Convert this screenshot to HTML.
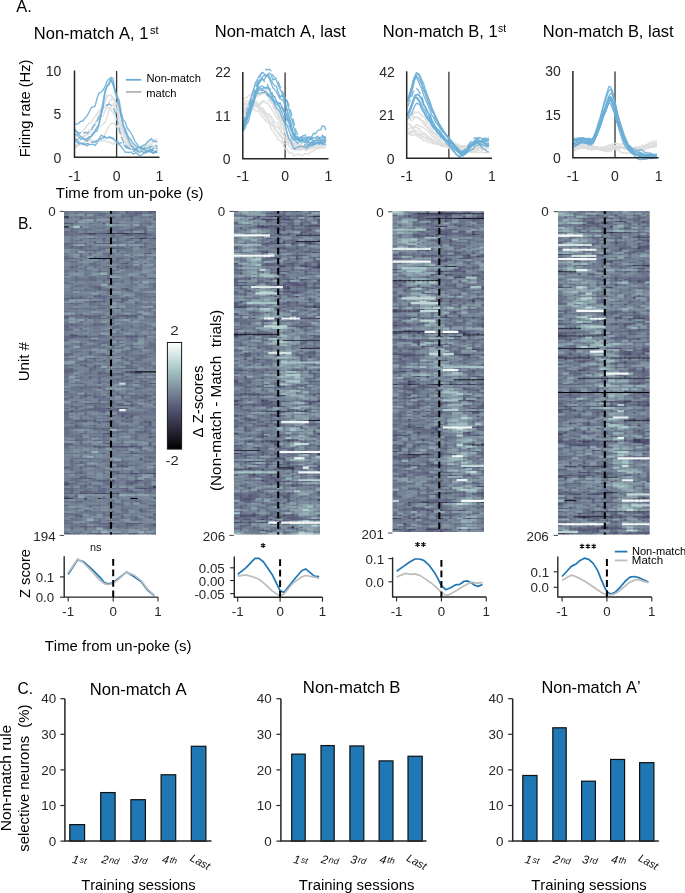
<!DOCTYPE html>
<html><head><meta charset="utf-8"><style>
html,body{margin:0;padding:0;background:#fff;overflow:hidden;}
svg{display:block;font-family:"Liberation Sans",sans-serif;font-kerning:none;will-change:transform;}
</style></head><body>
<svg width="685" height="893" viewBox="0 0 685 893">
<text transform="translate(16.17 11.60) scale(0.9964 1)" font-size="16.50" fill="#000">A.</text>
<text transform="translate(33.84 39.10) scale(1.0073 1)" font-size="16.40" fill="#000">Non-match A, 1</text>
<text transform="translate(150.09 33.80) scale(1.0515 1)" font-size="10.50" fill="#000">st</text>
<text transform="translate(214.74 36.80) scale(1.0080 1)" font-size="16.40" fill="#000">Non-match A, last</text>
<text transform="translate(382.84 37.00) scale(1.0090 1)" font-size="16.40" fill="#000">Non-match B, 1</text>
<text transform="translate(498.02 31.90) scale(0.9746 1)" font-size="10.50" fill="#000">st</text>
<text transform="translate(542.85 37.30) scale(1.0041 1)" font-size="16.40" fill="#000">Non-match B, last</text>
<text transform="translate(29.70 157.20) rotate(-90) scale(1.0310 1)" font-size="14.20" fill="#000">Firing rate (Hz)</text>
<text transform="translate(55.86 197.80) scale(1.0588 1)" font-size="14.20" fill="#000">Time from un-poke (s)</text>
<text transform="translate(45.77 75.89)" font-size="14.00" fill="#262626">10</text>
<text transform="translate(53.60 119.22)" font-size="14.00" fill="#262626">5</text>
<text transform="translate(53.56 162.69)" font-size="14.00" fill="#262626">0</text>
<text x="68.28" y="180.60" font-size="14.00" fill="#262626">-1</text>
<text x="112.71" y="180.60" font-size="14.00" fill="#262626">0</text>
<text x="155.61" y="180.60" font-size="14.00" fill="#262626">1</text>
<text transform="translate(215.13 77.29)" font-size="14.00" fill="#262626">22</text>
<text transform="translate(215.11 120.62)" font-size="14.00" fill="#262626">11</text>
<text transform="translate(222.76 164.09)" font-size="14.00" fill="#262626">0</text>
<text x="236.58" y="180.60" font-size="14.00" fill="#262626">-1</text>
<text x="281.21" y="180.60" font-size="14.00" fill="#262626">0</text>
<text x="324.61" y="180.60" font-size="14.00" fill="#262626">1</text>
<text transform="translate(379.13 76.59)" font-size="14.00" fill="#262626">42</text>
<text transform="translate(379.11 120.14)" font-size="14.00" fill="#262626">21</text>
<text transform="translate(386.76 163.69)" font-size="14.00" fill="#262626">0</text>
<text x="400.48" y="180.60" font-size="14.00" fill="#262626">-1</text>
<text x="445.01" y="180.60" font-size="14.00" fill="#262626">0</text>
<text x="488.11" y="180.60" font-size="14.00" fill="#262626">1</text>
<text transform="translate(545.17 76.39)" font-size="14.00" fill="#262626">30</text>
<text transform="translate(545.22 119.72)" font-size="14.00" fill="#262626">15</text>
<text transform="translate(552.96 163.19)" font-size="14.00" fill="#262626">0</text>
<text x="566.68" y="180.60" font-size="14.00" fill="#262626">-1</text>
<text x="611.11" y="180.60" font-size="14.00" fill="#262626">0</text>
<text x="654.71" y="180.60" font-size="14.00" fill="#262626">1</text>
<line x1="125.9" y1="79.8" x2="141.3" y2="79.8" stroke="#6baed6" stroke-width="1.8"/>
<line x1="125.9" y1="91.9" x2="141.3" y2="91.9" stroke="#b3b3b3" stroke-width="1.8"/>
<text transform="translate(146.39 81.80) scale(1.0231 1)" font-size="10.90" fill="#000">Non-match</text>
<text transform="translate(146.16 96.60) scale(1.0230 1)" font-size="10.90" fill="#000">match</text>
<line x1="116.6" y1="71.0" x2="116.6" y2="157.3" stroke="#333" stroke-width="1.3"/>
<line x1="285.1" y1="72.4" x2="285.1" y2="158.7" stroke="#333" stroke-width="1.3"/>
<line x1="448.9" y1="71.7" x2="448.9" y2="158.3" stroke="#333" stroke-width="1.3"/>
<line x1="615.0" y1="71.5" x2="615.0" y2="157.8" stroke="#333" stroke-width="1.3"/>
<path d="M74.85 139.90 76.87 139.53 78.88 138.43 80.89 137.30 82.91 137.04 84.92 135.46 86.93 134.72 88.94 134.18 90.96 130.86 92.97 126.73 94.98 123.63 97.00 119.49 99.01 115.26 101.02 110.37 103.03 107.09 105.05 102.50 107.06 95.43 109.07 95.67 111.08 95.14 113.10 99.30 115.11 103.54 117.12 110.92 119.14 116.77 121.15 124.36 123.16 130.30 125.17 136.05 127.19 138.44 129.20 144.12 131.21 148.36 133.23 150.51 135.24 151.16 137.25 152.69 139.26 150.26 141.28 148.39 143.29 147.93 145.30 144.37 147.31 143.00 149.33 142.70 151.34 140.61 153.35 140.14 155.37 139.46 157.38 138.56" fill="none" stroke="#dedede" stroke-width="1.50" stroke-linejoin="round" stroke-opacity="0.90"/>
<path d="M74.85 144.42 76.87 144.89 78.88 145.34 80.89 142.30 82.91 143.68 84.92 141.93 86.93 139.69 88.94 140.28 90.96 137.54 92.97 133.09 94.98 131.34 97.00 128.94 99.01 126.50 101.02 126.01 103.03 124.18 105.05 122.69 107.06 117.29 109.07 109.81 111.08 107.19 113.10 103.69 115.11 108.87 117.12 112.48 119.14 119.66 121.15 126.69 123.16 132.22 125.17 136.85 127.19 139.22 129.20 143.15 131.21 146.76 133.23 146.98 135.24 150.60 137.25 150.57 139.26 151.36 141.28 150.55 143.29 149.37 145.30 148.76 147.31 148.25 149.33 149.13 151.34 146.90 153.35 146.40 155.37 146.34 157.38 145.34" fill="none" stroke="#dedede" stroke-width="1.50" stroke-linejoin="round" stroke-opacity="0.90"/>
<path d="M74.85 148.05 76.87 145.74 78.88 145.11 80.89 143.20 82.91 142.99 84.92 141.65 86.93 140.75 88.94 140.99 90.96 139.82 92.97 140.90 94.98 140.36 97.00 141.18 99.01 139.96 101.02 141.66 103.03 140.30 105.05 140.34 107.06 142.12 109.07 141.92 111.08 142.81 113.10 144.54 115.11 141.98 117.12 142.69 119.14 144.19 121.15 145.23 123.16 145.53 125.17 146.51 127.19 148.27 129.20 149.12 131.21 148.71 133.23 149.17 135.24 148.93 137.25 147.69 139.26 148.45 141.28 146.86 143.29 147.71 145.30 146.39 147.31 145.64 149.33 144.48 151.34 144.30 153.35 142.16 155.37 142.30 157.38 142.97" fill="none" stroke="#dedede" stroke-width="1.50" stroke-linejoin="round" stroke-opacity="0.90"/>
<path d="M74.85 140.90 76.87 141.95 78.88 138.38 80.89 139.04 82.91 136.28 84.92 136.21 86.93 134.07 88.94 130.00 90.96 129.64 92.97 127.11 94.98 123.18 97.00 120.99 99.01 119.08 101.02 116.39 103.03 116.10 105.05 110.96 107.06 107.34 109.07 102.70 111.08 99.68 113.10 97.12 115.11 100.13 117.12 104.99 119.14 111.96 121.15 117.21 123.16 122.66 125.17 129.00 127.19 133.48 129.20 138.38 131.21 142.49 133.23 145.66 135.24 145.91 137.25 147.54 139.26 150.73 141.28 149.95 143.29 149.90 145.30 150.69 147.31 151.22 149.33 148.47 151.34 149.14 153.35 148.42 155.37 147.12 157.38 148.83" fill="none" stroke="#dedede" stroke-width="1.50" stroke-linejoin="round" stroke-opacity="0.90"/>
<path d="M74.85 137.10 76.87 135.63 78.88 133.40 80.89 132.86 82.91 130.48 84.92 128.84 86.93 125.69 88.94 123.26 90.96 123.03 92.97 118.97 94.98 116.81 97.00 113.73 99.01 110.57 101.02 109.21 103.03 108.95 105.05 106.97 107.06 106.98 109.07 108.13 111.08 110.10 113.10 112.93 115.11 116.70 117.12 119.94 119.14 124.28 121.15 131.25 123.16 135.88 125.17 138.18 127.19 141.97 129.20 145.39 131.21 147.18 133.23 148.60 135.24 148.80 137.25 151.78 139.26 149.58 141.28 150.76 143.29 149.88 145.30 149.62 147.31 149.88 149.33 149.22 151.34 146.74 153.35 146.00 155.37 147.80 157.38 145.99" fill="none" stroke="#dedede" stroke-width="1.50" stroke-linejoin="round" stroke-opacity="0.90"/>
<path d="M74.85 146.82 76.87 146.99 78.88 144.39 80.89 143.46 82.91 144.90 84.92 144.18 86.93 143.61 88.94 143.56 90.96 142.53 92.97 141.70 94.98 142.52 97.00 140.51 99.01 138.61 101.02 139.05 103.03 137.24 105.05 134.29 107.06 129.51 109.07 126.16 111.08 123.52 113.10 122.94 115.11 124.63 117.12 127.17 119.14 131.55 121.15 135.16 123.16 140.18 125.17 140.96 127.19 145.12 129.20 146.32 131.21 148.39 133.23 149.21 135.24 150.79 137.25 152.04 139.26 151.61 141.28 151.99 143.29 151.94 145.30 153.25 147.31 151.82 149.33 149.56 151.34 150.37 153.35 148.86 155.37 147.35 157.38 149.16" fill="none" stroke="#dedede" stroke-width="1.50" stroke-linejoin="round" stroke-opacity="0.90"/>
<path d="M74.85 124.36 76.87 124.10 78.88 123.11 80.89 121.29 82.91 121.00 84.92 118.17 86.93 116.07 88.94 112.69 90.96 107.94 92.97 106.98 94.98 106.31 97.00 98.48 99.01 93.06 101.02 92.17 103.03 89.96 105.05 86.61 107.06 81.10 109.07 78.82 111.08 77.44 113.10 78.48 115.11 91.83 117.12 96.64 119.14 100.40 121.15 111.90 123.16 119.85 125.17 121.86 127.19 128.05 129.20 130.47 131.21 133.50 133.23 137.56 135.24 141.83 137.25 144.36 139.26 146.84 141.28 146.75 143.29 145.12 145.30 145.02 147.31 141.78 149.33 140.41 151.34 138.47 153.35 141.49 155.37 141.19 157.38 141.35" fill="none" stroke="#6baed6" stroke-width="1.35" stroke-linejoin="round" stroke-opacity="0.90"/>
<path d="M74.85 129.36 76.87 131.58 78.88 134.35 80.89 136.64 82.91 137.86 84.92 139.08 86.93 140.94 88.94 138.63 90.96 136.61 92.97 134.28 94.98 131.72 97.00 131.06 99.01 124.15 101.02 115.73 103.03 107.34 105.05 93.37 107.06 86.14 109.07 84.67 111.08 79.59 113.10 84.63 115.11 92.21 117.12 99.19 119.14 105.47 121.15 116.66 123.16 125.18 125.17 132.17 127.19 136.32 129.20 141.80 131.21 145.60 133.23 147.09 135.24 148.80 137.25 150.96 139.26 152.31 141.28 151.23 143.29 152.11 145.30 153.06 147.31 150.84 149.33 151.30 151.34 151.17 153.35 152.88 155.37 152.15 157.38 152.84" fill="none" stroke="#6baed6" stroke-width="1.35" stroke-linejoin="round" stroke-opacity="0.90"/>
<path d="M74.85 139.57 76.87 139.10 78.88 142.09 80.89 143.80 82.91 143.43 84.92 144.28 86.93 146.05 88.94 144.68 90.96 144.55 92.97 144.12 94.98 145.45 97.00 143.12 99.01 139.17 101.02 135.20 103.03 136.28 105.05 137.58 107.06 138.25 109.07 136.83 111.08 137.33 113.10 139.07 115.11 140.37 117.12 142.60 119.14 144.82 121.15 146.59 123.16 149.09 125.17 152.24 127.19 152.17 129.20 152.53 131.21 151.88 133.23 154.25 135.24 152.71 137.25 153.56 139.26 155.85 141.28 155.10 143.29 153.71 145.30 151.74 147.31 152.19 149.33 151.58 151.34 152.38 153.35 153.45 155.37 151.46 157.38 150.34" fill="none" stroke="#6baed6" stroke-width="1.35" stroke-linejoin="round" stroke-opacity="0.90"/>
<path d="M74.85 130.60 76.87 132.26 78.88 132.89 80.89 132.81 82.91 134.23 84.92 132.17 86.93 133.05 88.94 132.00 90.96 130.88 92.97 126.76 94.98 124.77 97.00 121.41 99.01 116.98 101.02 111.99 103.03 106.16 105.05 104.53 107.06 105.38 109.07 103.83 111.08 105.51 113.10 107.78 115.11 112.21 117.12 119.71 119.14 128.54 121.15 136.77 123.16 141.11 125.17 146.98 127.19 148.03 129.20 148.05 131.21 149.50 133.23 151.43 135.24 150.57 137.25 148.03 139.26 150.16 141.28 148.96 143.29 149.34 145.30 147.90 147.31 147.97 149.33 147.28 151.34 150.33 153.35 148.07 155.37 149.54 157.38 147.68" fill="none" stroke="#6baed6" stroke-width="1.35" stroke-linejoin="round" stroke-opacity="0.90" stroke-dasharray="7 3"/>
<path d="M74.85 134.48 76.87 134.42 78.88 136.96 80.89 139.56 82.91 138.71 84.92 139.98 86.93 138.69 88.94 136.87 90.96 136.48 92.97 133.49 94.98 130.81 97.00 127.39 99.01 124.13 101.02 113.49 103.03 101.32 105.05 90.62 107.06 86.02 109.07 82.60 111.08 78.67 113.10 84.48 115.11 90.00 117.12 96.44 119.14 106.63 121.15 115.26 123.16 125.64 125.17 128.78 127.19 134.78 129.20 138.07 131.21 140.05 133.23 143.58 135.24 145.34 137.25 146.98 139.26 147.44 141.28 147.58 143.29 149.41 145.30 150.01 147.31 151.16 149.33 150.01 151.34 151.14 153.35 150.14 155.37 152.52 157.38 151.48" fill="none" stroke="#6baed6" stroke-width="1.35" stroke-linejoin="round" stroke-opacity="0.90"/>
<path d="M74.85 139.78 76.87 142.16 78.88 144.06 80.89 142.80 82.91 144.09 84.92 144.48 86.93 143.48 88.94 144.07 90.96 142.41 92.97 141.81 94.98 142.23 97.00 140.44 99.01 140.76 101.02 138.88 103.03 137.88 105.05 136.56 107.06 138.83 109.07 137.18 111.08 138.05 113.10 138.23 115.11 139.19 117.12 140.61 119.14 143.66 121.15 142.62 123.16 143.53 125.17 145.32 127.19 146.40 129.20 149.16 131.21 149.89 133.23 149.08 135.24 149.39 137.25 150.47 139.26 151.25 141.28 147.08 143.29 149.19 145.30 147.23 147.31 148.55 149.33 146.34 151.34 146.55 153.35 145.08 155.37 145.08 157.38 146.60" fill="none" stroke="#6baed6" stroke-width="1.35" stroke-linejoin="round" stroke-opacity="0.90" stroke-dasharray="7 3"/>
<path d="M242.77 105.07 244.54 104.97 246.32 103.87 248.09 104.04 249.86 103.48 251.63 100.41 253.40 98.67 255.17 98.23 256.94 96.58 258.71 95.26 260.48 94.91 262.25 93.07 264.02 94.08 265.79 93.96 267.56 95.89 269.33 97.63 271.10 100.48 272.87 103.64 274.64 107.81 276.42 111.25 278.19 115.51 279.96 118.90 281.73 121.59 283.50 127.18 285.27 130.59 287.04 136.39 288.81 140.82 290.58 141.31 292.35 145.64 294.12 147.38 295.89 147.49 297.66 147.64 299.43 147.91 301.20 146.96 302.97 147.21 304.74 146.48 306.52 146.60 308.29 144.81 310.06 145.69 311.83 145.06 313.60 144.16 315.37 143.23 317.14 143.52 318.91 140.56 320.68 141.77 322.45 140.70 324.22 139.89 325.99 139.34" fill="none" stroke="#dedede" stroke-width="1.50" stroke-linejoin="round" stroke-opacity="0.90"/>
<path d="M242.77 104.98 244.54 103.22 246.32 100.47 248.09 101.88 249.86 99.81 251.63 96.48 253.40 98.30 255.17 95.47 256.94 94.65 258.71 94.23 260.48 94.75 262.25 91.66 264.02 91.00 265.79 92.43 267.56 93.54 269.33 93.65 271.10 96.80 272.87 99.11 274.64 103.02 276.42 107.79 278.19 111.13 279.96 114.31 281.73 119.10 283.50 121.50 285.27 126.94 287.04 132.91 288.81 137.09 290.58 139.50 292.35 140.77 294.12 142.49 295.89 144.16 297.66 143.86 299.43 144.13 301.20 146.44 302.97 145.89 304.74 146.30 306.52 144.34 308.29 145.61 310.06 145.20 311.83 144.52 313.60 142.64 315.37 143.95 317.14 144.57 318.91 143.34 320.68 141.60 322.45 141.38 324.22 141.34 325.99 137.29" fill="none" stroke="#dedede" stroke-width="1.50" stroke-linejoin="round" stroke-opacity="0.90"/>
<path d="M242.77 108.84 244.54 109.02 246.32 109.34 248.09 109.77 249.86 107.12 251.63 106.63 253.40 106.27 255.17 106.79 256.94 104.86 258.71 105.72 260.48 102.33 262.25 101.70 264.02 100.24 265.79 100.50 267.56 101.31 269.33 99.98 271.10 102.87 272.87 106.97 274.64 108.89 276.42 111.20 278.19 116.93 279.96 119.65 281.73 123.22 283.50 126.08 285.27 131.75 287.04 135.30 288.81 141.28 290.58 142.16 292.35 144.16 294.12 147.29 295.89 147.42 297.66 149.19 299.43 149.22 301.20 147.99 302.97 148.56 304.74 147.71 306.52 148.46 308.29 146.44 310.06 146.16 311.83 147.37 313.60 147.91 315.37 147.16 317.14 144.76 318.91 144.29 320.68 144.85 322.45 142.50 324.22 140.94 325.99 141.26" fill="none" stroke="#dedede" stroke-width="1.50" stroke-linejoin="round" stroke-opacity="0.90" stroke-dasharray="7 3"/>
<path d="M242.77 99.96 244.54 98.16 246.32 98.09 248.09 95.87 249.86 95.50 251.63 93.98 253.40 95.20 255.17 93.20 256.94 91.63 258.71 90.98 260.48 90.16 262.25 90.21 264.02 87.78 265.79 89.45 267.56 92.01 269.33 97.80 271.10 100.10 272.87 102.88 274.64 107.74 276.42 113.14 278.19 114.27 279.96 117.77 281.73 123.23 283.50 126.83 285.27 131.92 287.04 135.73 288.81 141.38 290.58 143.12 292.35 143.95 294.12 145.47 295.89 143.46 297.66 146.68 299.43 146.08 301.20 146.44 302.97 146.37 304.74 145.04 306.52 143.35 308.29 144.95 310.06 143.45 311.83 143.32 313.60 142.46 315.37 142.11 317.14 139.51 318.91 142.13 320.68 140.36 322.45 140.35 324.22 140.36 325.99 138.10" fill="none" stroke="#dedede" stroke-width="1.50" stroke-linejoin="round" stroke-opacity="0.90"/>
<path d="M242.77 109.49 244.54 108.50 246.32 107.71 248.09 107.35 249.86 106.31 251.63 105.65 253.40 104.02 255.17 105.03 256.94 106.26 258.71 105.67 260.48 104.10 262.25 102.49 264.02 100.71 265.79 103.44 267.56 103.29 269.33 105.50 271.10 108.16 272.87 111.41 274.64 113.99 276.42 117.46 278.19 119.05 279.96 122.54 281.73 128.17 283.50 129.25 285.27 132.98 287.04 137.61 288.81 140.20 290.58 139.82 292.35 142.08 294.12 144.62 295.89 145.00 297.66 145.87 299.43 147.89 301.20 145.99 302.97 146.97 304.74 146.58 306.52 148.70 308.29 145.51 310.06 146.47 311.83 145.59 313.60 145.68 315.37 144.55 317.14 144.16 318.91 140.04 320.68 141.02 322.45 138.74 324.22 137.11 325.99 137.44" fill="none" stroke="#dedede" stroke-width="1.50" stroke-linejoin="round" stroke-opacity="0.90"/>
<path d="M242.77 112.14 244.54 108.25 246.32 106.65 248.09 104.73 249.86 102.76 251.63 103.40 253.40 103.29 255.17 103.53 256.94 107.67 258.71 108.42 260.48 110.73 262.25 112.55 264.02 115.12 265.79 116.61 267.56 119.88 269.33 121.40 271.10 123.89 272.87 126.43 274.64 127.14 276.42 130.92 278.19 133.40 279.96 136.42 281.73 137.46 283.50 142.94 285.27 143.76 287.04 144.17 288.81 145.34 290.58 148.13 292.35 149.10 294.12 148.90 295.89 150.03 297.66 149.48 299.43 150.31 301.20 148.69 302.97 148.97 304.74 149.60 306.52 150.82 308.29 147.02 310.06 147.37 311.83 147.04 313.60 148.69 315.37 146.92 317.14 147.68 318.91 148.23 320.68 147.41 322.45 147.54 324.22 148.19 325.99 146.95" fill="none" stroke="#dedede" stroke-width="1.50" stroke-linejoin="round" stroke-opacity="0.90"/>
<path d="M242.77 111.64 244.54 108.23 246.32 107.08 248.09 103.51 249.86 101.22 251.63 99.97 253.40 101.21 255.17 101.26 256.94 104.11 258.71 104.46 260.48 107.58 262.25 107.70 264.02 109.74 265.79 113.91 267.56 113.85 269.33 114.27 271.10 116.54 272.87 119.06 274.64 122.03 276.42 122.65 278.19 124.32 279.96 128.63 281.73 131.80 283.50 134.78 285.27 138.83 287.04 140.50 288.81 142.91 290.58 142.92 292.35 146.47 294.12 148.57 295.89 148.03 297.66 148.27 299.43 148.72 301.20 150.31 302.97 147.60 304.74 148.33 306.52 148.83 308.29 149.10 310.06 147.79 311.83 148.11 313.60 147.14 315.37 147.16 317.14 146.60 318.91 145.30 320.68 146.07 322.45 146.63 324.22 144.52 325.99 144.97" fill="none" stroke="#dedede" stroke-width="1.50" stroke-linejoin="round" stroke-opacity="0.90"/>
<path d="M242.77 119.07 244.54 116.02 246.32 113.55 248.09 113.00 249.86 108.58 251.63 109.28 253.40 108.06 255.17 110.58 256.94 110.76 258.71 111.30 260.48 114.13 262.25 116.86 264.02 118.46 265.79 121.18 267.56 122.48 269.33 123.29 271.10 128.84 272.87 131.35 274.64 133.52 276.42 136.09 278.19 139.47 279.96 140.45 281.73 142.64 283.50 145.58 285.27 149.35 287.04 148.75 288.81 152.86 290.58 152.67 292.35 153.31 294.12 156.00 295.89 154.94 297.66 154.04 299.43 154.81 301.20 155.67 302.97 155.51 304.74 153.52 306.52 153.95 308.29 153.89 310.06 152.00 311.83 152.10 313.60 150.85 315.37 149.54 317.14 148.78 318.91 148.51 320.68 147.67 322.45 146.28 324.22 145.61 325.99 146.44" fill="none" stroke="#dedede" stroke-width="1.50" stroke-linejoin="round" stroke-opacity="0.90"/>
<path d="M242.77 117.95 244.54 116.54 246.32 110.35 248.09 108.67 249.86 108.00 251.63 106.41 253.40 104.71 255.17 103.41 256.94 105.22 258.71 107.23 260.48 108.70 262.25 112.20 264.02 111.43 265.79 116.67 267.56 117.47 269.33 121.83 271.10 123.18 272.87 125.27 274.64 129.42 276.42 130.84 278.19 132.49 279.96 133.50 281.73 136.65 283.50 138.81 285.27 140.97 287.04 141.49 288.81 143.88 290.58 143.58 292.35 144.14 294.12 146.06 295.89 147.48 297.66 146.95 299.43 147.88 301.20 148.48 302.97 148.80 304.74 147.89 306.52 149.80 308.29 148.48 310.06 149.12 311.83 147.24 313.60 147.76 315.37 147.18 317.14 145.81 318.91 147.63 320.68 145.48 322.45 146.30 324.22 144.96 325.99 142.84" fill="none" stroke="#dedede" stroke-width="1.50" stroke-linejoin="round" stroke-opacity="0.90"/>
<path d="M242.77 113.83 244.54 110.97 246.32 108.51 248.09 106.53 249.86 105.16 251.63 101.99 253.40 100.20 255.17 101.22 256.94 101.99 258.71 105.00 260.48 109.40 262.25 108.71 264.02 112.25 265.79 112.17 267.56 115.67 269.33 116.95 271.10 119.20 272.87 122.10 274.64 125.63 276.42 126.42 278.19 128.41 279.96 129.41 281.73 132.98 283.50 134.23 285.27 137.34 287.04 138.54 288.81 141.67 290.58 139.14 292.35 141.86 294.12 144.10 295.89 143.78 297.66 144.17 299.43 145.49 301.20 144.72 302.97 146.23 304.74 148.51 306.52 147.27 308.29 145.16 310.06 145.10 311.83 144.70 313.60 145.21 315.37 142.59 317.14 141.93 318.91 142.68 320.68 141.89 322.45 139.91 324.22 138.41 325.99 137.21" fill="none" stroke="#dedede" stroke-width="1.50" stroke-linejoin="round" stroke-opacity="0.90"/>
<path d="M242.77 129.49 244.54 125.34 246.32 118.14 248.09 112.69 249.86 108.41 251.63 101.54 253.40 100.42 255.17 91.85 256.94 90.57 258.71 90.30 260.48 89.94 262.25 90.38 264.02 90.55 265.79 91.70 267.56 95.62 269.33 94.36 271.10 99.00 272.87 100.58 274.64 104.54 276.42 107.85 278.19 109.26 279.96 111.91 281.73 116.71 283.50 120.65 285.27 124.58 287.04 132.81 288.81 138.76 290.58 140.61 292.35 145.75 294.12 149.41 295.89 147.78 297.66 147.19 299.43 146.59 301.20 146.03 302.97 146.62 304.74 146.74 306.52 148.40 308.29 146.75 310.06 145.98 311.83 144.19 313.60 144.63 315.37 142.90 317.14 142.93 318.91 143.77 320.68 142.58 322.45 142.30 324.22 141.56 325.99 140.62" fill="none" stroke="#6baed6" stroke-width="1.35" stroke-linejoin="round" stroke-opacity="0.90"/>
<path d="M242.77 126.72 244.54 122.91 246.32 116.91 248.09 112.90 249.86 104.21 251.63 96.00 253.40 91.15 255.17 83.46 256.94 80.25 258.71 76.74 260.48 74.58 262.25 72.43 264.02 73.24 265.79 76.40 267.56 75.78 269.33 78.57 271.10 83.07 272.87 87.80 274.64 89.64 276.42 91.71 278.19 95.24 279.96 98.58 281.73 99.43 283.50 101.38 285.27 106.58 287.04 110.72 288.81 117.39 290.58 123.46 292.35 132.48 294.12 134.71 295.89 137.38 297.66 138.25 299.43 139.00 301.20 139.68 302.97 137.76 304.74 137.35 306.52 136.97 308.29 138.34 310.06 140.03 311.83 139.10 313.60 137.55 315.37 137.98 317.14 138.27 318.91 138.65 320.68 137.43 322.45 138.10 324.22 136.66 325.99 137.64" fill="none" stroke="#6baed6" stroke-width="1.35" stroke-linejoin="round" stroke-opacity="0.90"/>
<path d="M242.77 125.73 244.54 119.80 246.32 117.14 248.09 111.63 249.86 107.25 251.63 103.39 253.40 99.79 255.17 96.31 256.94 92.48 258.71 93.32 260.48 93.12 262.25 92.63 264.02 92.51 265.79 91.97 267.56 93.90 269.33 96.95 271.10 96.34 272.87 100.01 274.64 101.73 276.42 104.69 278.19 105.38 279.96 108.20 281.73 111.87 283.50 116.79 285.27 121.50 287.04 125.06 288.81 130.10 290.58 134.95 292.35 139.16 294.12 139.89 295.89 141.53 297.66 143.22 299.43 141.51 301.20 140.08 302.97 141.38 304.74 141.59 306.52 142.49 308.29 145.29 310.06 143.86 311.83 141.60 313.60 143.81 315.37 144.31 317.14 142.38 318.91 142.14 320.68 142.71 322.45 143.60 324.22 144.06 325.99 144.68" fill="none" stroke="#6baed6" stroke-width="1.35" stroke-linejoin="round" stroke-opacity="0.90"/>
<path d="M242.77 131.22 244.54 129.32 246.32 124.29 248.09 122.43 249.86 115.94 251.63 109.23 253.40 103.81 255.17 97.75 256.94 90.82 258.71 82.65 260.48 79.56 262.25 77.05 264.02 75.29 265.79 75.51 267.56 75.73 269.33 73.18 271.10 74.30 272.87 79.93 274.64 79.13 276.42 80.30 278.19 85.03 279.96 89.22 281.73 91.88 283.50 96.49 285.27 97.96 287.04 101.87 288.81 108.93 290.58 115.95 292.35 120.84 294.12 128.84 295.89 135.28 297.66 140.83 299.43 138.33 301.20 141.07 302.97 139.85 304.74 139.88 306.52 140.99 308.29 142.00 310.06 143.27 311.83 142.35 313.60 140.68 315.37 140.12 317.14 140.71 318.91 140.38 320.68 140.88 322.45 139.47 324.22 140.23 325.99 140.77" fill="none" stroke="#6baed6" stroke-width="1.35" stroke-linejoin="round" stroke-opacity="0.90"/>
<path d="M242.77 123.80 244.54 118.91 246.32 112.58 248.09 106.89 249.86 101.63 251.63 96.15 253.40 89.95 255.17 85.98 256.94 83.70 258.71 78.12 260.48 80.21 262.25 79.27 264.02 81.01 265.79 82.67 267.56 84.73 269.33 88.91 271.10 89.41 272.87 95.44 274.64 96.92 276.42 102.10 278.19 104.12 279.96 102.75 281.73 106.56 283.50 110.80 285.27 116.68 287.04 120.11 288.81 125.05 290.58 128.77 292.35 137.08 294.12 139.75 295.89 139.42 297.66 139.97 299.43 139.18 301.20 142.51 302.97 145.18 304.74 144.18 306.52 146.09 308.29 146.05 310.06 144.20 311.83 146.20 313.60 142.85 315.37 143.60 317.14 143.78 318.91 144.18 320.68 143.70 322.45 143.70 324.22 142.43 325.99 141.67" fill="none" stroke="#6baed6" stroke-width="1.35" stroke-linejoin="round" stroke-opacity="0.90" stroke-dasharray="7 3"/>
<path d="M242.77 127.07 244.54 123.86 246.32 121.64 248.09 113.04 249.86 109.00 251.63 105.81 253.40 99.61 255.17 95.07 256.94 93.35 258.71 88.28 260.48 86.39 262.25 85.95 264.02 87.66 265.79 87.59 267.56 86.93 269.33 89.68 271.10 93.73 272.87 96.02 274.64 96.96 276.42 101.08 278.19 103.64 279.96 103.17 281.73 106.49 283.50 109.61 285.27 112.07 287.04 114.69 288.81 121.33 290.58 127.40 292.35 133.68 294.12 133.18 295.89 140.10 297.66 136.72 299.43 139.40 301.20 139.94 302.97 139.80 304.74 139.32 306.52 138.66 308.29 141.27 310.06 139.76 311.83 137.31 313.60 142.82 315.37 140.15 317.14 141.12 318.91 137.85 320.68 140.46 322.45 140.70 324.22 140.77 325.99 139.03" fill="none" stroke="#6baed6" stroke-width="1.35" stroke-linejoin="round" stroke-opacity="0.90"/>
<path d="M242.77 128.60 244.54 124.61 246.32 119.70 248.09 116.78 249.86 109.82 251.63 105.56 253.40 102.19 255.17 95.18 256.94 92.43 258.71 87.79 260.48 88.05 262.25 89.73 264.02 87.16 265.79 88.48 267.56 87.77 269.33 89.95 271.10 92.51 272.87 98.02 274.64 101.49 276.42 101.99 278.19 103.30 279.96 107.40 281.73 108.04 283.50 111.14 285.27 113.63 287.04 117.79 288.81 122.72 290.58 126.08 292.35 131.49 294.12 135.39 295.89 138.77 297.66 138.89 299.43 140.77 301.20 140.28 302.97 141.67 304.74 142.36 306.52 141.08 308.29 142.64 310.06 142.84 311.83 144.36 313.60 145.08 315.37 143.85 317.14 142.35 318.91 144.20 320.68 140.82 322.45 144.36 324.22 142.16 325.99 139.98" fill="none" stroke="#6baed6" stroke-width="1.35" stroke-linejoin="round" stroke-opacity="0.90"/>
<path d="M242.77 122.80 244.54 122.84 246.32 120.81 248.09 115.39 249.86 112.78 251.63 103.44 253.40 98.42 255.17 89.90 256.94 84.53 258.71 82.23 260.48 74.62 262.25 73.08 264.02 71.25 265.79 69.48 267.56 69.77 269.33 69.17 271.10 70.98 272.87 75.07 274.64 77.61 276.42 78.78 278.19 81.27 279.96 86.28 281.73 89.79 283.50 94.15 285.27 98.65 287.04 100.52 288.81 105.03 290.58 111.20 292.35 116.93 294.12 123.55 295.89 130.53 297.66 134.42 299.43 135.66 301.20 137.13 302.97 135.73 304.74 135.61 306.52 134.05 308.29 137.36 310.06 136.84 311.83 138.99 313.60 137.83 315.37 138.33 317.14 136.18 318.91 137.18 320.68 139.36 322.45 135.02 324.22 138.04 325.99 139.07" fill="none" stroke="#6baed6" stroke-width="1.35" stroke-linejoin="round" stroke-opacity="0.90" stroke-dasharray="7 3"/>
<path d="M242.77 130.54 244.54 126.69 246.32 122.99 248.09 116.08 249.86 111.09 251.63 104.10 253.40 98.36 255.17 92.51 256.94 88.13 258.71 83.66 260.48 81.32 262.25 78.55 264.02 79.97 265.79 76.90 267.56 74.18 269.33 76.20 271.10 79.97 272.87 83.41 274.64 85.65 276.42 86.47 278.19 92.07 279.96 97.47 281.73 94.94 283.50 98.55 285.27 102.14 287.04 108.82 288.81 116.61 290.58 120.92 292.35 129.43 294.12 138.39 295.89 137.85 297.66 137.89 299.43 137.75 301.20 136.86 302.97 139.74 304.74 138.83 306.52 140.20 308.29 137.79 310.06 138.55 311.83 136.56 313.60 133.11 315.37 133.87 317.14 131.19 318.91 129.95 320.68 129.88 322.45 125.84 324.22 126.12 325.99 130.03" fill="none" stroke="#6baed6" stroke-width="1.35" stroke-linejoin="round" stroke-opacity="0.90"/>
<path d="M407.85 124.32 409.58 123.90 411.31 125.61 413.03 129.07 414.76 126.75 416.49 124.79 418.21 124.98 419.94 126.30 421.66 126.98 423.39 127.67 425.12 128.84 426.84 130.93 428.57 131.65 430.30 133.56 432.02 136.45 433.75 136.99 435.48 138.58 437.20 140.17 438.93 140.95 440.65 141.72 442.38 144.16 444.11 144.56 445.83 145.21 447.56 146.86 449.29 147.62 451.01 147.84 452.74 149.32 454.47 150.12 456.19 150.04 457.92 151.66 459.64 152.10 461.37 152.23 463.10 151.61 464.82 152.42 466.55 152.67 468.28 152.43 470.00 151.21 471.73 151.70 473.45 150.06 475.18 150.02 476.91 150.34 478.63 148.65 480.36 148.20 482.09 148.48 483.81 146.97 485.54 146.34 487.27 145.96 488.99 145.76" fill="none" stroke="#dedede" stroke-width="1.50" stroke-linejoin="round" stroke-opacity="0.90"/>
<path d="M407.85 114.38 409.58 117.45 411.31 117.47 413.03 116.73 414.76 117.12 416.49 117.11 418.21 117.82 419.94 119.73 421.66 121.06 423.39 123.55 425.12 125.75 426.84 126.69 428.57 128.93 430.30 131.28 432.02 131.61 433.75 133.17 435.48 133.64 437.20 134.92 438.93 136.26 440.65 138.91 442.38 138.58 444.11 139.47 445.83 140.24 447.56 141.20 449.29 142.39 451.01 142.87 452.74 144.64 454.47 144.36 456.19 145.78 457.92 145.91 459.64 146.67 461.37 146.03 463.10 147.25 464.82 147.51 466.55 147.29 468.28 145.99 470.00 147.44 471.73 146.56 473.45 146.19 475.18 145.60 476.91 144.93 478.63 144.53 480.36 142.78 482.09 142.12 483.81 141.95 485.54 141.02 487.27 139.88 488.99 139.21" fill="none" stroke="#dedede" stroke-width="1.50" stroke-linejoin="round" stroke-opacity="0.90"/>
<path d="M407.85 116.01 409.58 118.31 411.31 120.84 413.03 119.50 414.76 117.74 416.49 117.29 418.21 118.31 419.94 117.87 421.66 120.63 423.39 120.88 425.12 123.38 426.84 126.10 428.57 128.27 430.30 130.72 432.02 132.94 433.75 135.32 435.48 137.48 437.20 139.29 438.93 140.25 440.65 142.02 442.38 142.91 444.11 144.62 445.83 143.92 447.56 146.32 449.29 145.95 451.01 146.36 452.74 147.56 454.47 148.53 456.19 148.73 457.92 149.55 459.64 149.07 461.37 149.52 463.10 149.38 464.82 148.46 466.55 148.65 468.28 147.02 470.00 146.07 471.73 144.60 473.45 144.43 475.18 144.97 476.91 143.75 478.63 144.79 480.36 144.46 482.09 144.21 483.81 142.62 485.54 143.57 487.27 143.77 488.99 142.79" fill="none" stroke="#dedede" stroke-width="1.50" stroke-linejoin="round" stroke-opacity="0.90"/>
<path d="M407.85 129.10 409.58 128.39 411.31 127.24 413.03 128.09 414.76 126.63 416.49 127.37 418.21 128.54 419.94 129.24 421.66 131.59 423.39 133.01 425.12 133.24 426.84 134.55 428.57 137.81 430.30 139.14 432.02 140.27 433.75 141.75 435.48 141.92 437.20 143.60 438.93 144.22 440.65 145.26 442.38 146.65 444.11 145.64 445.83 147.15 447.56 145.79 449.29 145.26 451.01 145.93 452.74 146.36 454.47 145.50 456.19 144.26 457.92 145.75 459.64 147.13 461.37 146.92 463.10 147.38 464.82 148.69 466.55 148.44 468.28 147.98 470.00 148.66 471.73 148.81 473.45 149.40 475.18 148.76 476.91 148.75 478.63 147.86 480.36 145.93 482.09 146.36 483.81 145.96 485.54 145.05 487.27 144.92 488.99 143.80" fill="none" stroke="#dedede" stroke-width="1.50" stroke-linejoin="round" stroke-opacity="0.90"/>
<path d="M407.85 109.12 409.58 110.19 411.31 113.47 413.03 114.94 414.76 111.89 416.49 112.60 418.21 111.89 419.94 113.01 421.66 115.32 423.39 116.57 425.12 118.11 426.84 122.79 428.57 124.09 430.30 127.50 432.02 130.05 433.75 132.86 435.48 133.84 437.20 136.67 438.93 137.72 440.65 140.52 442.38 140.18 444.11 141.11 445.83 142.96 447.56 142.47 449.29 142.68 451.01 144.18 452.74 143.45 454.47 143.12 456.19 144.29 457.92 144.01 459.64 146.03 461.37 146.49 463.10 145.81 464.82 146.09 466.55 146.63 468.28 146.23 470.00 145.20 471.73 145.58 473.45 143.55 475.18 143.72 476.91 143.05 478.63 142.44 480.36 142.04 482.09 140.38 483.81 140.54 485.54 139.26 487.27 138.15 488.99 136.90" fill="none" stroke="#dedede" stroke-width="1.50" stroke-linejoin="round" stroke-opacity="0.90"/>
<path d="M407.85 132.63 409.58 133.51 411.31 132.67 413.03 132.67 414.76 132.01 416.49 133.39 418.21 134.12 419.94 134.98 421.66 135.78 423.39 136.65 425.12 137.47 426.84 138.38 428.57 139.69 430.30 139.68 432.02 141.74 433.75 141.52 435.48 142.94 437.20 143.15 438.93 143.87 440.65 145.88 442.38 145.12 444.11 145.12 445.83 145.96 447.56 146.72 449.29 148.62 451.01 148.08 452.74 149.02 454.47 148.29 456.19 149.31 457.92 149.87 459.64 150.91 461.37 149.93 463.10 151.01 464.82 151.19 466.55 150.79 468.28 151.69 470.00 151.90 471.73 151.10 473.45 152.71 475.18 152.21 476.91 151.17 478.63 150.18 480.36 151.25 482.09 150.08 483.81 150.00 485.54 149.73 487.27 148.16 488.99 148.41" fill="none" stroke="#dedede" stroke-width="1.50" stroke-linejoin="round" stroke-opacity="0.90"/>
<path d="M407.85 132.92 409.58 131.45 411.31 130.87 413.03 130.35 414.76 129.91 416.49 130.91 418.21 131.40 419.94 133.60 421.66 133.98 423.39 134.25 425.12 134.89 426.84 137.16 428.57 137.11 430.30 137.79 432.02 138.91 433.75 139.82 435.48 141.34 437.20 141.46 438.93 143.54 440.65 142.68 442.38 143.90 444.11 143.31 445.83 145.22 447.56 144.38 449.29 144.88 451.01 145.77 452.74 146.29 454.47 145.05 456.19 145.52 457.92 145.13 459.64 146.21 461.37 146.30 463.10 146.32 464.82 146.29 466.55 146.61 468.28 146.57 470.00 147.43 471.73 148.13 473.45 146.24 475.18 147.21 476.91 147.01 478.63 147.48 480.36 146.65 482.09 147.06 483.81 146.54 485.54 147.47 487.27 147.10 488.99 146.93" fill="none" stroke="#dedede" stroke-width="1.50" stroke-linejoin="round" stroke-opacity="0.90"/>
<path d="M407.85 133.99 409.58 134.11 411.31 135.35 413.03 135.31 414.76 134.63 416.49 135.51 418.21 136.94 419.94 138.15 421.66 138.68 423.39 140.70 425.12 140.71 426.84 141.23 428.57 142.84 430.30 142.34 432.02 143.06 433.75 143.83 435.48 144.32 437.20 144.07 438.93 144.66 440.65 144.56 442.38 146.33 444.11 146.07 445.83 145.45 447.56 146.41 449.29 147.15 451.01 147.37 452.74 148.43 454.47 148.32 456.19 147.37 457.92 148.07 459.64 147.95 461.37 149.32 463.10 149.74 464.82 151.64 466.55 150.67 468.28 149.93 470.00 151.19 471.73 152.09 473.45 151.59 475.18 151.87 476.91 152.21 478.63 152.66 480.36 152.44 482.09 152.10 483.81 153.10 485.54 152.42 487.27 152.51 488.99 152.08" fill="none" stroke="#dedede" stroke-width="1.50" stroke-linejoin="round" stroke-opacity="0.90"/>
<path d="M407.85 133.85 409.58 133.76 411.31 133.02 413.03 131.65 414.76 132.07 416.49 133.88 418.21 135.30 419.94 135.53 421.66 137.07 423.39 137.06 425.12 138.18 426.84 139.10 428.57 140.12 430.30 139.78 432.02 141.86 433.75 142.79 435.48 142.13 437.20 142.73 438.93 144.38 440.65 144.44 442.38 143.70 444.11 145.67 445.83 145.52 447.56 145.38 449.29 147.03 451.01 146.15 452.74 145.86 454.47 146.42 456.19 145.76 457.92 146.24 459.64 147.29 461.37 147.18 463.10 147.62 464.82 149.14 466.55 149.05 468.28 149.37 470.00 149.57 471.73 149.90 473.45 150.51 475.18 149.36 476.91 150.04 478.63 148.12 480.36 148.14 482.09 147.16 483.81 147.38 485.54 147.49 487.27 147.65 488.99 146.12" fill="none" stroke="#dedede" stroke-width="1.50" stroke-linejoin="round" stroke-opacity="0.90"/>
<path d="M407.85 114.52 409.58 110.09 411.31 105.41 413.03 101.48 414.76 95.21 416.49 94.72 418.21 94.80 419.94 96.71 421.66 99.11 423.39 103.64 425.12 107.60 426.84 109.88 428.57 113.99 430.30 118.50 432.02 121.84 433.75 126.30 435.48 127.77 437.20 131.25 438.93 132.82 440.65 136.97 442.38 136.89 444.11 137.31 445.83 139.67 447.56 140.71 449.29 142.87 451.01 142.64 452.74 143.85 454.47 145.25 456.19 147.04 457.92 148.09 459.64 150.58 461.37 151.63 463.10 150.81 464.82 150.55 466.55 149.39 468.28 147.43 470.00 147.22 471.73 144.68 473.45 145.10 475.18 143.86 476.91 143.04 478.63 142.52 480.36 143.31 482.09 144.52 483.81 145.38 485.54 145.58 487.27 146.43 488.99 145.96" fill="none" stroke="#6baed6" stroke-width="1.35" stroke-linejoin="round" stroke-opacity="0.90"/>
<path d="M407.85 116.34 409.58 111.20 411.31 107.25 413.03 102.73 414.76 97.63 416.49 97.18 418.21 98.60 419.94 101.54 421.66 104.79 423.39 108.44 425.12 110.47 426.84 115.19 428.57 117.10 430.30 121.07 432.02 124.79 433.75 127.26 435.48 128.78 437.20 131.15 438.93 133.33 440.65 135.60 442.38 138.51 444.11 139.31 445.83 142.30 447.56 144.32 449.29 146.22 451.01 148.10 452.74 150.62 454.47 152.12 456.19 154.47 457.92 155.84 459.64 157.65 461.37 155.35 463.10 156.13 464.82 153.84 466.55 151.90 468.28 149.45 470.00 147.07 471.73 146.34 473.45 144.45 475.18 143.57 476.91 141.33 478.63 142.22 480.36 141.36 482.09 140.95 483.81 140.36 485.54 139.87 487.27 139.23 488.99 138.81" fill="none" stroke="#6baed6" stroke-width="1.35" stroke-linejoin="round" stroke-opacity="0.90"/>
<path d="M407.85 99.36 409.58 93.38 411.31 88.08 413.03 80.53 414.76 76.02 416.49 72.55 418.21 74.09 419.94 77.45 421.66 82.11 423.39 87.78 425.12 91.28 426.84 95.94 428.57 100.15 430.30 105.55 432.02 108.96 433.75 113.14 435.48 116.30 437.20 119.57 438.93 123.49 440.65 127.47 442.38 128.45 444.11 132.13 445.83 134.32 447.56 135.90 449.29 138.67 451.01 141.00 452.74 143.06 454.47 146.86 456.19 147.33 457.92 151.31 459.64 153.63 461.37 154.93 463.10 154.63 464.82 154.26 466.55 152.16 468.28 150.15 470.00 148.18 471.73 144.93 473.45 145.28 475.18 143.81 476.91 142.47 478.63 141.93 480.36 140.91 482.09 142.45 483.81 142.76 485.54 143.21 487.27 144.39 488.99 143.69" fill="none" stroke="#6baed6" stroke-width="1.35" stroke-linejoin="round" stroke-opacity="0.90"/>
<path d="M407.85 100.30 409.58 95.14 411.31 89.30 413.03 83.41 414.76 78.68 416.49 77.86 418.21 80.73 419.94 85.28 421.66 88.55 423.39 94.39 425.12 98.74 426.84 102.25 428.57 106.83 430.30 111.14 432.02 115.73 433.75 117.65 435.48 122.02 437.20 123.99 438.93 126.39 440.65 129.36 442.38 131.50 444.11 133.30 445.83 135.00 447.56 137.32 449.29 140.60 451.01 142.83 452.74 144.07 454.47 146.54 456.19 147.83 457.92 150.57 459.64 153.03 461.37 152.46 463.10 152.08 464.82 151.56 466.55 149.61 468.28 147.38 470.00 146.65 471.73 145.20 473.45 144.36 475.18 142.37 476.91 141.11 478.63 140.91 480.36 140.92 482.09 140.86 483.81 140.90 485.54 141.34 487.27 141.09 488.99 140.77" fill="none" stroke="#6baed6" stroke-width="1.35" stroke-linejoin="round" stroke-opacity="0.90"/>
<path d="M407.85 101.85 409.58 97.93 411.31 92.09 413.03 83.93 414.76 79.09 416.49 75.80 418.21 77.99 419.94 80.82 421.66 84.60 423.39 89.55 425.12 93.85 426.84 98.77 428.57 103.15 430.30 107.46 432.02 111.50 433.75 113.85 435.48 119.18 437.20 121.26 438.93 125.26 440.65 128.44 442.38 130.55 444.11 132.44 445.83 134.78 447.56 136.81 449.29 138.55 451.01 140.51 452.74 142.30 454.47 145.51 456.19 147.11 457.92 150.13 459.64 151.64 461.37 153.26 463.10 152.33 464.82 151.74 466.55 150.13 468.28 147.59 470.00 144.93 471.73 143.10 473.45 142.90 475.18 140.22 476.91 139.77 478.63 140.44 480.36 140.76 482.09 141.41 483.81 141.70 485.54 143.71 487.27 143.10 488.99 143.57" fill="none" stroke="#6baed6" stroke-width="1.35" stroke-linejoin="round" stroke-opacity="0.90"/>
<path d="M407.85 106.31 409.58 101.53 411.31 97.62 413.03 92.42 414.76 90.00 416.49 88.50 418.21 89.96 419.94 93.33 421.66 95.95 423.39 101.84 425.12 106.11 426.84 110.59 428.57 114.24 430.30 118.07 432.02 121.64 433.75 125.13 435.48 128.45 437.20 129.74 438.93 132.54 440.65 134.31 442.38 137.87 444.11 139.45 445.83 140.78 447.56 141.23 449.29 143.51 451.01 144.80 452.74 146.50 454.47 148.01 456.19 150.16 457.92 151.17 459.64 153.03 461.37 152.45 463.10 150.94 464.82 149.38 466.55 146.96 468.28 145.25 470.00 142.41 471.73 140.86 473.45 138.88 475.18 137.46 476.91 138.48 478.63 137.50 480.36 139.16 482.09 139.86 483.81 139.32 485.54 140.18 487.27 140.89 488.99 140.88" fill="none" stroke="#6baed6" stroke-width="1.35" stroke-linejoin="round" stroke-opacity="0.90" stroke-dasharray="7 3"/>
<path d="M407.85 115.37 409.58 112.22 411.31 107.82 413.03 102.14 414.76 97.76 416.49 94.82 418.21 94.23 419.94 96.08 421.66 99.87 423.39 104.52 425.12 106.48 426.84 110.19 428.57 113.57 430.30 115.29 432.02 120.14 433.75 122.95 435.48 126.80 437.20 128.35 438.93 130.30 440.65 132.74 442.38 135.29 444.11 136.95 445.83 139.22 447.56 140.34 449.29 142.73 451.01 145.04 452.74 147.46 454.47 148.53 456.19 150.21 457.92 152.32 459.64 153.52 461.37 154.87 463.10 154.00 464.82 152.16 466.55 150.67 468.28 148.45 470.00 146.23 471.73 144.09 473.45 142.01 475.18 140.15 476.91 140.60 478.63 139.82 480.36 141.44 482.09 142.36 483.81 142.46 485.54 144.55 487.27 145.35 488.99 145.61" fill="none" stroke="#6baed6" stroke-width="1.35" stroke-linejoin="round" stroke-opacity="0.90"/>
<path d="M407.85 98.57 409.58 97.62 411.31 92.53 413.03 87.19 414.76 79.36 416.49 74.43 418.21 73.58 419.94 75.13 421.66 79.61 423.39 83.15 425.12 88.68 426.84 93.42 428.57 98.36 430.30 102.63 432.02 108.08 433.75 112.11 435.48 116.34 437.20 119.76 438.93 123.46 440.65 125.78 442.38 129.60 444.11 131.91 445.83 134.12 447.56 136.37 449.29 138.74 451.01 141.10 452.74 143.14 454.47 144.91 456.19 147.37 457.92 149.44 459.64 152.49 461.37 153.80 463.10 153.70 464.82 154.54 466.55 152.56 468.28 149.68 470.00 147.68 471.73 144.85 473.45 144.25 475.18 141.14 476.91 138.18 478.63 138.61 480.36 137.58 482.09 139.20 483.81 138.28 485.54 138.15 487.27 139.67 488.99 139.67" fill="none" stroke="#6baed6" stroke-width="1.35" stroke-linejoin="round" stroke-opacity="0.90"/>
<path d="M407.85 114.08 409.58 109.86 411.31 105.24 413.03 100.27 414.76 97.21 416.49 98.30 418.21 100.23 419.94 102.75 421.66 108.63 423.39 111.15 425.12 114.07 426.84 117.15 428.57 118.66 430.30 121.33 432.02 124.25 433.75 126.03 435.48 128.03 437.20 130.02 438.93 130.39 440.65 132.40 442.38 135.08 444.11 136.71 445.83 139.84 447.56 141.55 449.29 145.01 451.01 147.03 452.74 149.15 454.47 150.94 456.19 154.32 457.92 155.13 459.64 156.69 461.37 155.18 463.10 153.45 464.82 152.46 466.55 149.96 468.28 146.80 470.00 145.59 471.73 142.95 473.45 141.69 475.18 142.34 476.91 142.41 478.63 143.73 480.36 145.48 482.09 148.00 483.81 149.29 485.54 149.58 487.27 151.89 488.99 151.81" fill="none" stroke="#6baed6" stroke-width="1.35" stroke-linejoin="round" stroke-opacity="0.90"/>
<path d="M407.85 119.27 409.58 115.78 411.31 114.60 413.03 110.07 414.76 105.71 416.49 103.28 418.21 103.69 419.94 105.00 421.66 108.77 423.39 111.52 425.12 114.92 426.84 118.43 428.57 120.79 430.30 122.56 432.02 126.22 433.75 128.58 435.48 130.38 437.20 132.98 438.93 134.22 440.65 135.14 442.38 136.99 444.11 139.96 445.83 139.41 447.56 141.52 449.29 142.80 451.01 143.88 452.74 143.91 454.47 145.49 456.19 146.95 457.92 149.42 459.64 150.76 461.37 152.33 463.10 154.05 464.82 153.95 466.55 152.94 468.28 151.33 470.00 150.70 471.73 149.52 473.45 148.78 475.18 145.95 476.91 145.69 478.63 144.87 480.36 144.10 482.09 145.06 483.81 145.28 485.54 145.15 487.27 145.60 488.99 144.60" fill="none" stroke="#6baed6" stroke-width="1.35" stroke-linejoin="round" stroke-opacity="0.90"/>
<path d="M573.55 148.21 575.32 147.26 577.09 146.29 578.86 147.07 580.63 146.00 582.40 145.69 584.17 148.48 585.94 147.79 587.71 148.57 589.48 149.06 591.25 149.84 593.02 148.75 594.79 149.02 596.57 147.54 598.34 147.09 600.11 148.26 601.88 147.87 603.65 146.91 605.42 146.33 607.19 145.85 608.96 144.81 610.73 145.42 612.50 144.30 614.27 143.59 616.04 143.30 617.81 143.91 619.58 143.89 621.35 144.31 623.12 143.52 624.89 145.17 626.67 146.93 628.44 146.25 630.21 147.30 631.98 148.62 633.75 148.83 635.52 148.75 637.29 147.60 639.06 148.88 640.83 147.76 642.60 147.31 644.37 147.40 646.14 146.27 647.91 146.22 649.68 147.07 651.45 145.44 653.22 145.11 655.00 143.91 656.77 143.74" fill="none" stroke="#dedede" stroke-width="1.50" stroke-linejoin="round" stroke-opacity="0.90"/>
<path d="M573.55 146.52 575.32 146.15 577.09 146.53 578.86 146.39 580.63 145.49 582.40 146.11 584.17 145.32 585.94 147.77 587.71 147.54 589.48 147.14 591.25 147.00 593.02 148.24 594.79 147.38 596.57 148.37 598.34 149.59 600.11 149.48 601.88 149.42 603.65 150.47 605.42 149.61 607.19 150.37 608.96 149.33 610.73 148.52 612.50 148.64 614.27 147.26 616.04 148.63 617.81 147.31 619.58 148.80 621.35 147.14 623.12 148.14 624.89 147.27 626.67 147.35 628.44 148.34 630.21 148.77 631.98 147.73 633.75 148.72 635.52 147.24 637.29 147.38 639.06 147.13 640.83 146.79 642.60 144.95 644.37 146.33 646.14 145.22 647.91 144.18 649.68 143.53 651.45 142.91 653.22 142.84 655.00 143.65 656.77 142.94" fill="none" stroke="#dedede" stroke-width="1.50" stroke-linejoin="round" stroke-opacity="0.90"/>
<path d="M573.55 151.13 575.32 149.79 577.09 149.18 578.86 148.75 580.63 148.09 582.40 147.84 584.17 147.76 585.94 147.39 587.71 147.20 589.48 146.34 591.25 145.77 593.02 146.93 594.79 146.94 596.57 147.36 598.34 147.80 600.11 147.36 601.88 147.53 603.65 148.18 605.42 148.38 607.19 147.97 608.96 148.64 610.73 148.29 612.50 147.88 614.27 148.56 616.04 150.06 617.81 149.47 619.58 151.33 621.35 152.27 623.12 153.17 624.89 152.11 626.67 153.77 628.44 152.80 630.21 152.66 631.98 152.62 633.75 152.53 635.52 151.67 637.29 151.00 639.06 151.24 640.83 149.47 642.60 148.55 644.37 148.82 646.14 148.03 647.91 147.53 649.68 145.82 651.45 146.58 653.22 145.82 655.00 146.11 656.77 144.05" fill="none" stroke="#dedede" stroke-width="1.50" stroke-linejoin="round" stroke-opacity="0.90"/>
<path d="M573.55 143.37 575.32 143.26 577.09 142.16 578.86 142.45 580.63 142.96 582.40 142.15 584.17 142.67 585.94 144.12 587.71 145.11 589.48 144.18 591.25 144.11 593.02 145.58 594.79 146.66 596.57 147.98 598.34 149.22 600.11 149.47 601.88 149.83 603.65 150.96 605.42 151.00 607.19 151.81 608.96 150.54 610.73 151.44 612.50 149.46 614.27 147.64 616.04 147.06 617.81 147.29 619.58 146.55 621.35 146.97 623.12 146.89 624.89 148.00 626.67 147.55 628.44 147.62 630.21 147.59 631.98 147.85 633.75 148.05 635.52 147.56 637.29 147.90 639.06 146.50 640.83 147.06 642.60 146.35 644.37 145.94 646.14 144.56 647.91 144.71 649.68 145.82 651.45 146.26 653.22 145.67 655.00 146.06 656.77 145.51" fill="none" stroke="#dedede" stroke-width="1.50" stroke-linejoin="round" stroke-opacity="0.90"/>
<path d="M573.55 149.29 575.32 150.21 577.09 148.90 578.86 148.27 580.63 148.62 582.40 148.15 584.17 147.69 585.94 148.19 587.71 147.46 589.48 147.85 591.25 147.12 593.02 149.22 594.79 147.67 596.57 149.27 598.34 148.58 600.11 148.52 601.88 148.96 603.65 149.23 605.42 149.41 607.19 149.88 608.96 148.58 610.73 148.36 612.50 147.02 614.27 147.30 616.04 146.95 617.81 146.91 619.58 147.41 621.35 147.73 623.12 148.17 624.89 148.80 626.67 148.85 628.44 149.28 630.21 150.66 631.98 149.71 633.75 150.21 635.52 151.33 637.29 148.87 639.06 149.88 640.83 150.28 642.60 148.27 644.37 149.91 646.14 146.32 647.91 147.88 649.68 147.48 651.45 146.73 653.22 145.71 655.00 145.65 656.77 144.61" fill="none" stroke="#dedede" stroke-width="1.50" stroke-linejoin="round" stroke-opacity="0.90"/>
<path d="M573.55 147.02 575.32 146.57 577.09 145.54 578.86 146.36 580.63 146.01 582.40 146.40 584.17 147.48 585.94 147.72 587.71 149.32 589.48 149.06 591.25 150.13 593.02 149.33 594.79 149.60 596.57 148.60 598.34 148.35 600.11 147.61 601.88 148.18 603.65 147.98 605.42 148.21 607.19 147.24 608.96 146.36 610.73 145.80 612.50 145.83 614.27 145.41 616.04 146.46 617.81 146.71 619.58 146.25 621.35 146.87 623.12 148.54 624.89 148.44 626.67 148.61 628.44 149.87 630.21 149.46 631.98 149.76 633.75 149.47 635.52 148.45 637.29 149.82 639.06 148.44 640.83 148.20 642.60 147.04 644.37 146.79 646.14 145.28 647.91 144.32 649.68 142.58 651.45 142.73 653.22 141.22 655.00 141.48 656.77 140.87" fill="none" stroke="#dedede" stroke-width="1.50" stroke-linejoin="round" stroke-opacity="0.90"/>
<path d="M573.55 146.93 575.32 148.07 577.09 147.42 578.86 147.33 580.63 146.71 582.40 145.53 584.17 145.70 585.94 147.75 587.71 147.25 589.48 146.71 591.25 147.98 593.02 147.83 594.79 147.25 596.57 147.25 598.34 147.87 600.11 149.07 601.88 148.96 603.65 148.91 605.42 149.26 607.19 149.43 608.96 147.58 610.73 147.94 612.50 147.02 614.27 146.16 616.04 146.15 617.81 146.44 619.58 146.63 621.35 146.24 623.12 147.06 624.89 149.03 626.67 148.00 628.44 148.32 630.21 150.08 631.98 150.89 633.75 151.07 635.52 150.14 637.29 151.26 639.06 150.22 640.83 149.78 642.60 149.49 644.37 149.08 646.14 148.85 647.91 148.11 649.68 147.20 651.45 147.35 653.22 146.55 655.00 146.68 656.77 145.08" fill="none" stroke="#dedede" stroke-width="1.50" stroke-linejoin="round" stroke-opacity="0.90"/>
<path d="M573.55 141.66 575.32 143.55 577.09 144.27 578.86 142.95 580.63 142.86 582.40 143.38 584.17 144.54 585.94 143.51 587.71 144.86 589.48 145.36 591.25 146.27 593.02 146.46 594.79 147.15 596.57 146.96 598.34 147.62 600.11 147.50 601.88 147.74 603.65 148.26 605.42 148.49 607.19 148.01 608.96 149.00 610.73 147.41 612.50 146.09 614.27 146.83 616.04 145.53 617.81 146.40 619.58 146.36 621.35 146.76 623.12 146.96 624.89 146.89 626.67 147.60 628.44 149.07 630.21 147.06 631.98 148.64 633.75 148.62 635.52 147.45 637.29 146.93 639.06 148.54 640.83 146.87 642.60 148.05 644.37 146.97 646.14 146.50 647.91 146.50 649.68 146.57 651.45 146.99 653.22 146.71 655.00 146.69 656.77 146.84" fill="none" stroke="#dedede" stroke-width="1.50" stroke-linejoin="round" stroke-opacity="0.90"/>
<path d="M573.55 145.22 575.32 145.45 577.09 145.56 578.86 144.80 580.63 145.74 582.40 144.48 584.17 146.62 585.94 145.81 587.71 145.93 589.48 145.78 591.25 144.99 593.02 147.04 594.79 147.79 596.57 149.32 598.34 148.05 600.11 150.33 601.88 149.54 603.65 150.49 605.42 149.09 607.19 150.79 608.96 149.90 610.73 149.76 612.50 148.71 614.27 147.32 616.04 148.07 617.81 147.91 619.58 147.91 621.35 148.19 623.12 148.30 624.89 147.99 626.67 147.62 628.44 147.97 630.21 149.86 631.98 149.83 633.75 149.36 635.52 148.82 637.29 148.84 639.06 148.59 640.83 147.96 642.60 147.03 644.37 147.85 646.14 146.00 647.91 144.77 649.68 143.79 651.45 143.63 653.22 143.97 655.00 143.53 656.77 142.53" fill="none" stroke="#dedede" stroke-width="1.50" stroke-linejoin="round" stroke-opacity="0.90"/>
<path d="M573.55 141.28 575.32 140.71 577.09 140.13 578.86 140.23 580.63 140.78 582.40 141.08 584.17 141.60 585.94 143.19 587.71 144.25 589.48 144.82 591.25 144.88 593.02 143.06 594.79 139.80 596.57 135.57 598.34 130.02 600.11 124.88 601.88 118.87 603.65 112.75 605.42 107.43 607.19 102.96 608.96 98.97 610.73 99.91 612.50 103.77 614.27 110.85 616.04 118.40 617.81 125.38 619.58 130.69 621.35 136.72 623.12 142.17 624.89 145.68 626.67 148.40 628.44 150.67 630.21 151.47 631.98 153.59 633.75 153.48 635.52 153.90 637.29 154.16 639.06 153.33 640.83 153.53 642.60 153.71 644.37 154.75 646.14 154.66 647.91 154.97 649.68 154.92 651.45 154.67 653.22 155.46 655.00 155.38 656.77 156.36" fill="none" stroke="#6baed6" stroke-width="1.35" stroke-linejoin="round" stroke-opacity="0.90"/>
<path d="M573.55 144.30 575.32 144.44 577.09 144.56 578.86 142.65 580.63 141.92 582.40 141.22 584.17 140.66 585.94 142.05 587.71 142.11 589.48 142.60 591.25 143.38 593.02 142.97 594.79 139.00 596.57 135.72 598.34 130.56 600.11 124.94 601.88 119.20 603.65 112.96 605.42 107.71 607.19 101.57 608.96 96.06 610.73 93.46 612.50 94.94 614.27 99.99 616.04 106.88 617.81 114.73 619.58 120.77 621.35 126.32 623.12 131.45 624.89 136.87 626.67 140.88 628.44 144.68 630.21 147.72 631.98 149.19 633.75 152.18 635.52 154.18 637.29 155.43 639.06 155.89 640.83 157.14 642.60 156.59 644.37 156.64 646.14 156.97 647.91 157.69 649.68 158.34 651.45 158.58 653.22 158.34 655.00 157.90 656.77 158.28" fill="none" stroke="#6baed6" stroke-width="1.35" stroke-linejoin="round" stroke-opacity="0.90"/>
<path d="M573.55 138.49 575.32 138.58 577.09 139.07 578.86 138.78 580.63 138.12 582.40 138.84 584.17 138.75 585.94 140.52 587.71 141.03 589.48 141.36 591.25 142.29 593.02 140.38 594.79 137.10 596.57 132.87 598.34 128.69 600.11 123.60 601.88 118.21 603.65 112.70 605.42 108.29 607.19 102.38 608.96 97.38 610.73 97.72 612.50 101.48 614.27 107.07 616.04 112.90 617.81 119.87 619.58 125.67 621.35 130.60 623.12 135.86 624.89 139.43 626.67 143.45 628.44 146.05 630.21 149.35 631.98 150.92 633.75 153.28 635.52 154.00 637.29 155.05 639.06 155.55 640.83 155.90 642.60 155.54 644.37 156.29 646.14 156.16 647.91 155.53 649.68 154.72 651.45 154.81 653.22 154.27 655.00 154.87 656.77 154.09" fill="none" stroke="#6baed6" stroke-width="1.35" stroke-linejoin="round" stroke-opacity="0.90"/>
<path d="M573.55 139.26 575.32 139.70 577.09 138.28 578.86 137.96 580.63 138.08 582.40 137.81 584.17 138.32 585.94 139.51 587.71 140.73 589.48 139.80 591.25 140.64 593.02 139.15 594.79 135.84 596.57 131.80 598.34 126.99 600.11 122.70 601.88 116.89 603.65 111.85 605.42 106.89 607.19 102.14 608.96 98.39 610.73 99.30 612.50 103.04 614.27 109.34 616.04 116.02 617.81 122.15 619.58 127.71 621.35 132.96 623.12 138.34 624.89 142.21 626.67 144.79 628.44 147.96 630.21 150.14 631.98 150.95 633.75 153.89 635.52 154.29 637.29 155.20 639.06 155.82 640.83 155.44 642.60 155.10 644.37 156.20 646.14 154.77 647.91 155.10 649.68 155.36 651.45 154.39 653.22 154.62 655.00 154.66 656.77 155.32" fill="none" stroke="#6baed6" stroke-width="1.35" stroke-linejoin="round" stroke-opacity="0.90"/>
<path d="M573.55 144.15 575.32 143.11 577.09 141.86 578.86 140.83 580.63 139.49 582.40 139.19 584.17 139.21 585.94 139.36 587.71 139.91 589.48 139.62 591.25 140.55 593.02 139.00 594.79 133.88 596.57 129.27 598.34 123.06 600.11 117.66 601.88 110.81 603.65 104.15 605.42 97.74 607.19 91.87 608.96 86.42 610.73 87.06 612.50 91.15 614.27 99.05 616.04 107.02 617.81 115.39 619.58 121.51 621.35 128.42 623.12 133.43 624.89 139.41 626.67 142.35 628.44 145.79 630.21 148.27 631.98 150.79 633.75 151.45 635.52 153.75 637.29 154.29 639.06 155.59 640.83 154.46 642.60 155.17 644.37 155.19 646.14 156.87 647.91 155.95 649.68 156.74 651.45 156.65 653.22 156.29 655.00 157.08 656.77 157.66" fill="none" stroke="#6baed6" stroke-width="1.35" stroke-linejoin="round" stroke-opacity="0.90"/>
<path d="M573.55 143.83 575.32 143.11 577.09 142.46 578.86 142.79 580.63 141.27 582.40 140.98 584.17 141.29 585.94 141.58 587.71 143.10 589.48 141.66 591.25 142.97 593.02 142.24 594.79 138.89 596.57 135.43 598.34 131.43 600.11 127.19 601.88 121.09 603.65 115.65 605.42 111.68 607.19 107.05 608.96 101.89 610.73 99.66 612.50 103.67 614.27 108.21 616.04 115.08 617.81 121.03 619.58 126.47 621.35 131.62 623.12 137.20 624.89 141.95 626.67 144.12 628.44 147.79 630.21 151.66 631.98 153.11 633.75 154.79 635.52 157.06 637.29 158.58 639.06 159.48 640.83 159.59 642.60 159.42 644.37 159.12 646.14 159.22 647.91 158.50 649.68 158.43 651.45 158.17 653.22 158.43 655.00 157.70 656.77 157.16" fill="none" stroke="#6baed6" stroke-width="1.35" stroke-linejoin="round" stroke-opacity="0.90"/>
<path d="M573.55 146.74 575.32 145.78 577.09 144.62 578.86 143.15 580.63 142.29 582.40 142.54 584.17 142.51 585.94 142.80 587.71 142.24 589.48 143.29 591.25 143.00 593.02 142.64 594.79 139.96 596.57 135.81 598.34 131.37 600.11 126.06 601.88 121.46 603.65 115.95 605.42 111.91 607.19 106.81 608.96 102.13 610.73 100.73 612.50 103.39 614.27 109.54 616.04 115.88 617.81 122.92 619.58 128.31 621.35 133.04 623.12 138.21 624.89 142.67 626.67 145.37 628.44 148.49 630.21 150.87 631.98 151.68 633.75 153.10 635.52 153.26 637.29 155.02 639.06 154.87 640.83 154.09 642.60 155.19 644.37 155.41 646.14 154.94 647.91 155.18 649.68 154.95 651.45 155.65 653.22 154.68 655.00 155.16 656.77 156.07" fill="none" stroke="#6baed6" stroke-width="1.35" stroke-linejoin="round" stroke-opacity="0.90"/>
<path d="M573.55 143.85 575.32 142.87 577.09 140.75 578.86 139.98 580.63 138.88 582.40 139.23 584.17 138.70 585.94 138.89 587.71 138.42 589.48 138.27 591.25 139.08 593.02 138.34 594.79 135.26 596.57 132.03 598.34 127.70 600.11 122.82 601.88 117.19 603.65 111.59 605.42 107.36 607.19 102.62 608.96 97.66 610.73 96.57 612.50 99.68 614.27 106.18 616.04 112.70 617.81 119.62 619.58 124.92 621.35 130.56 623.12 135.87 624.89 139.85 626.67 142.60 628.44 145.59 630.21 148.26 631.98 149.49 633.75 151.43 635.52 151.70 637.29 152.49 639.06 152.03 640.83 152.48 642.60 153.87 644.37 153.95 646.14 154.67 647.91 155.21 649.68 155.39 651.45 155.75 653.22 156.32 655.00 156.99 656.77 157.34" fill="none" stroke="#6baed6" stroke-width="1.35" stroke-linejoin="round" stroke-opacity="0.90"/>
<path d="M573.55 141.67 575.32 139.90 577.09 138.90 578.86 138.69 580.63 138.78 582.40 137.77 584.17 138.22 585.94 138.66 587.71 139.09 589.48 140.93 591.25 139.83 593.02 138.09 594.79 134.48 596.57 130.28 598.34 124.77 600.11 119.29 601.88 112.94 603.65 106.17 605.42 101.08 607.19 95.07 608.96 90.31 610.73 89.56 612.50 94.28 614.27 101.28 616.04 109.46 617.81 116.67 619.58 123.80 621.35 130.18 623.12 135.40 624.89 140.19 626.67 142.60 628.44 145.74 630.21 146.04 631.98 148.30 633.75 148.84 635.52 149.90 637.29 150.95 639.06 149.81 640.83 150.04 642.60 150.33 644.37 152.19 646.14 152.47 647.91 153.26 649.68 152.86 651.45 153.54 653.22 155.02 655.00 155.08 656.77 155.63" fill="none" stroke="#6baed6" stroke-width="1.35" stroke-linejoin="round" stroke-opacity="0.90"/>
<path d="M573.55 146.95 575.32 146.15 577.09 145.18 578.86 144.22 580.63 143.60 582.40 141.74 584.17 143.20 585.94 142.97 587.71 143.25 589.48 143.08 591.25 142.28 593.02 140.89 594.79 138.25 596.57 134.68 598.34 129.43 600.11 124.72 601.88 120.87 603.65 115.13 605.42 111.74 607.19 106.36 608.96 102.81 610.73 104.34 612.50 108.57 614.27 112.79 616.04 119.88 617.81 124.44 619.58 129.79 621.35 133.36 623.12 136.88 624.89 141.61 626.67 144.81 628.44 148.07 630.21 150.22 631.98 151.82 633.75 153.15 635.52 154.48 637.29 155.65 639.06 155.93 640.83 156.39 642.60 155.29 644.37 156.27 646.14 156.03 647.91 156.92 649.68 155.93 651.45 155.16 653.22 155.34 655.00 154.34 656.77 154.32" fill="none" stroke="#6baed6" stroke-width="1.35" stroke-linejoin="round" stroke-opacity="0.90"/>
<path d="M74.5 70.5 V157.3 H159.5" fill="none" stroke="#262626" stroke-width="1.5"/>
<path d="M242.8 71.9 V158.7 H328.5" fill="none" stroke="#262626" stroke-width="1.5"/>
<path d="M406.7 71.2 V158.3 H492.0" fill="none" stroke="#262626" stroke-width="1.5"/>
<path d="M572.9 71.0 V157.8 H658.6" fill="none" stroke="#262626" stroke-width="1.5"/>
<text transform="translate(17.91 229.20) scale(0.9622 1)" font-size="16.30" fill="#000">B.</text>
<text transform="translate(28.80 381.26) rotate(-90) scale(0.9689 1)" font-size="15.50" fill="#000">Unit #</text>
<text transform="translate(202.60 437.44) rotate(-90) scale(1.0128 1)" font-size="14.70" fill="#000">Δ Z-scores</text>
<text transform="translate(221.40 491.05) rotate(-90) scale(1.0150 1)" font-size="15.10" fill="#000">(Non-match - Match  trials)</text>
<text transform="translate(30.10 597.97) rotate(-90) scale(0.9610 1)" font-size="15.30" fill="#000">Z score</text>
<text transform="translate(44.76 651.40) scale(1.0369 1)" font-size="14.40" fill="#000">Time from un-poke (s)</text>
<line x1="59.7" y1="211.4" x2="64.1" y2="211.4" stroke="#444" stroke-width="1"/>
<line x1="59.7" y1="535.4" x2="64.1" y2="535.4" stroke="#444" stroke-width="1"/>
<text transform="translate(48.37 216.10)" font-size="13.40" fill="#262626">0</text>
<text transform="translate(33.34 541.00)" font-size="13.40" fill="#262626">194</text>
<line x1="229.4" y1="211.4" x2="233.8" y2="211.4" stroke="#444" stroke-width="1"/>
<line x1="229.4" y1="535.4" x2="233.8" y2="535.4" stroke="#444" stroke-width="1"/>
<text transform="translate(217.67 216.10)" font-size="13.40" fill="#262626">0</text>
<text transform="translate(202.83 541.00)" font-size="13.40" fill="#262626">206</text>
<line x1="388.1" y1="211.8" x2="392.5" y2="211.8" stroke="#444" stroke-width="1"/>
<line x1="388.1" y1="533.0" x2="392.5" y2="533.0" stroke="#444" stroke-width="1"/>
<text transform="translate(376.27 216.50)" font-size="13.40" fill="#262626">0</text>
<text transform="translate(361.50 538.60)" font-size="13.40" fill="#262626">201</text>
<line x1="553.6" y1="211.7" x2="558.0" y2="211.7" stroke="#444" stroke-width="1"/>
<line x1="553.6" y1="535.4" x2="558.0" y2="535.4" stroke="#444" stroke-width="1"/>
<text transform="translate(541.27 216.40)" font-size="13.40" fill="#262626">0</text>
<text transform="translate(526.43 541.00)" font-size="13.40" fill="#262626">206</text>
<clipPath id="hc0"><rect x="64.100" y="211.000" width="91.900" height="323.400"/></clipPath><g clip-path="url(#hc0)"><g transform="translate(64.100 211.000) scale(4.59500 1.66701)" stroke-width="1.35"><rect width="20" height="194" fill="#6d778d"/><path d="M7 28.5h1.4m6.6 68h5.4m-6.4 76h2.4" stroke="#060609"/><path d="M5 28.5h2.4m0.6 0h2.4" stroke="#0d0d12"/><path d="M0 9.5h1.4" stroke="#191923"/><path d="M19 165.5h1.4" stroke="#20202c"/><path d="M0 3.5h1.4" stroke="#262635"/><path d="M7 172.5h1.4" stroke="#2d2d3e"/><path d="M14 96.5h1.4m-15.4 76h1.4" stroke="#333347"/><path d="M9 13.5h2.4m0.6 0h2.4m1.6 3h1.4m-4.4 80h1.4m-13.4 76h1.4m1.6 0h1.4" stroke="#393950"/><path d="M5 13.5h2.4m3.6 0h1.4m3.6 0h1.4m-0.4 3h1.4m-6.4 125h1.4m-2.4 28h1.4" stroke="#404059"/><path d="M15 13.5h1.4m0.6 0h1.4m-17.4 61h2.4m0.6 1h1.4m7.6 41h2.4m-9.4 25h1.4m0.6 0h1.4m3.6 0h2.4m-0.4 16h1.4m2.6 0h1.4m-10.4 4h1.4m-5.4 8h1.4m0.6 0h1.4" stroke="#464662"/><path d="M4 13.5h1.4m2.6 0h1.4m9.6 3h1.4m-4.4 5h1.4m-8.4 19h1.4m-9.4 12h1.4m3.6 2h1.4m-4.4 8h1.4m7.6 0h2.4m-8.4 15h1.4m3.6 39h2.4m-4.4 2h1.4m-9.4 2h1.4m6.6 6h1.4m-1.4 7h1.4m-3.4 8h1.4m2.6 0h1.4m3.6 0h1.4m-5.4 11h1.4m-2.4 5h1.4m5.6 0h1.4m-12.4 4h1.4m-8.4 2h1.4m12.6 0h1.4m0.6 3h2.4m-11.4 3h1.4m10.6 19h1.4" stroke="#4c4c6a"/><path d="M18 0.5h1.4m-19.4 7h1.4m6.6 0h1.4m4.6 6h1.4m-2.4 1h1.4m2.6 5h1.4m-15.4 2h1.4m13.6 4h1.4m-18.4 3h1.4m11.6 0h1.4m-2.4 3h1.4m-13.4 2h1.4m8.6 0h1.4m0.6 0h1.4m3.6 7h1.4m-13.4 23h1.4m2.6 1h1.4m-10.4 4h1.4m10.6 7h1.4m0.6 0h1.4m-7.4 11h1.4m5.6 0h1.4m-4.4 3h1.4m-11.4 3h1.4m8.6 0h1.4m-8.4 1h1.4m-0.4 4h1.4m2.6 0h1.4m5.6 6h1.4m-12.4 2h1.4m-4.4 5h2.4m-0.4 1h1.4m0.6 0h1.4m-1.4 9h1.4m4.6 3h1.4m-11.4 2h1.4m11.6 1h2.4m-1.4 9h1.4m-17.4 2h1.4m5.6 2h1.4m-0.4 2h1.4m7.6 0h1.4m-6.4 3h1.4m-0.4 1h1.4m-0.4 3h1.4m0.6 2h1.4m-0.4 2h1.4m-7.4 1h1.4m-5.4 2h1.4m-0.4 1h1.4m2.6 1h1.4m1.6 0h1.4m-13.4 3h1.4m8.6 1h2.4m-17.4 3h1.4m12.6 4h1.4m-12.4 1h2.4m3.6 0h2.4m7.6 3h1.4m-2.4 4h1.4m-3.4 3h1.4m-15.4 3h1.4m-0.4 1h1.4m4.6 4h2.4m1.6 0h1.4m-7.4 6h1.4m5.6 0h1.4" stroke="#535373"/><path d="M13 0.5h1.4m4.6 0h1.4m-4.4 1h1.4m-2.4 1h1.4m-2.4 1h1.4m2.6 0h1.4m-18.4 4h1.4m0.6 2h1.4m8.6 2h2.4m-8.4 2h1.4m-7.4 1h1.4m2.6 0h1.4m7.6 0h1.4m1.6 0h2.4m-11.4 2h1.4m4.6 0h1.4m-12.4 1h1.4m8.6 0h1.4m-8.4 1h1.4m-3.4 1h1.4m3.6 0h2.4m-10.4 2h1.4m7.6 1h1.4m7.6 0h1.4m-16.4 1h1.4m5.6 5h1.4m-9.4 1h1.4m-3.4 1h1.4m9.6 1h1.4m2.6 1h1.4m-5.4 2h1.4m-11.4 2h1.4m2.6 5h1.4m-1.4 4h2.4m-1.4 1h1.4m4.6 0h1.4m-12.4 1h1.4m3.6 0h1.4m4.6 0h2.4m-9.4 4h1.4m4.6 1h1.4m-8.4 2h1.4m0.6 0h2.4m2.6 0h1.4m-12.4 1h1.4m8.6 3h1.4m-1.4 4h1.4m-12.4 1h1.4m2.6 0h1.4m7.6 0h3.4m2.6 0h1.4m-15.4 1h1.4m-0.4 4h1.4m3.6 1h1.4m-2.4 1h1.4m0.6 1h1.4m5.6 0h1.4m-19.4 4h3.4m5.6 0h2.4m1.6 0h1.4m-15.4 2h1.4m3.6 0h1.4m-3.4 3h1.4m0.6 5h1.4m-6.4 1h1.4m6.6 0h1.4m-3.4 2h1.4m0.6 1h1.4m-5.4 1h1.4m8.6 0h1.4m-15.4 2h2.4m1.6 0h1.4m1.6 0h1.4m-8.4 3h2.4m12.6 2h2.4m-7.4 1h1.4m0.6 0h1.4m-0.4 1h1.4m-7.4 1h1.4m4.6 1h1.4m-2.4 1h1.4m3.6 0h1.4m0.6 1h1.4m-5.4 3h1.4m-16.4 2h1.4m10.6 2h1.4m-12.4 1h1.4m4.6 2h1.4m9.6 0h1.4m-17.4 1h1.4m6.6 0h1.4m1.6 0h2.4m-11.4 1h1.4m-4.4 2h1.4m-0.4 1h1.4m2.6 0h1.4m3.6 0h3.4m-10.4 1h2.4m0.6 0h1.4m1.6 0h1.4m0.6 2h2.4m-4.4 1h1.4m0.6 0h1.4m0.6 0h1.4m-3.4 1h1.4m-0.4 1h1.4m-12.4 1h1.4m1.6 0h1.4m5.6 0h1.4m-9.4 1h1.4m0.6 0h1.4m0.6 0h1.4m0.6 0h1.4m1.6 0h1.4m3.6 1h1.4m-17.4 1h1.4m14.6 0h1.4m-17.4 1h1.4m13.6 0h1.4m-12.4 1h1.4m0.6 1h1.4m1.6 1h2.4m1.6 0h3.4m-10.4 1h1.4m8.6 0h1.4m-4.4 1h1.4m-13.4 1h1.4m1.6 0h1.4m-1.4 2h2.4m0.6 0h1.4m7.6 2h1.4m-1.4 1h1.4m-10.4 1h1.4m4.6 0h1.4m-3.4 2h1.4m-6.4 2h1.4m6.6 4h1.4m-14.4 1h1.4m6.6 0h1.4m1.6 2h1.4m-4.4 1h2.4m-2.4 3h1.4m-9.4 1h1.4m-1.4 3h1.4m1.6 1h1.4m0.6 0h2.4m8.6 0h1.4m-10.4 1h1.4m3.6 0h1.4m-12.4 2h1.4m2.6 2h1.4m3.6 0h1.4m0.6 0h1.4m1.6 0h2.4m-16.4 1h1.4m-2.4 1h1.4m8.6 0h1.4m-13.4 1h1.4m-2.4 2h1.4m1.6 3h1.4m14.6 2h1.4m-16.4 3h1.4m3.6 3h1.4m1.6 1h1.4m4.6 0h1.4m-5.4 4h3.4m-14.4 2h2.4m0.6 0h1.4m3.6 0h1.4m-12.4 4h1.4m3.6 0h2.4m3.6 0h1.4m2.6 0h1.4m2.6 0h1.4" stroke="#595c79"/><path d="M3 0.5h1.4m10.6 0h1.4m-8.4 1h1.4m3.6 0h1.4m0.6 0h1.4m-9.4 1h1.4m5.6 0h1.4m-12.4 1h1.4m5.6 0h1.4m0.6 0h1.4m-13.4 1h1.4m1.6 0h1.4m0.6 0h1.4m3.6 3h2.4m5.6 0h1.4m-3.4 3h2.4m-14.4 1h1.4m3.6 0h1.4m6.6 0h1.4m-18.4 1h2.4m14.6 0h1.4m-15.4 1h1.4m-4.4 1h1.4m4.6 0h1.4m2.6 1h1.4m-6.4 1h2.4m7.6 0h1.4m1.6 0h1.4m-11.4 1h1.4m6.6 0h1.4m-2.4 1h1.4m-16.4 1h2.4m4.6 0h2.4m-7.4 2h1.4m1.6 0h1.4m5.6 0h1.4m0.6 0h1.4m1.6 0h1.4m-15.4 1h1.4m3.6 0h1.4m1.6 0h2.4m-8.4 1h3.4m2.6 1h1.4m-7.4 1h1.4m1.6 0h1.4m7.6 0h1.4m-9.4 1h1.4m-10.4 1h1.4m1.6 0h1.4m11.6 0h1.4m-17.4 1h1.4m10.6 0h1.4m-5.4 1h1.4m-3.4 2h1.4m9.6 0h1.4m-11.4 1h1.4m-6.4 1h1.4m0.6 0h1.4m3.6 0h1.4m4.6 0h1.4m-13.4 1h1.4m-0.4 1h1.4m4.6 0h1.4m-4.4 1h1.4m8.6 2h1.4m-13.4 1h1.4m7.6 0h1.4m-4.4 1h1.4m1.6 0h1.4m3.6 0h1.4m-15.4 1h1.4m1.6 0h1.4m5.6 0h1.4m-6.4 1h1.4m-10.4 1h1.4m0.6 1h1.4m14.6 1h1.4m-8.4 1h1.4m-9.4 1h2.4m1.6 0h3.4m-4.4 3h1.4m-5.4 1h1.4m2.6 0h2.4m3.6 0h1.4m4.6 0h1.4m-20.4 1h1.4m0.6 0h2.4m0.6 0h1.4m3.6 0h1.4m1.6 0h2.4m-3.4 1h2.4m4.6 0h1.4m-16.4 1h1.4m5.6 0h1.4m2.6 1h1.4m-14.4 1h1.4m3.6 0h1.4m-6.4 2h1.4m0.6 0h1.4m2.6 0h1.4m5.6 1h1.4m-15.4 3h2.4m0.6 0h1.4m1.6 0h2.4m4.6 0h2.4m-11.4 1h1.4m0.6 0h1.4m0.6 0h3.4m4.6 0h2.4m-19.4 1h1.4m5.6 0h1.4m-5.4 2h1.4m1.6 1h1.4m2.6 0h1.4m-11.4 1h1.4m0.6 0h1.4m3.6 0h2.4m-9.4 1h1.4m8.6 0h1.4m2.6 0h1.4m-15.4 2h2.4m1.6 3h1.4m1.6 0h2.4m3.6 0h1.4m0.6 0h1.4m0.6 0h1.4m-18.4 1h1.4m3.6 0h3.4m8.6 0h1.4m-17.4 1h1.4m4.6 1h1.4m2.6 0h1.4m1.6 0h2.4m-8.4 1h1.4m-6.4 1h1.4m5.6 1h1.4m2.6 0h1.4m-9.4 1h1.4m9.6 1h1.4m-4.4 1h1.4m-10.4 1h1.4m5.6 0h1.4m-12.4 1h1.4m15.6 0h1.4m-12.4 1h1.4m1.6 0h1.4m1.6 0h1.4m-13.4 2h1.4m2.6 0h1.4m5.6 0h1.4m-9.4 1h1.4m-2.4 1h1.4m0.6 0h1.4m0.6 0h1.4m6.6 1h1.4m-4.4 1h1.4m4.6 0h1.4m-15.4 1h1.4m-4.4 1h1.4m10.6 0h2.4m-13.4 1h1.4m1.6 0h1.4m-6.4 1h2.4m5.6 1h1.4m2.6 0h1.4m0.6 0h1.4m-13.4 1h1.4m5.6 0h1.4m8.6 0h1.4m-15.4 1h1.4m-4.4 1h1.4m1.6 0h1.4m5.6 0h1.4m1.6 0h1.4m2.6 0h1.4m-6.4 1h1.4m-15.4 1h1.4m5.6 0h1.4m-5.4 1h1.4m2.6 0h1.4m6.6 0h1.4m0.6 1h1.4m-13.4 1h2.4m3.6 0h3.4m4.6 0h1.4m-17.4 1h1.4m11.6 0h1.4m-4.4 2h1.4m3.6 0h1.4m-10.4 1h1.4m0.6 0h1.4m-9.4 1h1.4m6.6 0h1.4m0.6 0h3.4m0.6 0h2.4m-15.4 1h1.4m6.6 0h1.4m2.6 0h2.4m-18.4 1h1.4m1.6 0h1.4m11.6 0h2.4m-14.4 1h1.4m3.6 0h1.4m-5.4 2h3.4m0.6 0h2.4m-11.4 1h1.4m13.6 0h1.4m-14.4 1h2.4m1.6 0h1.4m-0.4 1h2.4m-8.4 1h1.4m0.6 0h1.4m1.6 0h1.4m0.6 0h1.4m1.6 0h1.4m-12.4 1h1.4m-1.4 1h1.4m2.6 0h1.4m3.6 1h1.4m4.6 0h1.4m-7.4 1h1.4m-10.4 2h1.4m1.6 0h1.4m1.6 0h1.4m11.6 0h1.4m-18.4 1h2.4m2.6 0h1.4m5.6 0h1.4m-14.4 1h1.4m13.6 0h1.4m-7.4 2h1.4m0.6 0h1.4m-13.4 1h1.4m1.6 0h1.4m0.6 0h1.4m0.6 0h3.4m0.6 0h1.4m4.6 1h1.4m-14.4 1h1.4m4.6 0h1.4m1.6 0h1.4m-13.4 3h1.4m5.6 0h1.4m9.6 0h1.4m-19.4 2h1.4m0.6 0h1.4m11.6 0h1.4m-17.4 2h2.4m5.6 0h1.4m2.6 0h1.4m-13.4 1h2.4m11.6 0h2.4m-14.4 5h1.4m0.6 0h1.4m8.6 0h1.4m0.6 0h1.4m1.6 0h1.4m-2.4 2h1.4m-15.4 1h1.4m-4.4 2h1.4m7.6 0h1.4m0.6 0h1.4m3.6 0h1.4m-15.4 1h1.4m6.6 1h1.4m2.6 0h1.4m-16.4 1h1.4m1.6 0h2.4m0.6 0h1.4m-7.4 1h1.4m1.6 0h1.4m-3.4 1h1.4m13.6 0h1.4m1.6 0h1.4m-17.4 1h1.4m9.6 0h1.4m0.6 0h1.4m-5.4 1h2.4m1.6 0h1.4m-14.4 2h2.4m9.6 0h1.4m2.6 0h1.4m-18.4 1h1.4m0.6 0h1.4m-4.4 1h1.4m-2.4 1h1.4m2.6 0h1.4m2.6 0h1.4m3.6 0h2.4m-14.4 1h1.4m10.6 0h1.4m0.6 0h1.4m-10.4 1h1.4m-3.4 1h1.4m1.6 0h1.4m9.6 0h1.4m-19.4 1h2.4m0.6 0h1.4m5.6 0h1.4m0.6 0h1.4m-12.4 1h1.4m4.6 0h1.4m4.6 0h1.4m3.6 0h1.4m-18.4 1h1.4m1.6 0h2.4m1.6 0h1.4m5.6 0h1.4m1.6 0h1.4m-19.4 1h1.4m3.6 0h1.4m-4.4 2h1.4m4.6 1h1.4m-5.4 1h1.4m4.6 0h1.4m4.6 0h1.4m-15.4 1h1.4m5.6 1h2.4m-11.4 1h1.4m4.6 0h2.4m3.6 0h1.4m-8.4 1h1.4m3.6 0h1.4m-9.4 1h1.4m14.6 0h1.4m-7.4 1h2.4m-4.4 1h1.4m4.6 0h2.4m-15.4 2h1.4m5.6 0h1.4m7.6 0h1.4m-5.4 1h1.4m-15.4 1h1.4m12.6 0h1.4m-14.4 1h1.4m5.6 0h2.4m3.6 0h1.4m-10.4 1h1.4m-4.4 1h1.4m2.6 0h2.4m9.6 0h1.4m-18.4 1h1.4m9.6 0h2.4m2.6 0h1.4m-18.4 1h1.4m2.6 0h1.4m1.6 0h2.4m2.6 0h1.4m-13.4 1h1.4m1.6 0h1.4m3.6 0h1.4m4.6 0h1.4m-14.4 3h1.4m6.6 0h1.4" stroke="#60657f"/><path d="M10 0.5h1.4m4.6 0h1.4m-17.4 1h1.4m0.6 0h1.4m0.6 0h1.4m1.6 0h1.4m5.6 0h1.4m2.6 0h1.4m-11.4 1h1.4m2.6 0h1.4m-11.4 1h1.4m2.6 0h1.4m5.6 0h1.4m-4.4 1h1.4m2.6 0h1.4m3.6 0h1.4m-6.4 1h1.4m3.6 0h1.4m-13.4 1h1.4m0.6 0h1.4m-5.4 1h1.4m10.6 0h1.4m-17.4 1h1.4m11.6 0h1.4m0.6 0h1.4m0.6 0h1.4m-13.4 1h1.4m3.6 0h2.4m1.6 0h3.4m-17.4 1h1.4m5.6 0h1.4m4.6 0h2.4m-15.4 1h1.4m7.6 0h1.4m0.6 0h1.4m1.6 0h1.4m-14.4 1h1.4m5.6 0h1.4m0.6 0h2.4m-13.4 1h1.4m0.6 0h1.4m14.6 0h1.4m-16.4 1h1.4m5.6 0h1.4m0.6 0h1.4m1.6 0h2.4m-0.4 1h1.4m-7.4 1h1.4m-10.4 1h1.4m10.6 0h1.4m-5.4 1h2.4m3.6 0h1.4m-15.4 1h1.4m2.6 0h1.4m3.6 0h1.4m1.6 0h2.4m1.6 0h1.4m-19.4 1h1.4m3.6 0h1.4m12.6 0h1.4m-16.4 1h1.4m1.6 0h1.4m0.6 0h3.4m-10.4 1h1.4m3.6 0h1.4m4.6 0h1.4m3.6 0h1.4m-16.4 1h1.4m6.6 0h1.4m1.6 0h1.4m3.6 0h1.4m-18.4 1h1.4m2.6 0h1.4m-4.4 1h1.4m4.6 0h2.4m0.6 0h1.4m-10.4 1h1.4m0.6 0h1.4m-0.4 1h1.4m1.6 0h1.4m6.6 0h1.4m-16.4 1h1.4m13.6 0h1.4m0.6 0h1.4m-9.4 1h1.4m1.6 0h2.4m-14.4 1h1.4m3.6 0h1.4m2.6 0h1.4m0.6 0h1.4m-9.4 1h1.4m2.6 0h1.4m-7.4 1h1.4m0.6 0h2.4m-1.4 1h1.4m0.6 0h1.4m0.6 0h1.4m2.6 0h1.4m3.6 0h1.4m-19.4 1h1.4m10.6 0h1.4m0.6 0h2.4m-10.4 1h1.4m2.6 0h1.4m3.6 0h1.4m-17.4 1h1.4m6.6 0h1.4m4.6 0h1.4m-5.4 1h2.4m-12.4 1h1.4m2.6 0h1.4m2.6 0h1.4m6.6 0h1.4m-15.4 1h1.4m2.6 0h1.4m1.6 0h1.4m-10.4 1h1.4m0.6 0h1.4m1.6 0h2.4m2.6 0h1.4m-10.4 1h4.4m8.6 0h1.4m-7.4 1h1.4m1.6 0h2.4m-13.4 1h1.4m17.6 0h1.4m-18.4 1h1.4m5.6 0h1.4m6.6 0h1.4m0.6 0h1.4m-15.4 1h1.4m-0.4 1h1.4m-6.4 1h1.4m0.6 0h1.4m6.6 0h2.4m3.6 0h1.4m-12.4 1h1.4m1.6 0h1.4m4.6 1h3.4m-12.4 1h1.4m2.6 0h2.4m3.6 0h1.4m-16.4 1h1.4m6.6 0h1.4m4.6 0h1.4m0.6 0h2.4m-15.4 1h1.4m1.6 0h2.4m1.6 0h1.4m3.6 0h1.4m-17.4 1h1.4m6.6 0h1.4m5.6 1h1.4m-14.4 1h2.4m0.6 0h1.4m9.6 0h1.4m-12.4 1h1.4m10.6 0h1.4m0.6 0h1.4m-19.4 2h1.4m2.6 0h1.4m0.6 0h1.4m3.6 0h1.4m0.6 0h1.4m2.6 0h2.4m-14.4 1h1.4m4.6 0h1.4m4.6 0h1.4m-19.4 1h1.4m12.6 0h1.4m-10.4 2h1.4m9.6 0h1.4m-15.4 1h1.4m8.6 0h1.4m-5.4 1h2.4m0.6 0h1.4m0.6 0h1.4m-8.4 1h1.4m6.6 0h1.4m-14.4 2h1.4m4.6 0h2.4m6.6 0h1.4m-14.4 1h1.4m0.6 0h1.4m4.6 0h1.4m0.6 0h1.4m2.6 0h1.4m-16.4 1h1.4m0.6 0h1.4m10.6 0h1.4m-17.4 1h1.4m1.6 0h1.4m7.6 0h1.4m5.6 0h1.4m-16.4 1h1.4m12.6 0h1.4m-13.4 1h1.4m3.6 0h1.4m-1.4 1h1.4m1.6 1h1.4m2.6 0h2.4m-12.4 1h1.4m2.6 0h1.4m2.6 0h1.4m-17.4 1h1.4m12.6 0h1.4m-11.4 1h1.4m6.6 0h1.4m5.6 0h1.4m-11.4 1h1.4m4.6 0h1.4m1.6 0h1.4m-12.4 1h3.4m1.6 0h1.4m4.6 0h2.4m-13.4 1h1.4m4.6 0h1.4m3.6 0h2.4m-20.4 1h1.4m3.6 0h1.4m1.6 0h1.4m0.6 0h1.4m0.6 0h1.4m0.6 0h1.4m2.6 0h2.4m-9.4 1h1.4m1.6 0h2.4m2.6 0h1.4m-19.4 1h1.4m6.6 0h1.4m2.6 0h1.4m0.6 0h1.4m2.6 0h1.4m-18.4 1h2.4m1.6 0h1.4m5.6 0h1.4m1.6 0h1.4m-17.4 1h1.4m6.6 0h1.4m1.6 0h1.4m0.6 0h1.4m-13.4 1h1.4m0.6 0h1.4m12.6 0h1.4m-6.4 1h1.4m2.6 0h3.4m-19.4 1h1.4m9.6 0h1.4m0.6 0h1.4m0.6 0h2.4m-17.4 1h1.4m4.6 0h1.4m7.6 0h2.4m-15.4 2h1.4m7.6 0h1.4m1.6 0h1.4m1.6 0h1.4m-12.4 1h1.4m1.6 0h2.4m2.6 0h1.4m-2.4 1h2.4m3.6 0h1.4m-20.4 1h1.4m3.6 0h2.4m0.6 0h1.4m1.6 0h2.4m1.6 0h1.4m2.6 0h1.4m-14.4 1h1.4m-2.4 1h1.4m0.6 0h2.4m-9.4 1h1.4m2.6 0h2.4m2.6 0h2.4m-4.4 1h1.4m2.6 0h1.4m2.6 0h1.4m0.6 0h2.4m-19.4 1h1.4m1.6 0h1.4m2.6 0h2.4m-6.4 1h1.4m6.6 0h1.4m-1.4 1h1.4m3.6 0h1.4m-9.4 1h1.4m3.6 0h2.4m0.6 0h1.4m-15.4 1h1.4m9.6 0h1.4m1.6 0h1.4m-13.4 1h1.4m-4.4 1h4.4m8.6 0h1.4m1.6 0h2.4m-19.4 1h1.4m2.6 0h1.4m1.6 0h1.4m-7.4 1h1.4m5.6 0h3.4m-8.4 1h1.4m6.6 0h1.4m1.6 0h1.4m-11.4 1h1.4m0.6 0h1.4m11.6 0h1.4m-18.4 1h1.4m2.6 0h1.4m11.6 0h1.4m-17.4 1h1.4m2.6 0h1.4m1.6 0h1.4m2.6 0h2.4m1.6 0h1.4m-10.4 1h1.4m3.6 0h2.4m2.6 0h1.4m-20.4 1h1.4m6.6 0h1.4m3.6 0h1.4m0.6 0h1.4m2.6 0h1.4m-19.4 1h1.4m14.6 0h2.4m-11.4 1h1.4m1.6 0h2.4m5.6 0h1.4m-19.4 1h1.4m3.6 0h1.4m0.6 0h1.4m6.6 0h1.4m1.6 0h1.4m-13.4 1h1.4m1.6 0h1.4m2.6 0h1.4m0.6 0h1.4m-17.4 1h1.4m3.6 0h1.4m3.6 0h1.4m7.6 0h1.4m-11.4 1h1.4m7.6 0h2.4m-18.4 1h2.4m2.6 0h1.4m2.6 0h1.4m4.6 0h1.4m-7.4 1h1.4m1.6 0h4.4m-18.4 1h1.4m2.6 0h1.4m2.6 0h1.4m1.6 0h1.4m0.6 0h1.4m4.6 0h1.4m-20.4 1h1.4m11.6 0h1.4m-14.4 1h1.4m1.6 0h1.4m1.6 0h1.4m1.6 1h2.4m2.6 0h1.4m1.6 0h1.4m-2.4 1h1.4m-10.4 1h1.4m-5.4 1h1.4m0.6 0h2.4m2.6 0h1.4m1.6 0h1.4m1.6 0h1.4m-17.4 1h2.4m0.6 0h1.4m1.6 0h1.4m3.6 0h1.4m0.6 0h2.4m2.6 0h2.4m-19.4 1h2.4m6.6 0h1.4m1.6 0h1.4m-14.4 1h1.4m4.6 0h1.4m1.6 0h1.4m-10.4 1h1.4m16.6 0h1.4m-19.4 1h1.4m1.6 0h2.4m0.6 0h1.4m3.6 0h1.4m3.6 0h1.4m1.6 0h1.4m-20.4 1h1.4m0.6 0h2.4m3.6 0h2.4m-3.4 1h1.4m1.6 0h1.4m3.6 0h1.4m-14.4 1h1.4m10.6 0h2.4m1.6 0h1.4m-15.4 1h1.4m2.6 0h1.4m1.6 0h1.4m0.6 0h1.4m0.6 0h1.4m0.6 0h1.4m-15.4 1h1.4m13.6 0h1.4m-16.4 1h1.4m0.6 0h1.4m-4.4 1h3.4m11.6 0h1.4m-18.4 1h1.4m2.6 0h1.4m1.6 1h1.4m1.6 0h1.4m4.6 0h1.4m-6.4 1h1.4m3.6 0h2.4m0.6 0h1.4m-16.4 1h1.4m-4.4 1h1.4m10.6 0h1.4m2.6 0h2.4m-6.4 2h1.4m2.6 0h1.4m0.6 0h1.4m-19.4 1h3.4m0.6 0h1.4m11.6 0h2.4m-19.4 1h1.4m5.6 0h2.4m1.6 0h1.4m-5.4 1h1.4m3.6 0h1.4m-13.4 1h2.4m7.6 0h1.4m0.6 0h1.4m-13.4 1h1.4m2.6 0h2.4m1.6 0h1.4m2.6 0h1.4m1.6 0h1.4m-16.4 1h1.4m2.6 0h1.4m3.6 0h1.4m-10.4 1h1.4m16.6 0h1.4m-3.4 1h1.4m-16.4 1h1.4m-2.4 1h2.4m4.6 0h1.4m4.6 1h1.4m3.6 0h1.4m-19.4 2h1.4m3.6 0h1.4m4.6 0h1.4m-11.4 1h1.4m9.6 0h1.4m-12.4 1h2.4m4.6 0h1.4m5.6 0h3.4m-17.4 1h1.4m1.6 0h1.4m2.6 0h2.4m5.6 0h1.4m-17.4 1h1.4m0.6 0h1.4m0.6 0h1.4m0.6 0h1.4m0.6 0h1.4m2.6 0h2.4m1.6 0h1.4m-15.4 1h1.4m10.6 0h2.4m-12.4 1h1.4m0.6 0h1.4m2.6 0h1.4m-12.4 1h1.4m0.6 0h1.4m4.6 0h1.4m2.6 0h1.4m0.6 0h1.4m1.6 0h1.4m-12.4 1h2.4m3.6 0h1.4m2.6 0h1.4m-15.4 1h1.4m13.6 0h1.4m-16.4 1h1.4m4.6 1h1.4m9.6 0h1.4m-15.4 2h1.4m5.6 0h1.4m1.6 0h1.4m-16.4 1h2.4m9.6 0h1.4m1.6 0h2.4m1.6 0h1.4m-9.4 1h1.4m3.6 0h2.4m-13.4 1h1.4m1.6 0h1.4m1.6 0h1.4m6.6 1h1.4m-6.4 1h1.4m0.6 0h1.4m-13.4 2h3.4m0.6 0h1.4m3.6 0h1.4m3.6 0h1.4m-19.4 1h2.4m5.6 0h1.4m1.6 0h1.4m0.6 0h1.4m0.6 0h1.4m2.6 0h1.4m-19.4 1h1.4m3.6 0h1.4m0.6 0h1.4m1.6 0h1.4m3.6 0h1.4m-15.4 1h1.4m2.6 1h1.4m4.6 0h1.4m4.6 0h2.4m-20.4 1h1.4m1.6 0h1.4m2.6 0h1.4m2.6 0h1.4m1.6 0h1.4m3.6 0h1.4m-15.4 1h1.4m0.6 0h1.4m-8.4 1h2.4m3.6 0h1.4m-3.4 1h1.4m3.6 0h1.4m0.6 0h1.4m2.6 0h1.4m-9.4 1h1.4m3.6 0h1.4m3.6 0h1.4m-5.4 1h1.4m-10.4 1h1.4m12.6 0h1.4m-18.4 2h1.4m5.6 0h1.4m8.6 0h1.4" stroke="#666e86"/><path d="M0 0.5h1.4m0.6 0h1.4m7.6 0h1.4m1.6 0h1.4m1.6 0h1.4m-13.4 1h2.4m1.6 0h3.4m4.6 0h1.4m0.6 0h1.4m-16.4 1h1.4m0.6 0h1.4m5.6 0h1.4m1.6 0h1.4m1.6 0h1.4m-15.4 1h1.4m1.6 0h2.4m5.6 0h2.4m0.6 0h1.4m-16.4 1h1.4m0.6 0h1.4m1.6 0h1.4m1.6 0h1.4m-7.4 1h1.4m3.6 0h1.4m0.6 0h1.4m-12.4 1h1.4m13.6 0h2.4m-17.4 1h1.4m12.6 0h1.4m1.6 0h1.4m-12.4 2h1.4m0.6 0h1.4m-11.4 1h1.4m0.6 0h1.4m0.6 0h2.4m0.6 0h1.4m1.6 0h2.4m6.6 0h1.4m-18.4 1h2.4m0.6 0h2.4m3.6 0h1.4m3.6 0h1.4m-13.4 1h1.4m1.6 0h2.4m4.6 0h1.4m-14.4 1h1.4m16.6 0h1.4m-18.4 1h1.4m0.6 0h1.4m1.6 0h3.4m8.6 0h1.4m-18.4 1h1.4m7.6 0h2.4m1.6 0h2.4m1.6 0h1.4m-19.4 1h1.4m1.6 0h1.4m7.6 0h1.4m-13.4 1h1.4m6.6 0h1.4m0.6 0h1.4m5.6 0h2.4m-19.4 1h1.4m2.6 0h1.4m1.6 0h1.4m2.6 0h1.4m-10.4 1h1.4m7.6 0h1.4m2.6 0h1.4m-16.4 1h1.4m10.6 0h1.4m2.6 0h1.4m-18.4 1h1.4m6.6 0h1.4m-9.4 1h2.4m1.6 0h1.4m3.6 0h1.4m3.6 0h1.4m-7.4 1h1.4m2.6 0h2.4m2.6 0h2.4m-6.4 1h2.4m2.6 0h1.4m-19.4 1h1.4m11.6 0h1.4m-6.4 1h1.4m4.6 0h1.4m-11.4 1h1.4m6.6 0h2.4m0.6 0h1.4m1.6 0h2.4m-4.4 1h1.4m-17.4 1h1.4m8.6 0h1.4m6.6 0h1.4m-13.4 1h1.4m2.6 0h1.4m2.6 0h1.4m-12.4 1h1.4m6.6 0h1.4m-10.4 1h1.4m8.6 0h3.4m-15.4 1h1.4m10.6 0h1.4m2.6 0h1.4m0.6 0h1.4m-15.4 1h1.4m5.6 0h1.4m1.6 0h1.4m-15.4 1h3.4m1.6 0h1.4m6.6 0h1.4m0.6 0h1.4m-10.4 1h1.4m1.6 0h1.4m8.6 0h1.4m-16.4 1h2.4m5.6 0h1.4m-4.4 1h1.4m-9.4 1h1.4m0.6 1h2.4m1.6 0h2.4m3.6 0h1.4m0.6 0h3.4m-9.4 1h1.4m1.6 0h1.4m5.6 0h1.4m-20.4 1h1.4m0.6 0h1.4m10.6 0h1.4m0.6 0h1.4m-12.4 1h1.4m2.6 0h1.4m3.6 0h1.4m2.6 0h1.4m-15.4 1h3.4m2.6 0h1.4m1.6 0h3.4m1.6 0h1.4m-18.4 1h3.4m3.6 0h1.4m4.6 0h1.4m-14.4 1h1.4m1.6 0h1.4m2.6 0h3.4m5.6 0h3.4m-14.4 1h1.4m8.6 0h1.4m0.6 0h2.4m-7.4 1h2.4m3.6 1h1.4m-20.4 1h2.4m0.6 0h1.4m0.6 0h1.4m1.6 0h1.4m5.6 0h1.4m0.6 0h1.4m-16.4 1h1.4m0.6 0h1.4m4.6 0h2.4m3.6 0h1.4m-0.4 2h1.4m-18.4 2h1.4m4.6 0h1.4m10.6 0h1.4m-18.4 1h1.4m3.6 0h1.4m0.6 0h2.4m2.6 0h4.4m0.6 0h1.4m-12.4 1h3.4m2.6 0h1.4m0.6 0h1.4m2.6 0h1.4m-20.4 1h1.4m1.6 0h1.4m1.6 0h1.4m2.6 0h1.4m1.6 0h1.4m1.6 0h1.4m-12.4 1h1.4m2.6 0h1.4m5.6 0h2.4m-16.4 1h1.4m6.6 0h1.4m0.6 0h2.4m3.6 0h2.4m-17.4 1h1.4m1.6 0h1.4m3.6 0h1.4m2.6 0h2.4m1.6 0h1.4m-20.4 1h1.4m4.6 0h1.4m2.6 0h1.4m5.6 0h1.4m0.6 0h1.4m-19.4 1h1.4m0.6 0h1.4m-2.4 1h2.4m1.6 0h1.4m7.6 0h1.4m-12.4 1h1.4m4.6 0h1.4m4.6 0h2.4m0.6 0h1.4m-20.4 1h1.4m9.6 0h1.4m0.6 0h1.4m4.6 0h1.4m-20.4 1h1.4m0.6 0h2.4m4.6 0h1.4m-6.4 1h1.4m8.6 0h1.4m2.6 0h1.4m-13.4 1h1.4m4.6 0h1.4m3.6 0h3.4m-19.4 1h1.4m3.6 0h2.4m7.6 0h2.4m-15.4 1h1.4m8.6 0h1.4m1.6 0h2.4m-16.4 1h1.4m0.6 0h1.4m1.6 0h2.4m3.6 0h1.4m0.6 0h1.4m-15.4 1h1.4m2.6 0h1.4m3.6 0h1.4m3.6 0h1.4m-16.4 1h1.4m1.6 0h1.4m6.6 0h2.4m2.6 0h1.4m-8.4 1h1.4m-7.4 1h1.4m3.6 0h1.4m0.6 0h1.4m1.6 0h1.4m0.6 0h1.4m0.6 0h1.4m0.6 0h1.4m-11.4 1h2.4m-6.4 1h3.4m2.6 0h1.4m0.6 0h1.4m-13.4 1h2.4m0.6 0h1.4m5.6 0h1.4m-12.4 1h1.4m0.6 0h1.4m1.6 0h2.4m1.6 0h1.4m0.6 0h1.4m2.6 0h1.4m-13.4 1h2.4m1.6 0h1.4m8.6 0h1.4m-16.4 1h4.4m0.6 0h4.4m0.6 0h1.4m4.6 0h1.4m-3.4 1h1.4m-16.4 1h1.4m7.6 0h1.4m2.6 0h1.4m3.6 0h1.4m-13.4 1h1.4m3.6 0h1.4m3.6 0h1.4m-13.4 1h2.4m3.6 0h1.4m1.6 0h2.4m2.6 0h1.4m-11.4 1h1.4m3.6 0h2.4m-14.4 1h1.4m0.6 0h1.4m1.6 0h1.4m0.6 0h1.4m6.6 0h1.4m-6.4 1h1.4m0.6 0h1.4m-13.4 1h1.4m2.6 0h1.4m0.6 0h2.4m7.6 0h1.4m-16.4 1h1.4m0.6 0h1.4m5.6 0h1.4m2.6 0h1.4m0.6 0h1.4m-3.4 1h2.4m0.6 0h1.4m-20.4 1h1.4m0.6 0h1.4m1.6 0h1.4m0.6 0h1.4m6.6 0h3.4m-8.4 1h1.4m5.6 0h1.4m-10.4 1h1.4m1.6 0h1.4m2.6 0h1.4m-4.4 1h1.4m-12.4 1h1.4m0.6 0h1.4m1.6 0h1.4m5.6 0h1.4m-14.4 1h1.4m2.6 0h1.4m2.6 0h1.4m6.6 0h1.4m-11.4 1h1.4m1.6 0h1.4m1.6 0h1.4m0.6 0h1.4m-15.4 1h1.4m8.6 0h1.4m4.6 0h3.4m-19.4 1h1.4m2.6 0h1.4m1.6 0h1.4m1.6 0h1.4m0.6 0h1.4m4.6 0h2.4m-18.4 1h1.4m2.6 0h1.4m1.6 0h3.4m-11.4 1h1.4m1.6 0h1.4m3.6 0h1.4m6.6 0h1.4m-18.4 1h1.4m6.6 0h1.4m3.6 0h1.4m1.6 0h1.4m0.6 0h1.4m-11.4 1h2.4m4.6 0h1.4m-15.4 1h2.4m1.6 0h1.4m1.6 0h1.4m7.6 0h1.4m-16.4 1h4.4m8.6 0h1.4m-14.4 1h1.4m1.6 0h3.4m1.6 0h1.4m4.6 0h1.4m1.6 0h1.4m-20.4 1h2.4m14.6 0h1.4m-18.4 1h2.4m4.6 0h1.4m1.6 0h1.4m4.6 0h1.4m-16.4 2h1.4m3.6 0h3.4m2.6 0h2.4m-9.4 1h1.4m3.6 0h1.4m0.6 0h1.4m3.6 0h1.4m-11.4 1h1.4m7.6 0h1.4m-3.4 1h2.4m-12.4 1h2.4m0.6 0h1.4m0.6 0h2.4m-3.4 1h1.4m-5.4 1h1.4m9.6 0h4.4m-17.4 1h1.4m10.6 0h1.4m-11.4 1h1.4m6.6 0h5.4m0.6 0h2.4m-18.4 1h1.4m14.6 0h2.4m-19.4 1h1.4m0.6 0h1.4m0.6 0h1.4m0.6 0h1.4m7.6 0h3.4m-16.4 1h1.4m0.6 0h2.4m2.6 0h1.4m4.6 0h1.4m-16.4 1h1.4m4.6 0h2.4m4.6 0h1.4m0.6 0h2.4m0.6 0h1.4m-19.4 1h1.4m10.6 0h1.4m3.6 0h1.4m-18.4 1h1.4m9.6 0h1.4m-13.4 1h1.4m0.6 0h1.4m6.6 0h2.4m4.6 0h1.4m-9.4 1h1.4m0.6 0h1.4m2.6 0h1.4m0.6 0h1.4m-14.4 1h1.4m9.6 0h1.4m-12.4 1h1.4m6.6 0h1.4m0.6 0h1.4m0.6 0h4.4m-13.4 1h1.4m4.6 0h1.4m3.6 0h1.4m-18.4 1h2.4m3.6 0h1.4m0.6 0h1.4m-9.4 1h1.4m4.6 0h1.4m1.6 0h1.4m3.6 0h1.4m0.6 0h1.4m-17.4 1h1.4m2.6 0h1.4m4.6 0h2.4m0.6 0h1.4m2.6 0h1.4m-19.4 1h1.4m0.6 0h1.4m1.6 0h1.4m2.6 0h1.4m0.6 0h1.4m-9.4 1h2.4m2.6 0h1.4m-9.4 1h1.4m10.6 0h1.4m5.6 0h1.4m-12.4 1h1.4m2.6 0h1.4m5.6 0h1.4m-9.4 1h1.4m1.6 0h1.4m-10.4 1h2.4m2.6 0h2.4m-10.4 1h1.4m1.6 0h1.4m11.6 0h1.4m-19.4 1h1.4m13.6 0h1.4m2.6 0h1.4m-20.4 1h1.4m4.6 0h1.4m4.6 0h1.4m-2.4 1h1.4m2.6 0h1.4m0.6 0h3.4m-20.4 1h1.4m5.6 0h1.4m-5.4 1h1.4m4.6 0h2.4m-8.4 1h1.4m7.6 0h1.4m-7.4 1h2.4m0.6 0h1.4m-5.4 1h1.4m10.6 0h1.4m0.6 0h1.4m-16.4 1h2.4m0.6 0h1.4m0.6 0h1.4m3.6 0h1.4m3.6 0h1.4m-16.4 1h1.4m4.6 0h1.4m0.6 0h1.4m-9.4 1h1.4m2.6 0h1.4m8.6 0h1.4m-12.4 1h1.4m0.6 0h1.4m6.6 0h1.4m-11.4 1h2.4m5.6 0h1.4m-13.4 1h1.4m0.6 0h2.4m0.6 0h1.4m2.6 0h1.4m0.6 0h1.4m2.6 0h1.4m-15.4 1h1.4m1.6 0h2.4m7.6 0h3.4m-20.4 1h1.4m2.6 0h1.4m4.6 0h1.4m-9.4 1h1.4m0.6 0h1.4m4.6 0h1.4m3.6 0h1.4m-7.4 2h1.4m0.6 0h1.4m2.6 0h1.4m0.6 0h2.4m-16.4 1h1.4m0.6 0h1.4m5.6 0h1.4m0.6 0h1.4m1.6 0h2.4m-12.4 1h1.4m2.6 0h1.4m-4.4 1h1.4m1.6 0h1.4m5.6 0h1.4m-17.4 1h1.4m4.6 0h1.4m0.6 0h1.4m6.6 0h1.4m-18.4 1h1.4m3.6 0h1.4m3.6 0h1.4m4.6 0h1.4m-16.4 1h1.4m0.6 0h1.4m3.6 0h1.4m-5.4 1h1.4m2.6 0h1.4m8.6 0h1.4m-20.4 1h1.4m8.6 0h2.4m4.6 0h1.4m-4.4 1h2.4m1.6 0h2.4m-9.4 1h1.4m-11.4 1h1.4m2.6 0h1.4m3.6 0h2.4m1.6 0h2.4m-14.4 1h1.4m2.6 0h1.4m1.6 0h1.4m0.6 0h1.4m-3.4 1h1.4m2.6 0h2.4m-10.4 1h2.4m0.6 0h1.4m0.6 0h1.4m2.6 0h1.4m2.6 0h1.4m-17.4 1h1.4m8.6 0h1.4m0.6 0h1.4m-11.4 1h1.4m3.6 0h2.4m2.6 0h1.4m-3.4 1h1.4m-10.4 1h1.4m1.6 0h1.4m3.6 0h3.4m2.6 0h1.4m0.6 0h1.4m-20.4 1h1.4m3.6 0h1.4m8.6 0h1.4m0.6 0h1.4m-15.4 1h1.4m2.6 0h1.4m0.6 0h1.4m1.6 0h1.4m-11.4 1h2.4m0.6 0h2.4m2.6 0h1.4m0.6 0h1.4m-13.4 1h1.4m10.6 0h1.4m0.6 0h1.4m1.6 0h1.4m-18.4 1h1.4m6.6 0h1.4m4.6 0h1.4m1.6 0h1.4m0.6 0h1.4m-18.4 1h1.4m3.6 0h1.4m1.6 0h2.4m1.6 0h1.4m0.6 0h1.4m-16.4 1h1.4m5.6 0h1.4m6.6 0h1.4m-17.4 1h2.4m9.6 0h1.4m-9.4 1h2.4m4.6 0h2.4m4.6 0h1.4m-18.4 1h1.4m0.6 0h1.4m2.6 0h2.4m0.6 0h1.4m0.6 0h1.4m3.6 0h1.4m-18.4 1h1.4m0.6 0h1.4m6.6 0h1.4m2.6 0h1.4m2.6 0h2.4m-12.4 1h1.4m8.6 0h2.4m-19.4 1h1.4m13.6 0h1.4m-17.4 1h1.4m1.6 0h1.4m-1.4 1h1.4m4.6 0h1.4m1.6 0h2.4" stroke="#6c768c"/><path d="M1 0.5h1.4m1.6 0h4.4m3.6 1h1.4m-13.4 1h1.4m-0.4 1h1.4m1.6 0h1.4m1.6 0h1.4m2.6 0h1.4m2.6 0h1.4m-15.4 1h1.4m4.6 0h1.4m2.6 0h1.4m3.6 0h2.4m-16.4 1h2.4m7.6 0h1.4m1.6 0h1.4m0.6 0h1.4m-18.4 1h1.4m4.6 0h1.4m0.6 0h1.4m0.6 0h2.4m1.6 0h1.4m0.6 0h1.4m-14.4 1h1.4m1.6 0h2.4m3.6 0h2.4m0.6 0h1.4m-12.4 1h2.4m1.6 0h1.4m7.6 0h1.4m-13.4 1h1.4m0.6 0h1.4m0.6 0h1.4m3.6 0h1.4m-12.4 1h1.4m1.6 0h1.4m5.6 0h1.4m3.6 0h1.4m-11.4 1h1.4m9.6 0h1.4m-14.4 1h1.4m10.6 0h2.4m-9.4 2h1.4m-11.4 1h1.4m4.6 0h3.4m7.6 0h1.4m-16.4 1h1.4m2.6 0h1.4m1.6 0h1.4m-6.4 1h1.4m0.6 0h1.4m3.6 0h1.4m-11.4 1h1.4m9.6 0h1.4m2.6 0h3.4m-7.4 1h1.4m4.6 0h1.4m-16.4 1h1.4m12.6 0h1.4m-13.4 1h1.4m5.6 0h1.4m0.6 0h1.4m1.6 0h2.4m-15.4 1h2.4m8.6 0h2.4m-16.4 1h1.4m12.6 0h1.4m-16.4 1h1.4m12.6 0h1.4m0.6 0h1.4m-16.4 1h1.4m2.6 0h1.4m6.6 0h1.4m0.6 0h1.4m1.6 0h1.4m-20.4 1h1.4m2.6 0h1.4m4.6 0h1.4m0.6 0h1.4m3.6 0h1.4m-17.4 1h1.4m4.6 0h2.4m0.6 0h2.4m-9.4 1h2.4m4.6 0h1.4m1.6 0h1.4m0.6 0h1.4m-14.4 1h1.4m3.6 0h1.4m3.6 0h1.4m5.6 0h1.4m-20.4 1h1.4m7.6 0h1.4m1.6 0h1.4m2.6 0h1.4m0.6 0h2.4m-19.4 1h2.4m3.6 0h2.4m0.6 0h1.4m2.6 0h2.4m2.6 0h1.4m-19.4 1h1.4m1.6 0h1.4m5.6 0h1.4m6.6 0h1.4m-13.4 1h1.4m-8.4 1h1.4m0.6 0h1.4m2.6 0h4.4m7.6 0h1.4m-10.4 1h1.4m3.6 0h1.4m-14.4 1h1.4m1.6 0h2.4m3.6 0h1.4m0.6 0h2.4m-14.4 1h1.4m7.6 0h1.4m2.6 0h1.4m1.6 0h2.4m0.6 0h1.4m-13.4 1h1.4m1.6 0h3.4m-10.4 1h2.4m1.6 0h2.4m5.6 0h1.4m0.6 0h1.4m-17.4 1h1.4m-2.4 1h1.4m5.6 0h1.4m1.6 0h2.4m0.6 0h1.4m1.6 0h2.4m-14.4 1h3.4m-3.4 1h1.4m0.6 0h2.4m3.6 0h1.4m1.6 0h2.4m-16.4 1h1.4m4.6 0h1.4m-4.4 1h1.4m7.6 0h1.4m3.6 0h1.4m-19.4 1h1.4m3.6 0h1.4m7.6 0h1.4m0.6 0h1.4m-17.4 2h2.4m0.6 0h1.4m10.6 0h2.4m-17.4 1h3.4m5.6 0h1.4m7.6 0h1.4m-17.4 1h1.4m0.6 0h1.4m3.6 0h1.4m7.6 0h2.4m-20.4 1h1.4m12.6 0h1.4m-9.4 1h1.4m1.6 0h1.4m6.6 0h2.4m-10.4 1h2.4m4.6 0h1.4m0.6 0h1.4m-10.4 1h2.4m4.6 0h1.4m0.6 0h1.4m-12.4 1h1.4m0.6 0h1.4m1.6 0h2.4m2.6 0h1.4m0.6 0h1.4m-20.4 1h1.4m1.6 0h1.4m6.6 0h1.4m-12.4 1h2.4m2.6 0h1.4m7.6 0h1.4m-6.4 1h1.4m4.6 0h1.4m0.6 0h1.4m-18.4 1h5.4m1.6 0h2.4m3.6 0h1.4m-13.4 1h1.4m1.6 0h1.4m2.6 0h2.4m4.6 0h1.4m0.6 0h1.4m-16.4 1h1.4m3.6 0h2.4m-0.4 1h1.4m-6.4 2h1.4m6.6 0h1.4m0.6 0h1.4m1.6 0h3.4m-13.4 1h1.4m9.6 0h1.4m-15.4 1h1.4m0.6 0h2.4m0.6 0h2.4m0.6 0h1.4m4.6 0h1.4m-14.4 1h1.4m5.6 0h4.4m0.6 0h1.4m-9.4 1h2.4m0.6 0h1.4m2.6 0h1.4m-16.4 1h1.4m0.6 0h1.4m0.6 0h1.4m0.6 0h3.4m2.6 0h1.4m0.6 0h1.4m-14.4 1h1.4m1.6 0h1.4m4.6 0h1.4m0.6 0h3.4m-10.4 1h4.4m-10.4 1h1.4m1.6 0h1.4m0.6 0h1.4m2.6 0h1.4m3.6 0h1.4m0.6 0h1.4m0.6 0h1.4m-19.4 1h1.4m1.6 0h1.4m7.6 0h1.4m4.6 0h1.4m-14.4 1h2.4m1.6 0h2.4m-9.4 2h1.4m0.6 0h2.4m0.6 0h1.4m0.6 0h1.4m7.6 0h1.4m-17.4 1h2.4m3.6 0h1.4m3.6 0h1.4m2.6 0h1.4m-18.4 1h1.4m1.6 0h1.4m9.6 0h1.4m3.6 0h1.4m-14.4 1h1.4m6.6 0h1.4m1.6 0h1.4m-17.4 1h1.4m1.6 0h1.4m10.6 0h2.4m-17.4 1h1.4m10.6 0h1.4m-14.4 1h1.4m14.6 0h1.4m-15.4 1h2.4m0.6 0h1.4m-2.4 1h1.4m12.6 0h1.4m-17.4 1h1.4m0.6 0h1.4m0.6 0h1.4m6.6 0h2.4m2.6 0h1.4m-16.4 1h1.4m6.6 0h1.4m4.6 0h1.4m-19.4 1h1.4m1.6 0h1.4m3.6 0h1.4m3.6 0h1.4m4.6 0h1.4m-1.4 1h1.4m-19.4 1h3.4m0.6 0h1.4m2.6 0h2.4m7.6 0h1.4m-9.4 1h2.4m1.6 0h3.4m-14.4 1h1.4m0.6 0h1.4m-5.4 1h1.4m4.6 0h1.4m1.6 0h1.4m-3.4 1h1.4m7.6 0h1.4m-16.4 1h1.4m2.6 0h1.4m0.6 0h1.4m7.6 0h1.4m-15.4 1h1.4m1.6 0h1.4m1.6 0h1.4m0.6 0h1.4m0.6 0h1.4m2.6 0h1.4m-17.4 1h1.4m0.6 0h1.4m0.6 0h1.4m1.6 0h1.4m-9.4 2h1.4m0.6 0h1.4m0.6 0h2.4m6.6 0h1.4m-11.4 1h1.4m4.6 0h1.4m3.6 0h1.4m0.6 0h1.4m-14.4 1h1.4m0.6 0h1.4m1.6 0h1.4m2.6 0h2.4m-14.4 1h1.4m0.6 0h1.4m0.6 0h1.4m1.6 0h1.4m5.6 0h1.4m0.6 0h1.4m-15.4 1h1.4m13.6 0h1.4m-19.4 1h1.4m4.6 0h1.4m2.6 0h2.4m1.6 0h1.4m-9.4 1h1.4m8.6 1h1.4m-11.4 1h1.4m11.6 0h1.4m-14.4 1h1.4m5.6 0h2.4m0.6 0h1.4m1.6 0h1.4m-16.4 1h1.4m3.6 0h1.4m4.6 0h1.4m0.6 0h1.4m-16.4 1h1.4m3.6 0h1.4m1.6 0h1.4m0.6 0h2.4m0.6 0h2.4m-8.4 1h1.4m-10.4 1h1.4m3.6 0h1.4m2.6 0h1.4m-8.4 1h1.4m0.6 0h1.4m12.6 0h1.4m-8.4 1h1.4m1.6 0h1.4m-9.4 1h1.4m1.6 0h1.4m-9.4 1h3.4m13.6 0h1.4m-16.4 1h1.4m-4.4 1h1.4m2.6 0h1.4m3.6 0h1.4m4.6 0h1.4m0.6 0h2.4m-19.4 2h1.4m15.6 0h1.4m-12.4 1h1.4m1.6 0h2.4m-5.4 2h1.4m0.6 1h1.4m1.6 0h1.4m4.6 0h3.4m-16.4 1h1.4m3.6 0h1.4m0.6 0h2.4m4.6 0h1.4m-11.4 1h1.4m1.6 0h1.4m2.6 0h2.4m-17.4 1h1.4m3.6 0h1.4m12.6 0h1.4m-11.4 1h1.4m3.6 0h1.4m3.6 0h1.4m-19.4 1h1.4m9.6 0h1.4m5.6 0h1.4m-15.4 1h1.4m0.6 0h3.4m4.6 1h1.4m-15.4 1h1.4m9.6 0h1.4m2.6 0h1.4m1.6 1h1.4m-18.4 1h1.4m1.6 0h1.4m6.6 0h2.4m-9.4 1h2.4m4.6 0h1.4m1.6 0h2.4m0.6 0h1.4m-6.4 1h1.4m0.6 0h2.4m-13.4 1h1.4m2.6 0h1.4m1.6 0h1.4m3.6 0h1.4m0.6 0h1.4m-15.4 1h1.4m7.6 0h1.4m-13.4 1h1.4m0.6 1h1.4m4.6 0h1.4m3.6 0h1.4m-9.4 1h1.4m0.6 0h1.4m1.6 0h1.4m5.6 0h1.4m-17.4 1h1.4m12.6 0h1.4m-17.4 1h3.4m3.6 0h1.4m1.6 0h3.4m-13.4 1h1.4m4.6 0h2.4m0.6 0h1.4m-11.4 1h1.4m1.6 0h1.4m0.6 0h1.4m1.6 0h3.4m0.6 0h1.4m2.6 0h1.4m-14.4 1h1.4m0.6 0h2.4m2.6 0h3.4m-8.4 1h1.4m4.6 0h1.4m0.6 0h2.4m0.6 0h4.4m-20.4 1h2.4m3.6 0h1.4m2.6 0h2.4m1.6 0h2.4m-8.4 1h1.4m2.6 0h1.4m3.6 0h1.4m-18.4 1h1.4m0.6 0h1.4m2.6 0h2.4m4.6 0h3.4m1.6 0h1.4m-19.4 1h1.4m0.6 0h1.4m2.6 0h1.4m7.6 0h2.4m-17.4 1h1.4m5.6 0h1.4m0.6 0h1.4m4.6 0h3.4m-16.4 1h1.4m-1.4 1h1.4m11.6 0h1.4m-14.4 1h1.4m2.6 0h1.4m2.6 0h1.4m4.6 0h2.4m-18.4 1h1.4m0.6 0h1.4m3.6 0h1.4m2.6 0h1.4m0.6 0h1.4m0.6 0h1.4m-10.4 1h1.4m4.6 0h2.4m-8.4 1h1.4m1.6 0h1.4m-10.4 1h1.4m1.6 0h1.4m0.6 0h2.4m1.6 0h1.4m0.6 0h1.4m0.6 0h1.4m1.6 0h1.4m-17.4 1h3.4m4.6 0h1.4m1.6 0h1.4m0.6 0h1.4m1.6 0h1.4m-17.4 1h1.4m6.6 0h1.4m3.6 0h1.4m-14.4 1h1.4m9.6 0h1.4m-11.4 1h1.4m2.6 0h2.4m4.6 0h1.4m-9.4 1h1.4m6.6 0h1.4m2.6 0h1.4m-6.4 1h2.4m1.6 0h1.4m2.6 0h1.4m-12.4 1h1.4m-3.4 1h1.4m-4.4 1h1.4m1.6 0h1.4m2.6 0h2.4m-10.4 1h1.4m5.6 0h1.4m8.6 0h1.4m-8.4 1h2.4m-14.4 1h1.4m7.6 0h2.4m-7.4 1h1.4m0.6 0h1.4m5.6 0h1.4m1.6 0h1.4m0.6 0h1.4m-16.4 1h1.4m7.6 0h1.4m-11.4 1h2.4m1.6 0h1.4m0.6 0h1.4m7.6 0h2.4m-15.4 1h1.4m1.6 0h1.4m0.6 0h1.4m2.6 0h1.4m2.6 0h1.4m-17.4 1h1.4m0.6 0h2.4m1.6 0h1.4m10.6 0h1.4m-19.4 1h2.4m9.6 0h1.4m0.6 0h1.4m0.6 0h1.4m-18.4 1h1.4m5.6 0h1.4m4.6 0h3.4m1.6 0h1.4m-19.4 1h2.4m6.6 0h1.4m4.6 0h1.4m-15.4 1h2.4m3.6 0h1.4m1.6 0h1.4m7.6 0h1.4m-18.4 1h1.4m15.6 0h1.4m-16.4 1h1.4m1.6 0h1.4m0.6 0h1.4m3.6 0h1.4m-10.4 1h1.4m-1.4 1h1.4m4.6 0h1.4m0.6 0h1.4m-11.4 1h1.4m3.6 0h1.4m3.6 0h1.4m-5.4 2h1.4m0.6 0h1.4m3.6 0h1.4m-15.4 1h1.4m13.6 0h1.4m-18.4 1h1.4m4.6 0h1.4m8.6 0h1.4m-2.4 1h2.4m-15.4 1h1.4m2.6 0h1.4m3.6 0h2.4m0.6 0h1.4m-9.4 1h1.4m1.6 0h2.4m-9.4 1h1.4m1.6 0h1.4m0.6 0h1.4m3.6 0h1.4m-9.4 1h1.4m11.6 0h1.4" stroke="#737f93"/><path d="M8 0.5h1.4m2.6 0h1.4m-12.4 1h1.4m0.6 0h1.4m4.6 1h2.4m-9.4 2h1.4m4.6 0h1.4m3.6 0h1.4m0.6 0h1.4m1.6 0h1.4m-19.4 1h2.4m7.6 0h1.4m4.6 0h1.4m0.6 0h1.4m-18.4 1h1.4m10.6 0h1.4m-10.4 1h1.4m8.6 0h1.4m-15.4 1h1.4m0.6 0h1.4m2.6 0h2.4m10.6 0h1.4m-19.4 1h1.4m10.6 0h1.4m4.6 0h1.4m-11.4 1h1.4m1.6 0h1.4m-13.4 1h1.4m5.6 0h1.4m-5.4 1h1.4m0.6 0h1.4m3.6 0h1.4m1.6 0h1.4m-14.4 3h1.4m4.6 0h1.4m5.6 0h2.4m-15.4 1h1.4m7.6 0h1.4m1.6 0h1.4m-13.4 1h1.4m2.6 0h1.4m0.6 0h1.4m7.6 0h1.4m0.6 0h1.4m-18.4 1h1.4m1.6 0h2.4m3.6 0h1.4m-5.4 1h1.4m-0.4 1h1.4m-6.4 3h1.4m12.6 0h1.4m-12.4 1h2.4m0.6 0h3.4m1.6 0h1.4m2.6 0h1.4m1.6 0h1.4m-19.4 1h1.4m1.6 0h1.4m5.6 0h1.4m2.6 0h1.4m-15.4 1h1.4m4.6 0h1.4m2.6 0h1.4m1.6 1h1.4m-14.4 2h1.4m1.6 0h1.4m3.6 0h1.4m2.6 0h1.4m1.6 0h2.4m-10.4 1h1.4m-9.4 1h1.4m2.6 0h1.4m10.6 0h1.4m0.6 0h1.4m-19.4 1h1.4m6.6 0h2.4m-7.4 1h1.4m0.6 0h1.4m10.6 0h1.4m-1.4 1h1.4m-15.4 1h1.4m3.6 0h1.4m9.6 0h1.4m-17.4 1h1.4m10.6 0h2.4m0.6 0h1.4m-1.4 1h1.4m-14.4 1h1.4m6.6 0h1.4m-2.4 1h2.4m1.6 0h1.4m0.6 0h2.4m-8.4 1h1.4m4.6 1h1.4m-18.4 1h1.4m0.6 0h1.4m2.6 0h1.4m0.6 0h1.4m2.6 0h1.4m4.6 0h1.4m-18.4 1h2.4m3.6 0h1.4m0.6 0h1.4m1.6 0h1.4m-14.4 1h1.4m9.6 0h2.4m-2.4 1h2.4m1.6 0h1.4m-14.4 1h2.4m6.6 0h1.4m2.6 0h1.4m-16.4 1h1.4m2.6 1h2.4m1.6 0h1.4m2.6 0h1.4m-10.4 1h3.4m0.6 0h2.4m2.6 0h1.4m0.6 0h1.4m-3.4 1h1.4m-8.4 1h1.4m5.6 0h1.4m1.6 1h1.4m2.6 0h1.4m-15.4 1h3.4m2.6 0h1.4m-10.4 1h2.4m8.6 0h1.4m-10.4 1h1.4m2.6 0h1.4m1.6 0h1.4m1.6 0h1.4m-11.4 1h1.4m4.6 0h1.4m0.6 0h1.4m-10.4 1h2.4m0.6 0h1.4m3.6 0h1.4m3.6 0h1.4m-7.4 2h1.4m2.6 0h1.4m-12.4 1h1.4m0.6 0h1.4m4.6 0h1.4m-7.4 1h1.4m3.6 0h1.4m0.6 0h1.4m0.6 0h1.4m2.6 1h1.4m-11.4 1h1.4m-9.4 2h2.4m5.6 0h1.4m5.6 0h1.4m-14.4 1h1.4m1.6 0h1.4m7.6 0h1.4m0.6 0h2.4m-14.4 1h1.4m9.6 1h1.4m-8.4 2h1.4m8.6 0h1.4m-14.4 1h1.4m3.6 0h2.4m1.6 0h2.4m-15.4 1h1.4m9.6 0h1.4m-11.4 1h1.4m2.6 0h2.4m7.6 0h1.4m1.6 0h1.4m-1.4 2h1.4m-9.4 1h2.4m-12.4 1h1.4m15.6 0h1.4m-15.4 1h1.4m11.6 0h1.4m-8.4 1h1.4m1.6 0h1.4m-5.4 2h1.4m0.6 0h1.4m2.6 0h1.4m-15.4 1h1.4m3.6 0h1.4m-7.4 1h1.4m2.6 0h1.4m4.6 0h1.4m0.6 0h1.4m4.6 0h1.4m-19.4 1h1.4m7.6 0h1.4m4.6 0h1.4m0.6 0h1.4m-15.4 1h1.4m4.6 0h1.4m5.6 0h1.4m-15.4 1h1.4m-1.4 1h1.4m2.6 0h2.4m1.6 0h1.4m-3.4 1h1.4m0.6 0h1.4m2.6 0h1.4m2.6 0h1.4m-12.4 1h1.4m8.6 0h2.4m-6.4 1h1.4m4.6 0h1.4m-12.4 1h3.4m-6.4 1h1.4m8.6 0h1.4m-15.4 1h1.4m0.6 0h1.4m6.6 0h1.4m-10.4 1h1.4m0.6 0h1.4m-2.4 1h1.4m8.6 0h1.4m1.6 0h2.4m0.6 0h1.4m-17.4 1h1.4m5.6 0h2.4m4.6 1h3.4m-7.4 1h1.4m-12.4 1h1.4m7.6 0h1.4m6.6 0h1.4m-12.4 1h1.4m-3.4 1h1.4m1.6 0h1.4m-6.4 1h2.4m8.6 0h1.4m-11.4 1h1.4m1.6 0h1.4m-7.4 1h2.4m0.6 0h1.4m2.6 0h2.4m0.6 0h1.4m0.6 0h1.4m3.6 0h1.4m-7.4 2h2.4m2.6 0h1.4m-19.4 1h1.4m10.6 0h1.4m3.6 0h2.4m-18.4 1h1.4m5.6 0h1.4m2.6 0h1.4m-8.4 1h1.4m1.6 0h1.4m8.6 0h1.4m-11.4 1h1.4m-7.4 1h1.4m9.6 0h1.4m4.6 0h1.4m-15.4 1h1.4m3.6 0h1.4m-10.4 1h3.4m1.6 0h1.4m8.6 0h1.4m-14.4 1h1.4m0.6 0h1.4m4.6 0h2.4m1.6 0h1.4m2.6 0h1.4m-20.4 1h1.4m15.6 0h1.4m-16.4 1h1.4m13.6 0h1.4m-7.4 1h3.4m4.6 0h1.4m-19.4 1h1.4m0.6 0h1.4m8.6 1h1.4m0.6 0h2.4m-12.4 1h1.4m-1.4 1h1.4m0.6 0h2.4m-7.4 1h1.4m-1.4 1h1.4m0.6 0h1.4m1.6 0h1.4m6.6 0h1.4m-11.4 1h1.4m3.6 0h1.4m3.6 0h1.4m-9.4 1h1.4m2.6 1h1.4m2.6 0h1.4m-13.4 1h1.4m1.6 0h1.4m0.6 0h1.4m5.6 0h1.4m-16.4 1h1.4m2.6 0h1.4m1.6 0h2.4m4.6 0h1.4m0.6 1h1.4m-12.4 2h1.4m8.6 0h1.4m-13.4 1h1.4m0.6 0h2.4m0.6 0h1.4m4.6 0h1.4m-3.4 1h1.4m-9.4 1h1.4m4.6 0h1.4m-11.4 2h1.4m5.6 0h1.4m2.6 0h1.4m0.6 0h1.4m1.6 0h1.4m0.6 1h1.4m-10.4 1h3.4m4.6 0h1.4m-16.4 1h1.4m3.6 0h1.4m4.6 0h1.4m4.6 0h1.4m-12.4 1h1.4m3.6 0h1.4m1.6 0h1.4m-16.4 1h1.4m2.6 1h1.4m11.6 0h1.4m-16.4 1h1.4m0.6 0h1.4m2.6 0h1.4m-9.4 1h1.4m4.6 0h1.4m4.6 0h1.4m-5.4 1h1.4m-10.4 1h2.4m3.6 0h1.4m0.6 0h1.4m2.6 0h1.4m-11.4 1h1.4m4.6 0h2.4m5.6 0h1.4m-17.4 1h1.4m11.6 0h1.4m0.6 0h1.4m-13.4 1h2.4m4.6 0h1.4m-3.4 2h1.4m4.6 0h1.4m-15.4 1h1.4m5.6 0h1.4m8.6 0h1.4m-10.4 1h1.4m4.6 0h1.4m0.6 0h1.4m1.6 0h1.4m-16.4 1h1.4m6.6 0h1.4m4.6 0h1.4m-15.4 1h1.4m4.6 0h1.4m-10.4 1h1.4m2.6 0h1.4m8.6 0h1.4m-8.4 2h1.4m2.6 0h1.4m-8.4 1h2.4m1.6 0h2.4m2.6 0h1.4m-8.4 1h1.4m10.6 0h1.4m-16.4 1h1.4m-2.4 2h1.4m11.6 1h1.4m-17.4 1h1.4m3.6 0h1.4m2.6 0h1.4m2.6 0h1.4m-0.4 1h1.4m-0.4 1h2.4m-1.4 2h1.4m-16.4 1h1.4m4.6 1h1.4m0.6 0h1.4m1.6 0h1.4m3.6 0h1.4m-13.4 1h1.4m6.6 0h1.4m1.6 0h3.4m-19.4 1h1.4m5.6 0h1.4m2.6 0h1.4m-12.4 2h1.4m3.6 0h2.4m0.6 0h1.4m8.6 0h1.4m-16.4 1h1.4m11.6 0h1.4m-13.4 1h1.4m0.6 0h1.4m1.6 0h1.4m0.6 0h1.4m3.6 0h2.4m-11.4 1h2.4m0.6 0h1.4m-5.4 1h1.4m1.6 0h1.4m0.6 0h1.4m1.6 0h1.4m2.6 0h1.4m-8.4 1h1.4m2.6 0h1.4m-0.4 1h3.4m-4.4 1h1.4m1.6 0h1.4m-18.4 1h1.4m1.6 0h1.4m3.6 0h2.4m-11.4 1h1.4m2.6 0h1.4m11.6 0h1.4m-14.4 1h1.4m0.6 0h1.4m4.6 0h1.4m3.6 0h1.4m-14.4 1h1.4m2.6 0h1.4m0.6 0h1.4m1.6 0h1.4m2.6 0h2.4m-19.4 4h1.4m1.6 0h1.4m0.6 0h1.4m9.6 0h1.4m-15.4 1h2.4m0.6 0h1.4m0.6 0h1.4m2.6 0h3.4m2.6 0h1.4m0.6 0h1.4m-19.4 1h1.4m1.6 0h1.4m7.6 0h1.4m2.6 0h1.4m0.6 0h1.4m-4.4 1h1.4" stroke="#798899"/><path d="M9 0.5h1.4m-9.4 2h2.4m7.6 0h1.4m5.6 0h1.4m-15.4 4h2.4m5.6 0h1.4m1.6 0h1.4m2.6 0h1.4m-11.4 1h1.4m-7.4 1h1.4m6.6 0h1.4m0.6 0h1.4m-10.4 1h1.4m12.6 2h1.4m-3.4 1h1.4m-14.4 3h2.4m-3.4 1h1.4m6.6 1h1.4m-4.4 1h1.4m5.6 0h1.4m-8.4 2h3.4m0.6 0h1.4m3.6 0h1.4m-2.4 2h1.4m-16.4 1h1.4m7.6 0h2.4m-11.4 1h1.4m8.6 0h1.4m-4.4 1h1.4m-2.4 1h1.4m7.6 0h1.4m1.6 0h1.4m-17.4 1h1.4m14.6 1h1.4m-14.4 1h2.4m-4.4 1h3.4m10.6 0h1.4m-8.4 2h1.4m5.6 0h1.4m-13.4 2h1.4m3.6 0h1.4m7.6 0h1.4m-14.4 1h1.4m4.6 0h1.4m3.6 0h2.4m-8.4 1h1.4m-11.4 1h1.4m0.6 0h1.4m9.6 0h2.4m-15.4 1h3.4m1.6 0h1.4m7.6 0h1.4m1.6 0h2.4m-20.4 1h1.4m13.6 3h1.4m1.6 0h1.4m-8.4 1h1.4m4.6 0h1.4m-2.4 1h1.4m-17.4 1h1.4m7.6 0h2.4m4.6 0h2.4m-3.4 2h1.4m-9.4 1h1.4m8.6 0h2.4m-9.4 1h2.4m0.6 0h1.4m-0.4 1h1.4m-13.4 3h1.4m10.6 0h2.4m-16.4 1h1.4m12.6 0h1.4m1.6 0h1.4m0.6 0h1.4m-18.4 3h1.4m7.6 2h1.4m6.6 0h1.4m-13.4 1h1.4m-4.4 1h1.4m3.6 0h1.4m7.6 0h1.4m-3.4 2h1.4m-1.4 1h1.4m-15.4 1h1.4m1.6 0h1.4m2.6 0h1.4m0.6 0h2.4m-2.4 2h1.4m5.6 0h2.4m-16.4 3h1.4m3.6 0h1.4m-8.4 1h1.4m13.6 1h1.4m0.6 0h1.4m-16.4 1h1.4m3.6 0h1.4m3.6 0h1.4m1.6 0h1.4m-0.4 2h1.4m-3.4 1h1.4m-1.4 1h1.4m-16.4 1h1.4m9.6 0h1.4m-13.4 1h1.4m3.6 0h1.4m1.6 1h1.4m2.6 0h1.4m2.6 1h1.4m-10.4 2h1.4m8.6 0h1.4m-11.4 1h2.4m1.6 0h1.4m-2.4 1h1.4m-10.4 2h1.4m1.6 0h1.4m5.6 0h1.4m-2.4 3h1.4m-10.4 1h1.4m4.6 0h1.4m4.6 0h1.4m4.6 0h1.4m-10.4 2h1.4m0.6 0h1.4m2.6 1h1.4m-8.4 1h1.4m-8.4 2h1.4m12.6 2h1.4m-16.4 1h1.4m-1.4 2h1.4m16.6 0h1.4m-19.4 2h1.4m4.6 0h1.4m-8.4 1h1.4m8.6 0h1.4m-1.4 1h1.4m-4.4 1h1.4m2.6 0h1.4m1.6 2h1.4m-4.4 3h1.4m-8.4 2h1.4m2.6 0h1.4m8.6 2h1.4m-14.4 1h1.4m7.6 1h1.4m-14.4 3h1.4m0.6 0h1.4m1.6 0h1.4m-6.4 2h1.4m-0.4 1h1.4m0.6 3h2.4m5.6 0h2.4m-12.4 4h1.4m0.6 0h1.4m5.6 0h1.4m1.6 0h1.4m3.6 0h1.4m-16.4 4h1.4m6.6 0h1.4m-12.4 1h1.4m7.6 0h1.4m-1.4 1h1.4m-7.4 1h3.4m7.6 0h2.4m-11.4 1h1.4m8.6 0h1.4m-13.4 3h1.4m0.6 0h1.4m6.6 0h1.4m-13.4 1h1.4m0.6 0h1.4m9.6 0h1.4m1.6 0h1.4m-17.4 1h1.4m-1.4 2h1.4m0.6 0h1.4m1.6 0h1.4m6.6 0h1.4m-9.4 1h1.4m2.6 1h1.4m1.6 0h1.4m2.6 3h2.4m-17.4 1h1.4m5.6 0h1.4m-6.4 2h1.4m4.6 0h1.4m1.6 0h1.4m-15.4 2h1.4m7.6 0h1.4m-5.4 1h1.4m0.6 0h1.4m-7.4 1h1.4m4.6 0h1.4m8.6 0h1.4m-11.4 1h1.4m3.6 0h1.4m4.6 0h1.4m-5.4 1h1.4m3.6 2h1.4m-14.4 1h2.4m-6.4 2h1.4m6.6 0h1.4m2.6 0h1.4m-11.4 5h5.4m5.6 0h1.4m1.6 0h2.4m-10.4 2h1.4m-10.4 1h1.4m16.6 0h1.4m-9.4 1h1.4m0.6 1h1.4m-12.4 2h2.4m3.6 0h1.4m-5.4 1h2.4m-3.4 1h1.4m3.6 0h1.4m-9.4 1h2.4m11.6 0h1.4m-11.4 2h1.4m1.6 0h1.4m4.6 0h1.4m-8.4 1h2.4m7.6 0h1.4m-8.4 1h1.4m7.6 1h1.4m-17.4 1h2.4m9.6 0h2.4m2.6 0h1.4m-15.4 2h1.4m3.6 2h1.4m5.6 0h1.4m-18.4 1h1.4m6.6 0h1.4m5.6 1h1.4" stroke="#7f919f"/><path d="M3 2.5h1.4m0.6 0h1.4m10.6 0h1.4m-14.4 3h1.4m1.6 0h3.4m-0.4 3h1.4m0.6 0h1.4m4.6 1h1.4m-4.4 3h1.4m-11.4 3h1.4m-4.4 5h1.4m10.6 0h2.4m-14.4 6h1.4m9.6 0h1.4m1.6 0h1.4m1.6 0h1.4m-15.4 1h1.4m8.6 3h1.4m-1.4 2h1.4m1.6 0h1.4m-2.4 4h1.4m-16.4 1h1.4m2.6 0h2.4m5.6 1h1.4m-4.4 1h1.4m-10.4 9h1.4m6.6 0h2.4m6.6 0h1.4m-7.4 2h1.4m-13.4 3h1.4m0.6 0h2.4m-4.4 1h1.4m7.6 3h1.4m0.6 0h1.4m3.6 0h2.4m-13.4 3h1.4m8.6 0h1.4m-16.4 1h1.4m10.6 0h1.4m-6.4 5h1.4m5.6 0h1.4m2.6 2h1.4m-10.4 4h1.4m1.6 1h1.4m-8.4 3h1.4m-5.4 2h1.4m6.6 0h1.4m4.6 0h1.4m-2.4 1h2.4m-4.4 3h1.4m-8.4 1h1.4m0.6 0h1.4m1.6 0h1.4m-7.4 4h1.4m4.6 2h1.4m-12.4 1h1.4m-1.4 1h1.4m16.6 8h1.4m-17.4 2h1.4m7.6 3h1.4m2.6 0h1.4m-7.4 2h1.4m1.6 0h1.4m-10.4 3h1.4m6.6 2h1.4m-12.4 3h1.4m11.6 1h1.4m1.6 0h1.4m-8.4 6h2.4m-8.4 10h1.4m8.6 4h1.4m-8.4 1h1.4m-7.4 2h2.4m4.6 0h1.4m4.6 0h2.4m1.6 1h1.4m-9.4 3h1.4m6.6 0h1.4m-4.4 1h1.4m-11.4 4h1.4m4.6 1h1.4m-5.4 3h1.4m10.6 2h1.4m-10.4 1h1.4m2.6 0h1.4m3.6 4h1.4m-9.4 2h1.4m7.6 3h1.4m-8.4 2h1.4m-10.4 5h1.4m10.6 5h1.4m-15.4 2h1.4m2.6 7h1.4m6.6 1h1.4m-0.4 6h2.4m-10.4 1h1.4m1.6 0h3.4m1.6 0h1.4m2.6 0h1.4" stroke="#869aa6"/><path d="M5 5.5h1.4m-3.4 1h1.4m4.6 2h1.4m4.6 0h1.4m-13.4 12h1.4m-1.4 4h1.4m5.6 15h1.4m5.6 3h1.4m-12.4 7h1.4m2.6 6h1.4m-11.4 6h1.4m15.6 0h1.4m-17.4 3h1.4m0.6 1h1.4m8.6 0h1.4m-13.4 1h1.4m5.6 7h1.4m-7.4 8h1.4m-0.4 7h1.4m-3.4 2h1.4m5.6 3h1.4m-8.4 6h1.4m8.6 7h1.4m-1.4 43h1.4m-7.4 2h1.4m10.6 8h1.4m-2.4 1h1.4m-4.4 10h2.4m0.6 0h2.4m-15.4 1h1.4" stroke="#8ca2ac"/><path d="M10 20.5h1.4m0.6 0h1.4m-5.4 24h1.4m-4.4 103h1.4m5.6 23h1.4m-8.4 15h1.4m0.6 5h1.4m7.6 2h1.4" stroke="#93abb2"/><path d="M8 37.5h1.4m0.6 94h1.4m-5.4 13h1.4m0.6 48h1.4" stroke="#99b4b9"/><path d="M2 9.5h1.4" stroke="#a6c5c6"/><path d="M12 103.5h1.4" stroke="#c3d9d9"/><path d="M12 119.5h1.4" stroke="#ebf2f2"/></g></g>
<line x1="111.00" y1="211.00" x2="111.00" y2="534.40" stroke="#000" stroke-width="2.1" stroke-dasharray="6.6 3.56" stroke-dashoffset="3.86"/>
<clipPath id="hc1"><rect x="233.800" y="211.000" width="86.200" height="323.400"/></clipPath><g clip-path="url(#hc1)"><g transform="translate(233.800 211.000) scale(4.31000 1.56990)" stroke-width="1.35"><rect width="20" height="206" fill="#6f7b8f"/><path d="M5 78.5h1.4" stroke="#060609"/><path d="M0 78.5h5.4m0.6 0h4.4" stroke="#0d0d12"/><path d="M18 133.5h2.4m-7.4 68h1.4" stroke="#191923"/><path d="M16 127.5h1.4m-0.4 6h1.4" stroke="#20202c"/><path d="M18 3.5h1.4m-5.4 16h6.4m-15.4 97h1.4m8.6 11h1.4m-8.4 19h1.4m2.6 0h1.4m-3.4 17h3.4" stroke="#262635"/><path d="M14 15.5h6.4m-2.4 106h1.4m-10.4 6h2.4m0.6 0h1.4m-6.4 19h1.4m-8.4 6h6.4m6.6 11h1.4" stroke="#2d2d3e"/><path d="M9 3.5h2.4m-5.4 6h1.4m9.6 0h1.4m-2.4 26h1.4m1.6 0h1.4m-8.4 47h2.4m1.6 0h1.4m-2.4 5h5.4m-18.4 29h1.4m4.6 11h1.4m4.6 0h1.4m-6.4 19h1.4" stroke="#333347"/><path d="M19 3.5h1.4m-8.4 2h1.4m5.6 4h1.4m-20.4 70h1.4m9.6 3h1.4m1.6 0h2.4m0.6 0h3.4m-5.4 29h1.4m-10.4 16h2.4m0.6 30h1.4m2.6 7h1.4m0.6 10h1.4m-13.4 2h1.4" stroke="#393950"/><path d="M6 5.5h1.4m0.6 4h1.4m8.6 0h1.4m-10.4 11h1.4m0.6 15h1.4m5.6 25h1.4m-1.4 1h1.4m-0.4 7h1.4m-15.4 26h1.4m-5.4 7h1.4m16.6 0h1.4m-14.4 5h1.4m-2.4 5h1.4m-5.4 5h1.4m1.6 0h1.4m-5.4 4h1.4m4.6 0h1.4m-7.4 21h1.4m1.6 5h1.4m6.6 0h1.4m0.6 0h1.4m3.6 0h1.4m-19.4 8h1.4m10.6 6h1.4m-12.4 4h3.4m1.6 0h1.4m-1.4 7h1.4m5.6 3h2.4m3.6 5h1.4m-7.4 14h1.4" stroke="#404059"/><path d="M7 5.5h1.4m2.6 0h1.4m-7.4 4h1.4m2.6 0h1.4m2.6 2h1.4m-3.4 4h1.4m-5.4 5h1.4m1.6 0h1.4m1.6 0h1.4m2.6 0h1.4m-8.4 3h1.4m6.6 3h1.4m-4.4 2h1.4m-10.4 6h1.4m2.6 1h1.4m6.6 0h1.4m-16.4 8h1.4m7.6 6h1.4m-1.4 2h1.4m-11.4 2h1.4m10.6 1h1.4m-12.4 6h1.4m-3.4 1h1.4m13.6 2h1.4m-17.4 2h1.4m2.6 3h1.4m9.6 0h1.4m0.6 0h1.4m-0.4 11h1.4m-2.4 11h1.4m-16.4 4h1.4m-0.4 1h1.4m8.6 6h1.4m-14.4 7h1.4m8.6 3h2.4m-9.4 5h1.4m5.6 1h2.4m-4.4 4h1.4m9.6 0h1.4m-20.4 2h1.4m2.6 0h1.4m0.6 0h1.4m3.6 4h1.4m-12.4 3h1.4m1.6 13h1.4m2.6 0h1.4m-6.4 3h1.4m11.6 0h1.4m-15.4 3h1.4m16.6 0h1.4m-11.4 5h1.4m8.6 0h1.4m-1.4 1h1.4m-10.4 2h1.4m-8.4 2h1.4m9.6 3h1.4m-12.4 1h1.4m-4.4 1h1.4m2.6 3h1.4m13.6 2h1.4m-9.4 3h1.4m2.6 0h1.4m-6.4 2h1.4m0.6 0h1.4m3.6 0h2.4m-16.4 7h1.4m-2.4 2h1.4m0.6 10h1.4m-4.4 1h2.4m0.6 0h1.4m1.6 0h1.4m1.6 1h1.4m-5.4 1h1.4m-7.4 2h1.4m1.6 0h1.4m1.6 5h1.4" stroke="#464662"/><path d="M14 0.5h1.4m-10.4 3h1.4m1.6 0h1.4m2.6 0h1.4m-5.4 2h1.4m-2.4 4h1.4m1.6 0h1.4m2.6 0h1.4m0.6 0h1.4m-11.4 1h1.4m9.6 2h1.4m-6.4 2h1.4m-3.4 1h1.4m-0.4 4h1.4m-10.4 1h1.4m7.6 0h1.4m3.6 0h1.4m-6.4 3h1.4m1.6 0h1.4m-3.4 2h1.4m-6.4 1h1.4m10.6 3h1.4m-6.4 1h1.4m-7.4 4h1.4m5.6 0h1.4m2.6 0h1.4m-1.4 2h1.4m-19.4 1h1.4m-1.4 2h1.4m5.6 0h1.4m-5.4 3h1.4m2.6 1h1.4m9.6 1h1.4m-13.4 2h1.4m-7.4 1h1.4m6.6 0h1.4m1.6 1h1.4m-3.4 3h1.4m1.6 0h1.4m2.6 5h1.4m-4.4 2h1.4m-13.4 2h1.4m11.6 0h2.4m-17.4 1h1.4m17.6 0h1.4m-13.4 3h1.4m3.6 3h1.4m-4.4 1h2.4m4.6 0h1.4m0.6 0h1.4m-16.4 13h1.4m-1.4 9h1.4m-2.4 2h1.4m-3.4 3h1.4m0.6 6h1.4m0.6 0h1.4m8.6 0h1.4m2.6 7h1.4m-11.4 8h1.4m9.6 0h1.4m-17.4 4h1.4m1.6 1h1.4m9.6 0h1.4m-1.4 1h1.4m-17.4 2h1.4m5.6 5h1.4m-0.4 1h1.4m-8.4 2h1.4m6.6 4h1.4m7.6 5h1.4m-14.4 2h1.4m10.6 0h1.4m-15.4 3h1.4m0.6 0h1.4m1.6 2h1.4m-5.4 2h1.4m-3.4 5h1.4m6.6 2h1.4m-7.4 2h1.4m0.6 2h1.4m6.6 1h1.4m2.6 0h1.4m-10.4 2h3.4m-9.4 4h1.4m2.6 0h1.4m-4.4 1h2.4m0.6 1h1.4m-0.4 2h1.4m1.6 0h1.4m2.6 0h2.4m-8.4 5h1.4m0.6 2h1.4m-1.4 2h1.4m-10.4 2h1.4m14.6 0h1.4m-1.4 1h1.4m-20.4 11h1.4m7.6 2h1.4m-4.4 1h1.4m2.6 0h1.4m2.6 4h1.4" stroke="#4c4c6a"/><path d="M11 0.5h1.4m-5.4 1h2.4m-2.4 2h1.4m8.6 0h1.4m-9.4 2h1.4m4.6 0h1.4m2.6 0h1.4m-20.4 2h1.4m13.6 1h1.4m-3.4 1h1.4m-9.4 1h1.4m0.6 0h1.4m2.6 0h1.4m-2.4 1h1.4m-0.4 1h1.4m3.6 1h1.4m-7.4 1h1.4m5.6 0h1.4m-6.4 1h1.4m-7.4 1h1.4m1.6 2h1.4m8.6 0h1.4m-12.4 2h1.4m3.6 1h1.4m-14.4 2h1.4m11.6 5h2.4m2.6 2h1.4m-19.4 3h1.4m5.6 0h1.4m3.6 0h1.4m2.6 0h1.4m1.6 0h1.4m-13.4 1h1.4m1.6 0h1.4m4.6 0h1.4m0.6 2h1.4m-6.4 1h1.4m-3.4 1h1.4m3.6 0h1.4m-6.4 2h1.4m-10.4 2h1.4m-3.4 1h2.4m8.6 0h3.4m0.6 0h2.4m-15.4 2h1.4m8.6 0h1.4m0.6 1h1.4m0.6 0h1.4m1.6 0h1.4m-20.4 1h1.4m0.6 0h1.4m6.6 0h1.4m2.6 0h1.4m0.6 0h1.4m-16.4 2h1.4m8.6 0h1.4m5.6 0h1.4m-10.4 2h1.4m0.6 0h1.4m1.6 0h1.4m3.6 0h1.4m-6.4 1h1.4m-7.4 1h1.4m0.6 2h1.4m-10.4 2h1.4m-2.4 1h1.4m9.6 0h2.4m-12.4 2h1.4m1.6 0h1.4m11.6 0h1.4m0.6 0h1.4m-18.4 1h1.4m7.6 0h1.4m-8.4 3h1.4m5.6 3h1.4m1.6 0h1.4m-15.4 2h1.4m0.6 0h1.4m2.6 0h1.4m7.6 4h2.4m-2.4 1h1.4m-3.4 2h1.4m-12.4 1h1.4m-2.4 2h1.4m14.6 0h1.4m-17.4 6h1.4m3.6 1h1.4m-7.4 2h2.4m-0.4 2h1.4m12.6 0h1.4m0.6 0h1.4m-18.4 1h1.4m11.6 0h1.4m-12.4 1h1.4m12.6 0h1.4m-1.4 1h1.4m-11.4 2h1.4m6.6 0h1.4m-10.4 2h1.4m-7.4 4h1.4m15.6 0h1.4m-18.4 2h1.4m16.6 0h1.4m-1.4 3h1.4m-16.4 3h1.4m9.6 4h1.4m1.6 3h1.4m-12.4 1h1.4m-6.4 3h1.4m4.6 0h1.4m10.6 0h1.4m-20.4 1h1.4m9.6 0h1.4m-9.4 2h1.4m2.6 0h1.4m-0.4 1h1.4m0.6 0h1.4m-8.4 3h2.4m7.6 0h1.4m3.6 1h1.4m-18.4 2h1.4m0.6 2h1.4m-1.4 1h2.4m3.6 0h2.4m-10.4 2h1.4m1.6 0h1.4m1.6 0h1.4m-8.4 2h1.4m0.6 0h1.4m15.6 1h1.4m-18.4 1h1.4m14.6 1h1.4m-13.4 1h1.4m2.6 1h1.4m7.6 0h1.4m-8.4 1h1.4m-7.4 1h1.4m6.6 2h1.4m-15.4 3h1.4m7.6 0h1.4m6.6 0h1.4m-14.4 1h1.4m4.6 0h1.4m-0.4 1h1.4m3.6 3h1.4m-15.4 1h1.4m-0.4 2h1.4m0.6 0h1.4m-2.4 2h1.4m2.6 0h1.4m0.6 2h1.4m5.6 2h2.4m-15.4 1h1.4m3.6 0h1.4m8.6 1h1.4m-14.4 2h1.4m0.6 0h2.4m5.6 0h1.4m-15.4 4h1.4m3.6 1h1.4m1.6 0h1.4m2.6 0h1.4m0.6 2h1.4m1.6 0h1.4m-13.4 6h1.4m-7.4 2h1.4m8.6 0h1.4m-8.4 1h1.4m11.6 0h1.4m-15.4 1h1.4m7.6 1h1.4m-12.4 6h1.4m-1.4 2h1.4m2.6 0h1.4m4.6 0h1.4m-9.4 1h1.4m6.6 0h1.4m-5.4 1h1.4m0.6 0h1.4m2.6 0h1.4m-12.4 1h1.4m4.6 0h1.4m3.6 0h1.4m-3.4 1h1.4m-11.4 1h1.4m4.6 0h1.4m-0.4 1h2.4m1.6 0h1.4m-12.4 1h2.4m4.6 4h1.4" stroke="#535373"/><path d="M0 0.5h1.4m16.6 0h1.4m-8.4 2h1.4m1.6 1h1.4m-11.4 1h2.4m4.6 0h1.4m-2.4 1h1.4m1.6 0h1.4m-7.4 1h1.4m10.6 0h1.4m-11.4 1h3.4m2.6 0h1.4m-4.4 1h1.4m-2.4 1h1.4m2.6 0h1.4m-15.4 2h1.4m6.6 0h1.4m0.6 0h1.4m1.6 0h2.4m0.6 0h1.4m-3.4 2h1.4m-10.4 1h2.4m4.6 0h1.4m0.6 0h1.4m-8.4 1h1.4m-4.4 1h1.4m1.6 1h1.4m2.6 1h2.4m-6.4 1h1.4m-4.4 1h1.4m7.6 0h1.4m-9.4 1h1.4m9.6 0h1.4m0.6 0h1.4m-11.4 2h1.4m8.6 1h1.4m-15.4 1h3.4m-2.4 1h1.4m3.6 0h1.4m3.6 0h1.4m-5.4 2h1.4m-4.4 1h1.4m3.6 0h1.4m-7.4 1h2.4m4.6 0h1.4m1.6 2h2.4m-7.4 1h1.4m-5.4 1h1.4m0.6 0h1.4m0.6 0h1.4m-13.4 1h1.4m10.6 0h1.4m0.6 0h1.4m0.6 0h1.4m-18.4 2h1.4m13.6 0h1.4m-6.4 1h1.4m-2.4 1h1.4m-0.4 1h1.4m5.6 0h1.4m-7.4 1h1.4m-3.4 1h1.4m4.6 2h1.4m-15.4 1h1.4m2.6 0h1.4m0.6 0h1.4m4.6 0h2.4m0.6 0h1.4m-6.4 1h3.4m0.6 0h1.4m-5.4 1h1.4m0.6 0h1.4m0.6 0h1.4m-5.4 1h1.4m3.6 0h1.4m0.6 0h2.4m-15.4 1h1.4m2.6 0h1.4m-8.4 1h1.4m-0.4 1h1.4m8.6 1h1.4m-13.4 1h1.4m7.6 0h1.4m4.6 0h1.4m-8.4 1h1.4m-8.4 1h1.4m-2.4 3h1.4m-2.4 1h1.4m-1.4 1h1.4m3.6 0h1.4m5.6 0h1.4m0.6 0h1.4m0.6 1h1.4m-4.4 1h1.4m-3.4 1h1.4m-8.4 3h1.4m7.6 0h1.4m-7.4 3h1.4m-1.4 1h1.4m-7.4 1h1.4m12.6 0h1.4m-10.4 1h1.4m5.6 1h2.4m1.6 0h1.4m-18.4 2h1.4m3.6 1h1.4m9.6 0h1.4m-6.4 1h1.4m-10.4 2h1.4m1.6 0h1.4m1.6 0h1.4m9.6 0h1.4m-20.4 1h1.4m17.6 0h1.4m-15.4 1h1.4m0.6 1h1.4m-8.4 1h1.4m3.6 1h1.4m8.6 0h1.4m-14.4 1h1.4m3.6 1h1.4m-3.4 1h1.4m-4.4 4h2.4m10.6 0h1.4m-1.4 1h1.4m-12.4 1h1.4m9.6 0h1.4m-12.4 2h1.4m3.6 0h1.4m5.6 0h1.4m0.6 2h1.4m-12.4 4h1.4m6.6 0h1.4m-10.4 1h1.4m0.6 1h1.4m-7.4 2h1.4m-1.4 1h1.4m2.6 2h1.4m9.6 0h1.4m-18.4 1h2.4m6.6 0h1.4m-3.4 1h1.4m7.6 0h1.4m-4.4 1h1.4m-12.4 1h2.4m5.6 0h1.4m-8.4 2h1.4m1.6 0h1.4m10.6 2h1.4m-19.4 1h1.4m2.6 0h1.4m12.6 0h1.4m-17.4 2h1.4m3.6 2h1.4m0.6 0h1.4m5.6 0h1.4m-11.4 1h3.4m-7.4 1h1.4m12.6 0h2.4m-7.4 1h1.4m-7.4 3h1.4m3.6 1h1.4m-5.4 2h1.4m0.6 0h1.4m0.6 0h2.4m-11.4 2h1.4m-2.4 1h1.4m6.6 0h1.4m-4.4 1h2.4m1.6 1h1.4m7.6 0h1.4m-13.4 1h2.4m0.6 0h1.4m0.6 0h1.4m4.6 0h2.4m-12.4 1h1.4m6.6 0h1.4m-14.4 1h1.4m-2.4 4h1.4m3.6 0h1.4m-2.4 1h1.4m9.6 3h2.4m-12.4 1h1.4m0.6 0h2.4m5.6 2h1.4m-10.4 1h1.4m-3.4 1h1.4m6.6 0h1.4m-1.4 1h1.4m-8.4 1h1.4m-6.4 1h1.4m3.6 0h1.4m-3.4 1h1.4m0.6 0h1.4m0.6 0h1.4m-7.4 1h1.4m8.6 0h1.4m-7.4 1h1.4m-7.4 2h1.4m0.6 0h1.4m2.6 0h1.4m-5.4 1h1.4m0.6 1h2.4m5.6 0h1.4m-6.4 1h1.4m3.6 0h2.4m-7.4 1h1.4m10.6 0h1.4m-15.4 1h1.4m-4.4 3h2.4m2.6 0h1.4m3.6 0h1.4m-13.4 1h1.4m11.6 0h1.4m-11.4 1h1.4m2.6 0h1.4m9.6 0h1.4m-10.4 1h1.4m-1.4 1h1.4m-2.4 2h1.4m-1.4 1h1.4m3.6 1h1.4m-9.4 3h1.4m-0.4 1h1.4m-7.4 1h1.4m2.6 0h1.4m6.6 0h1.4m-12.4 1h1.4m8.6 0h1.4m3.6 0h1.4m-9.4 1h1.4m2.6 0h1.4m-13.4 1h2.4m9.6 0h1.4m-12.4 1h2.4m5.6 0h1.4m1.6 0h2.4m-3.4 2h1.4m-10.4 1h1.4m-2.4 1h1.4m2.6 2h1.4m0.6 0h1.4m0.6 1h1.4m-6.4 1h1.4m-3.4 1h2.4m3.6 0h1.4m2.6 0h1.4m5.6 0h1.4m-14.4 1h1.4m2.6 0h1.4m2.6 0h1.4m3.6 0h1.4m-8.4 1h1.4m1.6 0h1.4m-13.4 1h1.4m9.6 0h1.4m3.6 0h1.4m-10.4 1h1.4m-6.4 1h1.4m4.6 1h1.4m2.6 2h1.4m-16.4 1h1.4m8.6 0h1.4m1.6 0h1.4m-7.4 1h1.4m-6.4 1h1.4" stroke="#595c79"/><path d="M9 0.5h1.4m1.6 0h2.4m-5.4 1h1.4m6.6 0h1.4m-18.4 1h1.4m8.6 0h1.4m2.6 0h2.4m-14.4 1h1.4m7.6 0h1.4m2.6 0h1.4m-6.4 1h1.4m-8.4 1h2.4m2.6 1h1.4m-5.4 1h1.4m6.6 0h2.4m1.6 0h1.4m1.6 0h1.4m-20.4 1h1.4m11.6 0h1.4m-10.4 1h1.4m-4.4 1h1.4m0.6 0h1.4m4.6 0h1.4m2.6 0h1.4m-2.4 1h1.4m2.6 0h1.4m-1.4 1h1.4m-8.4 2h1.4m2.6 2h1.4m-7.4 1h1.4m1.6 0h1.4m-5.4 1h1.4m5.6 1h1.4m-8.4 1h1.4m4.6 0h1.4m4.6 0h1.4m-12.4 1h1.4m9.6 0h1.4m-12.4 1h1.4m7.6 0h1.4m-12.4 1h2.4m4.6 0h1.4m3.6 0h1.4m-7.4 1h1.4m0.6 0h1.4m0.6 1h3.4m-1.4 1h1.4m0.6 0h1.4m-4.4 2h1.4m-9.4 1h1.4m0.6 0h1.4m5.6 0h1.4m-11.4 1h1.4m1.6 0h1.4m0.6 1h1.4m5.6 0h1.4m-7.4 1h1.4m1.6 0h1.4m-9.4 1h2.4m-10.4 1h2.4m9.6 0h1.4m3.6 0h1.4m-10.4 3h1.4m2.6 1h1.4m-13.4 1h1.4m4.6 0h1.4m8.6 0h1.4m-1.4 1h1.4m-3.4 2h1.4m-13.4 1h1.4m5.6 0h1.4m6.6 0h1.4m0.6 0h1.4m-20.4 1h1.4m10.6 0h1.4m-13.4 1h1.4m16.6 0h1.4m-19.4 1h1.4m3.6 0h1.4m1.6 0h1.4m8.6 0h1.4m-15.4 1h1.4m12.6 0h1.4m-5.4 1h1.4m1.6 0h1.4m-16.4 1h1.4m0.6 0h1.4m2.6 0h1.4m6.6 0h1.4m1.6 0h1.4m-17.4 1h1.4m7.6 0h1.4m0.6 0h1.4m0.6 0h1.4m-17.4 1h1.4m13.6 0h1.4m-16.4 1h1.4m0.6 0h1.4m8.6 1h1.4m4.6 0h1.4m-7.4 1h2.4m-10.4 1h2.4m10.6 0h1.4m-16.4 2h1.4m5.6 0h1.4m1.6 0h1.4m-0.4 1h1.4m2.6 0h1.4m-6.4 1h1.4m-8.4 2h1.4m10.6 0h1.4m-9.4 1h1.4m4.6 1h1.4m1.6 0h1.4m-14.4 1h1.4m11.6 0h1.4m-16.4 1h1.4m9.6 0h1.4m-15.4 1h3.4m-2.4 2h1.4m0.6 0h1.4m8.6 1h1.4m-8.4 1h1.4m3.6 0h1.4m-9.4 1h1.4m-1.4 1h1.4m9.6 0h1.4m-3.4 1h1.4m4.6 0h1.4m-17.4 1h1.4m12.6 1h1.4m-17.4 2h1.4m1.6 0h1.4m-0.4 2h1.4m0.6 0h2.4m-5.4 1h1.4m4.6 0h1.4m7.6 0h1.4m-17.4 1h1.4m0.6 0h1.4m0.6 1h1.4m0.6 1h1.4m6.6 0h1.4m-16.4 1h1.4m-2.4 1h1.4m6.6 0h1.4m3.6 0h1.4m-11.4 1h1.4m0.6 0h1.4m1.6 1h1.4m-5.4 1h1.4m9.6 1h1.4m1.6 0h1.4m-14.4 1h1.4m-1.4 1h1.4m4.6 0h1.4m5.6 0h1.4m-19.4 1h1.4m7.6 0h1.4m-6.4 2h1.4m7.6 0h1.4m0.6 0h1.4m2.6 0h1.4m-13.4 3h1.4m-2.4 1h1.4m-0.4 2h1.4m7.6 0h1.4m-12.4 1h1.4m1.6 0h2.4m-7.4 1h1.4m12.6 0h1.4m-1.4 1h1.4m-15.4 1h1.4m-0.4 2h1.4m2.6 0h1.4m6.6 0h2.4m-18.4 1h1.4m1.6 1h1.4m5.6 0h1.4m7.6 0h1.4m-20.4 2h2.4m6.6 0h1.4m-9.4 1h2.4m2.6 0h1.4m6.6 0h1.4m-8.4 1h2.4m6.6 0h1.4m-8.4 1h1.4m4.6 0h1.4m-14.4 1h1.4m3.6 0h1.4m5.6 1h1.4m-8.4 1h1.4m-7.4 1h1.4m0.6 0h1.4m4.6 0h1.4m-0.4 1h1.4m-10.4 1h1.4m11.6 1h1.4m0.6 0h1.4m-7.4 1h1.4m0.6 0h1.4m-12.4 2h1.4m2.6 0h1.4m1.6 0h2.4m4.6 0h1.4m-12.4 1h1.4m3.6 0h1.4m-10.4 1h1.4m0.6 1h1.4m9.6 0h1.4m1.6 0h2.4m-9.4 3h1.4m-8.4 2h1.4m0.6 1h1.4m5.6 0h2.4m5.6 0h1.4m-4.4 1h1.4m-7.4 2h1.4m5.6 0h1.4m0.6 0h1.4m-15.4 1h1.4m6.6 0h1.4m-8.4 1h1.4m6.6 0h1.4m-0.4 1h1.4m-13.4 1h1.4m-1.4 1h1.4m2.6 1h1.4m9.6 0h1.4m-19.4 1h1.4m9.6 0h2.4m-11.4 1h1.4m6.6 0h1.4m5.6 0h1.4m-13.4 1h1.4m2.6 0h1.4m1.6 1h2.4m-13.4 1h1.4m2.6 0h1.4m3.6 0h1.4m-8.4 1h1.4m13.6 2h1.4m-0.4 1h1.4m-13.4 1h1.4m1.6 0h1.4m0.6 0h1.4m5.6 0h1.4m-15.4 2h1.4m0.6 1h1.4m6.6 0h1.4m0.6 0h1.4m-17.4 1h1.4m8.6 0h1.4m0.6 0h1.4m-14.4 2h1.4m0.6 0h1.4m13.6 0h1.4m-7.4 1h1.4m-5.4 1h1.4m-1.4 1h1.4m2.6 0h1.4m0.6 0h3.4m-8.4 1h1.4m8.6 0h1.4m-15.4 2h1.4m8.6 1h2.4m2.6 0h1.4m-7.4 1h1.4m-1.4 1h1.4m0.6 1h1.4m-13.4 1h1.4m-0.4 1h1.4m2.6 0h2.4m0.6 0h1.4m-2.4 1h1.4m-8.4 1h1.4m0.6 0h1.4m0.6 0h1.4m-2.4 1h1.4m5.6 0h1.4m4.6 0h1.4m-14.4 2h2.4m-7.4 1h1.4m16.6 0h1.4m-16.4 1h1.4m-0.4 1h1.4m2.6 2h1.4m2.6 0h1.4m-13.4 1h1.4m0.6 0h1.4m5.6 0h1.4m-11.4 1h1.4m2.6 0h2.4m1.6 0h3.4m3.6 0h1.4m2.6 0h1.4m-18.4 1h4.4m7.6 1h1.4m-7.4 1h1.4m-7.4 1h3.4m-5.4 1h1.4m4.6 0h1.4m0.6 0h2.4m-3.4 1h3.4m-10.4 1h1.4m3.6 0h2.4m-6.4 1h1.4m-2.4 2h1.4m6.6 1h1.4m-9.4 1h1.4m5.6 0h1.4m-0.4 1h2.4m1.6 0h2.4m-12.4 1h1.4m2.6 0h1.4m6.6 0h1.4m-10.4 1h1.4m0.6 0h1.4m6.6 0h1.4m0.6 0h2.4m-18.4 1h1.4m9.6 0h1.4m-11.4 1h1.4m0.6 0h1.4m-2.4 2h1.4m-3.4 1h1.4m1.6 0h1.4m6.6 0h1.4m-12.4 1h1.4m2.6 1h1.4m0.6 1h1.4m2.6 0h2.4m4.6 0h2.4" stroke="#60657f"/><path d="M15 0.5h1.4m0.6 0h1.4m0.6 0h1.4m-9.4 1h1.4m-11.4 1h1.4m6.6 0h1.4m-7.4 1h1.4m8.6 0h1.4m-2.4 1h1.4m4.6 0h1.4m-3.4 1h1.4m0.6 0h1.4m-9.4 1h1.4m1.6 0h1.4m1.6 0h1.4m-10.4 1h1.4m8.6 0h1.4m-17.4 1h1.4m0.6 0h1.4m12.6 0h3.4m-8.4 1h1.4m-5.4 1h1.4m6.6 0h2.4m-11.4 1h2.4m8.6 0h2.4m-18.4 1h1.4m6.6 0h1.4m3.6 0h1.4m-16.4 1h1.4m16.6 0h1.4m-17.4 1h2.4m4.6 1h1.4m3.6 1h1.4m1.6 0h1.4m-11.4 2h1.4m5.6 0h1.4m-6.4 1h1.4m-9.4 1h1.4m1.6 0h1.4m9.6 0h1.4m-8.4 1h1.4m-9.4 1h1.4m9.6 0h1.4m1.6 0h1.4m-14.4 1h2.4m4.6 0h1.4m3.6 0h1.4m0.6 0h1.4m-4.4 1h1.4m0.6 0h1.4m1.6 0h1.4m-5.4 1h1.4m-13.4 1h2.4m6.6 0h1.4m2.6 0h1.4m-1.4 1h1.4m-5.4 1h1.4m6.6 1h1.4m-19.4 1h1.4m4.6 0h1.4m4.6 0h1.4m-7.4 1h2.4m9.6 0h1.4m-18.4 1h1.4m11.6 0h1.4m1.6 0h1.4m-7.4 1h1.4m1.6 0h1.4m1.6 0h1.4m-11.4 3h1.4m1.6 0h1.4m1.6 0h1.4m2.6 0h1.4m-16.4 1h1.4m10.6 0h1.4m0.6 0h2.4m-13.4 1h1.4m12.6 0h1.4m-8.4 1h3.4m-14.4 1h1.4m15.6 0h1.4m-4.4 1h1.4m-13.4 1h1.4m6.6 0h1.4m-5.4 1h1.4m1.6 0h1.4m6.6 0h1.4m-14.4 1h2.4m-1.4 1h1.4m0.6 0h1.4m1.6 0h1.4m6.6 0h1.4m-3.4 1h1.4m-10.4 1h1.4m2.6 0h1.4m-12.4 1h1.4m12.6 0h1.4m-16.4 1h1.4m12.6 0h1.4m1.6 0h1.4m-7.4 1h1.4m-10.4 1h1.4m7.6 2h1.4m6.6 1h1.4m-17.4 1h1.4m11.6 1h1.4m0.6 0h1.4m-5.4 1h1.4m1.6 0h1.4m-2.4 1h1.4m0.6 0h2.4m-18.4 1h1.4m6.6 0h2.4m1.6 0h1.4m2.6 0h2.4m-14.4 1h1.4m5.6 0h1.4m-5.4 1h2.4m-1.4 1h1.4m3.6 0h1.4m2.6 0h1.4m-10.4 1h1.4m7.6 0h1.4m-17.4 1h1.4m7.6 0h1.4m0.6 0h1.4m1.6 0h1.4m-14.4 1h2.4m6.6 0h1.4m4.6 0h1.4m-1.4 1h1.4m-19.4 1h1.4m13.6 0h3.4m-19.4 1h1.4m-0.4 1h1.4m5.6 0h1.4m2.6 0h1.4m-13.4 1h5.4m7.6 0h1.4m0.6 0h1.4m2.6 0h1.4m-18.4 1h1.4m2.6 0h1.4m-0.4 1h1.4m7.6 0h2.4m-18.4 1h1.4m-0.4 1h1.4m0.6 0h2.4m8.6 0h1.4m0.6 0h1.4m0.6 0h1.4m-18.4 1h1.4m3.6 1h1.4m-2.4 1h4.4m-0.4 2h1.4m4.6 0h1.4m-8.4 1h1.4m-3.4 1h1.4m9.6 0h2.4m-18.4 2h1.4m12.6 0h1.4m1.6 0h1.4m-3.4 1h1.4m0.6 0h1.4m-5.4 1h2.4m0.6 0h1.4m-14.4 1h1.4m4.6 0h1.4m2.6 0h1.4m0.6 0h1.4m0.6 0h2.4m-13.4 1h1.4m4.6 0h1.4m-7.4 1h2.4m-9.4 1h1.4m15.6 0h1.4m-12.4 1h1.4m5.6 0h2.4m3.6 0h1.4m-13.4 1h1.4m7.6 0h2.4m-12.4 1h1.4m10.6 0h1.4m-17.4 1h1.4m2.6 1h3.4m1.6 0h1.4m-4.4 1h1.4m-5.4 1h2.4m1.6 0h1.4m-6.4 1h2.4m2.6 0h1.4m6.6 0h2.4m-18.4 1h1.4m0.6 0h2.4m13.6 0h1.4m-19.4 2h2.4m0.6 0h2.4m0.6 1h1.4m2.6 0h1.4m0.6 0h1.4m2.6 0h1.4m0.6 0h1.4m-15.4 1h1.4m-0.4 1h2.4m11.6 0h1.4m-16.4 1h1.4m4.6 0h1.4m6.6 0h1.4m-1.4 1h2.4m-17.4 1h1.4m0.6 0h1.4m3.6 0h1.4m-9.4 1h2.4m-2.4 1h1.4m7.6 0h1.4m-10.4 1h1.4m13.6 0h1.4m-16.4 1h1.4m2.6 0h1.4m6.6 0h1.4m2.6 0h1.4m-19.4 1h1.4m14.6 0h1.4m-11.4 1h1.4m1.6 0h1.4m0.6 0h1.4m0.6 0h1.4m2.6 0h1.4m-17.4 1h1.4m16.6 0h1.4m-3.4 1h2.4m-15.4 1h1.4m-5.4 1h1.4m4.6 0h1.4m1.6 0h1.4m4.6 0h1.4m-11.4 1h1.4m0.6 0h1.4m-3.4 1h1.4m12.6 0h1.4m-15.4 1h2.4m1.6 0h1.4m-10.4 3h1.4m8.6 0h1.4m6.6 0h1.4m-9.4 1h1.4m2.6 0h1.4m3.6 0h1.4m-13.4 1h1.4m10.6 0h1.4m-19.4 1h1.4m4.6 0h2.4m7.6 0h1.4m-17.4 1h1.4m0.6 0h1.4m7.6 0h1.4m-11.4 1h1.4m13.6 0h1.4m-7.4 1h1.4m4.6 0h1.4m-14.4 1h1.4m10.6 0h1.4m-10.4 2h2.4m0.6 0h1.4m-6.4 1h1.4m1.6 0h1.4m7.6 0h1.4m-16.4 1h1.4m1.6 0h1.4m-6.4 1h2.4m5.6 0h1.4m-9.4 1h1.4m1.6 0h1.4m3.6 0h1.4m6.6 0h1.4m-17.4 1h1.4m2.6 0h1.4m-1.4 1h2.4m1.6 0h1.4m9.6 0h1.4m-12.4 2h1.4m-7.4 1h1.4m2.6 0h1.4m-2.4 2h1.4m1.6 0h1.4m3.6 0h2.4m-14.4 2h1.4m7.6 0h1.4m7.6 0h1.4m-6.4 1h1.4m-15.4 2h1.4m2.6 0h1.4m10.6 0h1.4m-15.4 1h1.4m6.6 1h1.4m3.6 0h1.4m-16.4 1h1.4m11.6 0h2.4m0.6 0h1.4m-17.4 1h2.4m3.6 0h1.4m1.6 0h1.4m5.6 0h2.4m-12.4 1h1.4m0.6 0h1.4m2.6 0h1.4m-11.4 1h1.4m3.6 0h1.4m0.6 0h1.4m1.6 1h1.4m-8.4 1h1.4m2.6 0h1.4m-10.4 1h2.4m5.6 1h1.4m-2.4 1h3.4m-9.4 1h1.4m6.6 0h1.4m0.6 0h3.4m2.6 0h1.4m-0.4 1h1.4m-18.4 1h1.4m8.6 0h1.4m6.6 0h1.4m-15.4 2h1.4m2.6 0h1.4m-2.4 1h1.4m8.6 0h1.4m-13.4 1h1.4m-6.4 2h1.4m2.6 0h1.4m-1.4 1h1.4m0.6 0h1.4m1.6 0h1.4m3.6 0h1.4m-3.4 1h1.4m1.6 0h2.4m-11.4 1h1.4m10.6 0h1.4m-16.4 1h1.4m2.6 0h1.4m0.6 0h1.4m0.6 0h1.4m-6.4 2h1.4m0.6 0h1.4m-9.4 1h3.4m6.6 0h1.4m-10.4 1h1.4m7.6 0h1.4m1.6 0h1.4m-13.4 1h1.4m3.6 0h1.4m0.6 0h1.4m7.6 0h1.4m-18.4 1h1.4m3.6 0h1.4m0.6 0h1.4m4.6 0h1.4m3.6 1h1.4m-19.4 1h1.4m0.6 0h3.4m0.6 0h1.4m-6.4 1h1.4m1.6 0h1.4m1.6 0h1.4m1.6 0h1.4m0.6 0h1.4m4.6 0h1.4m-18.4 1h1.4m3.6 1h1.4m6.6 0h1.4m-10.4 1h1.4m1.6 0h2.4m6.6 0h1.4m-14.4 2h2.4m3.6 0h1.4m6.6 1h1.4m-19.4 1h1.4m10.6 0h2.4m-5.4 1h1.4m-8.4 2h1.4m7.6 0h1.4m-5.4 1h1.4m0.6 0h3.4m-12.4 1h1.4m6.6 0h1.4m-5.4 2h1.4m11.6 0h1.4m-18.4 1h1.4m0.6 0h1.4m0.6 0h1.4m4.6 0h1.4m-12.4 1h2.4m8.6 0h2.4m2.6 0h1.4m-14.4 1h2.4m1.6 0h1.4m-5.4 2h1.4m8.6 1h1.4m-9.4 1h1.4m3.6 0h1.4m-8.4 1h2.4m6.6 0h1.4m-12.4 1h1.4m5.6 0h2.4m0.6 2h1.4" stroke="#666e86"/><path d="M2 2.5h1.4m4.6 0h1.4m2.6 0h2.4m3.6 0h2.4m-19.4 1h1.4m1.6 0h1.4m0.6 0h1.4m8.6 0h1.4m-9.4 1h1.4m4.6 0h1.4m0.6 0h1.4m-3.4 1h1.4m-3.4 1h1.4m3.6 0h1.4m-13.4 2h1.4m3.6 0h1.4m-7.4 2h1.4m4.6 0h1.4m0.6 0h1.4m4.6 0h2.4m-18.4 1h2.4m1.6 0h1.4m-7.4 1h1.4m6.6 0h2.4m2.6 0h2.4m-7.4 1h2.4m6.6 0h1.4m-7.4 1h1.4m1.6 0h1.4m0.6 0h1.4m0.6 0h2.4m-5.4 2h1.4m-16.4 1h1.4m3.6 1h1.4m4.6 0h1.4m3.6 0h1.4m-11.4 1h1.4m4.6 0h1.4m0.6 2h1.4m0.6 0h1.4m-12.4 1h1.4m3.6 0h1.4m3.6 0h1.4m-13.4 1h1.4m11.6 0h1.4m0.6 0h1.4m-19.4 1h1.4m8.6 0h1.4m3.6 0h1.4m1.6 0h1.4m-15.4 1h1.4m8.6 0h1.4m2.6 0h2.4m-20.4 1h1.4m6.6 0h2.4m4.6 0h1.4m-10.4 1h1.4m3.6 1h1.4m-8.4 1h1.4m-4.4 1h1.4m10.6 0h1.4m-13.4 1h2.4m7.6 0h1.4m1.6 0h1.4m-13.4 1h1.4m7.6 0h1.4m-6.4 1h1.4m6.6 1h1.4m-15.4 1h1.4m5.6 0h1.4m3.6 0h1.4m-5.4 1h1.4m-0.4 1h2.4m0.6 0h1.4m5.6 0h1.4m-20.4 1h2.4m3.6 0h1.4m9.6 0h2.4m-0.4 1h1.4m-10.4 2h1.4m0.6 0h1.4m2.6 0h1.4m-17.4 1h2.4m2.6 0h1.4m0.6 0h1.4m1.6 0h1.4m0.6 0h1.4m4.6 0h1.4m-14.4 1h1.4m7.6 0h1.4m-7.4 1h1.4m0.6 0h1.4m4.6 0h1.4m-8.4 1h1.4m4.6 0h1.4m-14.4 1h1.4m-0.4 1h1.4m8.6 1h1.4m-4.4 1h1.4m1.6 0h1.4m0.6 0h1.4m-3.4 1h1.4m0.6 0h1.4m-12.4 1h1.4m10.6 0h1.4m0.6 0h1.4m-18.4 1h1.4m8.6 0h2.4m1.6 0h1.4m-16.4 1h1.4m1.6 0h1.4m8.6 0h1.4m2.6 0h1.4m-8.4 1h1.4m-11.4 1h1.4m12.6 0h1.4m-4.4 1h1.4m-9.4 1h1.4m13.6 0h1.4m-9.4 1h1.4m-3.4 1h1.4m3.6 0h1.4m0.6 0h2.4m-7.4 1h2.4m-5.4 1h1.4m3.6 0h2.4m-2.4 1h1.4m-9.4 1h1.4m2.6 1h1.4m1.6 0h1.4m0.6 0h1.4m-8.4 1h1.4m7.6 1h2.4m0.6 0h1.4m-16.4 1h1.4m10.6 0h1.4m-13.4 2h1.4m4.6 0h1.4m6.6 0h2.4m-14.4 1h1.4m1.6 0h1.4m0.6 0h1.4m0.6 0h1.4m2.6 0h1.4m0.6 0h1.4m-3.4 1h2.4m-17.4 1h2.4m9.6 0h1.4m0.6 0h1.4m-15.4 1h1.4m1.6 0h2.4m12.6 1h1.4m-16.4 1h2.4m6.6 0h1.4m2.6 0h2.4m-12.4 1h1.4m8.6 0h1.4m-17.4 1h1.4m1.6 0h1.4m4.6 0h1.4m4.6 2h1.4m-11.4 1h2.4m1.6 0h1.4m3.6 0h2.4m-17.4 1h1.4m17.6 0h1.4m-19.4 1h2.4m-0.4 1h1.4m1.6 0h1.4m11.6 0h1.4m-14.4 1h1.4m-2.4 1h1.4m2.6 0h1.4m7.6 0h1.4m-11.4 1h1.4m1.6 0h1.4m0.6 0h1.4m-4.4 2h1.4m-10.4 1h1.4m1.6 1h1.4m-5.4 1h1.4m2.6 0h1.4m-4.4 1h1.4m2.6 0h1.4m3.6 0h1.4m2.6 0h1.4m0.6 0h1.4m1.6 0h1.4m-4.4 1h1.4m0.6 0h2.4m-10.4 1h1.4m-6.4 1h1.4m11.6 0h1.4m-17.4 1h1.4m2.6 0h2.4m-7.4 1h1.4m12.6 0h1.4m-8.4 1h1.4m9.6 0h1.4m-4.4 1h1.4m-11.4 1h1.4m1.6 0h1.4m2.6 0h2.4m3.6 0h1.4m-17.4 1h1.4m-4.4 1h2.4m2.6 0h1.4m-5.4 1h1.4m1.6 0h1.4m3.6 0h1.4m2.6 0h1.4m4.6 1h1.4m-20.4 1h1.4m4.6 0h2.4m-8.4 1h1.4m-0.4 1h1.4m14.6 0h1.4m-2.4 1h1.4m-12.4 1h1.4m1.6 0h1.4m-5.4 1h1.4m9.6 0h1.4m0.6 0h1.4m0.6 0h1.4m-17.4 1h2.4m6.6 0h1.4m5.6 0h1.4m-16.4 1h2.4m-4.4 1h1.4m2.6 0h1.4m4.6 0h2.4m2.6 0h1.4m-18.4 1h1.4m14.6 0h1.4m-17.4 1h1.4m0.6 0h1.4m15.6 0h1.4m-6.4 1h1.4m0.6 0h1.4m-15.4 1h1.4m-0.4 1h1.4m-1.4 1h2.4m1.6 0h2.4m9.6 0h1.4m-15.4 1h1.4m3.6 0h2.4m2.6 0h1.4m0.6 0h1.4m-17.4 1h1.4m2.6 0h1.4m8.6 0h1.4m-15.4 1h1.4m1.6 0h2.4m2.6 0h1.4m2.6 1h1.4m3.6 0h1.4m-17.4 1h1.4m1.6 0h2.4m4.6 1h1.4m0.6 1h1.4m3.6 0h1.4m-20.4 1h2.4m-2.4 2h1.4m0.6 0h2.4m0.6 0h1.4m7.6 0h1.4m-13.4 1h1.4m1.6 0h1.4m0.6 0h1.4m4.6 0h1.4m-11.4 1h1.4m0.6 0h2.4m5.6 0h1.4m3.6 0h1.4m-9.4 1h1.4m1.6 0h1.4m-8.4 1h2.4m-6.4 1h2.4m-2.4 1h1.4m-2.4 1h1.4m13.6 0h1.4m1.6 0h1.4m-19.4 1h1.4m0.6 0h1.4m5.6 0h1.4m0.6 0h2.4m-11.4 1h1.4m11.6 0h1.4m-16.4 1h1.4m1.6 0h1.4m0.6 0h1.4m-2.4 1h1.4m0.6 0h2.4m2.6 0h1.4m-5.4 1h1.4m-6.4 1h2.4m10.6 0h1.4m0.6 0h1.4m-15.4 1h1.4m5.6 0h1.4m-4.4 1h1.4m5.6 0h1.4m-9.4 1h1.4m0.6 0h1.4m0.6 0h1.4m-10.4 2h1.4m1.6 0h1.4m0.6 0h1.4m1.6 0h1.4m0.6 0h1.4m5.6 0h1.4m-15.4 1h1.4m1.6 0h1.4m7.6 0h1.4m-12.4 1h2.4m2.6 0h1.4m-11.4 1h2.4m2.6 0h1.4m0.6 0h1.4m1.6 0h1.4m-5.4 2h1.4m1.6 0h1.4m4.6 0h1.4m-12.4 2h1.4m6.6 0h1.4m-14.4 1h1.4m5.6 0h1.4m3.6 0h1.4m0.6 0h1.4m1.6 0h1.4m-13.4 1h1.4m3.6 0h1.4m-10.4 1h1.4m4.6 0h1.4m4.6 0h1.4m-4.4 1h1.4m-10.4 2h1.4m0.6 0h1.4m3.6 0h1.4m9.6 0h1.4m-14.4 1h1.4m-5.4 1h1.4m6.6 0h2.4m-10.4 1h1.4m10.6 0h2.4m-9.4 1h1.4m-8.4 1h2.4m1.6 0h1.4m1.6 0h1.4m2.6 0h1.4m2.6 0h2.4m-17.4 2h1.4m8.6 0h2.4m1.6 0h1.4m1.6 0h3.4m-1.4 1h1.4m-18.4 1h1.4m6.6 0h1.4m0.6 0h1.4m1.6 0h1.4m-16.4 1h1.4m4.6 0h1.4m3.6 0h1.4m2.6 0h1.4m-16.4 2h2.4m5.6 0h1.4m8.6 0h1.4m-17.4 1h1.4m1.6 0h1.4m7.6 0h1.4m-15.4 3h1.4m6.6 0h1.4m1.6 0h1.4m4.6 0h1.4m-11.4 1h1.4m0.6 0h1.4m0.6 0h1.4m2.6 0h1.4m0.6 0h1.4m-14.4 1h1.4m0.6 0h1.4m-7.4 1h1.4m0.6 0h1.4m6.6 0h2.4m4.6 1h2.4m-12.4 1h1.4m-8.4 1h1.4m11.6 0h1.4m-3.4 1h1.4m-8.4 1h1.4m4.6 0h1.4m-11.4 1h1.4m5.6 0h1.4m-1.4 1h1.4m1.6 0h1.4m5.6 0h1.4m-16.4 2h2.4m2.6 0h1.4m9.6 0h1.4m-17.4 1h1.4m2.6 0h2.4m0.6 0h1.4m-2.4 1h1.4m0.6 0h1.4m-6.4 1h1.4m0.6 0h1.4m4.6 0h1.4m3.6 0h2.4m-18.4 1h1.4m6.6 0h1.4m-2.4 1h2.4m2.6 0h1.4m-15.4 1h1.4m14.6 0h2.4m-14.4 1h1.4m10.6 0h1.4m-15.4 2h1.4m9.6 0h1.4m3.6 0h1.4m-19.4 4h1.4m0.6 0h1.4m5.6 0h1.4m-5.4 1h2.4m0.6 0h2.4m-6.4 1h1.4m5.6 0h1.4m3.6 0h1.4m-14.4 1h3.4m6.6 0h1.4m-9.4 1h1.4" stroke="#6c768c"/><path d="M8 0.5h1.4m0.6 0h1.4m-1.4 1h1.4m1.6 0h1.4m1.6 0h1.4m-10.4 1h1.4m7.6 0h1.4m-17.4 1h1.4m4.6 1h2.4m4.6 0h1.4m4.6 0h1.4m-19.4 1h1.4m2.6 0h1.4m-4.4 1h1.4m7.6 0h1.4m2.6 0h1.4m1.6 0h1.4m-14.4 1h1.4m1.6 0h1.4m-7.4 1h1.4m4.6 0h1.4m6.6 0h1.4m-17.4 2h1.4m-1.4 1h1.4m2.6 0h2.4m11.6 1h1.4m-18.4 1h1.4m9.6 0h1.4m5.6 0h1.4m-16.4 1h1.4m2.6 0h1.4m3.6 1h1.4m-14.4 1h1.4m2.6 0h1.4m2.6 0h3.4m4.6 0h1.4m0.6 0h2.4m-11.4 1h1.4m2.6 0h3.4m1.6 0h1.4m-17.4 1h1.4m4.6 0h1.4m0.6 0h1.4m-11.4 1h1.4m1.6 0h1.4m-1.4 1h1.4m4.6 1h1.4m-9.4 1h1.4m6.6 0h1.4m2.6 0h1.4m-10.4 1h1.4m-4.4 1h1.4m4.6 0h1.4m0.6 0h1.4m-9.4 1h1.4m5.6 0h1.4m-6.4 1h1.4m0.6 0h1.4m5.6 0h2.4m-4.4 1h1.4m1.6 0h1.4m0.6 0h2.4m-8.4 1h1.4m6.6 0h1.4m-11.4 1h1.4m2.6 0h2.4m-11.4 1h1.4m12.6 0h2.4m-10.4 1h1.4m-6.4 1h1.4m0.6 0h2.4m1.6 0h1.4m1.6 0h1.4m-3.4 1h1.4m3.6 0h1.4m1.6 0h1.4m-1.4 1h1.4m-15.4 1h2.4m1.6 0h2.4m3.6 0h1.4m-15.4 1h1.4m4.6 0h1.4m1.6 0h1.4m0.6 0h2.4m-8.4 1h1.4m4.6 0h1.4m5.6 0h1.4m-11.4 1h2.4m2.6 0h1.4m-9.4 1h1.4m8.6 0h1.4m0.6 0h1.4m-18.4 1h1.4m2.6 0h1.4m8.6 0h2.4m2.6 0h1.4m-7.4 1h2.4m-9.4 1h1.4m11.6 0h1.4m-14.4 1h1.4m9.6 1h1.4m-14.4 1h1.4m4.6 0h1.4m5.6 0h1.4m-15.4 1h2.4m3.6 0h2.4m-10.4 4h1.4m14.6 0h1.4m-13.4 1h1.4m-2.4 1h1.4m10.6 0h2.4m-9.4 1h1.4m-6.4 1h1.4m2.6 0h1.4m5.6 0h2.4m-5.4 1h2.4m1.6 0h1.4m0.6 0h1.4m-16.4 1h1.4m4.6 0h1.4m-4.4 1h1.4m5.6 0h1.4m0.6 1h1.4m-15.4 1h1.4m4.6 1h2.4m-6.4 1h1.4m1.6 0h1.4m6.6 0h1.4m-1.4 1h1.4m0.6 0h1.4m-14.4 1h1.4m7.6 0h1.4m0.6 0h1.4m1.6 0h1.4m-16.4 1h1.4m2.6 0h1.4m7.6 0h1.4m2.6 0h1.4m-4.4 1h2.4m-13.4 1h1.4m7.6 0h1.4m-11.4 3h2.4m7.6 0h1.4m0.6 0h1.4m-3.4 1h1.4m-5.4 1h1.4m-1.4 1h1.4m6.6 0h1.4m-17.4 1h1.4m2.6 0h1.4m11.6 0h1.4m-20.4 1h1.4m6.6 1h1.4m2.6 0h1.4m1.6 0h1.4m-16.4 1h1.4m0.6 0h1.4m10.6 0h2.4m-4.4 1h2.4m1.6 0h1.4m0.6 0h2.4m-6.4 1h1.4m0.6 0h1.4m-14.4 1h1.4m-3.4 1h1.4m1.6 0h1.4m7.6 0h1.4m-13.4 1h1.4m13.6 0h1.4m-13.4 2h2.4m10.6 0h1.4m-18.4 1h1.4m0.6 0h1.4m0.6 0h1.4m13.6 0h1.4m-17.4 1h1.4m1.6 0h2.4m7.6 0h1.4m-16.4 1h1.4m6.6 0h1.4m6.6 0h1.4m-12.4 1h1.4m1.6 0h1.4m0.6 0h1.4m-10.4 1h2.4m1.6 0h1.4m1.6 0h1.4m0.6 0h1.4m0.6 0h1.4m-8.4 1h1.4m6.6 0h1.4m-15.4 1h1.4m5.6 0h1.4m-2.4 1h1.4m0.6 0h2.4m2.6 0h1.4m-10.4 1h1.4m7.6 0h1.4m-14.4 1h1.4m-0.4 1h1.4m13.6 0h1.4m-15.4 1h1.4m2.6 0h1.4m2.6 0h1.4m0.6 0h1.4m5.6 0h1.4m-19.4 1h1.4m-2.4 1h1.4m0.6 0h1.4m6.6 0h1.4m-6.4 1h1.4m10.6 0h1.4m-18.4 1h2.4m2.6 1h1.4m1.6 0h1.4m5.6 0h1.4m1.6 0h1.4m-12.4 2h1.4m6.6 0h1.4m-14.4 1h1.4m3.6 0h1.4m1.6 0h1.4m0.6 0h1.4m-12.4 1h1.4m2.6 0h1.4m-1.4 1h1.4m1.6 0h1.4m5.6 0h1.4m-15.4 1h1.4m6.6 0h1.4m-6.4 1h1.4m10.6 0h1.4m-13.4 1h1.4m3.6 0h1.4m-6.4 1h1.4m0.6 0h1.4m4.6 0h1.4m4.6 0h2.4m-17.4 1h1.4m3.6 0h1.4m-0.4 1h1.4m3.6 1h1.4m2.6 0h1.4m-16.4 1h1.4m5.6 0h2.4m3.6 0h1.4m-16.4 1h1.4m2.6 0h1.4m2.6 0h1.4m8.6 0h1.4m-19.4 1h1.4m0.6 0h1.4m2.6 0h1.4m8.6 0h1.4m-10.4 2h1.4m7.6 0h1.4m-18.4 1h2.4m6.6 0h1.4m0.6 1h1.4m1.6 0h1.4m-13.4 1h1.4m0.6 0h1.4m2.6 0h1.4m3.6 0h1.4m-1.4 1h1.4m-11.4 1h1.4m14.6 0h1.4m-20.4 2h1.4m1.6 0h1.4m9.6 0h1.4m-12.4 1h2.4m5.6 0h1.4m-12.4 1h1.4m3.6 0h3.4m9.6 0h1.4m-18.4 2h2.4m3.6 0h1.4m-2.4 1h2.4m1.6 0h1.4m1.6 0h1.4m0.6 0h1.4m1.6 1h1.4m-19.4 1h1.4m17.6 0h1.4m-13.4 1h1.4m0.6 0h1.4m7.6 0h1.4m-4.4 1h1.4m-9.4 1h1.4m8.6 0h2.4m-14.4 1h2.4m3.6 0h1.4m-10.4 1h1.4m4.6 0h1.4m2.6 0h1.4m-4.4 1h1.4m0.6 0h1.4m4.6 0h1.4m-18.4 1h1.4m2.6 0h1.4m1.6 0h1.4m2.6 0h1.4m-12.4 1h1.4m5.6 0h1.4m0.6 0h1.4m7.6 0h1.4m-10.4 1h1.4m4.6 0h1.4m-15.4 1h2.4m1.6 0h1.4m2.6 0h1.4m2.6 0h2.4m-13.4 1h1.4m13.6 0h1.4m-17.4 1h1.4m6.6 0h1.4m8.6 0h1.4m-16.4 1h1.4m1.6 0h1.4m2.6 0h1.4m4.6 0h2.4m-16.4 1h2.4m0.6 0h1.4m0.6 0h1.4m9.6 0h1.4m-20.4 1h1.4m2.6 2h1.4m0.6 0h2.4m9.6 0h1.4m-17.4 1h2.4m4.6 1h1.4m6.6 0h1.4m-14.4 1h1.4m8.6 0h1.4m2.6 0h1.4m-10.4 1h1.4m4.6 0h1.4m1.6 0h2.4m-19.4 1h1.4m5.6 0h1.4m-7.4 1h3.4m2.6 0h1.4m0.6 0h1.4m2.6 0h1.4m2.6 0h1.4m-9.4 1h1.4m6.6 0h1.4m-8.4 1h1.4m0.6 0h1.4m2.6 0h1.4m-14.4 1h1.4m10.6 0h1.4m1.6 1h1.4m-4.4 1h1.4m1.6 0h1.4m-20.4 1h1.4m1.6 1h1.4m4.6 0h1.4m5.6 0h2.4m-12.4 1h1.4m8.6 0h1.4m-17.4 1h1.4m4.6 0h1.4m-4.4 2h1.4m3.6 0h2.4m1.6 1h1.4m-4.4 2h1.4m5.6 0h1.4m0.6 0h1.4m-18.4 2h1.4m0.6 0h1.4m9.6 0h1.4m0.6 0h1.4m-13.4 2h1.4m0.6 1h1.4m3.6 0h1.4m0.6 0h1.4m-9.4 1h1.4m2.6 0h1.4m-6.4 1h1.4m6.6 0h1.4m1.6 0h1.4m1.6 0h1.4m-13.4 1h1.4m6.6 0h1.4m0.6 0h1.4m-15.4 1h2.4m7.6 0h2.4m1.6 0h1.4m0.6 0h1.4m-18.4 1h1.4m0.6 0h1.4m6.6 0h1.4m-4.4 1h1.4m4.6 0h1.4m2.6 0h1.4m-13.4 1h1.4m1.6 0h1.4m-4.4 1h1.4m5.6 0h1.4m2.6 0h1.4m-12.4 1h1.4m1.6 0h1.4m3.6 0h1.4m1.6 0h1.4m-3.4 1h2.4m-11.4 1h1.4m6.6 0h1.4m0.6 0h3.4m-18.4 1h1.4m11.6 0h1.4m-13.4 1h2.4m9.6 0h1.4m-11.4 1h2.4m4.6 1h1.4m-12.4 1h1.4m1.6 0h1.4m0.6 0h1.4m3.6 0h1.4m-0.4 1h1.4m-10.4 1h3.4m-2.4 1h1.4m1.6 1h1.4m-3.4 3h1.4m8.6 1h1.4m-13.4 2h1.4m15.6 0h1.4m-9.4 1h1.4m-9.4 1h1.4m2.6 0h2.4m9.6 0h1.4m-18.4 1h1.4m7.6 0h1.4m-9.4 1h1.4m9.6 0h2.4m-2.4 1h1.4m-11.4 1h1.4m6.6 0h1.4" stroke="#737f93"/><path d="M7 0.5h1.4m-7.4 1h1.4m3.6 0h1.4m6.6 0h2.4m-14.4 3h1.4m13.6 0h1.4m-15.4 2h1.4m4.6 0h1.4m-4.4 1h1.4m6.6 0h1.4m-8.4 1h1.4m0.6 0h1.4m0.6 0h1.4m1.6 0h1.4m-13.4 1h2.4m-2.4 1h1.4m10.6 0h2.4m-15.4 2h1.4m3.6 0h1.4m4.6 0h1.4m-8.4 1h1.4m0.6 0h1.4m1.6 0h1.4m-8.4 3h1.4m7.6 0h1.4m-7.4 1h1.4m3.6 0h1.4m6.6 0h1.4m-20.4 1h2.4m0.6 0h1.4m12.6 0h2.4m-17.4 1h1.4m0.6 0h1.4m1.6 0h1.4m-8.4 1h1.4m17.6 0h1.4m-10.4 1h2.4m-8.4 1h1.4m0.6 0h1.4m0.6 0h1.4m2.6 0h1.4m-6.4 1h1.4m10.6 0h1.4m-12.4 1h1.4m6.6 0h1.4m-8.4 1h3.4m-8.4 2h1.4m1.6 0h1.4m8.6 0h1.4m0.6 0h1.4m-19.4 2h1.4m3.6 0h1.4m7.6 0h1.4m-16.4 2h1.4m11.6 0h1.4m0.6 0h1.4m-1.4 1h1.4m-14.4 2h1.4m-0.4 1h1.4m1.6 0h1.4m8.6 1h1.4m-14.4 1h2.4m8.6 1h2.4m-6.4 1h1.4m6.6 0h1.4m-7.4 1h2.4m-11.4 1h1.4m12.6 0h2.4m-11.4 1h1.4m7.6 0h1.4m-16.4 2h1.4m3.6 0h1.4m2.6 0h1.4m-9.4 1h1.4m-3.4 1h1.4m3.6 0h1.4m-0.4 1h1.4m8.6 0h1.4m0.6 0h1.4m-20.4 1h1.4m1.6 0h1.4m-1.4 1h1.4m2.6 0h1.4m-8.4 1h1.4m2.6 0h1.4m1.6 0h1.4m9.6 0h1.4m-18.4 1h1.4m15.6 1h2.4m-15.4 1h1.4m0.6 0h1.4m6.6 0h1.4m-11.4 1h3.4m-7.4 1h1.4m8.6 0h1.4m0.6 1h1.4m0.6 0h1.4m-16.4 1h1.4m6.6 0h1.4m-4.4 2h1.4m0.6 0h1.4m-4.4 2h1.4m9.6 0h1.4m-16.4 1h3.4m7.6 0h1.4m4.6 0h1.4m-17.4 1h2.4m-2.4 2h1.4m5.6 0h2.4m-7.4 1h1.4m1.6 0h1.4m0.6 0h1.4m-7.4 2h1.4m6.6 1h2.4m2.6 0h1.4m2.6 0h1.4m-11.4 1h1.4m6.6 0h1.4m-18.4 1h1.4m2.6 0h1.4m7.6 0h2.4m-11.4 1h2.4m4.6 0h2.4m-10.4 1h1.4m12.6 1h1.4m-16.4 1h2.4m-0.4 1h1.4m3.6 0h1.4m1.6 0h1.4m4.6 0h1.4m-10.4 1h1.4m0.6 1h1.4m2.6 0h1.4m-3.4 1h2.4m-13.4 1h1.4m13.6 0h1.4m-11.4 1h1.4m3.6 0h2.4m0.6 0h1.4m-16.4 1h1.4m1.6 0h1.4m-1.4 2h1.4m7.6 0h1.4m5.6 1h1.4m-20.4 1h1.4m13.6 0h1.4m-16.4 1h1.4m1.6 0h1.4m5.6 0h1.4m2.6 0h1.4m-0.4 1h1.4m0.6 0h2.4m-15.4 1h2.4m1.6 0h1.4m6.6 0h1.4m-16.4 1h1.4m12.6 0h1.4m2.6 1h1.4m-19.4 2h1.4m3.6 0h1.4m-4.4 1h1.4m7.6 0h1.4m0.6 0h1.4m2.6 0h1.4m-18.4 1h1.4m14.6 0h1.4m-15.4 1h1.4m4.6 0h1.4m8.6 1h1.4m-13.4 1h1.4m4.6 0h1.4m1.6 0h1.4m-9.4 1h2.4m-8.4 1h1.4m7.6 1h1.4m-10.4 1h1.4m4.6 0h2.4m7.6 0h2.4m-17.4 1h1.4m10.6 0h2.4m-15.4 1h1.4m2.6 0h1.4m9.6 0h1.4m-17.4 1h1.4m1.6 0h1.4m3.6 0h1.4m-3.4 1h1.4m10.6 0h1.4m-13.4 1h1.4m0.6 0h1.4m7.6 0h1.4m-18.4 1h1.4m2.6 0h1.4m0.6 0h2.4m5.6 0h1.4m-5.4 1h1.4m0.6 1h1.4m3.6 1h1.4m-19.4 1h2.4m9.6 0h1.4m-9.4 1h1.4m1.6 0h1.4m-4.4 1h1.4m0.6 1h1.4m0.6 0h2.4m4.6 0h1.4m1.6 0h1.4m-3.4 2h1.4m1.6 0h1.4m-16.4 1h1.4m5.6 0h1.4m3.6 0h1.4m0.6 0h1.4m-19.4 1h1.4m8.6 0h1.4m5.6 0h1.4m-9.4 1h1.4m1.6 0h1.4m4.6 0h1.4m-17.4 1h1.4m-1.4 1h1.4m12.6 0h1.4m-4.4 2h1.4m3.6 0h1.4m-17.4 1h1.4m11.6 0h1.4m2.6 0h1.4m-16.4 1h1.4m4.6 0h1.4m7.6 1h1.4m-20.4 1h1.4m1.6 0h1.4m4.6 0h1.4m8.6 0h1.4m-19.4 1h1.4m1.6 1h1.4m11.6 0h1.4m-17.4 1h1.4m6.6 0h1.4m6.6 0h1.4m-18.4 1h1.4m4.6 0h1.4m-6.4 1h1.4m8.6 0h1.4m1.6 0h1.4m-11.4 1h1.4m4.6 0h1.4m0.6 1h1.4m0.6 0h1.4m2.6 2h1.4m-14.4 1h1.4m1.6 0h2.4m7.6 0h1.4m-8.4 1h1.4m3.6 0h1.4m-13.4 1h1.4m4.6 0h2.4m1.6 0h1.4m-12.4 1h1.4m5.6 0h2.4m3.6 0h1.4m-8.4 1h1.4m4.6 0h1.4m-16.4 1h1.4m6.6 0h1.4m-7.4 1h1.4m-3.4 1h1.4m8.6 0h1.4m4.6 0h1.4m-6.4 2h1.4m2.6 0h1.4m-16.4 1h1.4m9.6 0h2.4m-5.4 1h1.4m4.6 0h1.4m-3.4 1h1.4m4.6 0h1.4m-17.4 1h2.4m12.6 1h1.4m-7.4 2h1.4m-8.4 2h1.4m2.6 0h2.4m3.6 0h1.4m0.6 0h1.4m0.6 0h1.4m-7.4 2h1.4m3.6 0h2.4m-9.4 1h1.4m2.6 0h1.4m-11.4 1h1.4m4.6 0h1.4m4.6 0h1.4m-15.4 1h1.4m9.6 0h2.4m-14.4 1h1.4m2.6 0h1.4m1.6 0h1.4m-1.4 1h1.4m6.6 1h1.4m-7.4 1h1.4m5.6 0h2.4m-9.4 1h2.4m1.6 0h1.4m-14.4 2h1.4m3.6 0h1.4m6.6 0h1.4m-13.4 2h1.4m0.6 0h1.4m7.6 0h1.4m3.6 0h1.4m-18.4 1h1.4m8.6 0h1.4m0.6 0h1.4m-11.4 1h1.4m0.6 0h1.4m-5.4 1h1.4m1.6 0h1.4m4.6 0h1.4m-11.4 1h1.4m2.6 0h1.4m-5.4 1h1.4m1.6 0h1.4m0.6 0h1.4m9.6 0h2.4m-6.4 1h1.4m1.6 0h1.4m2.6 0h1.4m-20.4 1h1.4m16.6 1h1.4m-5.4 2h1.4m-1.4 1h1.4m2.6 0h1.4m-9.4 1h1.4m4.6 0h1.4m0.6 0h1.4m-12.4 1h2.4m3.6 0h1.4m-9.4 1h1.4m4.6 0h1.4m2.6 0h1.4m-7.4 1h2.4m5.6 0h3.4m-19.4 1h1.4m12.6 0h2.4m-17.4 1h1.4m1.6 0h1.4m6.6 0h2.4m-9.4 1h1.4m2.6 0h1.4m-1.4 1h1.4m2.6 0h3.4m1.6 0h1.4m-14.4 1h1.4m0.6 0h1.4m1.6 0h1.4m8.6 0h1.4m-4.4 1h1.4m-4.4 1h1.4m2.6 0h1.4m-3.4 2h1.4m-8.4 1h1.4m7.6 0h1.4m-9.4 1h1.4m-10.4 1h1.4m6.6 0h1.4m9.6 0h1.4m-20.4 2h2.4m2.6 0h1.4m-6.4 1h1.4m2.6 0h2.4m0.6 0h1.4m5.6 0h1.4m3.6 2h1.4m-20.4 2h1.4m7.6 0h2.4m-8.4 1h1.4m1.6 0h1.4" stroke="#798899"/><path d="M4 0.5h1.4m0.6 0h1.4m8.6 0h1.4m-5.4 1h1.4m-9.4 1h1.4m11.6 0h1.4m-9.4 2h1.4m6.6 1h1.4m-18.4 1h1.4m3.6 0h1.4m-0.4 2h1.4m-7.4 1h2.4m0.6 3h1.4m2.6 0h1.4m-6.4 1h1.4m7.6 0h1.4m0.6 0h1.4m-9.4 1h1.4m-5.4 2h1.4m8.6 0h1.4m-11.4 1h1.4m1.6 0h1.4m-0.4 2h1.4m3.6 0h1.4m5.6 3h1.4m0.6 0h1.4m-15.4 2h2.4m-7.4 1h1.4m2.6 1h1.4m-3.4 1h2.4m7.6 0h1.4m4.6 0h1.4m-0.4 1h1.4m-7.4 1h1.4m2.6 2h1.4m-14.4 1h1.4m4.6 0h1.4m-8.4 1h1.4m-2.4 2h1.4m-1.4 3h1.4m3.6 0h1.4m-6.4 1h2.4m6.6 0h1.4m-10.4 1h1.4m1.6 0h1.4m-6.4 1h1.4m0.6 0h1.4m1.6 0h1.4m6.6 1h1.4m-10.4 1h1.4m-2.4 1h1.4m13.6 0h1.4m-11.4 6h1.4m7.6 1h1.4m-15.4 1h1.4m5.6 0h1.4m-7.4 1h1.4m13.6 0h1.4m-20.4 1h1.4m0.6 0h1.4m7.6 0h1.4m4.6 0h1.4m-12.4 1h2.4m0.6 0h1.4m8.6 0h1.4m-20.4 1h1.4m0.6 0h1.4m1.6 0h1.4m1.6 0h1.4m0.6 0h1.4m-4.4 1h1.4m1.6 0h1.4m3.6 0h2.4m-15.4 1h1.4m-0.4 1h2.4m3.6 0h1.4m6.6 0h1.4m-10.4 2h1.4m-4.4 1h1.4m-6.4 1h1.4m3.6 0h1.4m2.6 0h1.4m-9.4 1h1.4m7.6 0h1.4m4.6 0h1.4m-15.4 1h1.4m3.6 0h1.4m3.6 0h1.4m1.6 0h1.4m-5.4 1h1.4m-12.4 1h1.4m2.6 0h2.4m3.6 0h1.4m-6.4 1h1.4m4.6 3h1.4m6.6 0h1.4m-20.4 1h1.4m6.6 0h2.4m8.6 0h1.4m-13.4 2h1.4m0.6 1h2.4m7.6 0h1.4m-17.4 1h1.4m3.6 0h1.4m1.6 0h1.4m1.6 1h1.4m1.6 0h1.4m-6.4 1h1.4m-1.4 1h1.4m-5.4 3h1.4m-7.4 1h1.4m3.6 0h1.4m4.6 0h1.4m-7.4 1h1.4m1.6 0h2.4m1.6 0h1.4m1.6 0h1.4m-14.4 1h1.4m6.6 0h1.4m-11.4 1h1.4m8.6 0h1.4m-11.4 1h1.4m8.6 0h1.4m-8.4 1h1.4m7.6 0h1.4m0.6 0h1.4m1.6 0h1.4m-17.4 1h1.4m14.6 0h1.4m-17.4 4h1.4m0.6 0h1.4m0.6 0h1.4m-8.4 1h1.4m7.6 0h1.4m-5.4 3h1.4m2.6 0h1.4m3.6 0h1.4m-11.4 1h1.4m6.6 0h1.4m0.6 0h1.4m-13.4 1h1.4m0.6 0h1.4m4.6 0h2.4m0.6 0h1.4m0.6 0h1.4m-6.4 1h1.4m0.6 0h1.4m3.6 0h1.4m-7.4 2h1.4m-1.4 2h1.4m2.6 0h1.4m-0.4 1h1.4m-6.4 1h2.4m-8.4 1h2.4m2.6 0h1.4m1.6 0h1.4m4.6 0h1.4m-10.4 2h1.4m1.6 0h1.4m0.6 0h1.4m-11.4 1h1.4m12.6 2h1.4m-20.4 1h1.4m6.6 0h1.4m8.6 0h1.4m-4.4 1h1.4m-11.4 1h1.4m3.6 0h1.4m-9.4 3h1.4m2.6 0h1.4m4.6 0h3.4m1.6 0h1.4m-6.4 1h2.4m0.6 0h1.4m-12.4 2h1.4m6.6 1h1.4m-2.4 1h2.4m-1.4 1h1.4m-8.4 1h1.4m3.6 0h1.4m4.6 0h1.4m0.6 0h1.4m-11.4 1h1.4m1.6 0h1.4m2.6 0h1.4m-8.4 2h1.4m6.6 0h1.4m-0.4 1h1.4m-6.4 1h1.4m2.6 0h1.4m-13.4 1h1.4m5.6 0h1.4m1.6 0h1.4m-0.4 1h1.4m-4.4 1h1.4m-4.4 1h1.4m2.6 1h1.4m-11.4 1h1.4m10.6 0h1.4m-15.4 2h1.4m3.6 0h1.4m9.6 0h1.4m-18.4 2h2.4m10.6 0h1.4m1.6 0h2.4m0.6 0h1.4m-16.4 1h1.4m7.6 2h2.4m0.6 0h1.4m-17.4 1h1.4m11.6 0h1.4m-12.4 1h1.4m15.6 1h1.4m-19.4 1h1.4m10.6 0h1.4m2.6 0h1.4m-17.4 1h1.4m16.6 0h1.4m-16.4 1h1.4m6.6 0h1.4m-10.4 1h1.4m10.6 1h1.4m-5.4 1h1.4m1.6 0h1.4m-15.4 1h1.4m1.6 0h2.4m-2.4 3h1.4m10.6 0h1.4m-16.4 2h2.4m1.6 0h1.4m0.6 0h1.4m7.6 1h1.4m-7.4 1h1.4m6.6 0h1.4m-9.4 2h1.4m7.6 0h1.4m-18.4 1h1.4m-0.4 2h1.4m1.6 0h1.4m5.6 0h1.4m0.6 0h1.4m-2.4 2h1.4m-12.4 1h1.4m13.6 0h1.4m-18.4 1h2.4m-2.4 2h1.4m0.6 1h1.4m-3.4 1h1.4m1.6 0h1.4m1.6 2h1.4m2.6 0h1.4m-10.4 1h1.4m4.6 2h1.4m0.6 0h2.4m1.6 0h1.4m1.6 0h1.4m-9.4 7h1.4m3.6 0h1.4m0.6 0h2.4m-12.4 1h1.4m5.6 0h1.4m4.6 0h1.4m-13.4 1h1.4m10.6 0h1.4m-0.4 1h1.4m-1.4 1h1.4m-19.4 1h2.4m2.6 1h1.4m-2.4 1h1.4m0.6 0h1.4m5.6 0h1.4m3.6 3h1.4m-15.4 2h2.4m2.6 2h1.4m5.6 0h1.4m-8.4 1h1.4m0.6 0h1.4m-7.4 1h1.4m3.6 0h1.4m1.6 0h1.4m-8.4 1h1.4m6.6 0h1.4m1.6 0h1.4m-9.4 1h1.4m1.6 0h1.4m4.6 0h1.4m-19.4 1h1.4m13.6 0h2.4m-16.4 1h1.4m3.6 0h1.4" stroke="#7f919f"/><path d="M3 0.5h1.4m-4.4 1h1.4m1.6 1h1.4m0.6 0h1.4m-3.4 2h1.4m-4.4 1h1.4m0.6 0h1.4m2.6 1h1.4m6.6 0h1.4m-11.4 2h1.4m-2.4 5h1.4m0.6 4h1.4m5.6 0h1.4m2.6 0h2.4m-3.4 1h1.4m-13.4 4h1.4m13.6 0h1.4m-18.4 5h1.4m2.6 0h1.4m2.6 0h1.4m0.6 0h1.4m5.6 1h1.4m-14.4 1h1.4m9.6 0h1.4m-6.4 1h1.4m6.6 0h1.4m-11.4 1h1.4m5.6 0h1.4m-17.4 1h1.4m6.6 0h1.4m-4.4 1h1.4m-3.4 1h1.4m0.6 2h1.4m7.6 0h1.4m-8.4 1h1.4m-1.4 2h1.4m-5.4 1h1.4m4.6 0h1.4m5.6 2h1.4m-16.4 2h1.4m1.6 0h1.4m8.6 0h1.4m-10.4 3h1.4m-4.4 1h1.4m2.6 1h1.4m-1.4 1h1.4m1.6 0h2.4m7.6 0h1.4m-6.4 3h1.4m-14.4 1h1.4m0.6 0h1.4m13.6 0h1.4m-11.4 1h1.4m5.6 0h1.4m-15.4 1h1.4m1.6 0h1.4m0.6 0h1.4m4.6 0h1.4m0.6 0h1.4m3.6 0h1.4m-16.4 1h1.4m5.6 0h1.4m6.6 0h1.4m-11.4 3h1.4m-6.4 2h1.4m12.6 0h1.4m-19.4 2h1.4m9.6 1h1.4m5.6 0h1.4m-10.4 1h2.4m0.6 0h1.4m3.6 0h1.4m-12.4 1h1.4m-0.4 4h1.4m3.6 0h1.4m-0.4 3h1.4m-8.4 1h1.4m3.6 0h1.4m1.6 0h1.4m-14.4 1h1.4m12.6 1h1.4m-3.4 1h1.4m2.6 0h3.4m-8.4 2h1.4m-3.4 1h1.4m-2.4 1h1.4m-6.4 5h1.4m6.6 1h1.4m-6.4 1h1.4m2.6 0h1.4m0.6 0h1.4m-7.4 3h2.4m-1.4 1h2.4m3.6 0h1.4m1.6 1h1.4m-5.4 1h2.4m-15.4 1h1.4m11.6 1h1.4m-13.4 1h1.4m6.6 0h1.4m-4.4 1h2.4m2.6 1h1.4m3.6 2h1.4m-17.4 2h1.4m6.6 0h1.4m6.6 0h1.4m-4.4 1h1.4m2.6 0h1.4m-5.4 1h1.4m-6.4 1h1.4m2.6 0h1.4m1.6 0h1.4m-0.4 2h1.4m-10.4 2h1.4m8.6 0h1.4m-13.4 2h1.4m1.6 1h1.4m1.6 0h1.4m-1.4 1h1.4m-2.4 1h1.4m0.6 0h1.4m-1.4 1h1.4m-6.4 1h2.4m8.6 1h1.4m-5.4 2h1.4m-4.4 1h1.4m4.6 2h1.4m-12.4 1h1.4m10.6 2h1.4m-14.4 1h1.4m5.6 0h2.4m-2.4 1h1.4m5.6 0h1.4m-17.4 1h1.4m10.6 0h1.4m2.6 0h1.4m-8.4 1h1.4m1.6 0h1.4m-2.4 1h1.4m3.6 2h1.4m-6.4 2h1.4m0.6 1h1.4m-12.4 2h1.4m5.6 0h1.4m3.6 0h1.4m0.6 0h1.4m-5.4 2h1.4m-9.4 1h1.4m-5.4 2h1.4m11.6 0h1.4m-16.4 1h1.4m2.6 0h1.4m10.6 0h2.4m-1.4 2h1.4m-14.4 2h1.4m8.6 1h1.4m-8.4 1h1.4m-2.4 5h1.4m3.6 1h1.4m4.6 0h1.4m-17.4 1h1.4m1.6 0h1.4m9.6 0h1.4m0.6 1h1.4m-13.4 1h1.4m-7.4 1h1.4m-1.4 1h1.4m15.6 0h1.4m-1.4 2h1.4m-7.4 4h2.4m0.6 1h1.4m1.6 1h1.4m-3.4 3h1.4m-8.4 2h1.4m-4.4 1h1.4m6.6 0h1.4m-12.4 2h1.4m11.6 0h1.4m0.6 0h1.4m-2.4 1h2.4m0.6 3h1.4m-15.4 1h1.4m-2.4 3h1.4m4.6 1h1.4m3.6 0h1.4m-7.4 1h1.4m1.6 0h1.4m0.6 0h3.4m-6.4 1h1.4m5.6 0h1.4m-5.4 2h2.4m-10.4 1h1.4m3.6 0h1.4m5.6 0h1.4m-1.4 1h1.4m-9.4 3h1.4m3.6 1h1.4m0.6 0h1.4m-14.4 2h1.4m0.6 0h1.4m5.6 0h4.4m0.6 0h1.4m-13.4 1h1.4m0.6 0h1.4m6.6 0h1.4m-0.4 1h2.4m-3.4 1h1.4m-17.4 1h1.4m0.6 0h1.4m8.6 0h1.4m4.6 0h1.4m-13.4 1h1.4m5.6 1h1.4" stroke="#869aa6"/><path d="M1 0.5h1.4m2.6 0h1.4m-3.4 1h1.4m0.6 0h1.4m12.6 0h1.4m-14.4 1h1.4m-6.4 2h1.4m12.6 0h1.4m-15.4 2h1.4m1.6 0h1.4m-4.4 1h1.4m15.6 0h1.4m-14.4 5h1.4m-0.4 1h1.4m-6.4 1h1.4m-0.4 2h1.4m3.6 0h1.4m-5.4 1h1.4m-3.4 2h1.4m9.6 2h1.4m-11.4 3h1.4m-0.4 1h1.4m-4.4 4h1.4m0.6 0h1.4m-0.4 1h1.4m-1.4 1h1.4m5.6 0h1.4m-4.4 1h1.4m-7.4 1h1.4m1.6 1h1.4m-4.4 2h1.4m0.6 0h1.4m10.6 0h1.4m-13.4 2h2.4m2.6 2h1.4m-8.4 1h1.4m16.6 0h1.4m-5.4 1h1.4m-3.4 2h1.4m-9.4 6h1.4m-0.4 3h1.4m-2.4 4h1.4m-0.4 2h1.4m-1.4 4h1.4m0.6 0h1.4m-0.4 1h1.4m-0.4 1h1.4m-9.4 2h1.4m4.6 0h1.4m3.6 0h1.4m-6.4 4h1.4m-4.4 3h2.4m0.6 0h1.4m2.6 0h1.4m-3.4 2h1.4m7.6 0h1.4m-15.4 4h1.4m4.6 0h1.4m1.6 0h1.4m-4.4 1h1.4m1.6 0h1.4m-11.4 1h2.4m3.6 0h1.4m2.6 1h1.4m-6.4 1h1.4m2.6 0h1.4m-12.4 5h1.4m6.6 2h1.4m-0.4 1h2.4m-3.4 4h1.4m-0.4 1h2.4m-2.4 1h1.4m2.6 0h1.4m-13.4 1h1.4m0.6 0h1.4m5.6 0h1.4m3.6 0h1.4m0.6 0h1.4m-10.4 3h1.4m2.6 0h1.4m-4.4 1h1.4m1.6 0h1.4m-8.4 1h1.4m0.6 0h1.4m4.6 2h1.4m-5.4 1h1.4m1.6 0h1.4m-8.4 2h1.4m5.6 0h1.4m-7.4 2h1.4m5.6 1h1.4m-4.4 2h1.4m-0.4 1h1.4m-1.4 1h1.4m1.6 3h1.4m-14.4 2h1.4m8.6 1h1.4m-5.4 3h1.4m2.6 0h1.4m-5.4 1h1.4m-6.4 2h1.4m0.6 0h1.4m3.6 1h1.4m5.6 0h1.4m-5.4 1h1.4m0.6 1h1.4m-1.4 1h1.4m-2.4 3h1.4m-4.4 3h1.4m-3.4 1h1.4m2.6 0h2.4m0.6 2h1.4m-4.4 3h1.4m-12.4 4h1.4m5.6 0h1.4m1.6 0h1.4m0.6 7h1.4m-10.4 1h1.4m11.6 1h1.4m-17.4 1h1.4m9.6 0h1.4m-0.4 3h1.4m-13.4 1h2.4m-0.4 8h1.4m7.6 1h1.4m-3.4 2h1.4m2.6 0h1.4m1.6 0h1.4m-13.4 2h1.4m0.6 0h1.4m-0.4 1h1.4m-7.4 1h1.4m13.6 0h1.4m-20.4 1h1.4m6.6 0h1.4m2.6 0h1.4m1.6 1h1.4m-16.4 5h1.4m11.6 2h1.4m2.6 1h1.4m0.6 0h1.4m-7.4 1h1.4m-10.4 1h1.4m10.6 0h1.4m-17.4 1h1.4m11.6 0h3.4m1.6 0h1.4m-2.4 1h1.4m-3.4 1h1.4m0.6 1h1.4m-11.4 6h1.4m0.6 1h1.4m6.6 0h1.4m-2.4 1h1.4m-0.4 2h1.4m-17.4 2h1.4" stroke="#8ca2ac"/><path d="M2 1.5h1.4m0.6 0h1.4m12.6 0h1.4m-19.4 3h1.4m1.6 3h1.4m14.6 5h1.4m-16.4 1h1.4m8.6 0h1.4m-15.4 1h1.4m0.6 3h1.4m0.6 1h1.4m9.6 3h1.4m-14.4 1h1.4m0.6 2h1.4m-3.4 1h1.4m-3.4 2h1.4m1.6 2h1.4m-2.4 4h1.4m0.6 0h1.4m-3.4 3h1.4m0.6 0h1.4m-1.4 3h1.4m0.6 2h1.4m1.6 0h1.4m-1.4 3h1.4m-4.4 3h1.4m-4.4 15h1.4m3.6 0h1.4m3.6 1h1.4m-7.4 3h1.4m-1.4 1h1.4m0.6 0h1.4m8.6 0h1.4m-14.4 1h1.4m-2.4 3h1.4m11.6 0h1.4m-12.4 4h1.4m1.6 3h1.4m-1.4 1h1.4m0.6 4h1.4m-12.4 4h1.4m6.6 2h2.4m0.6 0h1.4m-1.4 2h1.4m-1.4 2h2.4m-3.4 2h1.4m1.6 4h1.4m2.6 0h1.4m-16.4 6h1.4m7.6 0h1.4m-1.4 5h1.4m-3.4 4h1.4m0.6 1h1.4m0.6 2h2.4m-1.4 1h1.4m-1.4 6h2.4m-2.4 4h1.4m-3.4 5h1.4m-0.4 5h1.4m-3.4 3h1.4m1.6 4h1.4m-2.4 2h1.4m-10.4 13h1.4m10.6 13h2.4m-4.4 7h2.4m-10.4 4h1.4m7.6 3h1.4m-2.4 2h1.4m0.6 1h1.4m0.6 2h1.4m-5.4 1h2.4m0.6 2h1.4m-4.4 5h1.4m0.6 2h1.4m-9.4 3h1.4m3.6 0h1.4m2.6 0h2.4" stroke="#93abb2"/><path d="M2 0.5h1.4m-3.4 21h3.4m1.6 0h1.4m-3.4 3h1.4m-0.4 6h1.4m-0.4 1h1.4m0.6 9h1.4m-4.4 1h1.4m2.6 10h1.4m-2.4 5h1.4m-1.4 7h1.4m-0.4 18h1.4m-1.4 3h1.4m0.6 1h2.4m-2.4 13h1.4m-0.4 7h1.4m1.6 1h1.4m0.6 9h1.4m-6.4 1h1.4m0.6 1h1.4m-0.4 5h1.4m-5.4 16h1.4m3.6 5h1.4m-3.4 6h1.4m1.6 6h1.4m-4.4 3h1.4m0.6 0h1.4m-4.4 12h1.4m-1.4 22h1.4m2.6 0h1.4m1.6 8h1.4m-5.4 4h1.4m-8.4 1h1.4m0.6 0h1.4" stroke="#99b4b9"/><path d="M2 7.5h1.4m0.6 5h1.4m-2.4 9h2.4m-1.4 10h1.4m-0.4 3h1.4m0.6 17h1.4m2.6 23h1.4m-1.4 5h1.4m-3.4 4h1.4m0.6 0h1.4m-2.4 10h2.4m1.6 3h1.4m-3.4 6h2.4m-4.4 3h1.4m-1.4 5h1.4m1.6 4h2.4m-0.4 8h1.4m-2.4 3h1.4m-1.4 3h1.4m-2.4 10h1.4m-2.4 6h1.4m-13.4 22h1.4m2.6 0h1.4m0.6 0h2.4m0.6 0h1.4m6.6 22h1.4m-18.4 17h1.4" stroke="#9fbdbf"/><path d="M8 27.5h1.4m-4.4 3h1.4m-0.4 10h1.4m-0.4 1h2.4m-3.4 10h1.4m-3.4 7h6.4m-4.4 4h1.4m1.6 19h1.4m1.6 15h2.4m0.6 0h4.4m-5.4 9h1.4m-3.4 3h1.4m-0.4 31h1.4m4.6 17h1.4m-19.4 10h3.4m0.6 0h1.4m1.6 0h1.4m-9.4 26h1.4m14.6 5h1.4" stroke="#a6c5c6"/><path d="M3 58.5h1.4m2.6 4h1.4m0.6 12h2.4m-1.4 9h1.4m-0.4 13h1.4m6.6 0h1.4m-8.4 8h3.4m-2.4 4h2.4m-4.4 2h1.4m1.6 68h1.4m0.6 12h1.4m0.6 10h1.4m-3.4 5h2.4" stroke="#afcccc"/><path d="M6 37.5h1.4m1.6 34h1.4m-1.4 2h3.4m2.6 98h5.4" stroke="#b9d2d2"/><path d="M5 52.5h5.4m-3.4 21h2.4m5.6 75h2.4m-2.4 57h1.4" stroke="#c3d9d9"/><path d="M12 90.5h1.4m0.6 58h1.4" stroke="#cddfdf"/><path d="M8 90.5h4.4" stroke="#d7e5e5"/><path d="M4 48.5h6.4" stroke="#e1ecec"/><path d="M10 48.5h1.4m-4.4 20h1.4m2.6 0h2.4m0.6 0h1.4m-4.4 66h5.4m-1.4 23h1.4m-0.4 6h1.4m-1.4 35h1.4" stroke="#ebf2f2"/><path d="M0 15.5h8.4m-8.4 13h7.4m0.6 0h1.4m-1.4 40h1.4m3.6 0h1.4m1.6 66h1.4m-7.4 19h6.4m0.6 0h3.4m-6.4 4h1.4m-0.4 9h5.4m-12.4 32h1.4m1.6 0h2.4m1.6 0h1.4m0.6 0h3.4" stroke="#f5f9f9"/><path d="M7 28.5h1.4m7.6 125h1.4m-8.4 45h1.4m2.6 0h2.4" stroke="#ffffff"/></g></g>
<line x1="278.20" y1="211.00" x2="278.20" y2="534.40" stroke="#000" stroke-width="2.1" stroke-dasharray="6.6 3.56" stroke-dashoffset="3.86"/>
<clipPath id="hc2"><rect x="392.500" y="211.400" width="91.500" height="320.600"/></clipPath><g clip-path="url(#hc2)"><g transform="translate(392.500 211.400) scale(4.57500 1.59502)" stroke-width="1.35"><rect width="20" height="201" fill="#6f7a8f"/><path d="M19 105.5h1.4" stroke="#060609"/><path d="M0 43.5h10.4m2.6 62h6.4" stroke="#0d0d12"/><path d="M14 4.5h1.4m0.6 0h2.4m-1.4 142h3.4" stroke="#13131b"/><path d="M15 4.5h1.4m1.6 0h2.4m-5.4 73h1.4m2.6 0h1.4" stroke="#191923"/><path d="M9 4.5h1.4m-9.4 71h4.4m0.6 0h1.4m8.6 2h3.4" stroke="#20202c"/><path d="M5 1.5h6.4m0.6 0h8.4m-7.4 3h1.4m-14.4 71h1.4m3.6 0h1.4m-3.4 33h1.4m4.6 0h1.4m-7.4 44h1.4" stroke="#262635"/><path d="M11 1.5h1.4m-1.4 33h3.4m-14.4 28h6.4m3.6 46h1.4m-7.4 44h1.4m1.6 0h1.4m-1.4 30h1.4" stroke="#2d2d3e"/><path d="M10 4.5h1.4m0.6 0h1.4m-3.4 33h1.4m-3.4 71h1.4m2.6 0h1.4m-8.4 44h1.4m4.6 30h1.4" stroke="#333347"/><path d="M8 4.5h1.4m1.6 0h1.4m-2.4 5h1.4m6.6 19h1.4m-5.4 50h1.4m-14.4 11h1.4m-2.4 19h1.4m2.6 0h1.4m10.6 0h2.4m-12.4 35h1.4m-1.4 9h1.4m1.6 7h1.4m0.6 17h1.4m-6.4 6h1.4m11.6 0h1.4m-20.4 10h1.4m-1.4 7h1.4m5.6 0h1.4" stroke="#393950"/><path d="M7 4.5h1.4m-1.4 7h1.4m-0.4 4h1.4m6.6 12h1.4m-6.4 10h1.4m2.6 0h1.4m0.6 3h1.4m-17.4 6h1.4m16.6 21h1.4m-6.4 8h1.4m-0.4 1h1.4m-6.4 2h1.4m-9.4 2h1.4m13.6 6h1.4m-16.4 14h1.4m1.6 38h1.4m1.6 0h1.4m6.6 0h1.4m-14.4 16h1.4m-0.4 5h1.4m6.6 17h1.4m4.6 0h2.4m-17.4 6h1.4m5.6 0h1.4m-7.4 17h1.4m3.6 0h1.4" stroke="#404059"/><path d="M3 3.5h1.4m6.6 0h1.4m-1.4 3h1.4m0.6 2h1.4m-5.4 1h1.4m6.6 5h1.4m-6.4 4h1.4m-1.4 9h1.4m-1.4 3h1.4m3.6 5h1.4m-9.4 2h1.4m7.6 3h1.4m-6.4 1h2.4m-12.4 6h1.4m13.6 7h1.4m-2.4 1h1.4m-6.4 1h1.4m3.6 0h1.4m-4.4 9h1.4m-4.4 1h1.4m-6.4 4h1.4m10.6 6h1.4m-10.4 2h1.4m-10.4 11h1.4m14.6 1h1.4m-16.4 2h1.4m16.6 4h1.4m-19.4 4h1.4m2.6 3h1.4m6.6 5h2.4m-10.4 8h1.4m-3.4 1h1.4m11.6 1h1.4m0.6 1h1.4m-2.4 6h2.4m-16.4 10h1.4m0.6 0h1.4m2.6 1h1.4m-10.4 7h1.4m9.6 3h1.4m-8.4 8h1.4m-3.4 5h2.4m0.6 0h1.4m3.6 0h1.4m3.6 1h1.4m-8.4 6h1.4m0.6 10h1.4m-4.4 11h1.4m1.6 0h1.4m2.6 0h1.4m-5.4 3h2.4m-2.4 2h1.4m4.6 0h1.4m-15.4 4h1.4m-0.4 3h1.4m3.6 0h1.4" stroke="#464662"/><path d="M5 3.5h1.4m8.6 0h1.4m2.6 0h1.4m-9.4 6h1.4m-5.4 5h1.4m0.6 0h2.4m-4.4 10h1.4m-8.4 3h1.4m6.6 0h1.4m0.6 0h1.4m7.6 0h1.4m-4.4 2h1.4m-6.4 1h1.4m-12.4 6h1.4m10.6 1h1.4m-1.4 2h1.4m-6.4 2h1.4m-4.4 6h1.4m-3.4 2h1.4m-2.4 4h1.4m7.6 1h1.4m2.6 1h1.4m0.6 0h1.4m-6.4 10h1.4m-8.4 1h1.4m-3.4 1h1.4m-3.4 4h1.4m12.6 3h1.4m-0.4 1h1.4m-16.4 1h1.4m3.6 0h1.4m5.6 2h2.4m-13.4 2h1.4m3.6 0h1.4m4.6 0h1.4m-5.4 1h1.4m5.6 0h1.4m-10.4 3h1.4m0.6 0h1.4m8.6 2h1.4m-15.4 3h1.4m8.6 0h3.4m-15.4 1h2.4m10.6 0h1.4m-12.4 9h1.4m1.6 4h1.4m-5.4 3h2.4m-2.4 1h1.4m0.6 1h1.4m0.6 0h1.4m6.6 0h1.4m2.6 0h1.4m-14.4 1h1.4m-4.4 2h1.4m10.6 0h1.4m-7.4 1h1.4m6.6 6h1.4m-14.4 7h1.4m10.6 0h1.4m0.6 1h1.4m-16.4 4h1.4m4.6 5h1.4m-10.4 5h1.4m0.6 0h1.4m1.6 6h1.4m-5.4 1h1.4m1.6 0h1.4m-4.4 2h1.4m-2.4 1h1.4m0.6 2h1.4m0.6 1h2.4m1.6 6h1.4m1.6 4h1.4m-0.4 2h1.4m2.6 0h1.4m-0.4 5h1.4m-0.4 2h2.4m-11.4 5h1.4m-4.4 9h1.4m4.6 4h1.4m-9.4 2h1.4m-3.4 3h1.4m6.6 5h1.4" stroke="#4c4c6a"/><path d="M7 0.5h1.4m1.6 0h1.4m-7.4 1h1.4m1.6 1h1.4m0.6 0h1.4m0.6 0h2.4m4.6 1h1.4m-11.4 2h1.4m-2.4 2h1.4m-7.4 1h1.4m11.6 1h1.4m0.6 0h1.4m-8.4 2h1.4m1.6 0h2.4m-4.4 1h1.4m3.6 0h1.4m0.6 0h1.4m-7.4 1h1.4m4.6 0h1.4m-14.4 1h1.4m5.6 0h1.4m5.6 0h1.4m-6.4 11h2.4m-14.4 1h1.4m12.6 1h1.4m-10.4 1h1.4m2.6 0h1.4m4.6 0h1.4m-17.4 1h1.4m12.6 0h2.4m-6.4 1h1.4m-0.4 1h1.4m3.6 1h1.4m-3.4 3h1.4m2.6 0h1.4m-6.4 2h1.4m-6.4 2h1.4m1.6 0h1.4m-11.4 1h1.4m8.6 0h1.4m1.6 0h1.4m-0.4 1h1.4m-11.4 5h1.4m-6.4 1h1.4m4.6 0h1.4m7.6 0h2.4m-9.4 1h1.4m9.6 0h1.4m-13.4 3h1.4m10.6 3h1.4m-6.4 5h1.4m-15.4 2h1.4m4.6 0h1.4m6.6 1h1.4m-7.4 1h1.4m3.6 0h1.4m-4.4 3h1.4m0.6 0h1.4m3.6 0h1.4m-16.4 4h1.4m1.6 0h1.4m-3.4 4h1.4m-3.4 2h1.4m8.6 0h1.4m-8.4 1h1.4m10.6 1h1.4m-17.4 2h1.4m3.6 0h1.4m2.6 0h1.4m2.6 0h2.4m2.6 0h1.4m-14.4 1h1.4m-1.4 1h1.4m-1.4 1h1.4m0.6 1h1.4m6.6 1h1.4m-11.4 1h1.4m-5.4 1h1.4m-0.4 2h2.4m1.6 0h1.4m5.6 0h1.4m2.6 0h1.4m0.6 0h1.4m-15.4 1h1.4m2.6 2h1.4m0.6 1h1.4m-0.4 2h1.4m1.6 0h1.4m-11.4 4h1.4m-1.4 1h1.4m7.6 0h1.4m1.6 0h1.4m-0.4 3h1.4m-17.4 2h1.4m1.6 0h1.4m-4.4 3h1.4m14.6 0h1.4m-12.4 2h1.4m6.6 0h1.4m-0.4 1h1.4m-13.4 1h1.4m12.6 0h1.4m-17.4 2h1.4m-0.4 1h1.4m-4.4 1h1.4m16.6 0h1.4m-15.4 3h1.4m5.6 0h1.4m-7.4 2h1.4m3.6 0h1.4m7.6 0h1.4m-3.4 2h1.4m-1.4 3h1.4m-12.4 2h1.4m0.6 0h1.4m8.6 0h1.4m-8.4 4h1.4m-9.4 2h1.4m13.6 0h1.4m-2.4 1h2.4m-10.4 2h1.4m5.6 2h1.4m0.6 1h1.4m-18.4 2h1.4m8.6 1h1.4m-12.4 3h1.4m7.6 0h1.4m5.6 0h1.4m-15.4 1h1.4m-3.4 1h1.4m-0.4 4h1.4m-2.4 1h1.4m-0.4 1h2.4m3.6 3h1.4m-0.4 1h1.4m2.6 1h1.4m4.6 1h1.4m-12.4 3h1.4m1.6 0h1.4m-9.4 2h1.4m-2.4 1h1.4m4.6 0h1.4m-0.4 4h1.4m8.6 0h1.4m-4.4 6h1.4m-1.4 2h1.4m-7.4 3h1.4m-2.4 1h2.4m1.6 0h2.4m-11.4 2h1.4m-0.4 2h1.4m2.6 1h1.4m-1.4 1h1.4m-0.4 1h1.4m7.6 0h1.4m-18.4 1h1.4m6.6 1h1.4m-9.4 1h1.4m8.6 1h1.4m-11.4 6h1.4m8.6 0h1.4m1.6 0h1.4" stroke="#535373"/><path d="M16 0.5h1.4m-14.4 2h1.4m0.6 0h2.4m0.6 0h1.4m0.6 0h1.4m7.6 0h1.4m-14.4 1h1.4m-2.4 1h1.4m-1.4 1h2.4m1.6 0h1.4m0.6 0h1.4m4.6 0h1.4m-13.4 3h1.4m7.6 0h1.4m-6.4 4h1.4m3.6 0h1.4m-1.4 1h1.4m-14.4 1h1.4m2.6 0h1.4m5.6 0h1.4m-8.4 1h3.4m0.6 0h1.4m5.6 0h1.4m-9.4 3h2.4m2.6 0h1.4m-9.4 2h1.4m3.6 1h1.4m1.6 0h1.4m0.6 1h1.4m-5.4 3h1.4m4.6 0h1.4m-16.4 2h2.4m1.6 0h2.4m0.6 0h1.4m0.6 0h1.4m0.6 0h1.4m-10.4 1h1.4m13.6 0h1.4m-19.4 1h1.4m8.6 0h1.4m6.6 2h1.4m-19.4 1h1.4m3.6 2h1.4m7.6 1h1.4m-3.4 1h2.4m-1.4 1h1.4m-15.4 1h1.4m17.6 4h1.4m-8.4 1h1.4m-0.4 2h1.4m-2.4 1h2.4m4.6 1h1.4m-10.4 1h1.4m3.6 1h1.4m-15.4 3h1.4m10.6 0h1.4m-2.4 2h2.4m4.6 1h1.4m-1.4 3h1.4m-20.4 1h1.4m1.6 0h1.4m0.6 2h1.4m9.6 0h2.4m-5.4 1h1.4m-13.4 4h1.4m0.6 0h1.4m10.6 0h1.4m-13.4 1h1.4m-3.4 1h1.4m12.6 0h1.4m-16.4 1h1.4m11.6 1h1.4m4.6 0h1.4m-19.4 1h1.4m0.6 0h1.4m14.6 0h1.4m-1.4 1h1.4m-18.4 2h1.4m9.6 0h1.4m-11.4 2h1.4m3.6 0h1.4m3.6 0h1.4m1.6 0h1.4m-11.4 1h1.4m-3.4 3h1.4m1.6 0h1.4m7.6 0h1.4m-13.4 1h1.4m-1.4 1h1.4m11.6 0h1.4m-5.4 2h1.4m-12.4 1h1.4m0.6 0h1.4m0.6 0h1.4m-4.4 1h2.4m7.6 1h1.4m3.6 0h1.4m-15.4 3h1.4m8.6 0h1.4m-13.4 1h1.4m-3.4 1h1.4m8.6 1h1.4m-4.4 1h1.4m-3.4 2h1.4m11.6 0h1.4m-18.4 2h1.4m4.6 1h1.4m8.6 0h1.4m0.6 0h1.4m-20.4 1h1.4m2.6 0h1.4m3.6 0h1.4m4.6 0h1.4m-16.4 1h1.4m2.6 2h1.4m11.6 0h1.4m-2.4 4h1.4m-16.4 1h1.4m-0.4 1h1.4m-3.4 1h1.4m0.6 0h1.4m0.6 0h3.4m0.6 0h1.4m-7.4 1h1.4m0.6 0h1.4m-2.4 3h2.4m3.6 0h1.4m-8.4 2h1.4m0.6 0h1.4m1.6 0h1.4m8.6 0h1.4m-16.4 1h1.4m0.6 0h1.4m9.6 0h1.4m1.6 0h1.4m-5.4 1h2.4m-16.4 1h1.4m1.6 0h1.4m0.6 0h2.4m0.6 0h1.4m7.6 0h1.4m-8.4 1h1.4m-10.4 1h1.4m3.6 0h1.4m-3.4 1h1.4m13.6 0h1.4m-16.4 1h1.4m12.6 0h2.4m-13.4 2h1.4m10.6 0h1.4m-15.4 1h1.4m1.6 0h1.4m-8.4 2h1.4m15.6 3h1.4m-16.4 2h1.4m5.6 0h1.4m-9.4 1h1.4m0.6 0h1.4m0.6 1h1.4m0.6 0h1.4m-5.4 1h1.4m2.6 0h1.4m1.6 0h1.4m5.6 0h1.4m-12.4 1h1.4m-6.4 1h1.4m5.6 0h1.4m-5.4 1h1.4m1.6 0h1.4m-8.4 1h1.4m0.6 0h1.4m12.6 0h1.4m-7.4 1h2.4m-10.4 1h1.4m1.6 0h1.4m1.6 0h1.4m-1.4 3h1.4m8.6 0h1.4m-19.4 1h1.4m4.6 0h1.4m-7.4 2h1.4m7.6 0h2.4m-4.4 1h1.4m-6.4 1h1.4m13.6 0h1.4m-12.4 1h1.4m1.6 0h1.4m-3.4 1h1.4m0.6 0h1.4m-11.4 2h1.4m5.6 0h1.4m0.6 0h1.4m4.6 0h1.4m-15.4 1h1.4m0.6 0h1.4m10.6 1h1.4m-16.4 3h2.4m3.6 0h2.4m-3.4 2h1.4m-4.4 1h1.4m0.6 1h1.4m6.6 0h1.4m-11.4 1h1.4m3.6 0h1.4m0.6 1h2.4m-9.4 1h1.4m-3.4 2h1.4m6.6 1h1.4m-6.4 1h1.4m2.6 0h1.4m1.6 2h1.4m-6.4 2h1.4m4.6 0h1.4m-7.4 2h1.4m6.6 0h1.4m-14.4 1h1.4m15.6 0h1.4m-13.4 1h1.4m0.6 0h1.4m5.6 0h1.4m3.6 0h1.4m-14.4 3h2.4m-3.4 1h1.4m11.6 0h1.4m-16.4 1h1.4m3.6 0h1.4m-0.4 1h1.4m8.6 0h1.4m-20.4 1h1.4m2.6 0h1.4m12.6 0h2.4m-15.4 1h1.4m0.6 0h1.4m-4.4 1h1.4m6.6 0h1.4m1.6 0h1.4m-9.4 2h1.4m8.6 0h1.4m-18.4 1h1.4m2.6 0h1.4m10.6 0h1.4m-15.4 1h2.4m0.6 0h1.4m-1.4 1h1.4m5.6 0h1.4m5.6 0h1.4m-16.4 1h1.4m1.6 0h1.4m-3.4 2h1.4m0.6 1h1.4m-6.4 2h1.4m1.6 0h1.4m0.6 0h2.4m0.6 1h1.4m4.6 0h1.4m-14.4 1h1.4" stroke="#595c79"/><path d="M11 0.5h2.4m1.6 0h1.4m-16.4 2h1.4m0.6 1h1.4m5.6 0h1.4m1.6 0h1.4m-7.4 1h1.4m-0.4 1h1.4m3.6 0h1.4m4.6 0h1.4m-15.4 1h1.4m2.6 0h1.4m8.6 1h1.4m-15.4 1h1.4m1.6 0h1.4m0.6 0h1.4m6.6 0h1.4m-18.4 2h1.4m2.6 0h1.4m12.6 0h1.4m-11.4 1h1.4m1.6 0h1.4m-7.4 1h1.4m4.6 0h2.4m4.6 0h1.4m-11.4 1h1.4m0.6 0h1.4m0.6 0h2.4m0.6 0h1.4m2.6 0h1.4m-5.4 1h2.4m-13.4 1h1.4m5.6 0h1.4m2.6 0h1.4m0.6 0h1.4m0.6 0h1.4m-15.4 1h1.4m3.6 0h1.4m-0.4 1h2.4m-3.4 1h1.4m4.6 0h1.4m-5.4 1h1.4m1.6 0h1.4m-4.4 1h1.4m2.6 0h1.4m-5.4 1h1.4m1.6 0h1.4m-6.4 2h1.4m1.6 0h1.4m-9.4 1h2.4m10.6 0h1.4m-15.4 2h1.4m7.6 0h2.4m1.6 0h1.4m-17.4 1h1.4m4.6 1h3.4m4.6 0h1.4m0.6 0h1.4m-15.4 1h1.4m13.6 1h1.4m-10.4 1h2.4m3.6 0h1.4m-9.4 3h1.4m1.6 0h1.4m3.6 0h1.4m1.6 0h1.4m-3.4 1h1.4m-9.4 2h1.4m9.6 0h1.4m-10.4 1h1.4m3.6 0h1.4m2.6 0h1.4m-11.4 1h1.4m6.6 0h1.4m-16.4 1h1.4m4.6 0h1.4m3.6 0h1.4m-0.4 3h1.4m-15.4 1h1.4m0.6 0h1.4m10.6 0h1.4m-15.4 1h1.4m9.6 0h1.4m-3.4 1h1.4m0.6 0h1.4m4.6 0h1.4m-17.4 1h1.4m2.6 0h1.4m0.6 0h1.4m4.6 0h1.4m-11.4 1h1.4m8.6 0h3.4m-9.4 1h1.4m8.6 0h1.4m-18.4 1h1.4m-1.4 1h1.4m9.6 0h1.4m1.6 0h1.4m-3.4 1h1.4m0.6 0h1.4m2.6 0h1.4m-19.4 2h1.4m8.6 1h1.4m0.6 0h1.4m-13.4 1h1.4m7.6 0h2.4m3.6 1h1.4m-13.4 1h1.4m9.6 0h1.4m-13.4 1h1.4m-2.4 1h1.4m15.6 0h1.4m-1.4 2h1.4m-19.4 1h1.4m7.6 0h1.4m1.6 1h1.4m-13.4 2h1.4m0.6 0h1.4m4.6 0h1.4m4.6 0h1.4m0.6 0h1.4m0.6 0h1.4m-13.4 1h2.4m3.6 1h1.4m-11.4 1h1.4m9.6 0h1.4m0.6 0h1.4m-16.4 1h1.4m1.6 0h1.4m13.6 0h1.4m-17.4 1h1.4m8.6 0h1.4m4.6 0h1.4m-19.4 1h1.4m10.6 0h1.4m3.6 0h1.4m-14.4 2h1.4m11.6 0h1.4m-2.4 1h1.4m-11.4 1h1.4m2.6 0h1.4m0.6 0h1.4m0.6 0h1.4m-11.4 2h1.4m-2.4 2h1.4m6.6 0h1.4m2.6 0h1.4m2.6 0h1.4m-18.4 1h1.4m6.6 2h2.4m-12.4 1h1.4m8.6 0h1.4m-11.4 1h1.4m7.6 0h1.4m0.6 0h1.4m1.6 0h1.4m-1.4 1h1.4m3.6 0h1.4m-16.4 1h1.4m13.6 0h1.4m-20.4 1h1.4m11.6 0h1.4m-13.4 2h1.4m3.6 0h1.4m4.6 0h1.4m-9.4 1h1.4m10.6 0h3.4m-15.4 1h2.4m8.6 0h1.4m1.6 0h1.4m-18.4 1h2.4m-2.4 1h2.4m0.6 0h1.4m2.6 0h1.4m-9.4 1h1.4m0.6 1h1.4m2.6 0h1.4m8.6 3h1.4m-6.4 1h2.4m5.6 3h1.4m-18.4 1h1.4m-2.4 1h1.4m0.6 0h1.4m3.6 0h1.4m-3.4 1h1.4m-6.4 1h2.4m0.6 0h1.4m6.6 0h1.4m5.6 0h1.4m-9.4 1h1.4m-7.4 1h1.4m10.6 1h1.4m0.6 0h1.4m-19.4 1h1.4m3.6 0h1.4m10.6 0h1.4m-16.4 1h1.4m0.6 0h1.4m10.6 0h1.4m-14.4 1h1.4m10.6 0h1.4m1.6 0h1.4m-15.4 1h1.4m-4.4 1h1.4m3.6 0h1.4m7.6 0h1.4m-11.4 1h1.4m2.6 0h1.4m3.6 0h1.4m2.6 0h1.4m-19.4 1h1.4m5.6 0h1.4m-3.4 1h1.4m-6.4 1h1.4m13.6 0h1.4m-12.4 1h1.4m0.6 0h1.4m2.6 0h1.4m-10.4 1h1.4m4.6 0h1.4m7.6 0h1.4m-16.4 1h2.4m0.6 0h1.4m8.6 0h1.4m1.6 0h1.4m-16.4 1h1.4m11.6 0h1.4m-12.4 2h1.4m3.6 0h1.4m-8.4 1h1.4m5.6 0h1.4m-10.4 1h1.4m4.6 0h1.4m0.6 0h1.4m-3.4 1h1.4m0.6 0h1.4m0.6 1h1.4m6.6 0h1.4m-18.4 2h4.4m0.6 1h1.4m8.6 0h1.4m-18.4 1h1.4m2.6 2h1.4m13.6 0h1.4m-19.4 1h2.4m1.6 0h2.4m-7.4 1h1.4m4.6 0h1.4m11.6 0h1.4m-16.4 1h1.4m9.6 0h1.4m-16.4 1h2.4m0.6 0h1.4m10.6 0h1.4m1.6 0h1.4m-10.4 1h2.4m4.6 0h1.4m-13.4 3h2.4m0.6 0h2.4m-7.4 1h1.4m-1.4 1h1.4m2.6 0h1.4m8.6 0h2.4m-16.4 1h1.4m0.6 0h1.4m2.6 0h1.4m2.6 0h1.4m-9.4 2h1.4m10.6 0h1.4m-16.4 2h1.4m6.6 0h1.4m-7.4 1h1.4m14.6 0h1.4m-9.4 1h3.4m4.6 0h1.4m-18.4 1h2.4m5.6 0h1.4m-3.4 1h1.4m6.6 0h1.4m0.6 0h2.4m-13.4 2h1.4m10.6 0h1.4m-18.4 1h1.4m-0.4 1h1.4m2.6 0h1.4m2.6 1h1.4m-10.4 1h1.4m1.6 0h1.4m0.6 0h1.4m7.6 0h1.4m-13.4 1h1.4m0.6 0h1.4m-7.4 1h1.4m1.6 0h1.4m5.6 0h1.4m6.6 0h1.4m-16.4 1h1.4m1.6 0h1.4m11.6 0h1.4m-14.4 1h1.4m-2.4 1h1.4m6.6 0h1.4m0.6 0h1.4m-13.4 1h1.4m9.6 1h1.4m-5.4 1h1.4m-2.4 1h2.4m-5.4 1h1.4m7.6 0h1.4m-14.4 1h1.4m2.6 1h1.4m3.6 0h1.4m-9.4 1h2.4m1.6 0h1.4m3.6 0h1.4m-10.4 1h1.4m2.6 0h1.4m1.6 0h1.4m-11.4 1h1.4m5.6 0h2.4m-9.4 1h1.4m12.6 0h1.4m1.6 0h1.4m-10.4 1h1.4m9.6 0h1.4m-20.4 1h2.4m6.6 0h1.4m-9.4 1h1.4m1.6 0h1.4m-5.4 1h1.4m5.6 0h1.4m0.6 0h1.4m0.6 0h3.4m-10.4 1h1.4m2.6 0h1.4m1.6 0h1.4m-8.4 1h1.4m-3.4 1h1.4m3.6 1h1.4m1.6 0h1.4m3.6 0h1.4m-6.4 1h1.4m-9.4 1h2.4m3.6 0h3.4m-10.4 1h2.4m7.6 0h1.4m-8.4 2h1.4m4.6 0h1.4m1.6 0h2.4m-8.4 1h1.4m0.6 0h1.4m-7.4 2h1.4m2.6 0h1.4m8.6 0h2.4m-13.4 1h1.4m0.6 0h2.4m2.6 0h1.4m-6.4 1h1.4m-8.4 1h1.4m16.6 0h1.4m-14.4 1h1.4m5.6 0h1.4m-13.4 1h1.4m6.6 1h1.4m1.6 1h1.4m5.6 0h1.4m-18.4 1h1.4m3.6 0h2.4" stroke="#60657f"/><path d="M13 0.5h1.4m4.6 0h1.4m-18.4 2h1.4m0.6 0h1.4m8.6 0h1.4m2.6 0h1.4m-18.4 1h1.4m1.6 0h1.4m1.6 0h2.4m0.6 0h1.4m5.6 0h1.4m-14.4 1h1.4m10.6 1h1.4m1.6 0h1.4m-10.4 1h1.4m2.6 0h2.4m0.6 0h2.4m-15.4 1h1.4m2.6 0h1.4m9.6 0h1.4m-14.4 1h1.4m0.6 0h1.4m2.6 0h1.4m1.6 0h1.4m-8.4 1h1.4m7.6 0h1.4m0.6 0h1.4m-12.4 1h1.4m7.6 0h1.4m-8.4 1h1.4m-5.4 1h1.4m-1.4 1h2.4m0.6 0h1.4m2.6 1h2.4m-1.4 1h1.4m-14.4 1h1.4m1.6 0h1.4m13.6 0h1.4m-12.4 1h1.4m4.6 0h3.4m-12.4 1h1.4m0.6 0h1.4m10.6 0h1.4m-14.4 1h1.4m2.6 0h2.4m1.6 0h1.4m0.6 0h1.4m-7.4 1h1.4m-8.4 1h1.4m9.6 0h1.4m-15.4 1h1.4m1.6 0h1.4m0.6 0h1.4m7.6 0h1.4m1.6 0h1.4m-10.4 1h1.4m4.6 0h1.4m0.6 0h1.4m-9.4 1h1.4m1.6 0h1.4m2.6 0h1.4m-15.4 1h1.4m4.6 0h1.4m0.6 0h2.4m0.6 0h1.4m1.6 0h1.4m-10.4 1h1.4m-3.4 1h1.4m8.6 0h1.4m2.6 0h1.4m-7.4 2h1.4m3.6 0h1.4m-10.4 1h1.4m-1.4 1h1.4m6.6 0h2.4m-9.4 1h1.4m-1.4 1h1.4m-5.4 1h1.4m7.6 0h1.4m-8.4 3h1.4m-7.4 1h1.4m10.6 1h3.4m1.6 0h1.4m-7.4 1h1.4m1.6 0h2.4m1.6 0h1.4m-17.4 1h1.4m14.6 0h1.4m-11.4 1h3.4m0.6 0h1.4m-4.4 1h2.4m5.6 0h1.4m-18.4 1h1.4m-1.4 1h1.4m12.6 0h2.4m0.6 0h1.4m-11.4 1h1.4m6.6 0h1.4m1.6 0h1.4m-18.4 1h1.4m5.6 0h1.4m-8.4 1h1.4m3.6 0h1.4m2.6 0h2.4m-3.4 1h2.4m1.6 0h1.4m2.6 0h2.4m-18.4 1h1.4m2.6 0h1.4m4.6 0h1.4m1.6 0h1.4m-10.4 1h1.4m1.6 0h1.4m5.6 0h1.4m0.6 0h2.4m-11.4 1h1.4m-10.4 1h1.4m9.6 1h1.4m4.6 0h1.4m-18.4 1h1.4m0.6 0h1.4m2.6 0h1.4m1.6 0h1.4m2.6 0h1.4m3.6 0h1.4m-11.4 1h1.4m5.6 0h1.4m-13.4 1h1.4m7.6 0h2.4m2.6 0h1.4m-7.4 1h2.4m-12.4 1h1.4m2.6 0h1.4m5.6 0h2.4m-13.4 2h1.4m1.6 0h1.4m12.6 0h1.4m-8.4 1h2.4m2.6 0h1.4m1.6 0h1.4m-19.4 1h1.4m9.6 0h1.4m-8.4 1h1.4m1.6 0h1.4m3.6 0h1.4m-12.4 1h1.4m1.6 0h1.4m-1.4 1h2.4m11.6 0h1.4m-19.4 1h1.4m5.6 0h1.4m4.6 0h2.4m0.6 0h1.4m-18.4 1h1.4m7.6 0h1.4m0.6 0h1.4m1.6 1h1.4m3.6 0h1.4m-19.4 1h1.4m8.6 0h1.4m1.6 0h2.4m-11.4 1h1.4m4.6 0h1.4m0.6 0h2.4m-12.4 1h1.4m6.6 2h1.4m3.6 0h1.4m1.6 1h1.4m-18.4 1h1.4m0.6 0h1.4m11.6 0h1.4m-18.4 1h1.4m9.6 0h1.4m-11.4 2h1.4m5.6 1h1.4m7.6 0h1.4m-17.4 1h1.4m0.6 0h1.4m2.6 0h1.4m-8.4 1h1.4m14.6 0h1.4m0.6 0h1.4m-7.4 1h1.4m3.6 0h1.4m-6.4 1h1.4m3.6 0h1.4m0.6 0h1.4m-17.4 1h1.4m5.6 0h1.4m0.6 0h1.4m3.6 0h2.4m-19.4 1h2.4m8.6 0h1.4m-0.4 1h1.4m0.6 0h1.4m-12.4 1h1.4m9.6 0h1.4m-10.4 1h1.4m11.6 0h1.4m-6.4 1h1.4m4.6 0h1.4m-17.4 1h1.4m2.6 1h1.4m7.6 0h1.4m1.6 0h1.4m-16.4 1h2.4m8.6 0h1.4m0.6 0h1.4m-18.4 1h1.4m3.6 0h2.4m6.6 0h1.4m-14.4 1h2.4m6.6 2h1.4m-9.4 1h2.4m9.6 0h1.4m-9.4 1h1.4m10.6 0h1.4m-16.4 1h1.4m8.6 0h1.4m1.6 0h1.4m-1.4 1h2.4m0.6 0h1.4m-4.4 1h1.4m-3.4 1h1.4m0.6 0h1.4m-10.4 1h1.4m2.6 0h1.4m6.6 0h1.4m-20.4 1h1.4m7.6 0h1.4m-2.4 1h1.4m0.6 0h3.4m0.6 0h1.4m1.6 0h1.4m-13.4 1h1.4m11.6 0h1.4m-13.4 1h1.4m-4.4 1h1.4m2.6 0h1.4m-5.4 1h1.4m4.6 0h1.4m5.6 0h1.4m-8.4 1h1.4m6.6 0h1.4m0.6 0h1.4m-10.4 1h1.4m4.6 0h1.4m-15.4 1h1.4m1.6 0h1.4m1.6 0h1.4m8.6 0h1.4m-12.4 1h1.4m-7.4 1h1.4m12.6 0h1.4m-7.4 1h1.4m5.6 0h1.4m-17.4 1h1.4m3.6 1h1.4m0.6 1h1.4m0.6 0h2.4m1.6 0h2.4m3.6 0h1.4m-18.4 1h1.4m5.6 0h1.4m1.6 0h1.4m5.6 0h1.4m-16.4 1h1.4m1.6 0h1.4m6.6 0h2.4m0.6 0h1.4m-3.4 1h1.4m-16.4 1h1.4m2.6 0h1.4m1.6 0h1.4m1.6 0h1.4m-6.4 1h1.4m0.6 0h1.4m-8.4 1h2.4m2.6 0h1.4m0.6 0h1.4m4.6 0h2.4m-15.4 1h2.4m5.6 0h1.4m1.6 0h1.4m1.6 0h1.4m-16.4 2h1.4m0.6 0h1.4m-2.4 1h1.4m-1.4 1h1.4m3.6 0h1.4m10.6 0h1.4m-19.4 1h2.4m14.6 0h1.4m-17.4 1h1.4m5.6 0h1.4m-4.4 1h1.4m4.6 0h1.4m-12.4 1h1.4m7.6 0h1.4m8.6 0h1.4m-18.4 1h1.4m6.6 0h1.4m-4.4 1h1.4m10.6 0h1.4m-12.4 1h1.4m-9.4 1h1.4m4.6 0h2.4m8.6 0h1.4m-12.4 1h2.4m3.6 0h1.4m0.6 0h1.4m-10.4 1h1.4m1.6 0h1.4m9.6 0h1.4m-20.4 1h1.4m11.6 0h1.4m-14.4 1h1.4m8.6 0h2.4m-9.4 1h1.4m14.6 0h1.4m-15.4 2h1.4m0.6 0h1.4m-2.4 1h1.4m7.6 0h1.4m-16.4 1h1.4m9.6 0h1.4m0.6 0h1.4m-11.4 1h1.4m4.6 0h1.4m3.6 0h1.4m-12.4 1h2.4m5.6 0h1.4m3.6 0h1.4m1.6 0h1.4m-15.4 1h1.4m10.6 0h1.4m-0.4 1h1.4m-1.4 1h1.4m-18.4 1h1.4m3.6 1h1.4m-7.4 1h1.4m14.6 0h1.4m0.6 0h1.4m-18.4 1h1.4m3.6 0h1.4m9.6 0h1.4m-14.4 1h1.4m2.6 0h1.4m3.6 0h1.4m-14.4 1h2.4m6.6 0h1.4m2.6 1h1.4m-13.4 1h1.4m0.6 0h1.4m3.6 0h1.4m1.6 0h1.4m6.6 0h1.4m-20.4 1h1.4m12.6 0h1.4m1.6 0h1.4m-12.4 1h1.4m11.6 0h1.4m-20.4 1h1.4m3.6 0h1.4m7.6 0h1.4m-12.4 1h1.4m0.6 0h1.4m1.6 0h2.4m-10.4 1h2.4m1.6 0h1.4m2.6 0h1.4m1.6 0h1.4m6.6 0h1.4m-20.4 1h1.4m13.6 0h1.4m-7.4 1h1.4m-7.4 1h1.4m4.6 0h1.4m1.6 0h1.4m-13.4 2h2.4m1.6 0h1.4m3.6 0h1.4m5.6 0h1.4m1.6 0h1.4m-19.4 1h1.4m15.6 0h1.4m-19.4 1h1.4m3.6 1h1.4m9.6 0h1.4m-9.4 1h2.4m2.6 1h1.4m-7.4 1h1.4m-3.4 1h3.4m2.6 0h1.4m2.6 0h1.4m1.6 0h1.4m-13.4 1h1.4m5.6 0h1.4m3.6 0h1.4m-16.4 2h1.4m3.6 0h1.4m0.6 0h1.4m-6.4 1h1.4m3.6 0h1.4m0.6 0h1.4m-12.4 1h1.4m11.6 0h1.4m-15.4 1h1.4m5.6 0h1.4m1.6 0h1.4m6.6 0h1.4m-18.4 1h1.4m8.6 0h1.4m-7.4 1h2.4m3.6 1h1.4m2.6 0h1.4m1.6 0h1.4m-14.4 1h2.4m5.6 0h1.4m-14.4 1h1.4m3.6 0h1.4m-6.4 1h1.4m10.6 0h1.4m-10.4 1h1.4m8.6 0h1.4m-2.4 1h1.4m-7.4 1h1.4m7.6 0h1.4m-15.4 1h1.4m7.6 0h1.4m2.6 0h1.4m-6.4 1h1.4m-4.4 1h2.4m3.6 0h1.4m3.6 0h2.4m-16.4 1h1.4m3.6 0h1.4m-7.4 1h2.4m8.6 1h1.4m4.6 0h1.4m-18.4 1h1.4m14.6 0h1.4m-10.4 1h1.4m0.6 0h1.4" stroke="#666e86"/><path d="M3 0.5h1.4m0.6 0h1.4m9.6 3h1.4m-16.4 1h1.4m-1.4 1h1.4m11.6 0h2.4m-11.4 1h1.4m5.6 0h1.4m5.6 0h1.4m-20.4 1h1.4m3.6 0h2.4m5.6 0h3.4m-5.4 1h1.4m-7.4 1h1.4m8.6 0h1.4m-13.4 1h1.4m2.6 0h1.4m2.6 0h1.4m-9.4 2h1.4m3.6 0h1.4m9.6 0h1.4m-15.4 1h1.4m9.6 0h1.4m0.6 0h1.4m-13.4 1h1.4m11.6 0h1.4m-19.4 1h1.4m9.6 0h1.4m4.6 0h1.4m-13.4 1h1.4m3.6 0h1.4m0.6 0h1.4m-5.4 1h1.4m6.6 0h1.4m-7.4 1h1.4m4.6 0h2.4m-10.4 1h1.4m2.6 0h1.4m3.6 0h2.4m-19.4 1h1.4m10.6 0h2.4m-15.4 1h1.4m2.6 0h1.4m12.6 0h2.4m-16.4 1h1.4m7.6 0h1.4m-14.4 2h1.4m10.6 0h2.4m-12.4 1h1.4m1.6 0h1.4m-6.4 1h1.4m0.6 0h1.4m7.6 0h1.4m2.6 0h2.4m1.6 0h1.4m-15.4 1h1.4m-6.4 1h1.4m3.6 0h1.4m4.6 0h1.4m-10.4 1h1.4m-3.4 1h2.4m2.6 0h3.4m0.6 0h1.4m2.6 0h1.4m-1.4 1h1.4m-14.4 1h1.4m10.6 0h2.4m0.6 0h1.4m-16.4 1h1.4m9.6 0h1.4m3.6 0h2.4m-10.4 1h2.4m6.6 0h1.4m-17.4 2h1.4m13.6 0h2.4m-16.4 1h1.4m14.6 0h1.4m-10.4 1h1.4m1.6 0h3.4m2.6 0h1.4m-9.4 1h1.4m4.6 0h1.4m1.6 0h1.4m-13.4 1h1.4m-8.4 1h1.4m0.6 0h1.4m2.6 0h1.4m10.6 0h1.4m-18.4 1h1.4m9.6 0h1.4m2.6 0h1.4m0.6 0h1.4m-3.4 1h1.4m-6.4 1h2.4m1.6 0h1.4m1.6 0h2.4m-8.4 1h1.4m3.6 0h1.4m-18.4 1h1.4m0.6 0h1.4m6.6 0h1.4m-1.4 1h3.4m-10.4 2h1.4m11.6 0h1.4m-14.4 1h2.4m10.6 0h1.4m-9.4 1h1.4m7.6 0h1.4m-16.4 1h1.4m15.6 0h1.4m-18.4 1h1.4m1.6 0h1.4m9.6 0h1.4m-3.4 1h2.4m-1.4 1h1.4m-14.4 1h1.4m7.6 0h1.4m0.6 0h2.4m0.6 0h1.4m1.6 0h1.4m-19.4 2h1.4m2.6 0h1.4m1.6 1h3.4m4.6 0h1.4m1.6 0h1.4m-6.4 1h1.4m-0.4 1h1.4m2.6 0h1.4m-3.4 1h1.4m-15.4 1h1.4m11.6 0h3.4m-5.4 1h1.4m-14.4 1h1.4m0.6 0h1.4m3.6 0h1.4m0.6 0h1.4m7.6 0h1.4m-7.4 1h1.4m-2.4 1h2.4m3.6 0h1.4m-9.4 1h1.4m1.6 0h1.4m1.6 0h1.4m1.6 0h1.4m-19.4 1h1.4m9.6 0h1.4m3.6 0h1.4m-14.4 1h1.4m4.6 0h1.4m5.6 0h1.4m-14.4 1h1.4m9.6 0h3.4m-17.4 1h2.4m0.6 0h1.4m2.6 0h1.4m1.6 0h1.4m2.6 0h1.4m1.6 0h1.4m-19.4 1h1.4m3.6 1h3.4m6.6 0h1.4m1.6 0h1.4m-2.4 1h1.4m-11.4 1h1.4m4.6 1h1.4m-13.4 1h1.4m3.6 0h2.4m8.6 0h1.4m-2.4 1h1.4m1.6 0h1.4m-20.4 2h1.4m12.6 0h1.4m1.6 0h2.4m-5.4 1h1.4m-13.4 1h1.4m5.6 0h1.4m4.6 0h1.4m2.6 0h1.4m-18.4 1h1.4m12.6 0h1.4m-16.4 1h1.4m2.6 0h1.4m12.6 0h1.4m-18.4 1h1.4m8.6 0h1.4m1.6 0h1.4m-15.4 2h2.4m0.6 0h1.4m1.6 2h1.4m-7.4 1h1.4m2.6 0h1.4m8.6 0h1.4m-13.4 1h1.4m6.6 0h1.4m-9.4 1h1.4m9.6 0h1.4m0.6 0h1.4m-14.4 1h1.4m7.6 0h1.4m1.6 0h2.4m1.6 1h1.4m-19.4 1h1.4m1.6 0h1.4m10.6 0h2.4m-17.4 1h1.4m3.6 1h1.4m5.6 0h1.4m3.6 0h1.4m-18.4 1h2.4m4.6 0h1.4m-2.4 1h1.4m9.6 0h1.4m-18.4 1h2.4m6.6 0h1.4m3.6 0h1.4m-15.4 1h1.4m14.6 0h1.4m-17.4 1h1.4m3.6 0h1.4m3.6 0h1.4m-9.4 1h1.4m4.6 0h1.4m1.6 0h1.4m2.6 0h1.4m0.6 0h1.4m-6.4 2h1.4m0.6 0h2.4m-10.4 1h1.4m4.6 0h1.4m-6.4 2h2.4m7.6 0h2.4m-19.4 1h1.4m10.6 0h2.4m-10.4 1h1.4m3.6 0h1.4m-9.4 1h1.4m2.6 0h2.4m4.6 0h1.4m-13.4 1h1.4m-1.4 1h1.4m3.6 0h1.4m0.6 0h1.4m0.6 0h1.4m5.6 0h1.4m0.6 0h1.4m-7.4 2h1.4m-4.4 1h1.4m7.6 0h1.4m-18.4 1h1.4m-1.4 1h1.4m8.6 0h1.4m-13.4 1h1.4m2.6 0h1.4m-5.4 1h1.4m1.6 0h1.4m4.6 0h1.4m-10.4 2h1.4m0.6 0h1.4m5.6 0h2.4m-9.4 1h1.4m5.6 1h1.4m0.6 0h3.4m-14.4 1h1.4m2.6 0h1.4m5.6 0h1.4m-12.4 1h1.4m2.6 0h2.4m1.6 0h1.4m6.6 0h1.4m-14.4 1h1.4m0.6 1h1.4m-6.4 1h1.4m3.6 0h1.4m1.6 0h2.4m0.6 0h1.4m6.6 0h1.4m-14.4 1h1.4m-4.4 1h1.4m-3.4 1h1.4m1.6 0h1.4m0.6 0h1.4m-6.4 1h1.4m3.6 0h1.4m-7.4 1h1.4m1.6 1h1.4m-0.4 1h2.4m3.6 0h1.4m6.6 0h1.4m-18.4 1h1.4m7.6 0h1.4m-7.4 1h1.4m3.6 0h3.4m0.6 0h1.4m2.6 0h1.4m-3.4 1h1.4m-14.4 1h2.4m3.6 0h1.4m-4.4 1h1.4m0.6 0h1.4m3.6 0h2.4m-4.4 1h1.4m6.6 0h1.4m-16.4 1h1.4m3.6 0h2.4m0.6 0h1.4m4.6 0h1.4m-14.4 1h1.4m7.6 0h1.4m0.6 0h1.4m-3.4 1h1.4m-9.4 1h1.4m3.6 0h1.4m-5.4 1h1.4m4.6 0h1.4m3.6 0h1.4m0.6 0h1.4m-13.4 1h1.4m1.6 0h1.4m2.6 0h2.4m-12.4 1h1.4m1.6 0h2.4m0.6 0h1.4m2.6 0h1.4m3.6 0h1.4m-20.4 1h1.4m4.6 0h1.4m0.6 0h2.4m0.6 0h1.4m-5.4 2h2.4m7.6 0h1.4m0.6 0h1.4m-15.4 1h1.4m10.6 0h1.4m-11.4 1h1.4m-5.4 1h1.4m0.6 0h1.4m2.6 0h1.4m3.6 0h1.4m-14.4 1h1.4m3.6 0h1.4m10.6 0h1.4m-17.4 1h1.4m1.6 0h1.4m3.6 0h1.4m6.6 0h1.4m-13.4 2h1.4m1.6 0h1.4m6.6 0h1.4m-17.4 1h1.4m4.6 0h1.4m1.6 0h1.4m6.6 0h1.4m-18.4 1h1.4m1.6 0h1.4m1.6 0h3.4m-9.4 1h1.4m10.6 0h1.4m-13.4 1h1.4m1.6 0h1.4m10.6 0h1.4m-11.4 1h2.4m8.6 0h2.4m-15.4 1h1.4m11.6 0h1.4m-6.4 1h2.4m2.6 0h2.4m-12.4 1h2.4m-2.4 1h1.4m3.6 0h1.4m3.6 0h1.4m-16.4 1h1.4m7.6 0h2.4m-13.4 1h1.4m7.6 0h3.4m1.6 0h2.4m-9.4 1h1.4m-7.4 1h1.4m-1.4 1h1.4m1.6 0h1.4m0.6 0h1.4m4.6 0h2.4m4.6 0h1.4m-15.4 1h1.4m8.6 0h1.4m2.6 0h1.4m-17.4 1h1.4m4.6 0h1.4m5.6 0h1.4m-7.4 1h1.4m4.6 1h1.4m-17.4 1h1.4m5.6 0h1.4m0.6 0h1.4m0.6 0h1.4m6.6 0h1.4m-18.4 1h1.4m0.6 0h2.4m11.6 0h1.4m-18.4 1h3.4m-0.4 2h1.4m-3.4 1h1.4m10.6 0h1.4m1.6 0h1.4m-16.4 1h1.4m7.6 0h2.4m3.6 0h1.4m-17.4 1h1.4m0.6 1h1.4m14.6 0h1.4m-18.4 1h1.4m3.6 0h1.4m3.6 0h1.4m4.6 0h1.4m-17.4 1h1.4m7.6 0h1.4m3.6 0h1.4m-11.4 2h2.4m5.6 0h1.4m-13.4 1h1.4m5.6 0h1.4m-10.4 1h1.4m0.6 0h1.4m15.6 0h1.4m-20.4 1h2.4m0.6 0h1.4m0.6 0h2.4m2.6 0h1.4m7.6 0h1.4m-16.4 1h1.4m4.6 0h1.4m1.6 0h2.4m0.6 0h1.4m-3.4 1h1.4m-11.4 1h1.4m4.6 0h1.4m-5.4 1h1.4m3.6 0h1.4m-6.4 1h1.4m9.6 0h1.4m-17.4 1h1.4m1.6 0h3.4m4.6 0h2.4m1.6 0h1.4" stroke="#6c768c"/><path d="M2 0.5h1.4m10.6 0h1.4m1.6 0h1.4m-15.4 1h1.4m8.6 1h1.4m0.6 0h1.4m0.6 0h1.4m-4.4 1h1.4m-15.4 2h1.4m8.6 0h1.4m-2.4 1h1.4m-1.4 1h1.4m1.6 0h1.4m2.6 0h1.4m-17.4 1h1.4m0.6 0h1.4m6.6 0h1.4m4.6 0h1.4m0.6 0h2.4m-19.4 1h1.4m1.6 0h1.4m0.6 0h2.4m4.6 0h1.4m3.6 0h1.4m-10.4 1h1.4m3.6 0h3.4m-3.4 1h2.4m-9.4 1h1.4m-6.4 2h1.4m4.6 0h1.4m-9.4 1h1.4m11.6 0h1.4m-11.4 1h1.4m12.6 0h2.4m-19.4 1h1.4m8.6 0h1.4m-7.4 2h1.4m2.6 1h1.4m1.6 0h1.4m2.6 0h1.4m0.6 0h1.4m-16.4 1h1.4m3.6 0h3.4m5.6 0h1.4m-10.4 1h1.4m9.6 0h1.4m-9.4 2h1.4m-3.4 1h1.4m6.6 0h1.4m0.6 0h1.4m-16.4 1h1.4m0.6 0h1.4m1.6 0h3.4m-10.4 2h1.4m9.6 0h2.4m-6.4 1h1.4m7.6 1h1.4m0.6 0h1.4m-12.4 2h1.4m0.6 0h1.4m6.6 1h1.4m-19.4 1h1.4m-1.4 1h1.4m6.6 1h1.4m5.6 0h1.4m-16.4 1h1.4m15.6 0h1.4m-2.4 1h1.4m-17.4 2h1.4m4.6 0h1.4m1.6 0h1.4m-5.4 1h1.4m1.6 0h3.4m-3.4 1h1.4m9.6 1h1.4m-16.4 1h1.4m4.6 0h1.4m-9.4 1h1.4m15.6 0h1.4m-5.4 1h1.4m1.6 0h1.4m-11.4 1h1.4m4.6 0h1.4m-15.4 1h1.4m7.6 0h1.4m5.6 0h1.4m-17.4 1h2.4m2.6 0h2.4m-2.4 1h1.4m4.6 0h1.4m1.6 0h1.4m3.6 0h1.4m-7.4 1h1.4m-14.4 1h1.4m1.6 0h1.4m3.6 0h1.4m6.6 0h1.4m-4.4 1h1.4m-5.4 1h1.4m-9.4 1h1.4m8.6 0h1.4m-8.4 1h1.4m-5.4 1h2.4m11.6 0h1.4m0.6 0h1.4m-13.4 1h1.4m9.6 0h1.4m-12.4 1h1.4m11.6 0h1.4m-14.4 1h1.4m10.6 0h1.4m1.6 0h1.4m-18.4 1h1.4m5.6 0h1.4m-8.4 2h1.4m0.6 0h2.4m0.6 0h1.4m-6.4 1h1.4m7.6 0h1.4m-12.4 1h1.4m11.6 0h1.4m0.6 0h1.4m0.6 0h1.4m-11.4 1h1.4m0.6 0h1.4m-5.4 1h1.4m4.6 0h1.4m3.6 0h1.4m0.6 1h1.4m-14.4 1h1.4m0.6 0h1.4m2.6 0h1.4m5.6 0h1.4m-12.4 1h1.4m0.6 0h1.4m1.6 0h1.4m-7.4 1h1.4m1.6 1h2.4m-10.4 1h1.4m5.6 0h1.4m2.6 0h1.4m1.6 0h1.4m-8.4 1h1.4m2.6 0h1.4m4.6 1h1.4m-10.4 1h1.4m8.6 0h1.4m-17.4 1h1.4m0.6 0h1.4m-3.4 1h1.4m6.6 0h1.4m2.6 0h1.4m-3.4 1h2.4m1.6 0h1.4m-12.4 2h1.4m1.6 0h2.4m0.6 0h1.4m-2.4 1h1.4m0.6 0h1.4m0.6 0h1.4m2.6 0h1.4m-17.4 1h1.4m3.6 0h1.4m-6.4 1h3.4m2.6 0h1.4m3.6 0h1.4m-2.4 1h1.4m-8.4 1h2.4m-8.4 1h1.4m1.6 0h1.4m6.6 1h1.4m5.6 0h1.4m-12.4 1h1.4m-8.4 1h1.4m15.6 0h1.4m-12.4 1h1.4m3.6 0h1.4m1.6 0h1.4m-13.4 1h1.4m2.6 0h1.4m0.6 0h1.4m2.6 0h1.4m3.6 0h1.4m-0.4 1h1.4m-6.4 1h1.4m-9.4 1h1.4m4.6 0h1.4m3.6 0h1.4m-14.4 1h1.4m2.6 0h2.4m-9.4 2h1.4m2.6 0h1.4m10.6 0h1.4m-17.4 1h1.4m7.6 0h1.4m3.6 0h1.4m-7.4 1h1.4m9.6 0h1.4m-12.4 1h1.4m-9.4 2h1.4m6.6 0h1.4m2.6 0h1.4m-9.4 1h1.4m-1.4 1h1.4m-3.4 1h1.4m1.6 0h1.4m0.6 0h1.4m9.6 0h2.4m-20.4 1h1.4m6.6 0h1.4m5.6 0h1.4m-3.4 2h1.4m-2.4 1h1.4m-13.4 1h1.4m-1.4 1h1.4m12.6 0h2.4m-16.4 1h1.4m5.6 0h1.4m8.6 0h1.4m-7.4 1h1.4m-7.4 1h1.4m-5.4 1h1.4m6.6 1h1.4m-9.4 1h1.4m3.6 2h1.4m9.6 0h1.4m-12.4 2h1.4m0.6 0h2.4m2.6 0h2.4m-8.4 1h1.4m6.6 0h1.4m-15.4 1h1.4m0.6 0h1.4m13.6 0h1.4m-13.4 2h1.4m-5.4 1h1.4m7.6 0h2.4m3.6 0h1.4m-14.4 1h1.4m13.6 0h1.4m-16.4 1h1.4m1.6 0h2.4m2.6 0h1.4m-11.4 1h1.4m0.6 0h1.4m1.6 1h2.4m0.6 0h2.4m3.6 0h1.4m1.6 0h1.4m-20.4 1h1.4m0.6 0h1.4m2.6 0h1.4m1.6 0h1.4m1.6 0h2.4m-7.4 1h1.4m7.6 0h1.4m-12.4 1h1.4m1.6 0h1.4m-8.4 1h1.4m-0.4 2h2.4m12.6 0h1.4m-7.4 1h1.4m-10.4 1h1.4m2.6 1h1.4m4.6 0h1.4m-9.4 1h2.4m0.6 0h1.4m6.6 0h1.4m-8.4 1h1.4m8.6 0h1.4m-7.4 1h1.4m-12.4 1h1.4m1.6 0h1.4m6.6 0h1.4m-10.4 1h1.4m5.6 1h1.4m7.6 1h1.4m-15.4 1h1.4m0.6 0h1.4m9.6 0h1.4m-19.4 1h1.4m0.6 1h1.4m7.6 0h1.4m3.6 0h1.4m-15.4 1h1.4m8.6 0h1.4m-13.4 1h1.4m7.6 0h1.4m-1.4 1h1.4m-8.4 2h1.4m1.6 0h2.4m1.6 0h1.4m6.6 0h1.4m-18.4 1h1.4m6.6 0h1.4m8.6 0h1.4m-16.4 1h1.4m0.6 0h1.4m4.6 0h1.4m-8.4 1h1.4m10.6 0h1.4m-17.4 2h1.4m8.6 0h1.4m-3.4 1h1.4m1.6 0h1.4m0.6 0h1.4m2.6 1h1.4m-16.4 1h1.4m15.6 1h1.4m-6.4 1h1.4m-5.4 1h2.4m3.6 0h1.4m-14.4 1h2.4m4.6 0h2.4m-7.4 1h1.4m12.6 0h1.4m-18.4 1h1.4m0.6 0h1.4m9.6 0h1.4m1.6 0h1.4m-9.4 1h1.4m-8.4 1h2.4m0.6 0h1.4m5.6 0h1.4m-13.4 1h1.4m10.6 0h1.4m-14.4 1h1.4m6.6 0h1.4m0.6 0h1.4m3.6 0h1.4m-14.4 1h1.4m-2.4 1h2.4m2.6 0h1.4m6.6 0h1.4m-14.4 1h1.4m-0.4 1h1.4m8.6 0h1.4m0.6 0h1.4m-11.4 1h1.4m4.6 0h3.4m-10.4 1h1.4m1.6 0h1.4m5.6 0h1.4m-13.4 1h1.4m14.6 0h1.4m0.6 0h1.4m-20.4 2h1.4m0.6 0h1.4m13.6 0h1.4m-9.4 1h1.4m-10.4 1h1.4m2.6 0h1.4m6.6 0h1.4m2.6 0h1.4m0.6 0h1.4m-18.4 1h1.4m6.6 0h1.4m-10.4 1h1.4m10.6 0h1.4m2.6 0h1.4m1.6 0h1.4m-17.4 2h1.4m6.6 0h1.4m4.6 0h1.4m0.6 0h1.4m-17.4 1h1.4m3.6 0h1.4m-1.4 1h1.4m4.6 0h1.4m3.6 0h1.4m-10.4 1h1.4m-0.4 1h1.4m-9.4 1h1.4m13.6 0h1.4m-17.4 1h1.4m0.6 0h1.4m1.6 0h1.4m2.6 0h2.4m-13.4 1h1.4m1.6 0h1.4m3.6 0h2.4m0.6 0h1.4m2.6 0h1.4m-16.4 1h1.4m3.6 0h1.4m2.6 0h1.4m-4.4 1h2.4m4.6 0h3.4m1.6 0h1.4m-19.4 1h2.4m2.6 1h1.4m8.6 0h1.4" stroke="#737f93"/><path d="M4 0.5h1.4m0.6 0h1.4m-7.4 3h1.4m11.6 0h1.4m-14.4 1h1.4m0.6 0h1.4m9.6 1h1.4m1.6 1h1.4m-7.4 1h1.4m-10.4 3h1.4m3.6 0h1.4m4.6 0h2.4m1.6 1h1.4m0.6 0h1.4m-19.4 1h1.4m2.6 0h1.4m-1.4 1h1.4m-5.4 1h1.4m1.6 0h1.4m-1.4 1h1.4m5.6 0h1.4m-9.4 1h1.4m8.6 0h1.4m0.6 0h1.4m-8.4 1h1.4m9.6 0h2.4m-6.4 1h1.4m-15.4 1h1.4m15.6 0h1.4m-16.4 1h1.4m5.6 0h1.4m7.6 0h1.4m-2.4 1h1.4m-12.4 1h1.4m2.6 0h2.4m3.6 0h1.4m-6.4 1h1.4m6.6 0h1.4m-3.4 1h1.4m0.6 0h1.4m-17.4 1h2.4m0.6 0h1.4m-0.4 1h1.4m9.6 0h1.4m-15.4 3h1.4m4.6 0h1.4m1.6 0h1.4m3.6 0h2.4m-18.4 1h2.4m9.6 0h2.4m-4.4 1h1.4m0.6 0h1.4m-13.4 1h1.4m2.6 0h1.4m3.6 0h1.4m4.6 0h1.4m-8.4 1h1.4m3.6 0h1.4m-13.4 1h2.4m10.6 0h1.4m-6.4 1h1.4m6.6 0h1.4m-8.4 1h1.4m4.6 0h1.4m-13.4 2h1.4m3.6 0h1.4m4.6 0h1.4m-17.4 1h2.4m1.6 1h1.4m-2.4 1h1.4m5.6 0h1.4m-12.4 1h1.4m1.6 0h1.4m9.6 0h2.4m-6.4 3h1.4m2.6 0h1.4m-14.4 3h1.4m3.6 0h1.4m10.6 0h1.4m-15.4 1h1.4m3.6 0h1.4m1.6 0h1.4m-5.4 1h1.4m3.6 0h1.4m2.6 0h1.4m-16.4 1h2.4m5.6 0h1.4m0.6 0h1.4m-9.4 1h1.4m9.6 0h1.4m0.6 0h1.4m-7.4 1h1.4m2.6 0h1.4m1.6 0h1.4m-3.4 1h1.4m-9.4 1h1.4m-8.4 1h1.4m15.6 0h1.4m-8.4 1h1.4m6.6 0h1.4m-10.4 1h1.4m-0.4 1h1.4m-2.4 1h1.4m1.6 0h1.4m-11.4 1h1.4m5.6 0h2.4m2.6 1h1.4m-2.4 1h1.4m-15.4 1h2.4m3.6 0h1.4m7.6 0h3.4m0.6 0h1.4m-16.4 1h1.4m10.6 0h1.4m0.6 0h1.4m-19.4 2h1.4m7.6 0h1.4m-6.4 1h1.4m-1.4 1h1.4m0.6 0h1.4m1.6 0h1.4m5.6 0h1.4m-12.4 3h3.4m-4.4 1h1.4m-4.4 1h1.4m6.6 0h2.4m-10.4 3h2.4m3.6 0h1.4m0.6 0h2.4m0.6 0h1.4m-8.4 1h1.4m1.6 0h1.4m8.6 0h1.4m-19.4 1h1.4m2.6 0h1.4m4.6 1h1.4m1.6 1h1.4m1.6 0h1.4m1.6 0h1.4m-6.4 2h1.4m2.6 0h1.4m-12.4 2h1.4m0.6 1h1.4m2.6 0h1.4m1.6 0h1.4m-15.4 1h1.4m1.6 0h1.4m0.6 0h1.4m-3.4 1h1.4m0.6 0h1.4m3.6 0h1.4m3.6 0h1.4m-10.4 2h1.4m8.6 0h1.4m-19.4 1h1.4m7.6 0h1.4m-0.4 1h1.4m1.6 0h1.4m-14.4 1h1.4m10.6 0h2.4m4.6 0h1.4m-3.4 1h2.4m-16.4 1h1.4m8.6 0h2.4m1.6 0h1.4m-5.4 1h1.4m-7.4 1h1.4m-3.4 1h1.4m0.6 0h1.4m0.6 0h1.4m4.6 0h1.4m-13.4 1h1.4m1.6 1h1.4m-3.4 1h2.4m0.6 0h1.4m9.6 0h1.4m-19.4 1h1.4m1.6 0h1.4m5.6 0h1.4m6.6 0h1.4m-16.4 1h1.4m5.6 0h1.4m1.6 0h1.4m0.6 0h1.4m-8.4 1h1.4m0.6 0h1.4m2.6 0h2.4m-6.4 1h1.4m-11.4 1h1.4m4.6 1h1.4m-6.4 2h1.4m1.6 0h1.4m8.6 0h1.4m0.6 0h1.4m-6.4 1h1.4m5.6 0h1.4m-12.4 1h1.4m-0.4 1h1.4m2.6 0h1.4m-10.4 1h1.4m1.6 0h1.4m1.6 0h1.4m7.6 1h1.4m-13.4 1h1.4m9.6 0h1.4m-15.4 1h1.4m3.6 0h1.4m1.6 0h1.4m1.6 0h1.4m-10.4 1h2.4m3.6 0h2.4m-10.4 1h1.4m2.6 0h3.4m7.6 0h2.4m-19.4 2h1.4m5.6 0h1.4m4.6 0h1.4m2.6 0h1.4m-8.4 1h1.4m-2.4 1h1.4m5.6 0h1.4m-13.4 2h1.4m2.6 0h2.4m3.6 0h1.4m-9.4 2h1.4m7.6 0h1.4m1.6 0h1.4m-14.4 1h1.4m2.6 0h1.4m2.6 0h1.4m-10.4 1h1.4m3.6 0h3.4m2.6 0h2.4m-18.4 1h1.4m0.6 0h1.4m14.6 0h1.4m-12.4 1h1.4m1.6 0h1.4m5.6 0h1.4m-3.4 1h1.4m-12.4 1h2.4m9.6 0h1.4m-15.4 1h1.4m13.6 0h1.4m-11.4 1h1.4m8.6 0h1.4m-8.4 2h1.4m4.6 0h1.4m-5.4 1h1.4m0.6 0h1.4m3.6 2h1.4m-13.4 1h1.4m2.6 0h1.4m0.6 0h1.4m-13.4 1h1.4m6.6 0h1.4m3.6 0h1.4m0.6 0h1.4m-3.4 1h1.4m3.6 0h1.4m-19.4 1h1.4m10.6 0h1.4m-8.4 1h1.4m5.6 0h2.4m3.6 0h1.4m-20.4 1h1.4m8.6 0h2.4m-9.4 2h1.4m1.6 0h2.4m9.6 0h1.4m-17.4 1h1.4m9.6 0h1.4m-1.4 2h1.4m0.6 0h1.4m-12.4 1h1.4m0.6 2h1.4m8.6 0h1.4m-3.4 1h1.4m-11.4 1h1.4m4.6 0h2.4m-8.4 1h1.4m-5.4 1h1.4m15.6 0h1.4m0.6 0h1.4m-9.4 1h1.4m1.6 0h2.4m0.6 0h1.4m0.6 0h1.4m-6.4 1h1.4m-3.4 1h3.4m-13.4 1h1.4m8.6 0h1.4m1.6 0h1.4m-11.4 1h1.4m4.6 0h1.4m-3.4 1h1.4m-0.4 1h3.4m1.6 0h1.4m-13.4 1h1.4m13.6 1h1.4m-13.4 1h1.4m0.6 0h1.4m5.6 0h1.4m-5.4 1h1.4m0.6 0h1.4m-14.4 1h2.4m2.6 0h1.4m4.6 0h1.4m1.6 0h1.4m-1.4 1h1.4m-7.4 1h1.4m7.6 0h1.4m0.6 0h1.4m-18.4 1h1.4m4.6 0h2.4m3.6 0h1.4m1.6 0h1.4m-9.4 1h1.4m8.6 0h1.4m-16.4 2h1.4m5.6 0h2.4m4.6 0h1.4m-17.4 1h1.4m4.6 0h1.4m-8.4 1h1.4m1.6 0h1.4m7.6 0h1.4m-12.4 1h1.4m13.6 0h1.4m-16.4 1h1.4m1.6 0h1.4m3.6 0h1.4m3.6 0h1.4m-10.4 1h1.4m5.6 1h1.4m-9.4 2h1.4m-0.4 1h1.4m-4.4 1h1.4m3.6 0h1.4m6.6 0h1.4m-4.4 1h1.4m1.6 1h3.4m-18.4 1h1.4m3.6 0h1.4m-2.4 1h2.4m7.6 0h1.4m-14.4 1h1.4m2.6 0h1.4m7.6 0h1.4m-15.4 1h1.4m1.6 0h1.4m5.6 0h1.4m0.6 0h1.4m3.6 0h2.4m-12.4 1h1.4m3.6 0h1.4m3.6 2h1.4m-9.4 2h1.4m0.6 0h1.4m4.6 0h2.4m-20.4 1h1.4m10.6 0h1.4m3.6 0h1.4m0.6 0h1.4m-16.4 1h1.4m4.6 0h1.4m0.6 0h1.4m-0.4 1h1.4m-14.4 1h1.4m17.6 0h1.4" stroke="#798899"/><path d="M18 0.5h1.4m-18.4 2h1.4m0.6 2h1.4m-4.4 2h1.4m-0.4 1h1.4m0.6 1h1.4m-4.4 1h1.4m0.6 0h1.4m8.6 0h1.4m-11.4 1h1.4m15.6 0h1.4m-19.4 2h2.4m-1.4 3h1.4m-3.4 1h1.4m13.6 0h1.4m-11.4 1h2.4m-7.4 1h1.4m13.6 0h1.4m-13.4 1h1.4m2.6 0h2.4m-9.4 1h1.4m4.6 0h2.4m10.6 0h1.4m-19.4 1h1.4m9.6 1h1.4m-4.4 1h1.4m4.6 0h1.4m0.6 0h1.4m-17.4 1h1.4m0.6 0h2.4m3.6 0h1.4m3.6 0h1.4m0.6 0h1.4m-0.4 3h1.4m-4.4 1h1.4m2.6 3h1.4m-0.4 1h1.4m-19.4 1h1.4m1.6 0h3.4m5.6 0h2.4m-13.4 1h1.4m9.6 1h1.4m-7.4 1h1.4m0.6 0h1.4m0.6 0h1.4m3.6 1h1.4m-13.4 1h1.4m-2.4 2h2.4m4.6 0h1.4m-10.4 1h1.4m-0.4 1h1.4m3.6 0h1.4m4.6 1h1.4m2.6 0h1.4m-5.4 1h1.4m-6.4 1h1.4m-5.4 1h1.4m8.6 0h1.4m1.6 2h1.4m-5.4 1h1.4m-13.4 1h1.4m7.6 0h1.4m6.6 0h1.4m-18.4 1h1.4m2.6 1h1.4m0.6 0h1.4m2.6 0h1.4m-3.4 1h2.4m-10.4 1h1.4m0.6 1h2.4m1.6 0h1.4m-5.4 1h1.4m-2.4 1h1.4m6.6 0h1.4m6.6 0h1.4m-19.4 1h1.4m0.6 0h1.4m5.6 0h1.4m2.6 0h1.4m1.6 0h2.4m-12.4 1h1.4m10.6 0h1.4m-17.4 1h1.4m1.6 0h1.4m1.6 1h1.4m4.6 0h1.4m-5.4 1h1.4m-5.4 1h1.4m2.6 0h1.4m7.6 0h1.4m-2.4 1h1.4m-13.4 1h2.4m3.6 0h1.4m-3.4 2h1.4m-6.4 1h1.4m7.6 0h1.4m1.6 0h1.4m-15.4 1h1.4m5.6 0h1.4m4.6 1h1.4m-9.4 1h1.4m3.6 1h2.4m0.6 0h1.4m-12.4 1h1.4m0.6 0h1.4m1.6 0h1.4m-11.4 1h1.4m17.6 0h1.4m-6.4 3h1.4m-15.4 1h1.4m17.6 0h1.4m-18.4 1h1.4m2.6 0h2.4m9.6 0h1.4m-8.4 2h1.4m-6.4 1h1.4m-7.4 1h2.4m10.6 0h1.4m1.6 0h1.4m-16.4 1h1.4m15.6 0h1.4m-13.4 3h1.4m0.6 0h1.4m6.6 0h1.4m-11.4 1h1.4m7.6 0h2.4m1.6 0h1.4m-10.4 1h1.4m-1.4 1h1.4m-1.4 1h1.4m1.6 0h1.4m-0.4 1h1.4m-7.4 1h1.4m0.6 1h1.4m7.6 0h1.4m-13.4 1h1.4m0.6 0h1.4m3.6 1h2.4m-16.4 1h1.4m0.6 0h1.4m4.6 1h1.4m5.6 1h1.4m-6.4 1h1.4m-0.4 1h1.4m-4.4 1h2.4m8.6 0h1.4m-18.4 1h1.4m1.6 1h2.4m-0.4 1h1.4m2.6 0h1.4m-11.4 1h1.4m8.6 1h1.4m1.6 0h1.4m1.6 0h1.4m-18.4 2h1.4m8.6 0h3.4m1.6 0h1.4m0.6 0h1.4m-10.4 2h1.4m4.6 0h1.4m-14.4 1h1.4m16.6 0h1.4m-6.4 1h2.4m-16.4 1h1.4m6.6 1h1.4m4.6 0h1.4m3.6 0h1.4m-20.4 3h1.4m13.6 1h1.4m-3.4 1h1.4m-3.4 2h2.4m-7.4 1h1.4m4.6 0h1.4m0.6 0h1.4m-15.4 1h1.4m2.6 0h1.4m1.6 0h1.4m5.6 0h1.4m-15.4 1h1.4m1.6 0h1.4m13.6 2h1.4m-5.4 1h1.4m-12.4 1h1.4m1.6 0h1.4m1.6 0h2.4m1.6 0h1.4m2.6 0h1.4m-2.4 1h1.4m-3.4 1h1.4m3.6 1h1.4m-12.4 1h1.4m1.6 1h1.4m-5.4 1h1.4m-8.4 1h1.4m-0.4 1h1.4m9.6 1h1.4m4.6 0h1.4m-15.4 2h1.4m0.6 1h1.4m9.6 0h2.4m-15.4 1h1.4m11.6 0h1.4m-16.4 1h1.4m5.6 0h1.4m-10.4 1h1.4m5.6 0h1.4m1.6 0h1.4m6.6 0h1.4m-18.4 1h1.4m9.6 0h1.4m-10.4 1h1.4m7.6 1h1.4m-8.4 2h1.4m2.6 0h1.4m1.6 0h1.4m3.6 0h1.4m-12.4 1h1.4m-6.4 1h1.4m14.6 1h1.4m-7.4 1h1.4m5.6 0h1.4m-9.4 1h1.4m7.6 1h1.4m-10.4 1h1.4m1.6 0h1.4m-4.4 1h1.4m0.6 0h1.4m0.6 0h1.4m-9.4 1h1.4m1.6 3h1.4m8.6 0h1.4m-4.4 1h1.4m-2.4 1h1.4m1.6 0h1.4m-19.4 1h1.4m3.6 2h2.4m1.6 0h1.4m-9.4 1h1.4m2.6 0h1.4m0.6 0h1.4m7.6 0h1.4m-13.4 1h1.4m0.6 0h1.4m8.6 0h1.4m0.6 0h1.4m-0.4 1h1.4m-7.4 1h1.4m-9.4 1h1.4m0.6 0h1.4m3.6 0h1.4m2.6 0h1.4m-14.4 1h3.4m5.6 0h1.4m-11.4 1h1.4m2.6 0h1.4m3.6 0h1.4m5.6 1h1.4m-16.4 1h1.4m4.6 0h2.4m-7.4 1h1.4m0.6 0h1.4m-4.4 1h1.4m11.6 0h1.4m-14.4 1h1.4m3.6 1h1.4m2.6 0h1.4m0.6 0h1.4m1.6 0h1.4m-4.4 1h1.4m-14.4 3h1.4m16.6 0h1.4m-12.4 1h1.4m3.6 1h1.4m0.6 0h1.4m-2.4 1h1.4m1.6 0h1.4m-18.4 1h1.4m7.6 0h1.4m6.6 3h1.4m-18.4 1h1.4m6.6 0h1.4m5.6 0h1.4m-4.4 2h1.4m-0.4 1h2.4m1.6 0h1.4m-7.4 2h1.4m2.6 0h1.4m-11.4 1h1.4m2.6 0h1.4m5.6 0h1.4m-14.4 1h1.4m13.6 0h1.4m-5.4 2h1.4m1.6 0h2.4" stroke="#7f919f"/><path d="M8 0.5h2.4m-8.4 1h1.4m12.6 1h1.4m-14.4 4h1.4m2.6 0h1.4m-6.4 1h1.4m13.6 0h1.4m-15.4 2h1.4m0.6 1h1.4m3.6 0h1.4m7.6 1h1.4m-7.4 1h1.4m1.6 0h1.4m-17.4 1h1.4m14.6 3h1.4m-16.4 2h1.4m3.6 0h1.4m-1.4 3h1.4m3.6 0h1.4m-10.4 1h1.4m4.6 0h1.4m2.6 1h1.4m4.6 0h1.4m-17.4 1h1.4m-3.4 1h1.4m10.6 1h1.4m-7.4 3h1.4m1.6 0h1.4m-6.4 1h1.4m10.6 0h1.4m-14.4 2h1.4m2.6 0h1.4m5.6 0h1.4m2.6 0h1.4m-17.4 1h1.4m8.6 0h1.4m5.6 1h1.4m-19.4 1h1.4m5.6 0h1.4m0.6 0h1.4m-1.4 1h1.4m7.6 0h1.4m-14.4 1h1.4m-5.4 1h2.4m-4.4 1h1.4m2.6 0h2.4m0.6 0h1.4m8.6 3h1.4m-15.4 2h1.4m2.6 0h1.4m7.6 0h1.4m-14.4 1h1.4m0.6 0h1.4m0.6 0h1.4m0.6 0h1.4m-7.4 1h1.4m1.6 0h2.4m-0.4 3h1.4m0.6 3h1.4m5.6 1h1.4m0.6 0h1.4m-15.4 2h1.4m0.6 1h1.4m9.6 2h1.4m-12.4 1h1.4m6.6 0h1.4m-16.4 1h1.4m15.6 0h1.4m-6.4 1h2.4m-11.4 3h1.4m2.6 0h1.4m0.6 0h2.4m-2.4 1h1.4m-8.4 3h1.4m-1.4 5h1.4m2.6 0h1.4m1.6 0h1.4m2.6 0h2.4m-7.4 4h1.4m-6.4 2h1.4m0.6 0h1.4m4.6 0h1.4m2.6 0h1.4m-15.4 3h3.4m2.6 1h1.4m2.6 1h1.4m2.6 0h1.4m-8.4 1h1.4m5.6 2h1.4m-5.4 3h1.4m-5.4 1h2.4m2.6 0h1.4m5.6 0h1.4m-11.4 2h1.4m0.6 1h1.4m-8.4 1h1.4m0.6 0h1.4m2.6 0h1.4m6.6 0h1.4m-10.4 1h1.4m1.6 0h1.4m-8.4 1h1.4m1.6 0h1.4m0.6 1h1.4m5.6 0h1.4m0.6 0h1.4m-17.4 3h1.4m1.6 0h1.4m-5.4 1h1.4m11.6 0h1.4m-7.4 1h1.4m-10.4 1h1.4m11.6 0h1.4m-2.4 1h1.4m-4.4 1h1.4m-1.4 1h1.4m-0.4 3h1.4m-0.4 1h1.4m0.6 0h1.4m-2.4 3h1.4m1.6 0h1.4m-16.4 1h1.4m9.6 0h2.4m-1.4 1h1.4m-6.4 1h1.4m1.6 1h1.4m-8.4 2h1.4m-4.4 2h1.4m5.6 0h1.4m7.6 2h2.4m0.6 0h1.4m-17.4 3h1.4m8.6 0h1.4m0.6 0h1.4m2.6 0h1.4m-7.4 1h1.4m-0.4 1h1.4m-6.4 2h1.4m-0.4 1h1.4m7.6 1h1.4m-10.4 1h1.4m0.6 0h1.4m-1.4 2h1.4m3.6 0h1.4m-7.4 1h1.4m-9.4 1h1.4m8.6 0h1.4m4.6 0h1.4m-10.4 3h1.4m7.6 0h1.4m-18.4 1h1.4m11.6 0h1.4m-11.4 2h1.4m9.6 0h1.4m-9.4 1h1.4m8.6 0h1.4m-11.4 2h2.4m3.6 0h1.4m-13.4 2h1.4m8.6 1h1.4m-8.4 1h1.4m6.6 0h2.4m0.6 0h1.4m-1.4 1h1.4m-5.4 1h1.4m-2.4 1h1.4m3.6 2h1.4m-14.4 5h1.4m9.6 1h1.4m-7.4 1h1.4m3.6 1h2.4m2.6 0h1.4m-0.4 2h1.4m-20.4 1h1.4m17.6 0h1.4m-19.4 1h1.4m14.6 0h1.4m-12.4 1h1.4m-2.4 1h1.4m10.6 3h1.4m-10.4 5h1.4m8.6 1h1.4m-4.4 1h1.4m-2.4 1h1.4m-0.4 1h1.4m-10.4 1h1.4m9.6 0h1.4m-13.4 1h1.4m6.6 0h1.4m-0.4 1h1.4m-6.4 3h1.4m2.6 0h3.4m-15.4 1h1.4m16.6 0h1.4m-15.4 1h1.4m11.6 0h1.4m-14.4 3h1.4m9.6 0h1.4m-13.4 3h1.4m11.6 0h1.4m-10.4 1h1.4m1.6 0h1.4m2.6 3h1.4" stroke="#869aa6"/><path d="M0 1.5h1.4m1.6 4h2.4m-4.4 1h1.4m3.6 0h1.4m5.6 0h1.4m-11.4 1h1.4m6.6 0h1.4m4.6 4h1.4m-16.4 2h2.4m4.6 3h1.4m-9.4 1h1.4m1.6 1h1.4m-0.4 3h1.4m2.6 1h1.4m8.6 3h1.4m-17.4 3h1.4m0.6 1h1.4m0.6 0h1.4m-3.4 3h1.4m-3.4 1h1.4m2.6 0h1.4m10.6 0h1.4m-19.4 1h1.4m4.6 1h1.4m0.6 0h1.4m-9.4 2h1.4m9.6 4h1.4m-8.4 1h1.4m-0.4 3h1.4m1.6 5h1.4m4.6 1h1.4m-13.4 2h1.4m7.6 0h1.4m-8.4 3h1.4m4.6 4h1.4m-5.4 1h1.4m-4.4 3h1.4m2.6 6h1.4m-0.4 1h2.4m-8.4 2h1.4m12.6 0h1.4m0.6 0h1.4m-18.4 5h1.4m6.6 1h1.4m-1.4 3h1.4m0.6 0h1.4m3.6 5h1.4m-11.4 6h1.4m-0.4 2h1.4m-9.4 1h1.4m2.6 1h1.4m5.6 1h1.4m-0.4 3h1.4m-2.4 1h1.4m1.6 0h1.4m1.6 2h1.4m-12.4 1h1.4m2.6 2h1.4m4.6 7h1.4m-13.4 1h1.4m3.6 0h2.4m6.6 0h1.4m-3.4 2h2.4m-14.4 1h1.4m10.6 2h1.4m-16.4 2h1.4m10.6 4h2.4m-3.4 4h1.4m0.6 0h2.4m1.6 2h1.4m-10.4 1h1.4m3.6 1h2.4m-1.4 2h1.4m-0.4 1h1.4m-1.4 5h1.4m-0.4 1h1.4m-4.4 2h1.4m-0.4 2h1.4m-1.4 1h1.4m-10.4 1h1.4m5.6 0h1.4m3.6 0h1.4m-5.4 3h1.4m-2.4 2h1.4m-6.4 1h1.4m5.6 0h1.4m-5.4 1h1.4m3.6 1h1.4m-4.4 1h1.4m0.6 4h1.4m0.6 2h1.4m-16.4 3h1.4m-1.4 1h1.4m-0.4 1h1.4m10.6 3h1.4m-0.4 8h1.4m-1.4 2h1.4m-6.4 1h2.4m-6.4 2h1.4m7.6 3h1.4m-3.4 4h1.4m-0.4 1h1.4m-15.4 3h1.4m13.6 0h1.4m-1.4 2h2.4" stroke="#8ca2ac"/><path d="M2 5.5h1.4m9.6 12h1.4m-11.4 1h1.4m-3.4 1h1.4m2.6 0h1.4m12.6 3h1.4m-18.4 6h1.4m8.6 7h1.4m-11.4 1h2.4m0.6 2h1.4m0.6 0h2.4m-6.4 1h1.4m1.6 0h1.4m-3.4 3h1.4m0.6 0h1.4m7.6 1h1.4m-7.4 1h1.4m6.6 0h1.4m-14.4 1h1.4m1.6 5h1.4m-3.4 1h1.4m1.6 2h1.4m4.6 0h1.4m-9.4 5h2.4m-5.4 2h1.4m3.6 0h1.4m5.6 0h1.4m-1.4 3h1.4m-13.4 5h1.4m3.6 1h1.4m6.6 4h1.4m0.6 0h1.4m-10.4 2h2.4m-3.4 7h2.4m-6.4 1h1.4m10.6 2h1.4m-9.4 1h1.4m-0.4 1h3.4m-2.4 1h1.4m-2.4 2h1.4m-1.4 4h1.4m0.6 2h1.4m-9.4 1h1.4m4.6 0h1.4m1.6 1h1.4m-3.4 1h1.4m-2.4 2h1.4m-6.4 1h2.4m0.6 0h1.4m3.6 0h2.4m-13.4 2h1.4m8.6 8h1.4m-2.4 1h1.4m1.6 1h1.4m-1.4 1h1.4m-0.4 2h1.4m-0.4 3h1.4m-2.4 1h1.4m-2.4 2h1.4m0.6 5h1.4m-4.4 3h1.4m0.6 1h2.4m-3.4 1h1.4m1.6 1h1.4m-4.4 3h1.4m-0.4 1h1.4m-1.4 5h2.4m-1.4 1h1.4m0.6 3h1.4m-10.4 1h1.4m7.6 3h1.4m-6.4 4h1.4m-11.4 1h1.4m8.6 0h1.4m-4.4 1h1.4m-6.4 3h1.4m6.6 6h3.4m-2.4 3h1.4m1.6 0h1.4m0.6 4h1.4m-19.4 1h1.4m14.6 5h1.4m-1.4 4h1.4m-13.4 5h1.4m4.6 0h1.4m4.6 3h2.4m-1.4 2h1.4m-2.4 1h1.4m-3.4 4h1.4" stroke="#93abb2"/><path d="M1 13.5h1.4m-0.4 4h2.4m-1.4 3h2.4m-4.4 2h1.4m1.6 10h1.4m2.6 1h1.4m-5.4 3h2.4m-0.4 8h1.4m-3.4 4h1.4m-1.4 3h1.4m0.6 1h1.4m-3.4 1h1.4m2.6 5h1.4m-3.4 2h1.4m3.6 3h1.4m-8.4 4h1.4m1.6 4h1.4m2.6 2h1.4m-4.4 6h2.4m-0.4 7h1.4m-3.4 2h1.4m-3.4 5h1.4m2.6 3h1.4m2.6 5h1.4m-3.4 10h1.4m-0.4 6h1.4m-2.4 4h2.4m1.6 8h1.4m-4.4 1h1.4m-1.4 1h1.4m-2.4 2h1.4m-0.4 3h1.4m0.6 1h1.4m-1.4 14h1.4m-1.4 1h1.4m-1.4 1h1.4m-4.4 1h1.4m2.6 7h1.4m-5.4 1h2.4m1.6 10h1.4m-4.4 1h1.4m1.6 2h1.4m-4.4 8h1.4m0.6 11h1.4" stroke="#99b4b9"/><path d="M1 0.5h1.4m-1.4 1h1.4m-0.4 5h1.4m-3.4 5h1.4m0.6 0h3.4m0.6 0h1.4m-0.4 5h2.4m-7.4 2h1.4m-1.4 1h1.4m2.6 17h1.4m-1.4 17h1.4m-0.4 7h1.4m3.6 0h1.4m-1.4 19h1.4m-6.4 3h1.4m-2.4 1h1.4m1.6 5h1.4m-4.4 9h1.4m3.6 0h5.4m-10.4 5h1.4m7.6 31h1.4m-3.4 1h1.4m1.6 9h1.4m-4.4 12h2.4m-3.4 3h1.4m0.6 15h1.4m-1.4 1h1.4m1.6 1h1.4" stroke="#9fbdbf"/><path d="M1 11.5h1.4m2.6 0h1.4m-2.4 6h1.4m-2.4 18h4.4m-4.4 2h3.4m9.6 4h2.4m-13.4 3h1.4m10.6 3h2.4m-14.4 1h1.4m0.6 5h1.4m7.6 44h4.4m-7.4 4h1.4m-3.4 12h3.4m-3.4 5h3.4m-0.4 15h1.4m2.6 0h1.4m-3.4 14h1.4m-2.4 10h1.4m-0.4 6h1.4m-1.4 11h2.4m-3.4 9h1.4m-1.4 15h1.4" stroke="#a6c5c6"/><path d="M0 0.5h1.4m0.6 35h1.4m4.6 9h1.4m-0.4 16h1.4m3.6 54h1.4m-4.4 10h2.4" stroke="#afcccc"/><path d="M6 56.5h1.4m-1.4 12h1.4m5.6 56h1.4m0.6 5h1.4m-2.4 11h1.4m-1.4 6h1.4m-0.4 28h1.4m-16.4 7h1.4m12.6 2h1.4" stroke="#b9d2d2"/><path d="M2 54.5h7.4m-5.4 3h6.4m-4.4 5h4.4m-3.4 6h2.4m-1.4 21h2.4m0.6 0h2.4m0.6 47h1.4m-0.4 23h5.4m-3.4 4h1.4" stroke="#c3d9d9"/><path d="M2 23.5h1.4m1.6 0h2.4" stroke="#d7e5e5"/><path d="M0 23.5h2.4m0.6 0h2.4m1.6 0h1.4" stroke="#e1ecec"/><path d="M11 99.5h1.4m0.6 0h1.4m-1.4 54h1.4m-0.4 15h2.4" stroke="#ebf2f2"/><path d="M0 31.5h8.4m-1.4 44h2.4m2.6 0h2.4m-2.4 24h1.4m-2.4 36h6.4m-3.4 18h1.4m-0.4 28h5.4" stroke="#f5f9f9"/><path d="M11 75.5h1.4" stroke="#ffffff"/></g></g>
<line x1="439.30" y1="211.40" x2="439.30" y2="532.00" stroke="#000" stroke-width="2.1" stroke-dasharray="6.6 3.56" stroke-dashoffset="3.86"/>
<clipPath id="hc3"><rect x="558.000" y="211.300" width="91.500" height="323.100"/></clipPath><g clip-path="url(#hc3)"><g transform="translate(558.000 211.300) scale(4.57500 1.56845)" stroke-width="1.35"><rect width="20" height="206" fill="#6f7a8f"/><path d="M4 115.5h1.4m0.6 0h1.4m3.6 0h1.4m6.6 0h1.4" stroke="#000000"/><path d="M0 115.5h4.4m0.6 0h1.4m0.6 0h4.4m0.6 0h7.4m-18.4 69h3.4" stroke="#060609"/><path d="M0 38.5h1.4m0.6 0h2.4" stroke="#191923"/><path d="M1 38.5h1.4m-2.4 36h5.4m-5.4 13h1.4m1.6 0h5.4m2.6 6h9.4m-3.4 40h3.4" stroke="#20202c"/><path d="M19 34.5h1.4m-20.4 45h9.4m-8.4 8h2.4m4.6 0h1.4m-5.4 19h12.4m0.6 0h1.4m0.6 0h1.4m-6.4 27h3.4m-7.4 36h1.4m0.6 0h1.4m-3.4 10h3.4m-8.4 16h1.4" stroke="#262635"/><path d="M11 13.5h1.4m-12.4 80h7.4m8.6 13h1.4m0.6 0h1.4m-13.4 40h1.4m-6.4 16h1.4m8.6 7h1.4m-9.4 25h8.4" stroke="#2d2d3e"/><path d="M10 7.5h1.4m4.6 27h1.4m-7.4 112h1.4m-4.4 45h1.4m0.6 0h1.4" stroke="#333347"/><path d="M9 7.5h1.4m3.6 89h1.4m-6.4 25h1.4m0.6 0h1.4m1.6 0h1.4m-11.4 25h1.4m8.6 0h1.4m0.6 0h2.4m-15.4 16h1.4m0.6 0h1.4m3.6 23h1.4m-3.4 6h1.4m0.6 0h10.4m-1.4 3h1.4m-9.4 1h1.4" stroke="#393950"/><path d="M9 16.5h1.4m5.6 0h2.4m0.6 0h1.4m-3.4 7h1.4m-18.4 4h1.4m1.6 4h1.4m13.6 3h1.4m-2.4 10h1.4m-0.4 24h1.4m-16.4 9h1.4m12.6 4h1.4m-18.4 16h1.4m2.6 4h1.4m11.6 8h1.4m-8.4 12h1.4m3.6 0h1.4m0.6 2h1.4m0.6 0h1.4m-3.4 13h1.4m-2.4 9h2.4m-13.4 1h1.4m4.6 0h2.4m3.6 1h1.4m-1.4 11h1.4m-16.4 4h1.4m2.6 0h3.4m-1.4 5h1.4m-9.4 2h1.4m15.6 14h1.4m-8.4 14h1.4m-1.4 4h1.4m-11.4 4h1.4" stroke="#404059"/><path d="M12 2.5h1.4m-3.4 2h1.4m-5.4 3h2.4m2.6 2h1.4m-2.4 4h1.4m0.6 0h1.4m0.6 0h1.4m-3.4 7h1.4m-1.4 11h1.4m3.6 3h1.4m-9.4 4h1.4m6.6 0h1.4m0.6 0h1.4m-7.4 6h1.4m0.6 0h1.4m2.6 2h1.4m-20.4 2h1.4m-1.4 15h1.4m10.6 4h1.4m3.6 1h1.4m-13.4 3h1.4m7.6 18h2.4m2.6 0h1.4m-2.4 1h1.4m-15.4 5h2.4m-1.4 6h1.4m8.6 8h2.4m-0.4 12h1.4m-7.4 2h1.4m-11.4 1h1.4m-2.4 2h1.4m14.6 6h1.4m-15.4 3h1.4m15.6 5h1.4m-20.4 2h1.4m17.6 3h1.4m-20.4 1h1.4m5.6 0h1.4m-3.4 1h1.4m11.6 0h1.4m-15.4 2h2.4m-4.4 11h1.4m5.6 2h1.4m6.6 5h1.4m0.6 5h1.4m-15.4 7h1.4m-2.4 1h1.4m2.6 0h1.4m-0.4 3h1.4m5.6 0h1.4m-13.4 9h1.4m11.6 2h1.4m-14.4 1h1.4m0.6 0h1.4m-0.4 2h1.4m0.6 4h1.4m-7.4 1h1.4m3.6 0h3.4m-3.4 2h1.4" stroke="#464662"/><path d="M7 0.5h1.4m-2.4 2h1.4m0.6 0h1.4m1.6 2h1.4m0.6 2h1.4m3.6 0h1.4m-14.4 2h1.4m-2.4 1h1.4m0.6 0h1.4m5.6 7h1.4m3.6 0h1.4m-9.4 7h1.4m1.6 0h1.4m-4.4 4h1.4m-2.4 1h1.4m-10.4 3h1.4m9.6 0h1.4m-1.4 1h1.4m0.6 3h1.4m-0.4 3h2.4m-9.4 2h1.4m1.6 8h2.4m-2.4 6h1.4m4.6 1h1.4m1.6 8h1.4m-11.4 2h1.4m2.6 3h1.4m1.6 0h1.4m-0.4 2h1.4m-0.4 18h1.4m-4.4 2h1.4m-1.4 1h1.4m1.6 11h1.4m-5.4 12h1.4m-3.4 7h2.4m3.6 0h1.4m-3.4 2h1.4m0.6 0h1.4m-16.4 1h1.4m2.6 2h1.4m-0.4 2h1.4m6.6 0h1.4m-10.4 3h1.4m10.6 1h1.4m-12.4 6h1.4m-6.4 1h1.4m0.6 1h1.4m-1.4 1h1.4m12.6 5h1.4m-4.4 1h1.4m-14.4 2h1.4m1.6 0h1.4m-1.4 8h1.4m-2.4 3h1.4m3.6 2h1.4m-6.4 1h1.4m2.6 0h1.4m-5.4 3h1.4m2.6 1h3.4m-10.4 1h1.4m0.6 1h1.4m-2.4 11h1.4m-1.4 2h1.4m1.6 1h1.4m10.6 0h1.4m-19.4 3h1.4m9.6 8h1.4m0.6 0h2.4m0.6 0h1.4m0.6 1h1.4m-19.4 5h1.4m5.6 2h1.4m4.6 0h1.4m2.6 0h1.4m-17.4 3h1.4" stroke="#4c4c6a"/><path d="M13 4.5h1.4m-2.4 2h1.4m0.6 0h1.4m-1.4 4h1.4m-6.4 3h1.4m2.6 0h1.4m0.6 0h1.4m0.6 2h1.4m-0.4 3h2.4m-1.4 1h1.4m-3.4 1h1.4m0.6 1h1.4m-3.4 1h3.4m-14.4 1h1.4m11.6 0h1.4m-7.4 1h1.4m-0.4 2h1.4m0.6 0h1.4m-16.4 1h1.4m1.6 4h1.4m11.6 5h2.4m-11.4 2h1.4m0.6 4h1.4m3.6 0h1.4m2.6 0h1.4m-8.4 4h1.4m-5.4 1h1.4m4.6 12h1.4m-14.4 4h1.4m9.6 0h1.4m2.6 1h1.4m-0.4 3h1.4m-3.4 1h1.4m-1.4 1h1.4m-4.4 2h1.4m1.6 0h1.4m2.6 0h1.4m-6.4 1h1.4m1.6 3h2.4m-18.4 2h1.4m-2.4 1h1.4m7.6 0h1.4m8.6 0h1.4m-11.4 1h1.4m-8.4 2h1.4m12.6 0h1.4m-5.4 6h2.4m-12.4 1h2.4m-2.4 2h1.4m-1.4 1h1.4m10.6 0h1.4m-15.4 1h1.4m2.6 0h1.4m-4.4 2h1.4m3.6 1h1.4m5.6 1h1.4m-0.4 3h1.4m2.6 1h1.4m-16.4 2h1.4m8.6 2h1.4m-0.4 1h1.4m2.6 4h1.4m-13.4 3h1.4m-5.4 2h2.4m-4.4 4h1.4m1.6 0h1.4m-2.4 3h1.4m15.6 0h1.4m-6.4 1h1.4m3.6 0h1.4m-5.4 1h1.4m-6.4 1h1.4m0.6 0h1.4m-12.4 2h3.4m3.6 0h1.4m-6.4 1h1.4m0.6 0h1.4m2.6 0h1.4m0.6 0h1.4m-8.4 4h1.4m9.6 1h1.4m-10.4 2h1.4m2.6 0h1.4m-5.4 1h1.4m-1.4 1h1.4m-5.4 3h1.4m13.6 0h1.4m-17.4 1h1.4m-2.4 1h2.4m4.6 0h1.4m1.6 0h1.4m6.6 4h1.4m-17.4 1h1.4m4.6 0h2.4m2.6 0h1.4m0.6 0h1.4m1.6 0h1.4m-13.4 1h1.4m11.6 0h1.4m-18.4 1h1.4m0.6 0h1.4m12.6 0h1.4m-0.4 3h1.4m-4.4 5h1.4m0.6 0h1.4m-15.4 10h1.4m0.6 0h1.4m-7.4 2h1.4m2.6 0h2.4m7.6 0h1.4m-14.4 1h1.4m2.6 0h1.4m12.6 0h1.4m-19.4 1h1.4m7.6 1h1.4m-0.4 1h1.4m3.6 0h1.4m-8.4 1h1.4m-4.4 3h1.4m11.6 1h1.4m-11.4 2h1.4m-4.4 1h2.4m2.6 2h1.4m5.6 0h1.4m-15.4 1h1.4m1.6 0h1.4m2.6 2h1.4m-3.4 3h1.4m8.6 0h1.4m-20.4 3h1.4m3.6 1h1.4m0.6 0h1.4m3.6 1h1.4m-12.4 1h1.4m15.6 0h1.4m-6.4 1h1.4m4.6 0h1.4m-9.4 2h1.4m5.6 0h1.4m-17.4 5h1.4m7.6 0h2.4m0.6 0h1.4m-11.4 1h2.4m0.6 1h1.4m3.6 0h1.4m1.6 0h1.4m-4.4 1h1.4m0.6 0h1.4m3.6 0h1.4" stroke="#535373"/><path d="M4 0.5h1.4m3.6 0h2.4m-8.4 1h1.4m11.6 1h1.4m-11.4 2h2.4m6.6 1h1.4m0.6 0h1.4m-10.4 2h1.4m8.6 0h1.4m-11.4 1h1.4m-9.4 1h1.4m6.6 0h1.4m6.6 0h1.4m1.6 0h1.4m-11.4 1h1.4m0.6 0h1.4m0.6 1h1.4m1.6 0h1.4m-0.4 2h1.4m-11.4 3h1.4m3.6 3h2.4m-9.4 3h1.4m2.6 1h1.4m3.6 0h1.4m2.6 0h1.4m-2.4 2h2.4m-4.4 1h1.4m-9.4 3h1.4m0.6 1h1.4m-0.4 1h1.4m1.6 0h1.4m3.6 0h1.4m-9.4 1h1.4m3.6 0h2.4m-10.4 1h1.4m2.6 1h1.4m-3.4 1h1.4m8.6 0h1.4m-8.4 3h2.4m3.6 0h1.4m-13.4 2h1.4m1.6 1h1.4m1.6 1h1.4m-1.4 1h1.4m0.6 0h1.4m3.6 0h1.4m-8.4 1h1.4m4.6 0h1.4m-2.4 1h1.4m-16.4 1h1.4m8.6 1h1.4m-11.4 1h1.4m13.6 1h1.4m-9.4 2h1.4m-5.4 1h1.4m1.6 2h1.4m7.6 0h2.4m-10.4 2h1.4m6.6 0h1.4m-18.4 2h1.4m6.6 0h1.4m8.6 0h1.4m-8.4 1h1.4m0.6 4h1.4m-6.4 2h1.4m1.6 0h2.4m3.6 1h1.4m-18.4 1h1.4m11.6 0h1.4m1.6 0h1.4m-5.4 1h1.4m-4.4 1h1.4m7.6 1h1.4m-19.4 1h1.4m4.6 0h1.4m6.6 0h1.4m0.6 0h1.4m-5.4 1h1.4m1.6 0h1.4m-2.4 1h1.4m-0.4 2h2.4m-12.4 1h1.4m6.6 0h1.4m0.6 0h1.4m0.6 0h1.4m-18.4 1h1.4m0.6 0h1.4m8.6 3h1.4m0.6 0h1.4m3.6 0h1.4m-19.4 1h1.4m9.6 0h1.4m1.6 0h1.4m-5.4 2h1.4m5.6 0h2.4m-14.4 2h1.4m3.6 2h1.4m5.6 0h2.4m-1.4 1h1.4m-9.4 1h1.4m0.6 0h1.4m3.6 0h1.4m-5.4 1h1.4m1.6 1h1.4m-17.4 1h1.4m3.6 0h1.4m2.6 1h1.4m-4.4 1h1.4m10.6 1h1.4m-18.4 1h1.4m8.6 0h1.4m-1.4 1h1.4m2.6 0h1.4m-5.4 2h1.4m2.6 1h1.4m-16.4 1h1.4m13.6 0h1.4m0.6 0h1.4m-11.4 1h1.4m5.6 0h1.4m-12.4 1h1.4m0.6 0h1.4m-4.4 1h1.4m13.6 0h1.4m-17.4 6h1.4m-3.4 2h1.4m7.6 0h1.4m-2.4 1h1.4m-1.4 1h1.4m-7.4 2h1.4m13.6 0h1.4m-16.4 1h1.4m14.6 0h2.4m-5.4 3h1.4m-8.4 1h1.4m-9.4 1h1.4m4.6 2h1.4m3.6 0h1.4m1.6 0h1.4m3.6 0h1.4m-18.4 1h1.4m5.6 1h1.4m7.6 0h1.4m-19.4 1h1.4m-1.4 1h1.4m2.6 1h1.4m12.6 1h1.4m-16.4 1h1.4m-1.4 4h1.4m0.6 0h1.4m8.6 1h1.4m0.6 4h1.4m-12.4 1h1.4m10.6 0h1.4m-11.4 2h1.4m2.6 0h1.4m0.6 1h1.4m-15.4 1h1.4m1.6 0h1.4m2.6 0h1.4m-7.4 1h1.4m-2.4 1h1.4m6.6 0h1.4m-8.4 1h1.4m0.6 0h1.4m0.6 0h1.4m0.6 0h1.4m0.6 0h1.4m8.6 0h1.4m-18.4 1h1.4m4.6 0h1.4m7.6 0h1.4m-17.4 1h1.4m7.6 0h2.4m-12.4 1h1.4m5.6 1h2.4m6.6 0h1.4m0.6 0h1.4m-1.4 2h1.4m-19.4 2h2.4m8.6 1h1.4m-12.4 1h1.4m14.6 0h1.4m1.6 0h1.4m-9.4 3h1.4m-8.4 1h1.4m12.6 1h1.4m-19.4 1h1.4m6.6 2h1.4m-3.4 1h1.4m-6.4 1h1.4m3.6 0h1.4m1.6 1h1.4m6.6 0h1.4m-11.4 2h1.4m0.6 0h1.4m8.6 0h1.4m-16.4 2h1.4m-5.4 1h2.4m-1.4 5h2.4m4.6 0h1.4m9.6 0h1.4m-20.4 1h1.4m0.6 0h1.4m5.6 0h1.4m-6.4 2h1.4m0.6 0h1.4m4.6 0h1.4m-6.4 2h1.4m0.6 1h1.4m8.6 0h1.4m-12.4 2h1.4m-1.4 1h1.4m0.6 0h1.4m-11.4 1h1.4m0.6 0h1.4m13.6 3h2.4m-19.4 2h1.4m-1.4 1h2.4m4.6 0h3.4m1.6 0h1.4m-12.4 2h1.4m3.6 0h1.4m4.6 1h1.4m-11.4 2h1.4m2.6 0h1.4m1.6 0h1.4m1.6 0h1.4m3.6 0h1.4m-14.4 1h1.4m2.6 0h1.4m1.6 0h2.4m-9.4 1h3.4m-1.4 1h1.4m0.6 0h1.4m-4.4 1h1.4m10.6 0h1.4m0.6 0h1.4m-10.4 1h2.4m2.6 0h1.4m0.6 0h2.4" stroke="#595c79"/><path d="M5 0.5h2.4m11.6 0h1.4m-3.4 2h1.4m-17.4 1h1.4m14.6 0h1.4m-14.4 1h2.4m2.6 0h1.4m3.6 0h1.4m1.6 0h2.4m-14.4 1h1.4m9.6 0h1.4m-11.4 1h2.4m10.6 0h1.4m-9.4 1h1.4m1.6 0h2.4m0.6 0h1.4m0.6 0h1.4m-13.4 1h1.4m6.6 0h1.4m0.6 0h1.4m-17.4 1h1.4m2.6 0h1.4m2.6 0h1.4m7.6 0h1.4m-4.4 1h1.4m-7.4 1h1.4m3.6 0h2.4m-16.4 2h1.4m2.6 0h2.4m0.6 0h1.4m2.6 1h1.4m0.6 0h1.4m0.6 0h1.4m-10.4 2h1.4m0.6 0h1.4m0.6 0h1.4m-11.4 1h1.4m6.6 0h1.4m1.6 0h3.4m2.6 0h1.4m-9.4 1h1.4m6.6 0h1.4m-18.4 1h2.4m5.6 0h1.4m1.6 0h1.4m-5.4 1h2.4m-2.4 1h1.4m5.6 0h1.4m0.6 0h2.4m-18.4 2h1.4m0.6 0h1.4m11.6 0h2.4m-0.4 1h2.4m-13.4 1h1.4m4.6 0h2.4m1.6 0h1.4m-7.4 1h2.4m6.6 0h1.4m-18.4 1h1.4m4.6 0h2.4m2.6 0h1.4m0.6 0h1.4m-8.4 1h1.4m-6.4 1h1.4m7.6 0h1.4m-12.4 2h2.4m-0.4 1h1.4m4.6 0h1.4m1.6 1h1.4m4.6 0h1.4m-18.4 1h1.4m2.6 0h1.4m2.6 0h1.4m4.6 0h1.4m-14.4 5h1.4m0.6 0h1.4m-4.4 1h1.4m1.6 0h1.4m5.6 0h1.4m-0.4 1h1.4m-5.4 1h1.4m1.6 0h1.4m0.6 0h1.4m1.6 0h2.4m-10.4 1h2.4m4.6 0h1.4m0.6 0h2.4m-17.4 1h1.4m5.6 0h1.4m5.6 0h1.4m1.6 0h1.4m-2.4 1h1.4m-19.4 1h1.4m6.6 0h1.4m-5.4 1h1.4m8.6 0h1.4m-14.4 1h1.4m15.6 1h1.4m-19.4 4h1.4m1.6 0h1.4m12.6 0h1.4m-17.4 1h1.4m4.6 0h1.4m0.6 0h1.4m5.6 0h1.4m-17.4 2h1.4m11.6 0h1.4m4.6 0h1.4m-11.4 1h1.4m1.6 0h1.4m1.6 0h2.4m-16.4 1h1.4m6.6 0h1.4m4.6 0h1.4m0.6 3h2.4m-17.4 2h1.4m12.6 0h1.4m-16.4 1h1.4m8.6 0h2.4m-13.4 1h1.4m1.6 0h1.4m11.6 0h1.4m-4.4 1h1.4m0.6 0h2.4m-10.4 1h2.4m8.6 0h1.4m-17.4 1h2.4m14.6 0h1.4m-20.4 1h1.4m0.6 0h1.4m4.6 0h1.4m9.6 0h1.4m-12.4 1h1.4m-7.4 1h1.4m7.6 0h1.4m-12.4 1h2.4m8.6 0h1.4m6.6 1h1.4m-7.4 1h1.4m-12.4 1h1.4m8.6 0h1.4m5.6 0h1.4m-9.4 1h1.4m1.6 0h1.4m-11.4 1h1.4m9.6 0h1.4m-15.4 1h1.4m5.6 0h1.4m5.6 0h2.4m-17.4 2h2.4m1.6 0h1.4m5.6 0h1.4m0.6 0h1.4m-14.4 1h1.4m1.6 0h1.4m9.6 0h1.4m-13.4 1h1.4m11.6 0h1.4m-16.4 1h1.4m3.6 1h1.4m8.6 1h1.4m-13.4 1h1.4m12.6 0h1.4m0.6 0h1.4m-10.4 1h1.4m3.6 0h2.4m-1.4 1h2.4m-2.4 1h1.4m-13.4 1h1.4m7.6 0h1.4m2.6 0h1.4m-12.4 1h1.4m5.6 0h1.4m1.6 0h1.4m0.6 0h1.4m-11.4 1h2.4m6.6 0h1.4m-11.4 1h1.4m0.6 0h1.4m4.6 1h1.4m2.6 0h1.4m-20.4 1h1.4m1.6 0h1.4m9.6 0h1.4m-11.4 1h2.4m1.6 0h1.4m6.6 0h1.4m-2.4 1h1.4m-13.4 1h1.4m3.6 0h1.4m-4.4 1h1.4m6.6 0h1.4m3.6 0h1.4m-19.4 1h1.4m3.6 0h2.4m7.6 0h1.4m-14.4 1h1.4m11.6 0h1.4m-14.4 2h1.4m-3.4 1h1.4m14.6 0h1.4m1.6 0h1.4m-19.4 2h1.4m-2.4 1h1.4m0.6 0h3.4m10.6 0h1.4m0.6 0h1.4m-16.4 1h1.4m1.6 1h1.4m-6.4 1h1.4m0.6 0h2.4m-3.4 2h1.4m1.6 0h1.4m1.6 0h1.4m7.6 0h1.4m-0.4 1h1.4m-19.4 1h1.4m2.6 0h1.4m1.6 0h1.4m6.6 0h1.4m1.6 0h1.4m-1.4 2h1.4m-18.4 1h1.4m-0.4 1h1.4m0.6 0h1.4m4.6 0h1.4m7.6 0h1.4m-4.4 1h1.4m-13.4 1h2.4m7.6 0h1.4m-11.4 1h1.4m10.6 0h1.4m-14.4 1h1.4m8.6 0h1.4m2.6 0h1.4m-18.4 2h1.4m0.6 0h1.4m1.6 0h1.4m0.6 0h3.4m2.6 0h1.4m3.6 0h1.4m-2.4 2h1.4m-16.4 1h1.4m8.6 0h1.4m0.6 0h1.4m-7.4 2h1.4m-6.4 1h2.4m2.6 0h1.4m9.6 1h1.4m-14.4 1h1.4m10.6 0h1.4m-18.4 1h1.4m5.6 0h1.4m-0.4 1h1.4m3.6 0h1.4m-4.4 4h1.4m-6.4 1h1.4m1.6 0h1.4m-7.4 1h1.4m8.6 0h1.4m-0.4 1h1.4m-12.4 2h2.4m5.6 0h1.4m-12.4 1h1.4m14.6 0h1.4m-12.4 1h1.4m-3.4 1h1.4m-3.4 1h3.4m7.6 0h1.4m-7.4 1h1.4m0.6 0h1.4m0.6 1h1.4m-5.4 1h1.4m0.6 0h1.4m-0.4 2h1.4m8.6 0h1.4m-18.4 1h1.4m8.6 1h1.4m-7.4 1h1.4m-2.4 1h2.4m6.6 0h1.4m1.6 0h1.4m-16.4 1h1.4m3.6 0h1.4m1.6 1h1.4m-2.4 1h1.4m-10.4 1h1.4m6.6 0h1.4m-5.4 1h1.4m-3.4 2h1.4m-2.4 1h1.4m5.6 0h1.4m-3.4 1h1.4m-0.4 1h1.4m10.6 0h1.4m-18.4 1h1.4m15.6 0h1.4m-17.4 1h1.4m2.6 0h1.4m1.6 0h1.4m3.6 0h1.4m-9.4 1h1.4m10.6 1h1.4m-20.4 1h1.4m4.6 0h1.4m4.6 0h1.4m4.6 0h1.4m-18.4 2h1.4m0.6 0h1.4m13.6 0h1.4m-11.4 2h1.4m8.6 0h1.4m-16.4 1h1.4m6.6 0h1.4m-12.4 1h1.4m8.6 0h1.4m6.6 0h1.4m-18.4 1h1.4m7.6 0h2.4m-12.4 1h1.4m1.6 0h1.4m2.6 0h1.4m6.6 0h1.4m-6.4 1h1.4m-10.4 2h1.4m16.6 0h1.4m-19.4 1h3.4m0.6 0h1.4m12.6 0h1.4m-19.4 2h1.4m4.6 0h2.4m2.6 0h1.4m4.6 0h1.4m-19.4 2h1.4m4.6 0h1.4m-5.4 1h1.4m-2.4 1h1.4m2.6 1h2.4m-1.4 1h1.4m-1.4 1h1.4m4.6 0h1.4m-2.4 1h1.4m0.6 0h1.4m4.6 0h1.4m-8.4 1h1.4m-10.4 1h1.4m5.6 0h1.4m5.6 0h1.4m-10.4 1h1.4m4.6 0h1.4m-15.4 1h1.4m10.6 0h3.4m-8.4 3h1.4m9.6 0h1.4m-6.4 1h1.4m1.6 1h1.4m0.6 0h1.4m-12.4 1h1.4m2.6 1h1.4m5.6 0h1.4m-17.4 1h1.4m0.6 0h1.4m0.6 0h1.4m8.6 0h1.4" stroke="#60657f"/><path d="M2 0.5h1.4m7.6 0h1.4m0.6 0h1.4m-7.4 2h1.4m0.6 0h1.4m0.6 0h1.4m6.6 0h1.4m-12.4 1h2.4m2.6 0h1.4m-13.4 1h1.4m13.6 0h1.4m-10.4 1h1.4m4.6 0h1.4m4.6 0h1.4m-15.4 1h1.4m9.6 0h1.4m-15.4 2h1.4m2.6 0h1.4m4.6 0h1.4m5.6 0h1.4m-17.4 1h1.4m2.6 0h1.4m-3.4 1h1.4m3.6 0h1.4m-8.4 1h1.4m0.6 0h1.4m4.6 0h1.4m-8.4 1h1.4m0.6 0h1.4m-1.4 1h1.4m0.6 0h1.4m6.6 0h1.4m-9.4 1h1.4m9.6 0h1.4m-9.4 1h2.4m5.6 0h1.4m-18.4 1h3.4m6.6 0h1.4m-11.4 1h1.4m3.6 0h1.4m10.6 0h1.4m-12.4 1h1.4m2.6 0h1.4m0.6 1h1.4m0.6 0h1.4m-17.4 1h1.4m12.6 0h1.4m-3.4 1h1.4m-9.4 1h1.4m3.6 0h1.4m1.6 0h4.4m-8.4 1h1.4m2.6 1h1.4m2.6 0h1.4m1.6 0h1.4m-15.4 1h1.4m8.6 0h1.4m-9.4 1h1.4m-8.4 3h1.4m4.6 0h1.4m6.6 0h2.4m-3.4 1h1.4m4.6 0h1.4m-14.4 1h1.4m0.6 0h2.4m6.6 0h1.4m-0.4 1h1.4m-10.4 1h1.4m-6.4 1h1.4m0.6 0h1.4m4.6 0h1.4m-6.4 1h1.4m2.6 0h2.4m0.6 0h2.4m1.6 0h1.4m-19.4 2h1.4m6.6 0h1.4m6.6 1h1.4m-14.4 1h1.4m1.6 0h1.4m6.6 0h1.4m2.6 0h1.4m-19.4 1h1.4m6.6 0h1.4m9.6 1h1.4m-18.4 1h1.4m2.6 0h1.4m10.6 0h1.4m-19.4 1h1.4m14.6 0h1.4m-8.4 3h1.4m0.6 0h1.4m3.6 0h1.4m-17.4 1h1.4m4.6 0h1.4m1.6 1h1.4m7.6 0h1.4m-13.4 1h1.4m5.6 0h1.4m0.6 0h1.4m2.6 0h1.4m-5.4 1h1.4m-5.4 1h1.4m0.6 0h1.4m3.6 0h1.4m-11.4 1h1.4m5.6 0h1.4m-7.4 1h1.4m3.6 0h1.4m-15.4 1h1.4m3.6 0h1.4m7.6 0h1.4m3.6 0h1.4m-1.4 1h1.4m-12.4 1h1.4m5.6 0h1.4m-8.4 1h1.4m3.6 0h1.4m4.6 0h1.4m-20.4 2h1.4m4.6 0h1.4m1.6 2h1.4m0.6 2h1.4m5.6 0h1.4m-9.4 1h1.4m1.6 0h3.4m-15.4 1h2.4m0.6 0h1.4m8.6 0h1.4m1.6 0h1.4m-18.4 1h1.4m2.6 0h1.4m4.6 0h1.4m2.6 0h1.4m3.6 0h1.4m-10.4 1h1.4m7.6 0h1.4m-6.4 1h1.4m-11.4 1h1.4m6.6 0h1.4m-6.4 1h1.4m7.6 0h1.4m-16.4 1h1.4m10.6 0h1.4m3.6 0h1.4m-10.4 1h1.4m2.6 0h1.4m2.6 1h1.4m-4.4 1h1.4m0.6 2h1.4m1.6 0h1.4m-9.4 1h1.4m3.6 0h1.4m-7.4 1h2.4m0.6 1h2.4m-4.4 2h1.4m0.6 0h1.4m-6.4 1h1.4m-8.4 1h1.4m9.6 0h1.4m2.6 0h2.4m-16.4 2h2.4m-4.4 1h1.4m0.6 0h1.4m4.6 0h1.4m2.6 0h1.4m2.6 0h1.4m0.6 0h1.4m-13.4 2h1.4m5.6 0h1.4m-11.4 1h1.4m11.6 1h1.4m-17.4 1h1.4m1.6 0h1.4m14.6 0h1.4m-17.4 1h1.4m0.6 0h1.4m7.6 0h1.4m3.6 0h1.4m-17.4 2h1.4m2.6 1h1.4m8.6 0h2.4m-8.4 1h1.4m2.6 0h1.4m-6.4 1h2.4m1.6 0h1.4m-8.4 1h1.4m-7.4 1h1.4m3.6 0h3.4m6.6 0h1.4m-16.4 1h1.4m1.6 0h1.4m0.6 1h2.4m4.6 0h1.4m2.6 0h1.4m0.6 0h1.4m-18.4 1h1.4m0.6 0h1.4m8.6 0h1.4m0.6 0h2.4m0.6 0h1.4m-17.4 1h1.4m0.6 0h1.4m10.6 0h3.4m-16.4 1h1.4m-0.4 1h1.4m3.6 0h1.4m6.6 0h1.4m-14.4 2h1.4m3.6 0h1.4m5.6 0h1.4m-9.4 1h1.4m8.6 0h1.4m-20.4 1h1.4m3.6 0h1.4m0.6 0h2.4m1.6 0h1.4m1.6 0h1.4m3.6 0h1.4m-20.4 1h1.4m3.6 0h1.4m9.6 0h2.4m-16.4 3h1.4m12.6 1h1.4m-17.4 2h1.4m2.6 0h1.4m0.6 0h2.4m0.6 0h1.4m5.6 0h1.4m1.6 0h1.4m-17.4 1h2.4m9.6 0h2.4m-10.4 1h1.4m7.6 0h3.4m-9.4 1h1.4m5.6 0h1.4m-18.4 1h1.4m4.6 0h1.4m11.6 0h1.4m-20.4 1h2.4m3.6 0h1.4m10.6 1h1.4m-19.4 1h1.4m2.6 0h1.4m3.6 0h1.4m1.6 0h1.4m0.6 0h1.4m-14.4 2h1.4m3.6 0h1.4m-2.4 1h2.4m2.6 0h1.4m4.6 0h1.4m-13.4 1h1.4m2.6 0h1.4m7.6 0h2.4m-14.4 1h1.4m0.6 0h1.4m-6.4 1h1.4m-3.4 1h2.4m2.6 0h1.4m10.6 0h1.4m-18.4 1h3.4m1.6 0h2.4m-6.4 1h1.4m4.6 0h1.4m0.6 0h1.4m-10.4 1h1.4m2.6 1h2.4m4.6 0h1.4m-3.4 1h1.4m0.6 0h1.4m4.6 0h1.4m0.6 0h1.4m-16.4 1h2.4m0.6 0h1.4m-8.4 1h2.4m0.6 1h1.4m1.6 0h1.4m1.6 0h1.4m5.6 0h1.4m-13.4 1h1.4m8.6 0h3.4m0.6 0h1.4m-19.4 1h1.4m8.6 0h1.4m4.6 0h1.4m0.6 0h1.4m-15.4 1h1.4m3.6 0h1.4m5.6 0h2.4m-16.4 1h1.4m2.6 0h1.4m9.6 0h2.4m-19.4 1h1.4m16.6 0h2.4m-19.4 1h1.4m6.6 0h2.4m-9.4 1h1.4m3.6 2h1.4m0.6 2h1.4m4.6 0h2.4m0.6 0h1.4m-17.4 1h1.4m2.6 1h1.4m-2.4 1h1.4m7.6 0h2.4m-13.4 1h1.4m1.6 0h2.4m1.6 1h2.4m6.6 0h1.4m-5.4 1h1.4m-14.4 1h1.4m0.6 0h1.4m9.6 0h1.4m2.6 0h1.4m-20.4 1h1.4m6.6 0h1.4m-8.4 1h1.4m0.6 0h1.4m0.6 0h1.4m0.6 0h1.4m-3.4 1h1.4m11.6 0h1.4m-9.4 1h1.4m-2.4 1h2.4m-8.4 2h1.4m2.6 0h2.4m6.6 0h1.4m-12.4 1h3.4m2.6 0h1.4m-12.4 1h2.4m1.6 0h1.4m12.6 0h1.4m-9.4 1h2.4m-8.4 1h1.4m6.6 0h1.4m1.6 0h1.4m2.6 1h1.4m-2.4 2h1.4m-18.4 1h1.4m1.6 0h1.4m-3.4 2h1.4m6.6 0h1.4m-7.4 1h1.4m1.6 0h1.4m-7.4 1h1.4m14.6 0h1.4m-14.4 2h1.4m3.6 0h1.4m-4.4 1h1.4m-3.4 1h1.4m0.6 0h1.4m5.6 0h2.4m0.6 0h1.4m0.6 0h1.4m-18.4 1h1.4m8.6 0h1.4m1.6 1h1.4m1.6 1h1.4m-10.4 1h1.4m0.6 0h2.4m-9.4 2h3.4m9.6 0h1.4m-16.4 1h1.4m4.6 0h1.4m2.6 1h1.4m5.6 1h1.4m-9.4 2h1.4m-10.4 2h1.4m6.6 0h1.4m0.6 0h1.4m3.6 0h1.4m1.6 0h1.4m-18.4 1h1.4m0.6 0h1.4m0.6 0h1.4m1.6 0h1.4m7.6 0h1.4m-4.4 1h1.4m-0.4 1h1.4m-10.4 1h1.4m1.6 0h1.4m5.6 0h1.4m-14.4 1h1.4m2.6 0h2.4m4.6 0h1.4m2.6 0h1.4m-19.4 1h2.4m7.6 0h1.4m-2.4 2h1.4m-5.4 1h2.4m2.6 2h1.4m-6.4 1h1.4m8.6 0h1.4m-10.4 1h1.4" stroke="#666e86"/><path d="M16 0.5h1.4m0.6 0h1.4m-8.4 1h1.4m5.6 0h1.4m-14.4 1h1.4m7.6 0h1.4m-13.4 1h2.4m5.6 0h1.4m0.6 0h1.4m4.6 0h2.4m-20.4 1h1.4m6.6 0h1.4m2.6 0h1.4m-7.4 1h1.4m0.6 0h1.4m-5.4 1h1.4m3.6 0h3.4m4.6 0h1.4m-2.4 1h1.4m-13.4 1h1.4m4.6 0h2.4m2.6 1h1.4m-13.4 1h1.4m1.6 0h1.4m0.6 0h1.4m8.6 0h1.4m-15.4 1h1.4m1.6 0h2.4m0.6 0h1.4m5.6 0h2.4m-16.4 1h1.4m12.6 0h1.4m-0.4 1h2.4m-19.4 1h1.4m3.6 0h1.4m1.6 0h2.4m0.6 0h1.4m3.6 0h1.4m-5.4 1h1.4m3.6 0h1.4m-4.4 1h1.4m-6.4 1h1.4m6.6 0h1.4m-18.4 1h1.4m13.6 0h1.4m-7.4 1h1.4m6.6 0h1.4m-14.4 1h1.4m2.6 0h1.4m0.6 0h1.4m0.6 0h1.4m3.6 0h1.4m-6.4 1h1.4m3.6 0h1.4m-16.4 1h1.4m1.6 0h1.4m-3.4 1h1.4m-5.4 1h1.4m9.6 0h1.4m1.6 0h1.4m-8.4 1h1.4m-3.4 1h1.4m10.6 0h2.4m-8.4 1h1.4m-12.4 1h1.4m13.6 0h1.4m-12.4 1h1.4m9.6 1h2.4m-10.4 1h1.4m-4.4 1h1.4m13.6 0h1.4m-12.4 1h1.4m3.6 0h1.4m4.6 0h1.4m-20.4 1h1.4m1.6 0h1.4m5.6 0h1.4m2.6 0h1.4m-15.4 1h1.4m1.6 0h1.4m0.6 0h1.4m1.6 0h1.4m-3.4 1h1.4m6.6 0h1.4m0.6 0h1.4m-8.4 1h1.4m6.6 0h2.4m-18.4 2h1.4m4.6 0h1.4m1.6 0h1.4m5.6 0h1.4m0.6 0h1.4m-8.4 1h2.4m3.6 0h2.4m-15.4 1h1.4m7.6 0h1.4m0.6 0h1.4m0.6 0h1.4m-16.4 1h3.4m0.6 0h1.4m0.6 0h1.4m3.6 0h1.4m-8.4 1h1.4m2.6 0h1.4m-12.4 1h1.4m3.6 0h1.4m1.6 0h1.4m1.6 0h1.4m-11.4 1h1.4m5.6 0h1.4m5.6 0h2.4m-14.4 1h1.4m8.6 0h1.4m-11.4 1h1.4m5.6 0h1.4m1.6 0h1.4m3.6 0h1.4m-3.4 1h2.4m0.6 0h1.4m-13.4 1h1.4m3.6 0h1.4m0.6 1h1.4m3.6 0h1.4m-20.4 1h1.4m6.6 0h1.4m0.6 0h1.4m-7.4 1h1.4m6.6 0h2.4m-6.4 1h1.4m2.6 0h1.4m1.6 0h1.4m-12.4 1h1.4m5.6 0h1.4m-12.4 1h2.4m11.6 0h1.4m-14.4 1h2.4m-3.4 1h1.4m9.6 0h1.4m-11.4 2h1.4m13.6 0h1.4m-6.4 1h1.4m0.6 0h1.4m1.6 0h2.4m-17.4 1h1.4m9.6 0h1.4m0.6 0h1.4m-14.4 1h2.4m6.6 1h1.4m3.6 0h1.4m0.6 1h1.4m-8.4 1h1.4m-0.4 1h1.4m5.6 0h1.4m-19.4 4h1.4m2.6 1h1.4m1.6 0h2.4m-6.4 1h2.4m10.6 0h1.4m0.6 0h2.4m-17.4 1h1.4m8.6 0h1.4m4.6 1h1.4m-20.4 1h2.4m0.6 0h1.4m9.6 0h1.4m-11.4 1h1.4m1.6 0h1.4m1.6 0h1.4m0.6 0h1.4m4.6 0h1.4m-14.4 1h2.4m4.6 0h2.4m4.6 0h1.4m-18.4 1h2.4m0.6 0h1.4m6.6 0h1.4m2.6 0h1.4m-6.4 1h1.4m-11.4 1h1.4m13.6 0h2.4m-10.4 1h2.4m7.6 0h1.4m-19.4 1h1.4m9.6 0h2.4m4.6 0h1.4m-17.4 1h2.4m7.6 0h1.4m0.6 0h1.4m-0.4 1h1.4m0.6 0h1.4m-1.4 1h1.4m-18.4 1h1.4m6.6 0h2.4m2.6 0h1.4m-15.4 2h1.4m3.6 0h1.4m0.6 0h1.4m8.6 1h1.4m-17.4 1h1.4m9.6 0h1.4m-12.4 1h1.4m1.6 0h1.4m-3.4 1h1.4m3.6 0h1.4m6.6 0h2.4m0.6 0h1.4m-17.4 2h1.4m1.6 0h2.4m5.6 0h1.4m3.6 0h1.4m-18.4 1h1.4m5.6 0h1.4m3.6 0h1.4m0.6 0h2.4m-16.4 1h1.4m0.6 0h1.4m12.6 0h1.4m-17.4 1h2.4m13.6 0h1.4m-14.4 1h1.4m0.6 0h1.4m6.6 0h1.4m-13.4 1h1.4m11.6 0h1.4m0.6 0h1.4m-6.4 1h1.4m5.6 0h1.4m-17.4 1h1.4m3.6 0h3.4m-11.4 1h1.4m4.6 0h1.4m1.6 0h1.4m2.6 0h1.4m-7.4 1h1.4m7.6 0h1.4m-16.4 1h1.4m9.6 0h1.4m0.6 0h1.4m1.6 0h1.4m-17.4 1h1.4m3.6 0h1.4m1.6 0h1.4m4.6 0h1.4m0.6 0h1.4m-9.4 2h1.4m-5.4 1h1.4m1.6 0h1.4m7.6 0h2.4m-15.4 1h1.4m7.6 0h1.4m-2.4 1h1.4m-10.4 2h2.4m9.6 0h2.4m-14.4 1h1.4m6.6 1h1.4m4.6 0h1.4m0.6 0h1.4m-19.4 2h1.4m0.6 0h1.4m0.6 0h1.4m3.6 0h1.4m-11.4 1h1.4m4.6 0h1.4m-6.4 1h1.4m5.6 0h1.4m4.6 0h1.4m-13.4 1h1.4m3.6 0h1.4m10.6 0h1.4m-19.4 1h1.4m10.6 0h1.4m3.6 0h1.4m-16.4 1h1.4m0.6 0h1.4m0.6 0h1.4m-3.4 1h1.4m4.6 0h1.4m3.6 0h1.4m-16.4 1h1.4m1.6 1h1.4m11.6 0h1.4m-0.4 1h1.4m-8.4 1h1.4m0.6 0h1.4m0.6 0h1.4m2.6 0h1.4m-14.4 1h2.4m6.6 0h1.4m-15.4 1h2.4m0.6 0h1.4m3.6 0h1.4m3.6 0h1.4m3.6 0h1.4m-19.4 1h1.4m0.6 0h1.4m2.6 0h1.4m5.6 0h1.4m3.6 0h1.4m-18.4 1h1.4m2.6 0h2.4m0.6 0h1.4m-2.4 1h1.4m-9.4 1h1.4m0.6 0h1.4m13.6 0h1.4m-9.4 1h1.4m-10.4 1h1.4m0.6 0h1.4m15.6 0h1.4m-13.4 1h2.4m2.6 0h1.4m0.6 0h2.4m-16.4 1h1.4m6.6 0h2.4m7.6 2h2.4m-18.4 2h1.4m0.6 0h1.4m1.6 0h1.4m2.6 0h2.4m-5.4 1h1.4m-6.4 1h1.4m0.6 0h1.4m2.6 0h1.4m0.6 0h1.4m-10.4 1h1.4m4.6 1h1.4m8.6 0h1.4m-5.4 1h1.4m-11.4 2h1.4m3.6 0h3.4m2.6 0h1.4m-2.4 1h1.4m-8.4 1h1.4m0.6 1h1.4m8.6 0h1.4m-18.4 1h1.4m1.6 0h1.4m9.6 0h3.4m-19.4 1h1.4m1.6 0h2.4m6.6 0h1.4m3.6 0h1.4m-13.4 1h1.4m2.6 0h2.4m-11.4 1h1.4m1.6 0h1.4m0.6 0h1.4m0.6 0h1.4m0.6 0h1.4m-8.4 1h2.4m5.6 0h1.4m-8.4 1h1.4m2.6 0h1.4m-7.4 1h1.4m1.6 0h2.4m2.6 0h1.4m1.6 0h1.4m-7.4 1h1.4m7.6 0h1.4m1.6 0h1.4m-17.4 1h3.4m2.6 0h1.4m1.6 0h1.4m-6.4 1h1.4m1.6 0h1.4m5.6 0h1.4m0.6 0h1.4m-14.4 1h1.4m1.6 0h1.4m5.6 0h1.4m-5.4 1h1.4m3.6 0h1.4m0.6 0h1.4m-13.4 1h1.4m2.6 0h1.4m7.6 0h1.4m-18.4 2h1.4m3.6 0h1.4m0.6 0h1.4m8.6 0h1.4m-19.4 1h1.4m6.6 0h1.4m2.6 0h1.4m-13.4 1h1.4m0.6 0h1.4m0.6 0h1.4m0.6 0h1.4m5.6 0h1.4m-6.4 1h1.4m1.6 0h2.4m1.6 0h1.4m-15.4 1h2.4m0.6 1h1.4m3.6 0h1.4m5.6 0h1.4m-15.4 1h1.4m0.6 0h1.4m10.6 0h1.4m-15.4 1h1.4m9.6 0h1.4m1.6 0h1.4m-13.4 1h1.4m-4.4 1h1.4m0.6 1h1.4m3.6 0h1.4m5.6 0h1.4m-16.4 1h2.4m3.6 0h1.4m7.6 0h1.4m0.6 0h1.4m-17.4 1h1.4m3.6 0h1.4m3.6 0h1.4m-13.4 1h1.4m0.6 0h1.4m5.6 0h1.4m7.6 0h1.4m-6.4 2h1.4m-11.4 1h1.4m5.6 0h2.4m-12.4 1h1.4m3.6 0h1.4m0.6 0h1.4m1.6 0h1.4m-11.4 1h1.4m10.6 0h1.4m1.6 0h1.4m-6.4 1h2.4m-12.4 1h1.4m4.6 0h1.4m-4.4 1h2.4m7.6 0h1.4m2.6 0h1.4m0.6 0h1.4m-15.4 1h1.4m5.6 0h1.4m-10.4 1h1.4m2.6 0h1.4m2.6 0h1.4m0.6 0h1.4m-11.4 1h1.4m5.6 0h1.4m-10.4 2h2.4m1.6 0h1.4m-3.4 1h1.4m9.6 0h2.4m-9.4 1h2.4m-7.4 2h1.4m10.6 0h1.4m-13.4 1h1.4m2.6 0h1.4m-4.4 1h1.4m-4.4 1h1.4m9.6 1h1.4m-1.4 1h1.4m-10.4 1h1.4m1.6 0h1.4m12.6 1h1.4m-8.4 1h1.4m4.6 0h1.4m-15.4 1h1.4m3.6 0h1.4m2.6 0h1.4m-11.4 1h1.4m0.6 0h1.4m6.6 0h1.4" stroke="#6c768c"/><path d="M8 0.5h1.4m5.6 0h1.4m0.6 0h1.4m-14.4 1h1.4m7.6 0h1.4m-11.4 1h2.4m4.6 0h1.4m3.6 0h1.4m-10.4 1h2.4m5.6 0h1.4m0.6 0h1.4m-14.4 1h1.4m10.6 0h1.4m2.6 0h1.4m-6.4 1h1.4m-12.4 1h1.4m8.6 1h1.4m-14.4 1h2.4m0.6 0h1.4m4.6 0h1.4m3.6 0h1.4m-13.4 1h1.4m6.6 0h1.4m5.6 0h1.4m-18.4 2h1.4m4.6 0h1.4m11.6 0h1.4m-11.4 1h1.4m-9.4 1h1.4m4.6 1h1.4m5.6 0h1.4m0.6 0h1.4m-8.4 1h1.4m3.6 0h3.4m-6.4 1h1.4m1.6 1h1.4m-13.4 1h1.4m3.6 0h1.4m5.6 0h1.4m-13.4 1h1.4m2.6 0h1.4m7.6 1h1.4m2.6 0h1.4m-12.4 1h2.4m0.6 0h1.4m-2.4 1h2.4m-7.4 1h1.4m0.6 0h1.4m2.6 0h2.4m-4.4 1h1.4m4.6 0h1.4m-16.4 1h1.4m7.6 0h1.4m0.6 0h1.4m-9.4 1h1.4m-1.4 1h1.4m2.6 0h1.4m3.6 0h1.4m3.6 0h1.4m-17.4 2h1.4m5.6 0h1.4m1.6 0h1.4m5.6 0h2.4m-12.4 1h1.4m0.6 0h1.4m2.6 0h1.4m1.6 0h2.4m-5.4 1h1.4m-10.4 1h2.4m0.6 0h1.4m3.6 0h2.4m1.6 0h1.4m-7.4 1h1.4m4.6 0h1.4m-11.4 1h2.4m3.6 0h1.4m-13.4 1h1.4m3.6 0h1.4m9.6 0h1.4m-10.4 1h1.4m0.6 0h1.4m1.6 0h1.4m4.6 0h1.4m-10.4 2h1.4m-11.4 1h1.4m14.6 1h2.4m-15.4 1h1.4m2.6 0h1.4m2.6 0h1.4m0.6 0h1.4m0.6 0h1.4m0.6 0h1.4m-18.4 1h2.4m-1.4 1h1.4m10.6 0h1.4m-4.4 1h1.4m2.6 0h1.4m-4.4 1h1.4m-11.4 1h1.4m11.6 0h1.4m1.6 0h2.4m-14.4 1h1.4m8.6 1h1.4m-5.4 1h1.4m1.6 0h1.4m0.6 0h1.4m-4.4 1h1.4m-10.4 1h1.4m1.6 0h1.4m3.6 0h1.4m2.6 0h2.4m-18.4 1h1.4m9.6 0h1.4m-2.4 1h1.4m3.6 1h1.4m-13.4 1h1.4m4.6 0h1.4m4.6 0h1.4m-6.4 1h1.4m2.6 0h1.4m-13.4 1h1.4m13.6 0h2.4m-5.4 1h1.4m0.6 0h2.4m-15.4 1h1.4m7.6 0h2.4m0.6 0h1.4m0.6 0h3.4m-18.4 1h1.4m10.6 0h1.4m-15.4 1h1.4m15.6 2h1.4m-11.4 1h3.4m-4.4 1h1.4m5.6 0h1.4m0.6 0h1.4m1.6 0h1.4m-14.4 1h1.4m2.6 0h1.4m-8.4 1h1.4m2.6 0h1.4m1.6 0h1.4m0.6 0h1.4m-8.4 1h1.4m-4.4 1h1.4m2.6 0h2.4m2.6 0h1.4m6.6 0h1.4m-6.4 1h1.4m-11.4 1h1.4m4.6 0h2.4m-9.4 1h1.4m4.6 0h1.4m0.6 0h1.4m-9.4 1h1.4m6.6 0h2.4m-2.4 1h1.4m0.6 0h1.4m3.6 0h1.4m-14.4 1h1.4m3.6 0h2.4m1.6 0h1.4m-14.4 1h4.4m4.6 0h1.4m3.6 1h1.4m1.6 0h1.4m-12.4 1h2.4m5.6 0h1.4m-0.4 1h2.4m1.6 0h1.4m-17.4 1h1.4m0.6 0h1.4m0.6 0h1.4m0.6 0h1.4m4.6 0h2.4m-13.4 1h1.4m12.6 0h1.4m-12.4 2h1.4m5.6 0h1.4m-12.4 1h2.4m0.6 0h1.4m2.6 0h1.4m-10.4 1h1.4m11.6 0h1.4m0.6 0h1.4m-4.4 1h1.4m-0.4 1h1.4m-14.4 1h1.4m1.6 0h1.4m8.6 0h1.4m-14.4 1h2.4m6.6 0h1.4m-8.4 1h1.4m0.6 1h1.4m3.6 1h1.4m1.6 0h1.4m-14.4 2h1.4m2.6 0h1.4m11.6 0h1.4m-9.4 2h1.4m-7.4 1h2.4m7.6 0h1.4m-2.4 1h1.4m1.6 0h1.4m-16.4 1h1.4m2.6 0h1.4m5.6 0h1.4m-12.4 2h1.4m12.6 0h1.4m-14.4 1h1.4m2.6 0h1.4m-6.4 1h1.4m0.6 1h1.4m3.6 0h1.4m6.6 0h1.4m-16.4 1h1.4m1.6 0h1.4m8.6 0h1.4m4.6 0h1.4m-20.4 1h1.4m13.6 1h1.4m-16.4 1h2.4m1.6 0h1.4m-3.4 1h2.4m5.6 0h1.4m-5.4 1h2.4m4.6 0h1.4m0.6 0h1.4m1.6 0h1.4m-19.4 1h2.4m-1.4 1h1.4m4.6 0h1.4m1.6 0h1.4m0.6 0h1.4m4.6 0h1.4m-13.4 1h2.4m10.6 0h1.4m-14.4 1h1.4m7.6 2h1.4m-11.4 1h1.4m0.6 0h2.4m7.6 0h1.4m-12.4 1h1.4m7.6 0h1.4m-10.4 1h1.4m-4.4 1h1.4m2.6 0h1.4m3.6 0h1.4m-12.4 2h1.4m9.6 0h1.4m1.6 0h1.4m-6.4 1h1.4m-11.4 2h1.4m3.6 0h1.4m9.6 0h1.4m-16.4 2h1.4m13.6 0h1.4m1.6 0h1.4m-11.4 2h2.4m5.6 0h1.4m-8.4 1h1.4m3.6 0h2.4m1.6 0h1.4m-10.4 1h2.4m3.6 0h3.4m-16.4 1h1.4m0.6 0h1.4m7.6 0h1.4m-2.4 1h1.4m-11.4 1h1.4m3.6 0h1.4m5.6 0h2.4m0.6 0h1.4m-19.4 1h2.4m13.6 0h1.4m0.6 0h1.4m-5.4 1h1.4m2.6 0h1.4m-2.4 1h2.4m-15.4 1h1.4m-0.4 1h1.4m3.6 0h1.4m0.6 0h1.4m-4.4 1h1.4m3.6 0h1.4m-13.4 1h2.4m6.6 0h1.4m2.6 0h1.4m-6.4 1h1.4m-10.4 1h1.4m6.6 0h1.4m4.6 0h1.4m-14.4 1h1.4m0.6 0h1.4m9.6 1h1.4m-16.4 3h1.4m8.6 0h1.4m3.6 0h1.4m-16.4 2h1.4m14.6 0h1.4m-16.4 1h1.4m4.6 0h1.4m0.6 0h1.4m-8.4 1h1.4m9.6 0h1.4m-14.4 1h1.4m14.6 0h1.4m-16.4 1h1.4m1.6 0h1.4m2.6 0h1.4m-9.4 1h2.4m6.6 0h1.4m7.6 0h2.4m-12.4 1h1.4m0.6 1h1.4m-9.4 1h1.4m5.6 0h1.4m0.6 0h1.4m-2.4 1h1.4m4.6 0h2.4m0.6 0h1.4m-3.4 1h1.4m0.6 0h1.4m-18.4 1h1.4m2.6 0h1.4m8.6 0h1.4m-17.4 1h1.4m15.6 0h1.4m-17.4 1h1.4m8.6 0h1.4m2.6 0h1.4m0.6 0h1.4m-8.4 1h1.4m5.6 0h3.4m-17.4 1h1.4m5.6 0h2.4m-12.4 1h1.4m0.6 0h2.4m7.6 0h1.4m2.6 1h1.4m-9.4 1h1.4m1.6 0h1.4m4.6 0h1.4m-12.4 1h1.4m0.6 0h1.4m3.6 0h1.4m1.6 0h1.4m0.6 0h1.4m-6.4 1h1.4m-10.4 2h1.4m6.6 0h1.4m-10.4 2h1.4m0.6 0h1.4m1.6 0h1.4m7.6 0h2.4m-17.4 1h2.4m0.6 0h1.4m3.6 0h1.4m0.6 1h1.4m-8.4 1h2.4m0.6 0h1.4m-6.4 1h1.4m0.6 0h1.4m1.6 0h1.4m3.6 0h1.4m4.6 0h1.4m-15.4 2h1.4m7.6 0h1.4m-14.4 1h2.4m0.6 0h5.4m2.6 0h1.4m3.6 0h2.4m-11.4 1h2.4m2.6 0h1.4m-10.4 2h1.4m3.6 0h1.4m2.6 1h1.4m-12.4 1h1.4m1.6 0h1.4m1.6 0h1.4m0.6 0h3.4m1.6 0h1.4m-16.4 2h1.4m4.6 0h1.4m-2.4 1h3.4m0.6 0h1.4m1.6 0h1.4m3.6 0h2.4m-12.4 1h1.4m-0.4 2h1.4m0.6 0h1.4m-11.4 1h1.4m3.6 0h1.4m8.6 0h2.4m-15.4 1h1.4m-0.4 2h1.4m13.6 0h2.4m-18.4 1h1.4m9.6 1h1.4m4.6 0h1.4m-8.4 1h1.4m-12.4 1h1.4m2.6 0h1.4m6.6 0h1.4m0.6 0h2.4m1.6 0h1.4m-17.4 1h1.4m14.6 0h1.4m-5.4 1h1.4m-16.4 1h1.4m17.6 0h1.4m-6.4 1h1.4" stroke="#737f93"/><path d="M0 0.5h1.4m1.6 0h1.4m7.6 0h1.4m-8.4 1h1.4m3.6 0h1.4m0.6 0h1.4m2.6 0h1.4m1.6 0h1.4m-7.4 1h1.4m-14.4 1h1.4m-1.4 2h1.4m9.6 0h1.4m5.6 0h1.4m-19.4 1h1.4m0.6 0h1.4m4.6 0h1.4m-4.4 1h1.4m5.6 0h1.4m4.6 1h1.4m-5.4 1h1.4m-8.4 1h1.4m4.6 0h1.4m2.6 0h1.4m-8.4 2h1.4m6.6 0h1.4m-16.4 2h1.4m0.6 0h1.4m0.6 1h1.4m-3.4 1h1.4m-5.4 1h1.4m0.6 0h1.4m0.6 0h2.4m1.6 0h1.4m4.6 0h1.4m-16.4 1h1.4m2.6 0h1.4m9.6 0h1.4m-9.4 1h1.4m6.6 0h1.4m0.6 0h1.4m-12.4 1h1.4m2.6 0h1.4m4.6 0h1.4m-7.4 1h1.4m3.6 0h1.4m-14.4 1h1.4m3.6 0h1.4m-7.4 1h1.4m16.6 2h1.4m-16.4 1h1.4m0.6 0h1.4m0.6 0h1.4m-5.4 1h2.4m7.6 0h1.4m0.6 0h1.4m1.6 0h1.4m-19.4 1h2.4m6.6 0h1.4m-2.4 1h2.4m4.6 0h2.4m-6.4 1h1.4m-8.4 1h1.4m8.6 0h2.4m1.6 0h1.4m-8.4 1h1.4m-13.4 1h1.4m0.6 0h1.4m12.6 0h1.4m-1.4 2h1.4m-13.4 1h2.4m0.6 0h1.4m0.6 0h1.4m0.6 0h2.4m-6.4 1h1.4m3.6 0h1.4m5.6 0h1.4m-8.4 2h2.4m1.6 0h1.4m-8.4 1h2.4m3.6 0h1.4m-15.4 1h2.4m0.6 0h1.4m0.6 0h1.4m-2.4 2h2.4m-6.4 1h1.4m0.6 0h1.4m-0.4 1h1.4m-0.4 1h2.4m2.6 0h1.4m3.6 0h1.4m-14.4 1h1.4m5.6 0h1.4m0.6 0h1.4m2.6 0h1.4m0.6 0h1.4m0.6 0h1.4m-14.4 1h2.4m3.6 0h1.4m-4.4 1h2.4m-11.4 1h1.4m14.6 0h1.4m-11.4 1h1.4m6.6 0h2.4m-15.4 1h1.4m4.6 0h1.4m0.6 0h1.4m3.6 0h1.4m0.6 0h1.4m1.6 0h1.4m-16.4 1h1.4m12.6 0h1.4m-17.4 1h1.4m2.6 0h1.4m4.6 0h1.4m-2.4 1h2.4m-10.4 1h1.4m2.6 0h1.4m7.6 0h1.4m-13.4 1h1.4m8.6 0h1.4m-5.4 1h2.4m0.6 0h1.4m4.6 0h1.4m-16.4 1h1.4m1.6 0h1.4m1.6 0h1.4m-6.4 1h1.4m3.6 0h1.4m3.6 0h1.4m2.6 0h1.4m-18.4 1h2.4m3.6 0h1.4m1.6 0h1.4m0.6 0h1.4m1.6 0h1.4m-14.4 1h1.4m5.6 0h1.4m0.6 0h1.4m1.6 0h1.4m2.6 0h1.4m-17.4 1h1.4m9.6 0h1.4m-13.4 1h5.4m11.6 0h1.4m-15.4 1h1.4m0.6 0h1.4m10.6 0h1.4m-19.4 1h1.4m5.6 0h1.4m-8.4 1h1.4m11.6 0h1.4m-14.4 1h1.4m7.6 0h2.4m1.6 1h1.4m0.6 0h1.4m-16.4 1h2.4m5.6 0h1.4m1.6 0h1.4m0.6 0h2.4m0.6 1h1.4m-11.4 1h1.4m-7.4 1h1.4m9.6 0h1.4m-2.4 1h1.4m2.6 0h1.4m-8.4 1h1.4m1.6 0h1.4m-6.4 1h1.4m1.6 1h1.4m7.6 0h1.4m-15.4 1h1.4m6.6 0h1.4m4.6 0h1.4m-9.4 1h1.4m6.6 0h1.4m-12.4 2h2.4m-7.4 2h1.4m1.6 0h1.4m10.6 1h1.4m-5.4 1h1.4m4.6 0h1.4m-9.4 1h1.4m2.6 0h1.4m0.6 1h1.4m-13.4 2h1.4m5.6 0h1.4m-8.4 1h1.4m5.6 1h1.4m-1.4 3h1.4m-4.4 1h1.4m-4.4 1h1.4m11.6 0h1.4m-18.4 2h1.4m-0.4 2h1.4m2.6 0h2.4m4.6 0h1.4m1.6 0h1.4m-11.4 2h1.4m-3.4 2h1.4m-4.4 1h1.4m0.6 0h1.4m10.6 0h1.4m-14.4 1h1.4m-3.4 1h1.4m3.6 0h2.4m1.6 1h1.4m3.6 0h2.4m-8.4 1h1.4m1.6 0h1.4m-2.4 1h1.4m-10.4 1h2.4m0.6 0h1.4m0.6 0h1.4m7.6 0h1.4m1.6 0h1.4m-9.4 1h1.4m0.6 0h2.4m-14.4 1h1.4m1.6 0h1.4m3.6 0h2.4m3.6 0h1.4m-4.4 1h1.4m-4.4 3h1.4m3.6 0h1.4m-10.4 1h1.4m2.6 0h1.4m1.6 0h1.4m-13.4 1h2.4m0.6 0h1.4m3.6 0h1.4m1.6 0h2.4m0.6 0h1.4m-13.4 1h1.4m5.6 0h1.4m5.6 0h2.4m-16.4 2h1.4m0.6 0h1.4m2.6 0h1.4m-4.4 1h2.4m0.6 0h1.4m5.6 1h2.4m1.6 1h1.4m-16.4 1h1.4m8.6 0h1.4m-5.4 1h1.4m-8.4 1h1.4m5.6 0h1.4m1.6 0h1.4m0.6 0h1.4m0.6 0h1.4m-3.4 1h2.4m-6.4 1h1.4m1.6 0h1.4m-11.4 2h1.4m-3.4 1h1.4m2.6 0h1.4m3.6 0h1.4m-0.4 1h2.4m2.6 0h1.4m-5.4 1h1.4m-12.4 1h1.4m12.6 0h1.4m-15.4 1h3.4m3.6 0h1.4m1.6 0h1.4m5.6 0h1.4m-8.4 1h1.4m3.6 0h1.4m-18.4 1h1.4m11.6 0h1.4m-8.4 1h1.4m0.6 0h1.4m-8.4 2h1.4m1.6 0h1.4m1.6 0h1.4m4.6 0h2.4m3.6 0h1.4m-7.4 1h1.4m-11.4 1h1.4m6.6 0h1.4m2.6 0h1.4m0.6 0h1.4m-14.4 1h1.4m0.6 0h1.4m3.6 3h1.4m-11.4 1h1.4m11.6 0h1.4m-11.4 1h2.4m11.6 0h1.4m-16.4 1h1.4m5.6 1h1.4m-10.4 1h1.4m8.6 0h1.4m4.6 0h3.4m-15.4 2h1.4m0.6 0h1.4m4.6 1h1.4m-10.4 2h1.4m2.6 0h1.4m3.6 0h1.4m-13.4 1h1.4m3.6 0h2.4m-7.4 1h1.4m0.6 0h2.4m5.6 0h1.4m-0.4 1h1.4m5.6 0h1.4m-8.4 1h1.4m5.6 0h1.4m-16.4 1h1.4m8.6 0h1.4m-6.4 1h1.4m1.6 0h2.4m-9.4 1h1.4m5.6 0h1.4m4.6 1h1.4m-19.4 1h1.4m11.6 0h1.4m3.6 0h1.4m-17.4 3h1.4m0.6 0h1.4m3.6 0h1.4m3.6 0h1.4m0.6 0h1.4m-6.4 1h1.4m-12.4 1h2.4m6.6 0h1.4m2.6 0h1.4m-8.4 1h1.4m0.6 0h1.4m-3.4 1h1.4m1.6 0h1.4m4.6 0h2.4m-17.4 1h1.4m9.6 0h1.4m-8.4 1h2.4m2.6 0h2.4m7.6 0h1.4m-9.4 1h1.4m0.6 0h1.4m2.6 0h1.4m-14.4 1h1.4m6.6 0h1.4m3.6 0h1.4m-4.4 5h1.4m-13.4 2h1.4m11.6 0h1.4m0.6 0h1.4m-12.4 1h1.4m1.6 0h1.4m3.6 0h1.4m-14.4 1h1.4m0.6 0h1.4m4.6 0h2.4m-7.4 2h1.4m5.6 0h1.4m6.6 0h1.4m-18.4 1h3.4m2.6 0h2.4m6.6 0h1.4m-15.4 1h1.4m-4.4 1h1.4m1.6 1h1.4m9.6 0h1.4m-10.4 3h1.4m2.6 0h1.4m0.6 0h1.4m0.6 0h1.4m-9.4 1h1.4m9.6 0h2.4m-15.4 1h2.4m2.6 0h1.4m6.6 0h1.4m-7.4 1h1.4m1.6 0h1.4m-11.4 1h1.4m3.6 0h1.4m-8.4 1h1.4m15.6 0h1.4m-18.4 1h1.4m-0.4 1h2.4m3.6 2h2.4" stroke="#798899"/><path d="M1 0.5h1.4m-0.4 1h1.4m4.6 0h2.4m3.6 0h1.4m2.6 1h1.4m-17.4 3h1.4m0.6 0h1.4m3.6 0h1.4m1.6 0h1.4m1.6 1h1.4m-3.4 2h1.4m1.6 0h1.4m-13.4 2h1.4m13.6 0h1.4m-18.4 1h1.4m8.6 0h1.4m-8.4 1h1.4m4.6 0h1.4m-10.4 1h2.4m-4.4 1h1.4m8.6 1h1.4m-11.4 1h2.4m13.6 1h1.4m-11.4 1h1.4m5.6 0h1.4m-5.4 1h1.4m-6.4 1h1.4m-5.4 2h2.4m13.6 0h1.4m-14.4 1h1.4m3.6 1h1.4m0.6 0h1.4m-3.4 1h1.4m2.6 1h1.4m-2.4 2h2.4m0.6 0h1.4m0.6 0h2.4m-13.4 1h1.4m-5.4 4h1.4m3.6 0h1.4m7.6 0h1.4m-14.4 1h1.4m6.6 1h1.4m-11.4 1h1.4m1.6 0h1.4m10.6 0h1.4m-15.4 1h1.4m10.6 0h1.4m-8.4 1h1.4m3.6 0h1.4m-7.4 1h1.4m2.6 0h1.4m0.6 0h1.4m2.6 0h1.4m-14.4 1h2.4m0.6 0h1.4m7.6 0h1.4m-7.4 1h1.4m0.6 0h1.4m-1.4 2h1.4m-7.4 1h1.4m1.6 0h1.4m-8.4 1h1.4m4.6 0h1.4m1.6 0h1.4m1.6 0h1.4m-9.4 1h1.4m1.6 0h1.4m-5.4 2h1.4m8.6 0h2.4m-14.4 1h1.4m0.6 0h1.4m0.6 0h1.4m-5.4 1h1.4m5.6 0h2.4m1.6 0h1.4m4.6 0h1.4m-14.4 1h1.4m12.6 0h1.4m-17.4 1h1.4m13.6 0h1.4m-18.4 1h2.4m7.6 0h1.4m3.6 0h1.4m1.6 0h1.4m-17.4 1h1.4m3.6 1h1.4m3.6 0h1.4m-2.4 1h1.4m4.6 0h1.4m-18.4 1h1.4m2.6 0h1.4m3.6 0h1.4m-4.4 1h1.4m3.6 0h1.4m-5.4 1h2.4m-9.4 1h1.4m4.6 0h1.4m3.6 0h1.4m-9.4 1h1.4m4.6 0h1.4m-11.4 1h1.4m4.6 0h2.4m2.6 0h1.4m3.6 0h3.4m-19.4 2h1.4m0.6 2h2.4m2.6 0h1.4m3.6 0h1.4m-10.4 1h1.4m10.6 0h1.4m-5.4 2h1.4m0.6 0h1.4m-4.4 1h2.4m-6.4 2h1.4m8.6 1h1.4m-9.4 1h2.4m7.6 0h1.4m-13.4 1h2.4m8.6 4h1.4m-10.4 1h1.4m0.6 0h1.4m-11.4 2h1.4m8.6 0h1.4m4.6 0h3.4m-13.4 1h1.4m2.6 0h1.4m-11.4 1h1.4m5.6 0h1.4m5.6 0h1.4m-10.4 1h1.4m5.6 0h1.4m3.6 0h1.4m-9.4 2h1.4m-2.4 1h1.4m0.6 0h1.4m-11.4 1h1.4m4.6 0h1.4m1.6 1h3.4m6.6 0h1.4m-12.4 3h1.4m-1.4 1h1.4m4.6 0h1.4m0.6 0h1.4m-15.4 1h1.4m8.6 0h1.4m-13.4 1h1.4m5.6 0h1.4m9.6 0h1.4m-14.4 1h1.4m11.6 0h2.4m-20.4 1h2.4m6.6 0h1.4m8.6 0h1.4m-17.4 1h1.4m5.6 0h1.4m-9.4 1h1.4m9.6 0h1.4m-3.4 1h2.4m-3.4 1h1.4m-2.4 1h1.4m-3.4 2h2.4m2.6 0h1.4m-5.4 2h1.4m2.6 0h2.4m4.6 0h1.4m-14.4 1h1.4m6.6 2h1.4m3.6 0h1.4m-16.4 1h1.4m0.6 0h1.4m0.6 0h1.4m3.6 0h1.4m4.6 1h1.4m-20.4 1h1.4m15.6 0h1.4m-17.4 1h1.4m7.6 0h1.4m1.6 0h1.4m-6.4 2h1.4m3.6 0h1.4m-4.4 1h1.4m1.6 1h1.4m0.6 1h1.4m1.6 0h1.4m-17.4 4h1.4m-0.4 2h2.4m7.6 0h2.4m1.6 0h1.4m-12.4 3h1.4m3.6 0h1.4m5.6 0h1.4m-14.4 1h1.4m11.6 0h1.4m-6.4 1h1.4m0.6 1h1.4m-8.4 1h1.4m3.6 0h1.4m-11.4 1h1.4m0.6 0h1.4m0.6 0h1.4m3.6 0h1.4m-12.4 1h1.4m4.6 0h1.4m-4.4 1h1.4m-4.4 1h1.4m0.6 0h1.4m14.6 0h1.4m-15.4 1h3.4m6.6 1h1.4m-8.4 1h1.4m1.6 0h1.4m6.6 0h1.4m-5.4 1h1.4m2.6 1h1.4m-12.4 1h1.4m5.6 0h2.4m-11.4 1h2.4m1.6 0h1.4m-6.4 1h1.4m0.6 0h1.4m-7.4 1h1.4m5.6 0h1.4m1.6 0h1.4m1.6 2h1.4m-3.4 1h2.4m1.6 0h2.4m-5.4 1h1.4m4.6 0h1.4m-17.4 1h1.4m8.6 0h1.4m0.6 0h1.4m-12.4 1h1.4m4.6 0h2.4m0.6 0h1.4m-13.4 1h1.4m1.6 1h1.4m2.6 0h1.4m5.6 0h1.4m-14.4 1h1.4m4.6 1h1.4m1.6 0h1.4m3.6 0h1.4m-5.4 1h1.4m-13.4 3h1.4m13.6 0h1.4m-15.4 2h1.4m0.6 0h1.4m8.6 0h1.4m2.6 0h1.4m-5.4 1h1.4m0.6 0h1.4m-16.4 1h1.4m11.6 0h1.4m-11.4 1h2.4m8.6 0h1.4m-1.4 2h1.4m2.6 2h1.4m-19.4 2h1.4m13.6 0h1.4m-8.4 1h1.4m3.6 0h1.4m1.6 0h1.4m-15.4 1h1.4m3.6 0h1.4m1.6 0h1.4m-11.4 1h1.4m5.6 0h1.4m6.6 0h1.4m-9.4 2h1.4m10.6 0h1.4m-20.4 1h1.4m6.6 0h1.4m5.6 0h1.4m-15.4 1h1.4m13.6 0h1.4m-3.4 1h1.4m1.6 1h1.4m-6.4 1h1.4m-4.4 1h1.4m2.6 0h1.4m4.6 0h1.4m-18.4 1h1.4m10.6 0h1.4m-10.4 2h2.4m0.6 0h1.4m8.6 2h1.4m-15.4 1h1.4m1.6 0h1.4m-7.4 1h1.4m1.6 0h2.4m5.6 0h1.4m2.6 1h1.4m-5.4 1h1.4m-11.4 2h1.4m-2.4 1h1.4m7.6 0h1.4m5.6 0h1.4m-3.4 2h1.4m-7.4 3h1.4m-6.4 2h1.4m8.6 0h1.4m-15.4 1h1.4m14.6 0h2.4m-9.4 2h2.4m1.6 0h2.4m1.6 0h1.4m-8.4 1h1.4" stroke="#7f919f"/><path d="M1 1.5h1.4m12.6 0h1.4m0.6 0h1.4m-13.4 2h1.4m4.6 0h1.4m2.6 0h1.4m-14.4 1h1.4m6.6 1h1.4m-10.4 1h1.4m-1.4 1h1.4m9.6 2h1.4m-12.4 1h2.4m8.6 0h1.4m-6.4 2h1.4m5.6 0h2.4m2.6 0h1.4m-2.4 2h1.4m-5.4 2h1.4m-11.4 1h1.4m4.6 1h1.4m-8.4 1h1.4m0.6 0h1.4m1.6 3h1.4m-8.4 3h2.4m6.6 0h1.4m2.6 0h1.4m-13.4 1h1.4m9.6 0h1.4m3.6 1h1.4m-6.4 1h1.4m4.6 0h1.4m-18.4 1h1.4m7.6 1h1.4m-5.4 2h1.4m1.6 1h1.4m2.6 0h1.4m-13.4 2h1.4m0.6 0h1.4m10.6 2h1.4m-12.4 1h1.4m0.6 0h1.4m-8.4 3h1.4m4.6 3h1.4m-5.4 1h2.4m2.6 0h1.4m-7.4 2h1.4m4.6 0h1.4m7.6 0h1.4m-9.4 1h1.4m-7.4 2h2.4m6.6 0h1.4m-10.4 2h1.4m6.6 0h1.4m-4.4 1h1.4m4.6 1h1.4m-12.4 1h1.4m6.6 0h1.4m6.6 0h1.4m-13.4 1h1.4m-1.4 1h1.4m-1.4 1h1.4m-7.4 2h1.4m6.6 0h1.4m8.6 0h1.4m-6.4 2h1.4m3.6 2h1.4m-14.4 4h1.4m-3.4 1h1.4m2.6 0h1.4m8.6 0h1.4m-15.4 1h1.4m14.6 0h1.4m-3.4 2h1.4m-3.4 1h1.4m1.6 0h1.4m-14.4 1h1.4m-1.4 1h1.4m0.6 2h1.4m-3.4 4h1.4m-3.4 1h2.4m0.6 0h1.4m3.6 0h1.4m-11.4 2h1.4m6.6 0h1.4m-6.4 1h1.4m9.6 3h1.4m-16.4 2h1.4m4.6 0h1.4m0.6 0h1.4m-2.4 1h1.4m2.6 3h1.4m-4.4 3h1.4m-4.4 1h1.4m4.6 0h1.4m0.6 0h1.4m1.6 0h3.4m-10.4 1h1.4m8.6 0h1.4m-9.4 1h1.4m-1.4 2h1.4m-4.4 1h1.4m1.6 2h1.4m1.6 2h1.4m-8.4 1h1.4m3.6 0h1.4m-12.4 1h1.4m6.6 1h1.4m-5.4 3h1.4m6.6 0h1.4m-9.4 1h1.4m2.6 0h1.4m1.6 2h1.4m-1.4 1h1.4m-8.4 2h1.4m2.6 0h1.4m-0.4 1h1.4m-5.4 2h1.4m-4.4 1h1.4m2.6 0h1.4m3.6 2h1.4m1.6 0h1.4m-4.4 1h1.4m-1.4 2h1.4m-13.4 1h1.4m4.6 0h1.4m4.6 0h2.4m-2.4 1h1.4m-4.4 1h1.4m-0.4 1h1.4m-7.4 1h1.4m4.6 0h1.4m-1.4 3h1.4m-3.4 1h1.4m0.6 0h1.4m3.6 0h2.4m-10.4 1h1.4m1.6 0h1.4m-10.4 1h1.4m4.6 0h1.4m3.6 3h1.4m0.6 1h1.4m0.6 0h1.4m-11.4 1h1.4m11.6 0h1.4m-11.4 1h2.4m-0.4 4h1.4m-0.4 1h1.4m1.6 1h1.4m-10.4 1h1.4m8.6 2h1.4m-13.4 1h1.4m8.6 3h1.4m-3.4 1h1.4m-6.4 1h1.4m6.6 0h1.4m-16.4 1h1.4m5.6 0h1.4m5.6 0h1.4m2.6 0h1.4m-17.4 3h1.4m12.6 0h1.4m-9.4 1h1.4m7.6 0h1.4m-2.4 1h1.4m-3.4 3h1.4m-8.4 1h2.4m1.6 0h1.4m-7.4 2h2.4m7.6 0h1.4m1.6 0h1.4m-8.4 1h1.4m1.6 0h1.4m0.6 0h2.4m-7.4 1h1.4m0.6 0h1.4m4.6 0h1.4m-14.4 1h1.4m9.6 1h1.4m-15.4 1h1.4m2.6 1h1.4m7.6 0h1.4m-1.4 3h1.4m-2.4 1h1.4m-3.4 1h1.4m-2.4 1h2.4m-0.4 1h1.4m-13.4 2h1.4m9.6 0h1.4m0.6 0h1.4m-1.4 1h2.4m-9.4 1h1.4m-9.4 1h2.4m8.6 0h1.4m6.6 0h1.4m-16.4 1h1.4m7.6 1h1.4m-10.4 4h1.4m9.6 0h1.4m-11.4 2h1.4m8.6 0h1.4m0.6 0h2.4m-5.4 3h1.4m-15.4 1h1.4" stroke="#869aa6"/><path d="M14 0.5h1.4m-12.4 5h1.4m-4.4 2h1.4m-1.4 5h1.4m0.6 0h1.4m4.6 0h1.4m6.6 0h1.4m-13.4 2h1.4m0.6 1h1.4m3.6 3h1.4m-8.4 1h1.4m-2.4 1h1.4m-0.4 5h1.4m-5.4 1h1.4m7.6 0h1.4m-4.4 1h1.4m-7.4 5h2.4m1.6 1h1.4m-4.4 3h1.4m11.6 1h2.4m-12.4 1h1.4m2.6 1h1.4m-5.4 4h1.4m4.6 2h1.4m-11.4 4h1.4m0.6 0h1.4m0.6 0h1.4m0.6 1h1.4m-6.4 1h1.4m3.6 2h1.4m5.6 0h1.4m-10.4 2h1.4m11.6 0h1.4m-7.4 1h1.4m-9.4 1h1.4m-2.4 1h1.4m1.6 1h1.4m-0.4 1h1.4m1.6 0h1.4m-5.4 1h1.4m8.6 0h1.4m2.6 0h1.4m-16.4 1h2.4m2.6 0h1.4m-10.4 6h1.4m3.6 4h1.4m-6.4 1h1.4m2.6 0h1.4m1.6 1h1.4m1.6 3h1.4m-0.4 2h1.4m-6.4 2h1.4m6.6 1h1.4m-6.4 1h1.4m-8.4 1h1.4m9.6 0h1.4m0.6 0h1.4m2.6 0h1.4m-20.4 1h1.4m9.6 0h1.4m-8.4 1h1.4m0.6 0h2.4m2.6 2h1.4m-8.4 1h1.4m5.6 2h1.4m-1.4 1h2.4m-3.4 2h1.4m-1.4 2h1.4m-5.4 1h1.4m1.6 0h1.4m1.6 5h1.4m-12.4 1h1.4m5.6 1h1.4m-7.4 4h1.4m4.6 2h1.4m4.6 1h1.4m-4.4 2h1.4m-1.4 3h1.4m0.6 1h1.4m-3.4 1h1.4m0.6 1h1.4m-6.4 1h1.4m1.6 0h1.4m-5.4 2h1.4m1.6 0h1.4m-4.4 3h2.4m1.6 12h1.4m-12.4 1h2.4m11.6 0h1.4m-10.4 5h1.4m10.6 0h1.4m-6.4 1h1.4m-0.4 3h1.4m-14.4 2h1.4m12.6 1h1.4m-7.4 1h1.4m5.6 3h1.4m0.6 0h1.4m-6.4 1h1.4m0.6 0h1.4m1.6 0h1.4m-9.4 1h2.4m-8.4 1h1.4m7.6 1h1.4m-0.4 1h1.4m-1.4 1h1.4m0.6 4h1.4m-1.4 1h1.4m-1.4 4h1.4m-4.4 1h1.4m-11.4 1h1.4m4.6 1h1.4m9.6 1h1.4m-5.4 2h1.4m-3.4 1h1.4m-0.4 1h1.4m-0.4 1h1.4m-16.4 3h1.4m14.6 1h1.4m-1.4 4h1.4m-4.4 4h1.4m3.6 0h1.4m-19.4 6h1.4m10.6 0h1.4m2.6 0h1.4m-11.4 2h2.4" stroke="#8ca2ac"/><path d="M6 1.5h2.4m-8.4 1h1.4m0.6 0h1.4m-2.4 3h1.4m-0.4 2h1.4m12.6 3h1.4m-16.4 1h1.4m-1.4 1h1.4m9.6 0h1.4m-8.4 3h1.4m-1.4 3h1.4m-5.4 2h1.4m-1.4 6h1.4m15.6 2h1.4m-6.4 1h1.4m-11.4 4h1.4m-2.4 4h1.4m6.6 0h2.4m-10.4 6h1.4m1.6 2h1.4m12.6 0h1.4m-12.4 4h1.4m-5.4 1h1.4m4.6 0h1.4m5.6 0h1.4m-16.4 1h1.4m13.6 1h1.4m-13.4 1h1.4m0.6 2h1.4m-4.4 1h1.4m-2.4 2h1.4m0.6 0h1.4m-2.4 2h1.4m2.6 2h1.4m-3.4 4h1.4m-2.4 4h2.4m-1.4 4h1.4m0.6 2h1.4m-1.4 1h1.4m-4.4 5h1.4m0.6 0h1.4m2.6 2h1.4m-3.4 4h1.4m1.6 0h1.4m-6.4 2h1.4m1.6 1h1.4m-1.4 7h1.4m-1.4 2h1.4m-5.4 4h1.4m3.6 0h1.4m-10.4 2h1.4m7.6 1h1.4m-0.4 4h1.4m1.6 0h1.4m0.6 0h2.4m-7.4 2h1.4m2.6 0h1.4m-3.4 3h1.4m-6.4 9h1.4m0.6 4h1.4m-0.4 3h1.4m-3.4 3h1.4m1.6 1h1.4m-12.4 2h1.4m1.6 0h1.4m6.6 3h1.4m-2.4 8h1.4m-6.4 1h1.4m8.6 0h1.4m-4.4 1h1.4m-4.4 1h1.4m-6.4 2h1.4m5.6 0h2.4m-3.4 6h1.4m2.6 5h1.4m-0.4 1h1.4m-15.4 4h1.4m1.6 0h1.4m4.6 3h2.4m-4.4 1h1.4m2.6 0h1.4m-3.4 1h1.4m0.6 1h1.4m-0.4 1h1.4m-1.4 4h1.4m0.6 7h1.4m-5.4 1h1.4m-0.4 1h1.4m-14.4 6h1.4m7.6 2h1.4m2.6 0h1.4" stroke="#93abb2"/><path d="M1 2.5h1.4m1.6 1h1.4m-1.4 4h1.4m7.6 2h1.4m-1.4 3h1.4m-6.4 3h1.4m-7.4 17h1.4m-0.4 5h1.4m1.6 0h1.4m5.6 8h1.4m-9.4 5h1.4m0.6 0h1.4m-1.4 7h1.4m-6.4 2h1.4m10.6 3h1.4m-10.4 11h1.4m9.6 1h1.4m-8.4 8h1.4m-2.4 1h1.4m-1.4 1h1.4m-2.4 1h1.4m1.6 10h1.4m-4.4 2h1.4m6.6 6h1.4m-3.4 5h2.4m-4.4 3h1.4m-1.4 14h1.4m0.6 13h1.4m-2.4 3h1.4m-0.4 4h1.4m-2.4 6h1.4m-1.4 2h1.4m-2.4 3h1.4m1.6 9h1.4m-1.4 10h1.4m-1.4 12h1.4m0.6 3h1.4m-16.4 13h1.4" stroke="#99b4b9"/><path d="M0 1.5h1.4m1.6 6h1.4m-4.4 3h1.4m0.6 4h1.4m1.6 19h1.4m-4.4 3h1.4m-0.4 7h1.4m9.6 2h1.4m-12.4 6h1.4m0.6 5h1.4m-3.4 4h1.4m2.6 1h1.4m-4.4 6h1.4m0.6 1h1.4m-1.4 12h1.4m4.6 4h1.4m-5.4 1h1.4m0.6 0h1.4m-3.4 6h2.4m-1.4 3h1.4m0.6 1h1.4m-3.4 5h1.4m-1.4 4h2.4m-0.4 4h1.4m-2.4 2h1.4m-1.4 1h1.4m2.6 2h1.4m-4.4 4h1.4m-8.4 2h1.4m3.6 3h1.4m-0.4 3h1.4m1.6 12h1.4m-2.4 8h1.4m0.6 15h1.4m-3.4 3h1.4m-0.4 2h1.4m-2.4 9h1.4m-13.4 10h1.4m12.6 4h1.4m-1.4 1h2.4m-1.4 12h1.4" stroke="#9fbdbf"/><path d="M3 18.5h1.4m-2.4 2h1.4m-0.4 5h1.4m0.6 23h1.4m-2.4 10h1.4m-1.4 12h1.4m0.6 3h1.4m1.6 12h1.4m-1.4 26h1.4m0.6 21h1.4m-0.4 4h1.4m-0.4 19h1.4m-0.4 4h1.4m-0.4 7h1.4m-3.4 9h1.4m1.6 28h1.4" stroke="#a6c5c6"/><path d="M5 67.5h1.4m-1.4 19h1.4m6.6 37h1.4m-3.4 13h1.4m1.6 1h1.4m-2.4 16h1.4" stroke="#afcccc"/><path d="M6 52.5h1.4m-2.4 3h2.4m-0.4 18h3.4m2.6 54h1.4m-0.4 26h1.4m0.6 34h4.4m-20.4 17h4.4" stroke="#b9d2d2"/><path d="M4 48.5h1.4m0.6 13h1.4m7.6 119h5.4m-5.4 10h1.4m-1.4 13h1.4" stroke="#c3d9d9"/><path d="M2 21.5h2.4m0.6 0h2.4m-4.4 7h2.4m8.6 134h1.4" stroke="#cddfdf"/><path d="M0 21.5h2.4m1.6 0h1.4m-0.4 7h3.4" stroke="#d7e5e5"/><path d="M7 68.5h1.4m0.6 0h1.4" stroke="#e1ecec"/><path d="M2 24.5h4.4m0.6 0h1.4m-4.4 13h2.4m1.6 31h1.4m2.6 63h3.4m-2.4 13h1.4m-0.4 27h2.4m0.6 13h1.4" stroke="#ebf2f2"/><path d="M0 15.5h1.4m0.6 0h3.4m-4.4 9h1.4m3.6 0h1.4m-7.4 6h3.4m1.6 0h3.4m-4.4 33h6.4m-3.4 26h3.4m-0.4 14h5.4m-2.4 54h7.4m-6.4 27h3.4m0.6 0h2.4m-20.4 15h2.4m0.6 0h4.4m0.6 0h2.4m3.6 0h6.4" stroke="#f5f9f9"/><path d="M1 15.5h1.4m0.6 15h2.4m-3.4 169h1.4m3.6 0h1.4" stroke="#ffffff"/></g></g>
<line x1="604.80" y1="211.30" x2="604.80" y2="534.40" stroke="#000" stroke-width="2.1" stroke-dasharray="6.6 3.56" stroke-dashoffset="3.86"/>
<defs><linearGradient id="bone" x1="0" y1="1" x2="0" y2="0">
<stop offset="0" stop-color="#000000"/><stop offset="0.365" stop-color="#515171"/>
<stop offset="0.746" stop-color="#a6c6c6"/><stop offset="1" stop-color="#ffffff"/></linearGradient></defs>
<rect x="167.4" y="342.5" width="14.2" height="106.6" fill="url(#bone)" stroke="#1a1a1a" stroke-width="1"/>
<text transform="translate(170.24 334.70) scale(1.1137 1)" font-size="13.60" fill="#262626">2</text>
<text transform="translate(165.55 465.00) scale(1.0829 1)" font-size="13.60" fill="#262626">-2</text>
<text transform="translate(35.76 582.04)" font-size="13.30" fill="#262626">0.1</text>
<line x1="60.0" y1="576.9" x2="64.2" y2="576.9" stroke="#262626" stroke-width="1.1"/>
<text transform="translate(35.63 602.34)" font-size="13.30" fill="#262626">0.0</text>
<line x1="60.0" y1="597.2" x2="64.2" y2="597.2" stroke="#262626" stroke-width="1.1"/>
<text x="62.29" y="616.30" font-size="13.30" fill="#262626">-1</text>
<line x1="68.2" y1="597.1" x2="68.2" y2="601.6" stroke="#262626" stroke-width="1.1"/>
<text x="109.50" y="616.30" font-size="13.30" fill="#262626">0</text>
<line x1="113.2" y1="597.1" x2="113.2" y2="601.6" stroke="#262626" stroke-width="1.1"/>
<text x="154.30" y="616.30" font-size="13.30" fill="#262626">1</text>
<line x1="158.0" y1="597.1" x2="158.0" y2="601.6" stroke="#262626" stroke-width="1.1"/>
<path d="M64.2 556.2 V597.1 H158.0" fill="none" stroke="#262626" stroke-width="1.4"/>
<text transform="translate(198.87 572.94)" font-size="13.30" fill="#262626">0.05</text>
<line x1="230.1" y1="567.8" x2="234.3" y2="567.8" stroke="#262626" stroke-width="1.1"/>
<text transform="translate(198.83 585.64)" font-size="13.30" fill="#262626">0.00</text>
<line x1="230.1" y1="580.5" x2="234.3" y2="580.5" stroke="#262626" stroke-width="1.1"/>
<text transform="translate(194.44 598.74)" font-size="13.30" fill="#262626">-0.05</text>
<line x1="230.1" y1="593.6" x2="234.3" y2="593.6" stroke="#262626" stroke-width="1.1"/>
<text x="231.79" y="616.30" font-size="13.30" fill="#262626">-1</text>
<line x1="237.7" y1="597.2" x2="237.7" y2="601.7" stroke="#262626" stroke-width="1.1"/>
<text x="276.40" y="616.30" font-size="13.30" fill="#262626">0</text>
<line x1="280.1" y1="597.2" x2="280.1" y2="601.7" stroke="#262626" stroke-width="1.1"/>
<text x="318.80" y="616.30" font-size="13.30" fill="#262626">1</text>
<line x1="322.5" y1="597.2" x2="322.5" y2="601.7" stroke="#262626" stroke-width="1.1"/>
<path d="M234.3 556.6 V597.2 H322.5" fill="none" stroke="#262626" stroke-width="1.4"/>
<text transform="translate(365.56 563.74)" font-size="13.30" fill="#262626">0.1</text>
<line x1="388.4" y1="558.6" x2="392.6" y2="558.6" stroke="#262626" stroke-width="1.1"/>
<text transform="translate(365.43 586.94)" font-size="13.30" fill="#262626">0.0</text>
<line x1="388.4" y1="581.8" x2="392.6" y2="581.8" stroke="#262626" stroke-width="1.1"/>
<text x="390.69" y="616.30" font-size="13.30" fill="#262626">-1</text>
<line x1="396.6" y1="597.0" x2="396.6" y2="601.5" stroke="#262626" stroke-width="1.1"/>
<text x="437.70" y="616.30" font-size="13.30" fill="#262626">0</text>
<line x1="441.4" y1="597.0" x2="441.4" y2="601.5" stroke="#262626" stroke-width="1.1"/>
<text x="482.60" y="616.30" font-size="13.30" fill="#262626">1</text>
<line x1="486.3" y1="597.0" x2="486.3" y2="601.5" stroke="#262626" stroke-width="1.1"/>
<path d="M392.6 557.3 V597.0 H486.3" fill="none" stroke="#262626" stroke-width="1.4"/>
<text transform="translate(530.56 576.94)" font-size="13.30" fill="#262626">0.1</text>
<line x1="553.6" y1="571.8" x2="557.8" y2="571.8" stroke="#262626" stroke-width="1.1"/>
<text transform="translate(530.43 592.44)" font-size="13.30" fill="#262626">0.0</text>
<line x1="553.6" y1="587.3" x2="557.8" y2="587.3" stroke="#262626" stroke-width="1.1"/>
<text x="556.19" y="616.30" font-size="13.30" fill="#262626">-1</text>
<line x1="562.1" y1="597.0" x2="562.1" y2="601.5" stroke="#262626" stroke-width="1.1"/>
<text x="603.20" y="616.30" font-size="13.30" fill="#262626">0</text>
<line x1="606.9" y1="597.0" x2="606.9" y2="601.5" stroke="#262626" stroke-width="1.1"/>
<text x="648.10" y="616.30" font-size="13.30" fill="#262626">1</text>
<line x1="651.8" y1="597.0" x2="651.8" y2="601.5" stroke="#262626" stroke-width="1.1"/>
<path d="M557.8 556.4 V597.0 H651.8" fill="none" stroke="#262626" stroke-width="1.4"/>
<path d="M68.22 574.33 77.62 559.82 83.14 561.46 91.31 568.61 100.51 577.81 104.60 582.92 108.68 583.94 112.77 582.92 117.88 578.83 126.46 572.09 134.23 576.79 141.38 581.90 147.51 590.07 154.26 595.59" fill="none" stroke="#1f77b4" stroke-width="1.7" stroke-linejoin="round"/>
<path d="M68.22 572.70 77.62 559.01 83.14 562.48 91.31 570.66 99.49 579.85 104.60 583.94 108.68 584.55 112.77 583.33 117.88 579.85 126.46 572.09 134.23 575.15 141.38 580.87 147.51 589.05 154.26 595.18" fill="none" stroke="#bdbdbd" stroke-width="1.7" stroke-linejoin="round"/>
<line x1="113.2" y1="558.9" x2="113.2" y2="597.1" stroke="#000" stroke-width="2" stroke-dasharray="6.8 3.7"/>
<path d="M237.73 574.41 245.84 567.84 255.03 558.43 258.97 558.43 263.35 561.71 272.11 574.41 280.21 590.84 284.15 592.37 292.91 580.98 301.67 570.69 305.61 568.94 314.37 576.16 319.19 576.60" fill="none" stroke="#1f77b4" stroke-width="1.7" stroke-linejoin="round"/>
<path d="M237.73 576.16 245.84 574.85 253.50 577.04 258.97 579.23 264.45 583.61 272.11 590.84 280.21 596.31 284.15 593.68 292.91 583.17 301.67 577.04 305.61 575.51 314.37 577.04 319.19 578.35" fill="none" stroke="#bdbdbd" stroke-width="1.7" stroke-linejoin="round"/>
<line x1="280.1" y1="559.3" x2="280.1" y2="597.2" stroke="#000" stroke-width="2" stroke-dasharray="6.8 3.7"/>
<path d="M396.64 571.28 402.78 566.90 408.91 562.52 415.04 559.02 419.42 559.02 423.80 560.42 429.05 565.15 434.31 572.15 438.69 580.04 441.32 585.64 445.70 589.67 450.08 587.92 455.33 584.94 459.71 584.42 464.09 581.26 467.60 580.91 471.10 582.67 474.60 585.29 478.11 586.35 482.49 584.42" fill="none" stroke="#1f77b4" stroke-width="1.7" stroke-linejoin="round"/>
<path d="M396.64 577.06 401.02 575.13 405.93 573.38 410.66 574.43 415.04 573.91 420.29 575.66 425.55 579.16 430.81 582.67 436.06 587.05 440.44 591.43 444.82 594.93 447.45 595.28 451.83 593.18 457.08 590.20 462.34 586.70 467.60 583.89 471.10 582.14 476.36 583.19 482.49 582.67" fill="none" stroke="#bdbdbd" stroke-width="1.7" stroke-linejoin="round"/>
<line x1="441.4" y1="560.0" x2="441.4" y2="597.0" stroke="#000" stroke-width="2" stroke-dasharray="6.8 3.7"/>
<path d="M561.99 576.53 566.90 571.28 571.28 566.37 575.66 564.27 580.04 560.42 584.42 558.14 588.80 559.37 593.18 563.40 597.56 570.40 601.06 579.16 604.57 587.05 607.19 591.95 610.70 594.05 615.08 592.30 620.33 587.05 625.59 580.91 629.97 577.06 634.35 576.53 639.60 577.94 643.98 580.04 648.36 582.14" fill="none" stroke="#1f77b4" stroke-width="1.7" stroke-linejoin="round"/>
<path d="M561.99 580.39 566.90 577.41 571.28 575.13 575.66 576.53 580.04 578.64 585.29 581.44 590.55 584.94 595.81 588.80 601.06 592.30 605.44 594.40 609.82 594.93 614.20 594.05 618.58 591.43 623.84 587.05 629.09 582.67 633.47 580.39 637.85 579.34 642.23 580.91 648.36 582.67" fill="none" stroke="#bdbdbd" stroke-width="1.7" stroke-linejoin="round"/>
<line x1="606.9" y1="559.1" x2="606.9" y2="597.0" stroke="#000" stroke-width="2" stroke-dasharray="6.8 3.7"/>
<text transform="translate(89.88 551.00) scale(1.0906 1)" font-size="10.00" fill="#111">ns</text>
<path d="M263.10 542.90L263.10 547.90M260.93 544.15L265.27 546.65M265.27 544.15L260.93 546.65" stroke="#111" stroke-width="1.15"/>
<path d="M417.50 542.10L417.50 547.10M415.33 543.35L419.67 545.85M419.67 543.35L415.33 545.85" stroke="#111" stroke-width="1.15"/>
<path d="M423.40 542.10L423.40 547.10M421.23 543.35L425.57 545.85M425.57 543.35L421.23 545.85" stroke="#111" stroke-width="1.15"/>
<path d="M582.00 543.70L582.00 548.70M579.83 544.95L584.17 547.45M584.17 544.95L579.83 547.45" stroke="#111" stroke-width="1.15"/>
<path d="M587.90 543.70L587.90 548.70M585.73 544.95L590.07 547.45M590.07 544.95L585.73 547.45" stroke="#111" stroke-width="1.15"/>
<path d="M593.80 543.70L593.80 548.70M591.63 544.95L595.97 547.45M595.97 544.95L591.63 547.45" stroke="#111" stroke-width="1.15"/>
<line x1="614.8" y1="551.6" x2="627.3" y2="551.6" stroke="#1f77b4" stroke-width="1.8"/>
<line x1="614.8" y1="560.4" x2="627.3" y2="560.4" stroke="#bdbdbd" stroke-width="1.8"/>
<text transform="translate(631.89 554.60) scale(1.0892 1)" font-size="10.20" fill="#000">Non-match</text>
<text transform="translate(631.86 564.30) scale(1.1265 1)" font-size="10.20" fill="#000">Match</text>
<text transform="translate(17.51 694.40) scale(0.9689 1)" font-size="16.00" fill="#000">C.</text>
<text transform="translate(89.64 695.20) scale(1.0271 1)" font-size="16.20" fill="#000">Non-match A</text>
<text transform="translate(302.83 693.30) scale(1.0341 1)" font-size="16.20" fill="#000">Non-match B</text>
<text transform="translate(541.56 693.40) scale(1.0104 1)" font-size="16.20" fill="#000">Non-match A’</text>
<text transform="translate(10.60 831.28) rotate(-90) scale(1.0199 1)" font-size="15.30" fill="#000">Non-match rule</text>
<text transform="translate(29.00 851.71) rotate(-90) scale(1.0201 1)" font-size="14.60" fill="#000">selective neurons  (%)</text>
<text transform="translate(48.67 845.78)" font-size="13.40" fill="#262626">0</text>
<line x1="60.4" y1="841.1" x2="64.9" y2="841.1" stroke="#262626" stroke-width="1.2"/>
<text transform="translate(41.22 810.18)" font-size="13.40" fill="#262626">10</text>
<line x1="60.4" y1="805.5" x2="64.9" y2="805.5" stroke="#262626" stroke-width="1.2"/>
<text transform="translate(41.22 774.58)" font-size="13.40" fill="#262626">20</text>
<line x1="60.4" y1="769.9" x2="64.9" y2="769.9" stroke="#262626" stroke-width="1.2"/>
<text transform="translate(41.22 738.98)" font-size="13.40" fill="#262626">30</text>
<line x1="60.4" y1="734.3" x2="64.9" y2="734.3" stroke="#262626" stroke-width="1.2"/>
<text transform="translate(41.22 703.38)" font-size="13.40" fill="#262626">40</text>
<line x1="60.4" y1="698.7" x2="64.9" y2="698.7" stroke="#262626" stroke-width="1.2"/>
<rect x="69.80" y="824.61" width="14.80" height="16.49" fill="#1f77b4" stroke="#111" stroke-width="1.2"/>
<rect x="100.70" y="792.57" width="14.40" height="48.53" fill="#1f77b4" stroke="#111" stroke-width="1.2"/>
<rect x="130.90" y="799.69" width="14.50" height="41.41" fill="#1f77b4" stroke="#111" stroke-width="1.2"/>
<rect x="161.10" y="774.77" width="14.60" height="66.33" fill="#1f77b4" stroke="#111" stroke-width="1.2"/>
<rect x="191.30" y="746.29" width="14.60" height="94.81" fill="#1f77b4" stroke="#111" stroke-width="1.2"/>
<path d="M64.9 698.7 V841.1 H211.5" fill="none" stroke="#262626" stroke-width="1.5"/>
<g transform="translate(72.10 862.9) rotate(13)"><text x="-0.6" y="0" font-size="11.8" font-style="italic" fill="#111">1<tspan font-size="8.9" dx="0.9" dy="-2.0">st</tspan></text></g>
<g transform="translate(101.50 862.9) rotate(13)"><text x="-0.6" y="0" font-size="11.8" font-style="italic" fill="#111">2<tspan font-size="8.9" dx="0.9" dy="-2.0">nd</tspan></text></g>
<g transform="translate(131.75 862.9) rotate(13)"><text x="-0.6" y="0" font-size="11.8" font-style="italic" fill="#111">3<tspan font-size="8.9" dx="0.9" dy="-2.0">rd</tspan></text></g>
<g transform="translate(162.00 862.9) rotate(13)"><text x="-0.6" y="0" font-size="11.8" font-style="italic" fill="#111">4<tspan font-size="8.9" dx="0.9" dy="-2.0">th</tspan></text></g>
<g transform="translate(197.00 864.5) rotate(28)"><text x="-8.8" y="0" font-size="11" font-style="italic" fill="#111">Last</text></g>
<text transform="translate(81.17 889.50) scale(1.0368 1)" font-size="14.20" fill="#000">Training sessions</text>
<text transform="translate(264.27 845.78)" font-size="13.40" fill="#262626">0</text>
<line x1="276.4" y1="841.1" x2="280.9" y2="841.1" stroke="#262626" stroke-width="1.2"/>
<text transform="translate(256.82 810.18)" font-size="13.40" fill="#262626">10</text>
<line x1="276.4" y1="805.5" x2="280.9" y2="805.5" stroke="#262626" stroke-width="1.2"/>
<text transform="translate(256.82 774.58)" font-size="13.40" fill="#262626">20</text>
<line x1="276.4" y1="769.9" x2="280.9" y2="769.9" stroke="#262626" stroke-width="1.2"/>
<text transform="translate(256.82 738.98)" font-size="13.40" fill="#262626">30</text>
<line x1="276.4" y1="734.3" x2="280.9" y2="734.3" stroke="#262626" stroke-width="1.2"/>
<text transform="translate(256.82 703.38)" font-size="13.40" fill="#262626">40</text>
<line x1="276.4" y1="698.7" x2="280.9" y2="698.7" stroke="#262626" stroke-width="1.2"/>
<rect x="291.70" y="754.12" width="13.50" height="86.98" fill="#1f77b4" stroke="#111" stroke-width="1.2"/>
<rect x="321.00" y="745.58" width="13.20" height="95.52" fill="#1f77b4" stroke="#111" stroke-width="1.2"/>
<rect x="349.90" y="745.94" width="13.90" height="95.16" fill="#1f77b4" stroke="#111" stroke-width="1.2"/>
<rect x="379.10" y="760.89" width="13.90" height="80.21" fill="#1f77b4" stroke="#111" stroke-width="1.2"/>
<rect x="408.00" y="756.26" width="14.20" height="84.84" fill="#1f77b4" stroke="#111" stroke-width="1.2"/>
<path d="M280.9 698.7 V841.1 H426.5" fill="none" stroke="#262626" stroke-width="1.5"/>
<g transform="translate(293.35 862.9) rotate(13)"><text x="-0.6" y="0" font-size="11.8" font-style="italic" fill="#111">1<tspan font-size="8.9" dx="0.9" dy="-2.0">st</tspan></text></g>
<g transform="translate(321.20 862.9) rotate(13)"><text x="-0.6" y="0" font-size="11.8" font-style="italic" fill="#111">2<tspan font-size="8.9" dx="0.9" dy="-2.0">nd</tspan></text></g>
<g transform="translate(350.45 862.9) rotate(13)"><text x="-0.6" y="0" font-size="11.8" font-style="italic" fill="#111">3<tspan font-size="8.9" dx="0.9" dy="-2.0">rd</tspan></text></g>
<g transform="translate(379.65 862.9) rotate(13)"><text x="-0.6" y="0" font-size="11.8" font-style="italic" fill="#111">4<tspan font-size="8.9" dx="0.9" dy="-2.0">th</tspan></text></g>
<g transform="translate(413.50 864.5) rotate(28)"><text x="-8.8" y="0" font-size="11" font-style="italic" fill="#111">Last</text></g>
<text transform="translate(298.67 889.50) scale(1.0487 1)" font-size="14.20" fill="#000">Training sessions</text>
<text transform="translate(495.97 845.78)" font-size="13.40" fill="#262626">0</text>
<line x1="508.2" y1="841.1" x2="512.7" y2="841.1" stroke="#262626" stroke-width="1.2"/>
<text transform="translate(488.52 810.18)" font-size="13.40" fill="#262626">10</text>
<line x1="508.2" y1="805.5" x2="512.7" y2="805.5" stroke="#262626" stroke-width="1.2"/>
<text transform="translate(488.52 774.58)" font-size="13.40" fill="#262626">20</text>
<line x1="508.2" y1="769.9" x2="512.7" y2="769.9" stroke="#262626" stroke-width="1.2"/>
<text transform="translate(488.52 738.98)" font-size="13.40" fill="#262626">30</text>
<line x1="508.2" y1="734.3" x2="512.7" y2="734.3" stroke="#262626" stroke-width="1.2"/>
<text transform="translate(488.52 703.38)" font-size="13.40" fill="#262626">40</text>
<line x1="508.2" y1="698.7" x2="512.7" y2="698.7" stroke="#262626" stroke-width="1.2"/>
<rect x="522.80" y="775.48" width="14.20" height="65.62" fill="#1f77b4" stroke="#111" stroke-width="1.2"/>
<rect x="552.80" y="727.78" width="13.40" height="113.32" fill="#1f77b4" stroke="#111" stroke-width="1.2"/>
<rect x="581.60" y="781.18" width="13.80" height="59.92" fill="#1f77b4" stroke="#111" stroke-width="1.2"/>
<rect x="610.60" y="759.46" width="14.00" height="81.64" fill="#1f77b4" stroke="#111" stroke-width="1.2"/>
<rect x="639.60" y="762.67" width="14.30" height="78.43" fill="#1f77b4" stroke="#111" stroke-width="1.2"/>
<path d="M512.7 698.7 V841.1 H658.8" fill="none" stroke="#262626" stroke-width="1.5"/>
<g transform="translate(524.80 862.9) rotate(13)"><text x="-0.6" y="0" font-size="11.8" font-style="italic" fill="#111">1<tspan font-size="8.9" dx="0.9" dy="-2.0">st</tspan></text></g>
<g transform="translate(553.10 862.9) rotate(13)"><text x="-0.6" y="0" font-size="11.8" font-style="italic" fill="#111">2<tspan font-size="8.9" dx="0.9" dy="-2.0">nd</tspan></text></g>
<g transform="translate(582.10 862.9) rotate(13)"><text x="-0.6" y="0" font-size="11.8" font-style="italic" fill="#111">3<tspan font-size="8.9" dx="0.9" dy="-2.0">rd</tspan></text></g>
<g transform="translate(611.20 862.9) rotate(13)"><text x="-0.6" y="0" font-size="11.8" font-style="italic" fill="#111">4<tspan font-size="8.9" dx="0.9" dy="-2.0">th</tspan></text></g>
<g transform="translate(645.15 864.5) rotate(28)"><text x="-8.8" y="0" font-size="11" font-style="italic" fill="#111">Last</text></g>
<text transform="translate(531.27 889.50) scale(1.0469 1)" font-size="14.20" fill="#000">Training sessions</text>
</svg></body></html>
